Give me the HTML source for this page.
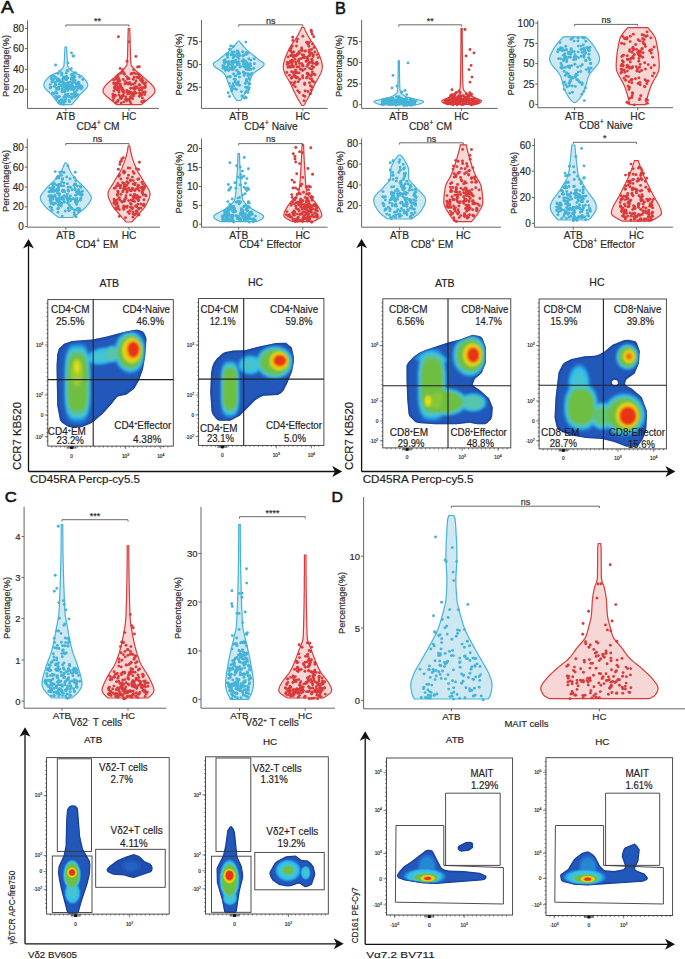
<!DOCTYPE html><html><head><meta charset="utf-8"><style>html,body{margin:0;padding:0;background:#fff;width:685px;height:959px;overflow:hidden}svg text{stroke:#2a2a2a;stroke-width:0.18px}</style></head><body><svg width="685" height="959" viewBox="0 0 685 959" style="position:absolute;left:0;top:0;font-family:'Liberation Sans', sans-serif">
<rect width="685" height="959" fill="#fff"/>
<text x="0" y="0" font-size="16.6" fill="#111" style="stroke:#111;stroke-width:0.55px" transform="translate(0.90 13.4) scale(1.151 1)">A</text>
<text x="0" y="0" font-size="16.8" fill="#111" style="stroke:#111;stroke-width:0.55px" transform="translate(335.00 13.6) scale(0.967 1)">B</text>
<text x="0" y="0" font-size="15.4" fill="#111" style="stroke:#111;stroke-width:0.55px" transform="translate(4.70 502.3) scale(1.082 1)">C</text>
<text x="0" y="0" font-size="15.2" fill="#111" style="stroke:#111;stroke-width:0.55px" transform="translate(331.50 501.5) scale(1.042 1)">D</text>
<path d="M27.5,20.4 L27.5,108.4 L159,108.4" fill="none" stroke="#555" stroke-width="0.9"/>
<line x1="25.0" y1="28.5" x2="27.5" y2="28.5" stroke="#555" stroke-width="0.9"/>
<text x="24.0" y="32.0" font-size="10" text-anchor="end" fill="#2b2b2b" >80</text>
<line x1="25.0" y1="48.6" x2="27.5" y2="48.6" stroke="#555" stroke-width="0.9"/>
<text x="24.0" y="52.1" font-size="10" text-anchor="end" fill="#2b2b2b" >60</text>
<line x1="25.0" y1="69.4" x2="27.5" y2="69.4" stroke="#555" stroke-width="0.9"/>
<text x="24.0" y="72.9" font-size="10" text-anchor="end" fill="#2b2b2b" >40</text>
<line x1="25.0" y1="89.3" x2="27.5" y2="89.3" stroke="#555" stroke-width="0.9"/>
<text x="24.0" y="92.8" font-size="10" text-anchor="end" fill="#2b2b2b" >20</text>
<text x="8.5" y="66.0" font-size="9.3" text-anchor="middle" fill="#2b2b2b" transform="rotate(-90 8.5 66.0)" >Percentage(%)</text>
<line x1="65.8" y1="108.4" x2="65.8" y2="110.9" stroke="#555" stroke-width="0.9"/>
<path d="M65.0,47.0 L65.0,48.0 L64.9,49.0 L64.9,49.9 L64.8,50.9 L64.8,51.9 L64.7,52.9 L64.7,53.8 L64.6,54.8 L64.6,55.8 L64.5,56.8 L64.5,57.8 L64.4,58.7 L64.4,59.7 L64.3,60.7 L64.3,61.7 L64.2,62.6 L64.1,63.6 L64.0,64.6 L63.9,65.6 L63.7,66.6 L63.1,67.5 L62.4,68.5 L61.4,69.5 L60.4,70.5 L59.2,71.4 L57.6,72.4 L55.5,73.4 L53.3,74.4 L51.3,75.4 L49.6,76.3 L48.5,77.3 L47.6,78.3 L46.7,79.3 L45.9,80.3 L45.2,81.2 L44.6,82.2 L44.2,83.2 L43.9,84.2 L43.8,85.1 L44.0,86.1 L44.4,87.1 L45.1,88.1 L45.9,89.1 L46.8,90.0 L47.8,91.0 L48.9,92.0 L49.9,93.0 L50.9,93.9 L51.7,94.9 L52.5,95.9 L53.3,96.9 L54.1,97.9 L54.9,98.8 L55.7,99.8 L56.5,100.8 L57.4,101.8 L58.2,102.7 L59.0,103.7 L59.8,104.7 L71.8,104.7 L72.6,103.7 L73.4,102.7 L74.2,101.8 L75.1,100.8 L75.9,99.8 L76.7,98.8 L77.5,97.9 L78.3,96.9 L79.1,95.9 L79.9,94.9 L80.7,93.9 L81.7,93.0 L82.7,92.0 L83.8,91.0 L84.8,90.0 L85.7,89.1 L86.5,88.1 L87.2,87.1 L87.6,86.1 L87.8,85.1 L87.7,84.2 L87.4,83.2 L87.0,82.2 L86.4,81.2 L85.7,80.3 L84.9,79.3 L84.0,78.3 L83.1,77.3 L82.0,76.3 L80.3,75.4 L78.3,74.4 L76.1,73.4 L74.0,72.4 L72.4,71.4 L71.2,70.5 L70.2,69.5 L69.2,68.5 L68.5,67.5 L67.9,66.6 L67.7,65.6 L67.6,64.6 L67.5,63.6 L67.4,62.6 L67.3,61.7 L67.3,60.7 L67.2,59.7 L67.2,58.7 L67.1,57.8 L67.1,56.8 L67.0,55.8 L67.0,54.8 L66.9,53.8 L66.9,52.9 L66.8,51.9 L66.8,50.9 L66.7,49.9 L66.7,49.0 L66.6,48.0 L66.6,47.0Z" fill="#cde8f1" stroke="#45b3d8" stroke-width="1.2"/>
<g fill="#45b3d8"><circle cx="56.5" cy="88.1" r="1.45"/><circle cx="57.5" cy="97.6" r="1.45"/><circle cx="52.4" cy="92.9" r="1.45"/><circle cx="65.9" cy="79.5" r="1.45"/><circle cx="53.0" cy="80.4" r="1.45"/><circle cx="58.4" cy="96.7" r="1.45"/><circle cx="73.7" cy="56.0" r="1.45"/><circle cx="65.4" cy="94.6" r="1.45"/><circle cx="56.9" cy="93.2" r="1.45"/><circle cx="71.6" cy="85.4" r="1.45"/><circle cx="57.8" cy="80.4" r="1.45"/><circle cx="66.7" cy="79.7" r="1.45"/><circle cx="58.4" cy="79.1" r="1.45"/><circle cx="66.3" cy="83.9" r="1.45"/><circle cx="70.2" cy="85.2" r="1.45"/><circle cx="67.0" cy="86.1" r="1.45"/><circle cx="63.5" cy="104.4" r="1.45"/><circle cx="74.5" cy="92.2" r="1.45"/><circle cx="78.5" cy="88.4" r="1.45"/><circle cx="58.7" cy="102.9" r="1.45"/><circle cx="53.4" cy="79.1" r="1.45"/><circle cx="54.4" cy="76.5" r="1.45"/><circle cx="82.1" cy="87.6" r="1.45"/><circle cx="75.5" cy="72.6" r="1.45"/><circle cx="59.9" cy="71.1" r="1.45"/><circle cx="81.8" cy="86.3" r="1.45"/><circle cx="55.9" cy="85.0" r="1.45"/><circle cx="65.9" cy="98.4" r="1.45"/><circle cx="65.7" cy="87.9" r="1.45"/><circle cx="79.9" cy="85.9" r="1.45"/><circle cx="50.2" cy="84.6" r="1.45"/><circle cx="59.5" cy="80.2" r="1.45"/><circle cx="68.0" cy="62.9" r="1.45"/><circle cx="51.2" cy="78.8" r="1.45"/><circle cx="56.8" cy="89.2" r="1.45"/><circle cx="64.7" cy="78.1" r="1.45"/><circle cx="78.7" cy="82.3" r="1.45"/><circle cx="71.5" cy="52.9" r="1.45"/><circle cx="74.3" cy="94.5" r="1.45"/><circle cx="74.0" cy="77.6" r="1.45"/><circle cx="72.9" cy="80.0" r="1.45"/><circle cx="73.6" cy="97.0" r="1.45"/><circle cx="72.0" cy="86.1" r="1.45"/><circle cx="72.0" cy="94.4" r="1.45"/><circle cx="59.1" cy="89.1" r="1.45"/><circle cx="55.7" cy="92.0" r="1.45"/><circle cx="71.6" cy="74.4" r="1.45"/><circle cx="54.4" cy="86.5" r="1.45"/><circle cx="80.1" cy="85.8" r="1.45"/><circle cx="68.1" cy="96.2" r="1.45"/><circle cx="60.0" cy="81.8" r="1.45"/><circle cx="80.6" cy="87.9" r="1.45"/><circle cx="58.2" cy="73.4" r="1.45"/><circle cx="66.3" cy="83.5" r="1.45"/><circle cx="51.9" cy="82.0" r="1.45"/><circle cx="79.7" cy="76.7" r="1.45"/><circle cx="67.8" cy="94.1" r="1.45"/><circle cx="76.1" cy="83.5" r="1.45"/><circle cx="61.0" cy="103.0" r="1.45"/><circle cx="76.1" cy="86.9" r="1.45"/><circle cx="72.7" cy="87.0" r="1.45"/><circle cx="70.7" cy="88.9" r="1.45"/><circle cx="81.1" cy="89.1" r="1.45"/><circle cx="63.8" cy="77.0" r="1.45"/><circle cx="62.9" cy="84.9" r="1.45"/><circle cx="72.3" cy="79.3" r="1.45"/><circle cx="77.2" cy="82.9" r="1.45"/><circle cx="61.7" cy="75.0" r="1.45"/><circle cx="69.5" cy="101.8" r="1.45"/><circle cx="56.3" cy="78.2" r="1.45"/><circle cx="67.6" cy="89.2" r="1.45"/><circle cx="75.0" cy="80.4" r="1.45"/><circle cx="55.8" cy="96.4" r="1.45"/><circle cx="73.5" cy="89.8" r="1.45"/><circle cx="51.9" cy="76.2" r="1.45"/><circle cx="77.6" cy="94.7" r="1.45"/><circle cx="65.1" cy="100.0" r="1.45"/><circle cx="63.8" cy="97.0" r="1.45"/><circle cx="73.3" cy="86.7" r="1.45"/><circle cx="66.5" cy="76.5" r="1.45"/><circle cx="73.3" cy="78.2" r="1.45"/><circle cx="56.7" cy="98.1" r="1.45"/><circle cx="67.9" cy="87.0" r="1.45"/><circle cx="67.7" cy="77.9" r="1.45"/><circle cx="75.9" cy="96.3" r="1.45"/><circle cx="50.1" cy="88.0" r="1.45"/><circle cx="64.2" cy="87.5" r="1.45"/><circle cx="70.3" cy="82.1" r="1.45"/><circle cx="67.5" cy="83.0" r="1.45"/><circle cx="51.4" cy="78.9" r="1.45"/><circle cx="67.9" cy="70.6" r="1.45"/><circle cx="59.5" cy="96.8" r="1.45"/><circle cx="55.4" cy="84.4" r="1.45"/><circle cx="78.7" cy="86.2" r="1.45"/><circle cx="55.5" cy="82.1" r="1.45"/><circle cx="64.4" cy="91.7" r="1.45"/><circle cx="71.3" cy="68.6" r="1.45"/><circle cx="72.8" cy="82.6" r="1.45"/><circle cx="67.0" cy="70.8" r="1.45"/><circle cx="74.3" cy="75.9" r="1.45"/><circle cx="65.0" cy="101.9" r="1.45"/><circle cx="69.9" cy="88.4" r="1.45"/><circle cx="76.6" cy="84.2" r="1.45"/><circle cx="71.9" cy="86.5" r="1.45"/><circle cx="69.1" cy="96.5" r="1.45"/><circle cx="62.6" cy="82.3" r="1.45"/><circle cx="67.8" cy="87.3" r="1.45"/><circle cx="62.3" cy="89.0" r="1.45"/><circle cx="74.1" cy="82.3" r="1.45"/><circle cx="61.7" cy="86.3" r="1.45"/><circle cx="64.7" cy="91.5" r="1.45"/><circle cx="71.4" cy="97.4" r="1.45"/><circle cx="65.9" cy="77.0" r="1.45"/><circle cx="62.2" cy="99.6" r="1.45"/><circle cx="73.0" cy="56.0" r="1.45"/><circle cx="62.0" cy="91.1" r="1.45"/><circle cx="75.6" cy="93.1" r="1.45"/><circle cx="74.5" cy="77.0" r="1.45"/><circle cx="64.0" cy="84.0" r="1.45"/><circle cx="71.5" cy="94.1" r="1.45"/><circle cx="55.6" cy="65.0" r="1.45"/><circle cx="62.1" cy="89.1" r="1.45"/><circle cx="75.7" cy="93.5" r="1.45"/><circle cx="68.5" cy="86.2" r="1.45"/><circle cx="67.7" cy="90.6" r="1.45"/><circle cx="71.4" cy="79.3" r="1.45"/><circle cx="71.5" cy="77.9" r="1.45"/><circle cx="68.6" cy="82.8" r="1.45"/><circle cx="63.2" cy="78.2" r="1.45"/><circle cx="55.0" cy="82.5" r="1.45"/><circle cx="61.2" cy="100.0" r="1.45"/><circle cx="58.8" cy="86.9" r="1.45"/><circle cx="63.4" cy="81.9" r="1.45"/><circle cx="82.8" cy="79.5" r="1.45"/><circle cx="62.6" cy="100.9" r="1.45"/><circle cx="64.0" cy="84.4" r="1.45"/><circle cx="63.0" cy="102.4" r="1.45"/><circle cx="68.6" cy="85.8" r="1.45"/><circle cx="81.0" cy="86.3" r="1.45"/><circle cx="74.5" cy="97.0" r="1.45"/><circle cx="62.0" cy="91.9" r="1.45"/><circle cx="57.9" cy="87.9" r="1.45"/><circle cx="78.9" cy="83.7" r="1.45"/><circle cx="65.7" cy="95.7" r="1.45"/><circle cx="72.1" cy="84.0" r="1.45"/><circle cx="56.4" cy="99.3" r="1.45"/><circle cx="73.9" cy="73.2" r="1.45"/><circle cx="59.4" cy="84.2" r="1.45"/><circle cx="65.6" cy="86.4" r="1.45"/><circle cx="59.2" cy="100.9" r="1.45"/><circle cx="63.1" cy="79.2" r="1.45"/><circle cx="75.3" cy="92.8" r="1.45"/><circle cx="76.8" cy="90.3" r="1.45"/><circle cx="64.9" cy="90.1" r="1.45"/><circle cx="74.9" cy="87.8" r="1.45"/><circle cx="64.9" cy="101.9" r="1.45"/><circle cx="61.5" cy="81.6" r="1.45"/><circle cx="67.4" cy="83.7" r="1.45"/><circle cx="56.1" cy="78.0" r="1.45"/><circle cx="61.8" cy="73.3" r="1.45"/><circle cx="72.6" cy="78.4" r="1.45"/><circle cx="71.8" cy="98.6" r="1.45"/><circle cx="53.9" cy="94.0" r="1.45"/><circle cx="72.1" cy="75.6" r="1.45"/><circle cx="76.6" cy="87.0" r="1.45"/><circle cx="63.9" cy="84.7" r="1.45"/><circle cx="50.9" cy="87.2" r="1.45"/><circle cx="72.0" cy="89.4" r="1.45"/><circle cx="57.2" cy="81.1" r="1.45"/><circle cx="69.0" cy="100.4" r="1.45"/><circle cx="61.6" cy="85.5" r="1.45"/><circle cx="70.5" cy="89.0" r="1.45"/><circle cx="57.6" cy="89.2" r="1.45"/><circle cx="65.1" cy="77.5" r="1.45"/><circle cx="66.3" cy="73.1" r="1.45"/></g>
<text x="65.8" y="120.3" font-size="10.2" text-anchor="middle" fill="#2b2b2b" >ATB</text>
<line x1="129" y1="108.4" x2="129" y2="110.9" stroke="#555" stroke-width="0.9"/>
<path d="M128.2,28.5 L128.2,29.8 L128.2,31.1 L128.1,32.4 L128.1,33.7 L128.1,35.0 L128.0,36.2 L128.0,37.5 L128.0,38.8 L127.9,40.1 L127.9,41.4 L127.9,42.7 L127.8,44.0 L127.8,45.3 L127.8,46.6 L127.7,47.9 L127.7,49.2 L127.7,50.5 L127.6,51.7 L127.6,53.0 L127.6,54.3 L127.5,55.6 L127.5,56.9 L127.4,58.2 L127.3,59.5 L127.3,60.8 L127.2,62.1 L127.1,63.4 L126.9,64.7 L126.3,66.0 L125.4,67.2 L124.3,68.5 L123.1,69.8 L121.9,71.1 L120.2,72.4 L118.5,73.7 L117.0,75.0 L115.6,76.3 L114.1,77.6 L112.6,78.9 L111.1,80.2 L109.6,81.5 L108.2,82.7 L106.9,84.0 L105.7,85.3 L104.7,86.6 L103.9,87.9 L103.3,89.2 L103.0,90.5 L103.1,91.8 L103.7,93.1 L104.7,94.4 L106.0,95.7 L107.4,97.0 L109.0,98.2 L110.5,99.5 L111.9,100.8 L113.5,102.1 L115.2,103.4 L117.0,104.7 L141.0,104.7 L142.8,103.4 L144.5,102.1 L146.1,100.8 L147.5,99.5 L149.0,98.2 L150.6,97.0 L152.0,95.7 L153.3,94.4 L154.3,93.1 L154.9,91.8 L155.0,90.5 L154.7,89.2 L154.1,87.9 L153.3,86.6 L152.3,85.3 L151.1,84.0 L149.8,82.7 L148.4,81.5 L146.9,80.2 L145.4,78.9 L143.9,77.6 L142.4,76.3 L141.0,75.0 L139.5,73.7 L137.8,72.4 L136.1,71.1 L134.9,69.8 L133.7,68.5 L132.6,67.2 L131.7,66.0 L131.1,64.7 L130.9,63.4 L130.8,62.1 L130.7,60.8 L130.7,59.5 L130.6,58.2 L130.5,56.9 L130.5,55.6 L130.4,54.3 L130.4,53.0 L130.4,51.7 L130.3,50.5 L130.3,49.2 L130.3,47.9 L130.2,46.6 L130.2,45.3 L130.2,44.0 L130.1,42.7 L130.1,41.4 L130.1,40.1 L130.0,38.8 L130.0,37.5 L130.0,36.2 L129.9,35.0 L129.9,33.7 L129.9,32.4 L129.8,31.1 L129.8,29.8 L129.8,28.5Z" fill="#f7d6d6" stroke="#d93a3a" stroke-width="1.2"/>
<g fill="#d93a3a"><circle cx="119.0" cy="92.2" r="1.45"/><circle cx="136.1" cy="81.0" r="1.45"/><circle cx="116.0" cy="102.7" r="1.45"/><circle cx="120.3" cy="84.0" r="1.45"/><circle cx="144.7" cy="84.2" r="1.45"/><circle cx="142.5" cy="82.1" r="1.45"/><circle cx="132.0" cy="73.5" r="1.45"/><circle cx="115.2" cy="87.1" r="1.45"/><circle cx="122.8" cy="95.2" r="1.45"/><circle cx="112.9" cy="94.2" r="1.45"/><circle cx="119.5" cy="81.0" r="1.45"/><circle cx="116.7" cy="77.2" r="1.45"/><circle cx="116.3" cy="84.5" r="1.45"/><circle cx="133.5" cy="95.9" r="1.45"/><circle cx="115.4" cy="88.7" r="1.45"/><circle cx="118.1" cy="100.3" r="1.45"/><circle cx="142.7" cy="92.5" r="1.45"/><circle cx="123.4" cy="92.0" r="1.45"/><circle cx="123.3" cy="95.8" r="1.45"/><circle cx="114.9" cy="95.2" r="1.45"/><circle cx="139.1" cy="84.6" r="1.45"/><circle cx="135.0" cy="83.1" r="1.45"/><circle cx="130.6" cy="88.2" r="1.45"/><circle cx="133.0" cy="88.2" r="1.45"/><circle cx="118.2" cy="77.8" r="1.45"/><circle cx="120.9" cy="87.2" r="1.45"/><circle cx="131.8" cy="92.8" r="1.45"/><circle cx="141.9" cy="78.4" r="1.45"/><circle cx="137.3" cy="77.2" r="1.45"/><circle cx="133.3" cy="79.2" r="1.45"/><circle cx="129.6" cy="82.8" r="1.45"/><circle cx="116.0" cy="102.6" r="1.45"/><circle cx="137.6" cy="67.0" r="1.45"/><circle cx="115.9" cy="79.2" r="1.45"/><circle cx="118.3" cy="78.6" r="1.45"/><circle cx="135.6" cy="88.4" r="1.45"/><circle cx="135.9" cy="56.4" r="1.45"/><circle cx="138.7" cy="88.5" r="1.45"/><circle cx="127.6" cy="79.0" r="1.45"/><circle cx="118.0" cy="82.4" r="1.45"/><circle cx="113.2" cy="96.1" r="1.45"/><circle cx="140.7" cy="80.6" r="1.45"/><circle cx="145.2" cy="92.3" r="1.45"/><circle cx="120.3" cy="86.1" r="1.45"/><circle cx="141.4" cy="87.6" r="1.45"/><circle cx="125.7" cy="96.8" r="1.45"/><circle cx="123.2" cy="79.4" r="1.45"/><circle cx="129.2" cy="100.1" r="1.45"/><circle cx="113.2" cy="100.1" r="1.45"/><circle cx="127.1" cy="92.5" r="1.45"/><circle cx="122.4" cy="71.6" r="1.45"/><circle cx="136.2" cy="93.1" r="1.45"/><circle cx="129.1" cy="91.5" r="1.45"/><circle cx="141.5" cy="95.2" r="1.45"/><circle cx="142.0" cy="80.4" r="1.45"/><circle cx="123.8" cy="101.9" r="1.45"/><circle cx="121.5" cy="98.6" r="1.45"/><circle cx="139.5" cy="76.2" r="1.45"/><circle cx="129.1" cy="83.7" r="1.45"/><circle cx="120.1" cy="68.5" r="1.45"/><circle cx="113.6" cy="97.2" r="1.45"/><circle cx="144.3" cy="100.6" r="1.45"/><circle cx="130.9" cy="103.8" r="1.45"/><circle cx="113.9" cy="91.0" r="1.45"/><circle cx="129.4" cy="92.8" r="1.45"/><circle cx="129.1" cy="93.6" r="1.45"/><circle cx="126.8" cy="90.4" r="1.45"/><circle cx="141.8" cy="101.9" r="1.45"/><circle cx="144.3" cy="91.9" r="1.45"/><circle cx="116.2" cy="84.7" r="1.45"/><circle cx="117.2" cy="90.0" r="1.45"/><circle cx="127.0" cy="61.3" r="1.45"/><circle cx="140.4" cy="94.1" r="1.45"/><circle cx="133.2" cy="94.0" r="1.45"/><circle cx="136.8" cy="86.7" r="1.45"/><circle cx="131.6" cy="97.6" r="1.45"/><circle cx="119.1" cy="95.2" r="1.45"/><circle cx="139.8" cy="85.2" r="1.45"/><circle cx="118.3" cy="75.0" r="1.45"/><circle cx="134.1" cy="77.0" r="1.45"/><circle cx="119.1" cy="80.2" r="1.45"/><circle cx="128.0" cy="84.0" r="1.45"/><circle cx="145.2" cy="87.3" r="1.45"/><circle cx="130.1" cy="101.8" r="1.45"/><circle cx="113.9" cy="83.6" r="1.45"/><circle cx="126.6" cy="99.1" r="1.45"/><circle cx="134.4" cy="94.1" r="1.45"/><circle cx="113.9" cy="97.6" r="1.45"/><circle cx="120.6" cy="86.1" r="1.45"/><circle cx="118.4" cy="36.8" r="1.45"/><circle cx="130.4" cy="96.8" r="1.45"/><circle cx="125.0" cy="81.4" r="1.45"/><circle cx="129.1" cy="78.8" r="1.45"/><circle cx="122.1" cy="96.7" r="1.45"/><circle cx="134.3" cy="92.7" r="1.45"/><circle cx="117.9" cy="81.1" r="1.45"/><circle cx="142.8" cy="82.9" r="1.45"/><circle cx="142.4" cy="101.6" r="1.45"/><circle cx="128.8" cy="83.3" r="1.45"/><circle cx="127.8" cy="94.1" r="1.45"/><circle cx="139.2" cy="78.4" r="1.45"/><circle cx="121.9" cy="96.3" r="1.45"/><circle cx="136.9" cy="77.3" r="1.45"/><circle cx="121.8" cy="89.3" r="1.45"/><circle cx="133.8" cy="69.6" r="1.45"/><circle cx="123.4" cy="90.8" r="1.45"/><circle cx="132.5" cy="98.8" r="1.45"/><circle cx="138.4" cy="74.3" r="1.45"/><circle cx="113.8" cy="83.0" r="1.45"/><circle cx="139.4" cy="96.2" r="1.45"/><circle cx="130.4" cy="92.2" r="1.45"/><circle cx="124.9" cy="84.1" r="1.45"/><circle cx="123.9" cy="92.8" r="1.45"/><circle cx="114.4" cy="87.7" r="1.45"/><circle cx="120.8" cy="98.2" r="1.45"/><circle cx="133.2" cy="84.1" r="1.45"/><circle cx="115.3" cy="95.3" r="1.45"/><circle cx="134.8" cy="92.2" r="1.45"/><circle cx="144.7" cy="94.6" r="1.45"/><circle cx="145.3" cy="85.9" r="1.45"/><circle cx="142.2" cy="93.8" r="1.45"/><circle cx="139.4" cy="93.1" r="1.45"/><circle cx="118.1" cy="86.8" r="1.45"/><circle cx="139.3" cy="66.8" r="1.45"/><circle cx="121.2" cy="102.9" r="1.45"/><circle cx="141.5" cy="94.7" r="1.45"/><circle cx="141.4" cy="80.4" r="1.45"/><circle cx="133.1" cy="94.2" r="1.45"/><circle cx="129.7" cy="83.0" r="1.45"/><circle cx="118.8" cy="88.0" r="1.45"/><circle cx="129.7" cy="98.8" r="1.45"/><circle cx="121.9" cy="87.7" r="1.45"/><circle cx="116.3" cy="83.2" r="1.45"/><circle cx="116.4" cy="84.3" r="1.45"/><circle cx="135.6" cy="73.6" r="1.45"/><circle cx="143.0" cy="80.6" r="1.45"/><circle cx="116.8" cy="83.2" r="1.45"/><circle cx="113.6" cy="79.9" r="1.45"/><circle cx="123.8" cy="72.7" r="1.45"/><circle cx="116.6" cy="88.5" r="1.45"/><circle cx="118.9" cy="80.3" r="1.45"/><circle cx="131.8" cy="94.6" r="1.45"/><circle cx="126.6" cy="100.8" r="1.45"/><circle cx="126.6" cy="82.7" r="1.45"/><circle cx="119.0" cy="90.5" r="1.45"/><circle cx="134.6" cy="89.4" r="1.45"/><circle cx="124.4" cy="74.3" r="1.45"/><circle cx="126.5" cy="76.6" r="1.45"/><circle cx="127.8" cy="99.7" r="1.45"/><circle cx="142.8" cy="87.8" r="1.45"/><circle cx="120.4" cy="97.4" r="1.45"/><circle cx="133.8" cy="72.9" r="1.45"/><circle cx="122.5" cy="90.9" r="1.45"/><circle cx="142.4" cy="98.1" r="1.45"/><circle cx="125.4" cy="99.4" r="1.45"/><circle cx="129.1" cy="41.9" r="1.45"/><circle cx="141.8" cy="89.8" r="1.45"/><circle cx="134.9" cy="86.6" r="1.45"/><circle cx="115.2" cy="96.1" r="1.45"/><circle cx="121.0" cy="73.2" r="1.45"/><circle cx="145.7" cy="82.8" r="1.45"/><circle cx="113.0" cy="97.0" r="1.45"/><circle cx="122.2" cy="88.6" r="1.45"/><circle cx="144.6" cy="87.6" r="1.45"/><circle cx="116.1" cy="102.7" r="1.45"/><circle cx="117.5" cy="83.7" r="1.45"/><circle cx="122.7" cy="69.8" r="1.45"/><circle cx="114.9" cy="86.4" r="1.45"/><circle cx="128.2" cy="78.0" r="1.45"/><circle cx="131.0" cy="74.0" r="1.45"/><circle cx="122.8" cy="90.5" r="1.45"/><circle cx="117.6" cy="101.5" r="1.45"/><circle cx="139.6" cy="90.2" r="1.45"/><circle cx="139.4" cy="93.2" r="1.45"/><circle cx="131.1" cy="84.5" r="1.45"/></g>
<text x="129.0" y="120.3" font-size="10.2" text-anchor="middle" fill="#2b2b2b" >HC</text>
<path d="M65.8,26.8 L65.8,25 L129,25 L129,26.8" fill="none" stroke="#444" stroke-width="0.8"/>
<text x="97.4" y="23.8" font-size="9" text-anchor="middle" fill="#2b2b2b" >**</text>
<path d="M201.5,19.9 L201.5,108.4 L327.6,108.4" fill="none" stroke="#555" stroke-width="0.9"/>
<line x1="199.0" y1="41.7" x2="201.5" y2="41.7" stroke="#555" stroke-width="0.9"/>
<text x="198.0" y="45.2" font-size="10" text-anchor="end" fill="#2b2b2b" >75</text>
<line x1="199.0" y1="64.5" x2="201.5" y2="64.5" stroke="#555" stroke-width="0.9"/>
<text x="198.0" y="68.0" font-size="10" text-anchor="end" fill="#2b2b2b" >50</text>
<line x1="199.0" y1="87.3" x2="201.5" y2="87.3" stroke="#555" stroke-width="0.9"/>
<text x="198.0" y="90.8" font-size="10" text-anchor="end" fill="#2b2b2b" >25</text>
<text x="181.5" y="64.5" font-size="9.3" text-anchor="middle" fill="#2b2b2b" transform="rotate(-90 181.5 64.5)" >Percentage(%)</text>
<line x1="238.7" y1="108.4" x2="238.7" y2="110.9" stroke="#555" stroke-width="0.9"/>
<path d="M238.2,41.0 L237.5,42.0 L236.7,43.0 L235.8,44.0 L235.0,45.0 L234.1,46.0 L233.2,47.1 L232.2,48.1 L231.2,49.1 L230.2,50.1 L229.1,51.1 L228.0,52.1 L226.8,53.1 L225.6,54.1 L224.3,55.1 L223.1,56.1 L221.8,57.1 L220.5,58.1 L219.3,59.2 L217.9,60.2 L216.3,61.2 L214.7,62.2 L213.5,63.2 L213.2,64.2 L213.6,65.2 L214.3,66.2 L215.4,67.2 L216.8,68.2 L218.2,69.2 L219.8,70.2 L221.3,71.3 L222.7,72.3 L223.8,73.3 L224.6,74.3 L225.2,75.3 L225.7,76.3 L226.1,77.3 L226.5,78.3 L226.9,79.3 L227.3,80.3 L227.6,81.3 L227.9,82.3 L228.3,83.4 L228.7,84.4 L229.1,85.4 L229.5,86.4 L229.8,87.4 L230.2,88.4 L230.6,89.4 L231.0,90.4 L231.4,91.4 L231.8,92.4 L232.3,93.4 L232.8,94.4 L233.3,95.5 L233.9,96.5 L234.6,97.5 L235.3,98.5 L236.0,99.5 L236.7,100.5 L240.7,100.5 L241.4,99.5 L242.1,98.5 L242.8,97.5 L243.5,96.5 L244.1,95.5 L244.6,94.4 L245.1,93.4 L245.6,92.4 L246.0,91.4 L246.4,90.4 L246.8,89.4 L247.2,88.4 L247.6,87.4 L247.9,86.4 L248.3,85.4 L248.7,84.4 L249.1,83.4 L249.5,82.3 L249.8,81.3 L250.1,80.3 L250.5,79.3 L250.9,78.3 L251.3,77.3 L251.7,76.3 L252.2,75.3 L252.8,74.3 L253.6,73.3 L254.7,72.3 L256.1,71.3 L257.6,70.2 L259.2,69.2 L260.6,68.2 L262.0,67.2 L263.1,66.2 L263.8,65.2 L264.2,64.2 L263.9,63.2 L262.7,62.2 L261.1,61.2 L259.5,60.2 L258.1,59.2 L256.9,58.1 L255.6,57.1 L254.3,56.1 L253.1,55.1 L251.8,54.1 L250.6,53.1 L249.4,52.1 L248.3,51.1 L247.2,50.1 L246.2,49.1 L245.2,48.1 L244.2,47.1 L243.3,46.0 L242.4,45.0 L241.6,44.0 L240.7,43.0 L239.9,42.0 L239.2,41.0Z" fill="#cde8f1" stroke="#45b3d8" stroke-width="1.2"/>
<g fill="#45b3d8"><circle cx="237.6" cy="56.5" r="1.45"/><circle cx="229.7" cy="68.1" r="1.45"/><circle cx="248.9" cy="69.6" r="1.45"/><circle cx="249.5" cy="65.5" r="1.45"/><circle cx="248.5" cy="83.1" r="1.45"/><circle cx="250.3" cy="63.6" r="1.45"/><circle cx="243.7" cy="66.4" r="1.45"/><circle cx="230.9" cy="54.7" r="1.45"/><circle cx="249.7" cy="68.7" r="1.45"/><circle cx="244.2" cy="75.5" r="1.45"/><circle cx="245.3" cy="73.3" r="1.45"/><circle cx="245.4" cy="61.2" r="1.45"/><circle cx="246.0" cy="97.4" r="1.45"/><circle cx="233.5" cy="73.9" r="1.45"/><circle cx="244.6" cy="64.9" r="1.45"/><circle cx="239.3" cy="63.7" r="1.45"/><circle cx="234.9" cy="76.1" r="1.45"/><circle cx="233.1" cy="58.0" r="1.45"/><circle cx="227.0" cy="69.5" r="1.45"/><circle cx="238.5" cy="73.5" r="1.45"/><circle cx="234.2" cy="67.2" r="1.45"/><circle cx="237.0" cy="83.5" r="1.45"/><circle cx="250.7" cy="65.8" r="1.45"/><circle cx="244.9" cy="64.9" r="1.45"/><circle cx="244.8" cy="60.9" r="1.45"/><circle cx="249.3" cy="87.7" r="1.45"/><circle cx="229.1" cy="61.6" r="1.45"/><circle cx="238.9" cy="72.5" r="1.45"/><circle cx="224.8" cy="63.5" r="1.45"/><circle cx="236.3" cy="89.4" r="1.45"/><circle cx="248.6" cy="89.7" r="1.45"/><circle cx="229.6" cy="49.2" r="1.45"/><circle cx="244.4" cy="98.0" r="1.45"/><circle cx="251.1" cy="69.5" r="1.45"/><circle cx="238.9" cy="53.8" r="1.45"/><circle cx="248.8" cy="66.7" r="1.45"/><circle cx="237.4" cy="51.0" r="1.45"/><circle cx="233.7" cy="66.9" r="1.45"/><circle cx="238.9" cy="58.6" r="1.45"/><circle cx="228.3" cy="64.1" r="1.45"/><circle cx="232.2" cy="61.1" r="1.45"/><circle cx="232.1" cy="69.5" r="1.45"/><circle cx="249.4" cy="79.0" r="1.45"/><circle cx="235.1" cy="88.8" r="1.45"/><circle cx="229.5" cy="62.5" r="1.45"/><circle cx="253.7" cy="68.3" r="1.45"/><circle cx="230.7" cy="46.0" r="1.45"/><circle cx="254.5" cy="63.8" r="1.45"/><circle cx="246.5" cy="91.5" r="1.45"/><circle cx="242.8" cy="56.0" r="1.45"/><circle cx="237.1" cy="82.9" r="1.45"/><circle cx="228.6" cy="70.5" r="1.45"/><circle cx="225.3" cy="61.4" r="1.45"/><circle cx="229.6" cy="76.8" r="1.45"/><circle cx="233.6" cy="61.1" r="1.45"/><circle cx="236.7" cy="84.4" r="1.45"/><circle cx="248.0" cy="53.1" r="1.45"/><circle cx="239.7" cy="55.5" r="1.45"/><circle cx="250.9" cy="74.8" r="1.45"/><circle cx="246.2" cy="65.7" r="1.45"/><circle cx="227.7" cy="57.4" r="1.45"/><circle cx="240.5" cy="66.4" r="1.45"/><circle cx="227.1" cy="61.9" r="1.45"/><circle cx="223.0" cy="68.2" r="1.45"/><circle cx="249.8" cy="74.6" r="1.45"/><circle cx="235.1" cy="81.9" r="1.45"/><circle cx="231.9" cy="51.9" r="1.45"/><circle cx="225.2" cy="69.0" r="1.45"/><circle cx="242.0" cy="96.0" r="1.45"/><circle cx="237.4" cy="64.9" r="1.45"/><circle cx="227.5" cy="76.9" r="1.45"/><circle cx="244.1" cy="54.8" r="1.45"/><circle cx="233.3" cy="83.7" r="1.45"/><circle cx="248.2" cy="68.7" r="1.45"/><circle cx="238.4" cy="85.0" r="1.45"/><circle cx="239.5" cy="77.0" r="1.45"/><circle cx="237.8" cy="83.2" r="1.45"/><circle cx="242.6" cy="51.7" r="1.45"/><circle cx="251.8" cy="73.4" r="1.45"/><circle cx="248.8" cy="59.0" r="1.45"/><circle cx="224.0" cy="60.4" r="1.45"/><circle cx="238.5" cy="61.6" r="1.45"/><circle cx="229.7" cy="69.2" r="1.45"/><circle cx="225.4" cy="70.4" r="1.45"/><circle cx="232.0" cy="88.5" r="1.45"/><circle cx="233.2" cy="46.5" r="1.45"/><circle cx="254.3" cy="58.8" r="1.45"/><circle cx="247.0" cy="62.6" r="1.45"/><circle cx="246.5" cy="79.4" r="1.45"/><circle cx="245.5" cy="67.8" r="1.45"/><circle cx="232.4" cy="66.8" r="1.45"/><circle cx="236.1" cy="75.7" r="1.45"/><circle cx="236.7" cy="70.4" r="1.45"/><circle cx="231.7" cy="61.8" r="1.45"/><circle cx="236.9" cy="53.9" r="1.45"/><circle cx="247.9" cy="65.8" r="1.45"/><circle cx="229.4" cy="83.4" r="1.45"/><circle cx="231.1" cy="68.4" r="1.45"/><circle cx="238.2" cy="51.7" r="1.45"/><circle cx="244.7" cy="65.2" r="1.45"/><circle cx="243.7" cy="64.3" r="1.45"/><circle cx="246.3" cy="69.2" r="1.45"/><circle cx="225.3" cy="67.9" r="1.45"/><circle cx="231.7" cy="90.9" r="1.45"/><circle cx="232.2" cy="62.2" r="1.45"/><circle cx="231.3" cy="64.6" r="1.45"/><circle cx="247.4" cy="69.3" r="1.45"/><circle cx="249.6" cy="84.0" r="1.45"/><circle cx="243.7" cy="72.9" r="1.45"/><circle cx="222.8" cy="65.8" r="1.45"/><circle cx="234.2" cy="79.3" r="1.45"/><circle cx="249.0" cy="66.3" r="1.45"/><circle cx="248.0" cy="92.4" r="1.45"/><circle cx="241.9" cy="61.1" r="1.45"/><circle cx="234.4" cy="56.3" r="1.45"/><circle cx="235.5" cy="79.8" r="1.45"/><circle cx="243.2" cy="61.9" r="1.45"/><circle cx="246.7" cy="81.2" r="1.45"/><circle cx="233.3" cy="69.4" r="1.45"/><circle cx="228.2" cy="65.9" r="1.45"/><circle cx="227.1" cy="54.0" r="1.45"/><circle cx="230.4" cy="76.8" r="1.45"/><circle cx="246.4" cy="52.4" r="1.45"/><circle cx="241.4" cy="91.6" r="1.45"/><circle cx="249.5" cy="83.8" r="1.45"/><circle cx="224.1" cy="62.5" r="1.45"/><circle cx="235.0" cy="55.8" r="1.45"/><circle cx="245.2" cy="83.5" r="1.45"/><circle cx="244.2" cy="66.1" r="1.45"/><circle cx="227.3" cy="55.3" r="1.45"/><circle cx="235.3" cy="67.0" r="1.45"/><circle cx="243.4" cy="59.6" r="1.45"/><circle cx="245.1" cy="64.0" r="1.45"/><circle cx="237.1" cy="70.4" r="1.45"/><circle cx="231.8" cy="86.2" r="1.45"/><circle cx="249.1" cy="77.8" r="1.45"/><circle cx="237.7" cy="57.0" r="1.45"/><circle cx="246.1" cy="66.2" r="1.45"/><circle cx="239.9" cy="67.0" r="1.45"/><circle cx="229.5" cy="96.4" r="1.45"/><circle cx="232.3" cy="54.4" r="1.45"/><circle cx="223.8" cy="66.1" r="1.45"/><circle cx="231.9" cy="86.8" r="1.45"/><circle cx="228.5" cy="64.0" r="1.45"/><circle cx="235.8" cy="60.3" r="1.45"/><circle cx="232.6" cy="68.4" r="1.45"/><circle cx="234.0" cy="62.6" r="1.45"/><circle cx="245.7" cy="87.2" r="1.45"/><circle cx="228.0" cy="53.5" r="1.45"/><circle cx="225.2" cy="59.6" r="1.45"/><circle cx="246.3" cy="54.6" r="1.45"/><circle cx="239.6" cy="73.4" r="1.45"/><circle cx="236.6" cy="62.2" r="1.45"/><circle cx="233.6" cy="86.1" r="1.45"/><circle cx="239.6" cy="85.2" r="1.45"/><circle cx="232.6" cy="89.1" r="1.45"/><circle cx="250.9" cy="60.1" r="1.45"/><circle cx="245.8" cy="42.1" r="1.45"/><circle cx="232.6" cy="64.0" r="1.45"/><circle cx="228.2" cy="92.7" r="1.45"/><circle cx="248.0" cy="75.6" r="1.45"/><circle cx="234.3" cy="52.0" r="1.45"/><circle cx="243.3" cy="72.0" r="1.45"/><circle cx="246.6" cy="87.2" r="1.45"/><circle cx="245.3" cy="92.7" r="1.45"/><circle cx="248.1" cy="73.8" r="1.45"/><circle cx="238.5" cy="81.9" r="1.45"/><circle cx="246.2" cy="81.1" r="1.45"/><circle cx="237.4" cy="63.3" r="1.45"/><circle cx="232.9" cy="54.5" r="1.45"/><circle cx="238.2" cy="73.5" r="1.45"/><circle cx="234.0" cy="56.2" r="1.45"/><circle cx="247.8" cy="64.1" r="1.45"/><circle cx="246.0" cy="97.9" r="1.45"/><circle cx="226.5" cy="67.2" r="1.45"/></g>
<text x="238.7" y="120.3" font-size="10.2" text-anchor="middle" fill="#2b2b2b" >ATB</text>
<line x1="302.8" y1="108.4" x2="302.8" y2="110.9" stroke="#555" stroke-width="0.9"/>
<path d="M301.8,27.3 L301.2,28.6 L300.6,30.0 L299.9,31.3 L299.3,32.6 L298.6,33.9 L297.9,35.3 L297.1,36.6 L296.4,37.9 L295.5,39.2 L294.6,40.6 L293.7,41.9 L292.7,43.2 L291.8,44.5 L290.9,45.9 L290.1,47.2 L289.3,48.5 L288.7,49.8 L288.1,51.2 L287.5,52.5 L286.9,53.8 L286.4,55.1 L285.8,56.5 L285.3,57.8 L284.8,59.1 L284.4,60.4 L284.0,61.8 L283.7,63.1 L283.5,64.4 L283.3,65.7 L283.3,67.1 L283.4,68.4 L283.6,69.7 L284.0,71.0 L284.5,72.4 L285.0,73.7 L285.7,75.0 L286.4,76.3 L287.1,77.7 L287.9,79.0 L288.7,80.3 L289.4,81.6 L290.1,83.0 L290.8,84.3 L291.4,85.6 L292.0,86.9 L292.6,88.3 L293.2,89.6 L293.8,90.9 L294.5,92.2 L295.1,93.6 L295.8,94.9 L296.5,96.2 L297.2,97.5 L297.9,98.9 L298.7,100.2 L299.4,101.5 L300.2,102.8 L301.0,104.2 L301.8,105.5 L303.8,105.5 L304.6,104.2 L305.4,102.8 L306.2,101.5 L306.9,100.2 L307.7,98.9 L308.4,97.5 L309.1,96.2 L309.8,94.9 L310.5,93.6 L311.1,92.2 L311.8,90.9 L312.4,89.6 L313.0,88.3 L313.6,86.9 L314.2,85.6 L314.8,84.3 L315.5,83.0 L316.2,81.6 L316.9,80.3 L317.7,79.0 L318.5,77.7 L319.2,76.3 L319.9,75.0 L320.6,73.7 L321.1,72.4 L321.6,71.0 L322.0,69.7 L322.2,68.4 L322.3,67.1 L322.3,65.7 L322.1,64.4 L321.9,63.1 L321.6,61.8 L321.2,60.4 L320.8,59.1 L320.3,57.8 L319.8,56.5 L319.2,55.1 L318.7,53.8 L318.1,52.5 L317.5,51.2 L316.9,49.8 L316.3,48.5 L315.5,47.2 L314.7,45.9 L313.8,44.5 L312.9,43.2 L311.9,41.9 L311.0,40.6 L310.1,39.2 L309.2,37.9 L308.5,36.6 L307.7,35.3 L307.0,33.9 L306.3,32.6 L305.7,31.3 L305.0,30.0 L304.4,28.6 L303.8,27.3Z" fill="#f7d6d6" stroke="#d93a3a" stroke-width="1.2"/>
<g fill="#d93a3a"><circle cx="290.6" cy="51.0" r="1.45"/><circle cx="295.7" cy="62.1" r="1.45"/><circle cx="302.4" cy="65.2" r="1.45"/><circle cx="310.5" cy="93.5" r="1.45"/><circle cx="297.7" cy="90.8" r="1.45"/><circle cx="309.9" cy="94.0" r="1.45"/><circle cx="295.1" cy="75.6" r="1.45"/><circle cx="296.3" cy="72.7" r="1.45"/><circle cx="304.5" cy="57.0" r="1.45"/><circle cx="307.9" cy="60.0" r="1.45"/><circle cx="311.2" cy="30.2" r="1.45"/><circle cx="312.2" cy="81.1" r="1.45"/><circle cx="295.3" cy="55.7" r="1.45"/><circle cx="308.2" cy="44.3" r="1.45"/><circle cx="307.0" cy="57.6" r="1.45"/><circle cx="299.1" cy="59.3" r="1.45"/><circle cx="311.1" cy="75.8" r="1.45"/><circle cx="311.5" cy="32.0" r="1.45"/><circle cx="302.2" cy="54.7" r="1.45"/><circle cx="312.0" cy="87.0" r="1.45"/><circle cx="294.3" cy="82.9" r="1.45"/><circle cx="291.6" cy="71.8" r="1.45"/><circle cx="311.8" cy="69.1" r="1.45"/><circle cx="297.2" cy="54.0" r="1.45"/><circle cx="304.7" cy="84.5" r="1.45"/><circle cx="302.7" cy="77.9" r="1.45"/><circle cx="290.8" cy="67.2" r="1.45"/><circle cx="309.3" cy="50.0" r="1.45"/><circle cx="309.5" cy="52.7" r="1.45"/><circle cx="290.8" cy="61.8" r="1.45"/><circle cx="295.0" cy="59.3" r="1.45"/><circle cx="309.4" cy="42.2" r="1.45"/><circle cx="316.8" cy="62.3" r="1.45"/><circle cx="315.4" cy="63.6" r="1.45"/><circle cx="302.9" cy="57.8" r="1.45"/><circle cx="298.4" cy="61.1" r="1.45"/><circle cx="301.0" cy="58.6" r="1.45"/><circle cx="292.1" cy="60.3" r="1.45"/><circle cx="302.7" cy="70.6" r="1.45"/><circle cx="293.7" cy="66.7" r="1.45"/><circle cx="293.7" cy="51.9" r="1.45"/><circle cx="299.6" cy="79.2" r="1.45"/><circle cx="288.0" cy="67.3" r="1.45"/><circle cx="301.8" cy="63.6" r="1.45"/><circle cx="308.9" cy="74.6" r="1.45"/><circle cx="307.1" cy="77.4" r="1.45"/><circle cx="314.0" cy="82.1" r="1.45"/><circle cx="312.4" cy="80.9" r="1.45"/><circle cx="307.1" cy="73.5" r="1.45"/><circle cx="315.1" cy="74.7" r="1.45"/><circle cx="301.4" cy="50.2" r="1.45"/><circle cx="312.2" cy="74.4" r="1.45"/><circle cx="296.3" cy="55.8" r="1.45"/><circle cx="303.6" cy="55.2" r="1.45"/><circle cx="314.0" cy="47.5" r="1.45"/><circle cx="306.1" cy="61.4" r="1.45"/><circle cx="302.9" cy="36.2" r="1.45"/><circle cx="312.4" cy="71.9" r="1.45"/><circle cx="297.4" cy="77.3" r="1.45"/><circle cx="311.7" cy="78.9" r="1.45"/><circle cx="291.3" cy="48.0" r="1.45"/><circle cx="294.1" cy="72.1" r="1.45"/><circle cx="295.1" cy="82.0" r="1.45"/><circle cx="297.5" cy="39.1" r="1.45"/><circle cx="314.9" cy="52.0" r="1.45"/><circle cx="288.1" cy="56.9" r="1.45"/><circle cx="296.0" cy="64.3" r="1.45"/><circle cx="304.8" cy="51.1" r="1.45"/><circle cx="309.7" cy="68.4" r="1.45"/><circle cx="311.7" cy="59.3" r="1.45"/><circle cx="299.0" cy="72.9" r="1.45"/><circle cx="293.3" cy="66.7" r="1.45"/><circle cx="313.9" cy="74.1" r="1.45"/><circle cx="291.5" cy="55.4" r="1.45"/><circle cx="289.5" cy="75.3" r="1.45"/><circle cx="295.0" cy="76.9" r="1.45"/><circle cx="302.6" cy="75.7" r="1.45"/><circle cx="312.5" cy="44.1" r="1.45"/><circle cx="307.8" cy="91.4" r="1.45"/><circle cx="305.0" cy="69.1" r="1.45"/><circle cx="303.4" cy="55.8" r="1.45"/><circle cx="309.4" cy="62.7" r="1.45"/><circle cx="307.1" cy="66.6" r="1.45"/><circle cx="297.2" cy="67.0" r="1.45"/><circle cx="290.6" cy="55.6" r="1.45"/><circle cx="294.0" cy="55.1" r="1.45"/><circle cx="312.3" cy="61.1" r="1.45"/><circle cx="306.5" cy="78.0" r="1.45"/><circle cx="312.9" cy="63.2" r="1.45"/><circle cx="292.8" cy="40.4" r="1.45"/><circle cx="316.4" cy="64.8" r="1.45"/><circle cx="299.5" cy="53.0" r="1.45"/><circle cx="312.2" cy="34.3" r="1.45"/><circle cx="304.9" cy="96.4" r="1.45"/><circle cx="304.3" cy="57.8" r="1.45"/><circle cx="313.6" cy="67.2" r="1.45"/><circle cx="307.0" cy="60.7" r="1.45"/><circle cx="306.6" cy="42.3" r="1.45"/><circle cx="295.3" cy="86.8" r="1.45"/><circle cx="305.1" cy="91.0" r="1.45"/><circle cx="299.0" cy="51.6" r="1.45"/><circle cx="288.4" cy="63.2" r="1.45"/><circle cx="290.5" cy="61.0" r="1.45"/><circle cx="302.3" cy="50.4" r="1.45"/><circle cx="295.0" cy="72.6" r="1.45"/><circle cx="310.0" cy="78.6" r="1.45"/><circle cx="292.0" cy="77.3" r="1.45"/><circle cx="286.8" cy="72.5" r="1.45"/><circle cx="313.7" cy="36.7" r="1.45"/><circle cx="297.3" cy="54.9" r="1.45"/><circle cx="303.1" cy="66.0" r="1.45"/><circle cx="293.9" cy="75.2" r="1.45"/><circle cx="293.0" cy="61.5" r="1.45"/><circle cx="299.5" cy="63.4" r="1.45"/><circle cx="309.5" cy="82.7" r="1.45"/><circle cx="292.7" cy="37.2" r="1.45"/><circle cx="313.1" cy="56.5" r="1.45"/><circle cx="318.2" cy="57.6" r="1.45"/><circle cx="304.1" cy="100.7" r="1.45"/><circle cx="298.8" cy="53.4" r="1.45"/><circle cx="296.9" cy="41.5" r="1.45"/><circle cx="292.0" cy="63.1" r="1.45"/><circle cx="297.0" cy="72.8" r="1.45"/><circle cx="311.6" cy="49.5" r="1.45"/><circle cx="291.3" cy="82.6" r="1.45"/><circle cx="310.8" cy="53.0" r="1.45"/><circle cx="308.1" cy="74.3" r="1.45"/><circle cx="290.4" cy="50.3" r="1.45"/><circle cx="293.3" cy="85.0" r="1.45"/><circle cx="309.1" cy="51.8" r="1.45"/><circle cx="308.1" cy="75.5" r="1.45"/><circle cx="298.3" cy="81.7" r="1.45"/><circle cx="313.4" cy="54.9" r="1.45"/><circle cx="296.4" cy="46.0" r="1.45"/><circle cx="300.3" cy="69.3" r="1.45"/><circle cx="289.7" cy="66.2" r="1.45"/><circle cx="307.8" cy="64.8" r="1.45"/><circle cx="291.4" cy="78.2" r="1.45"/><circle cx="291.9" cy="64.9" r="1.45"/><circle cx="311.9" cy="65.9" r="1.45"/><circle cx="302.8" cy="65.7" r="1.45"/><circle cx="308.3" cy="64.0" r="1.45"/><circle cx="310.8" cy="62.3" r="1.45"/><circle cx="305.6" cy="50.9" r="1.45"/><circle cx="293.4" cy="57.1" r="1.45"/><circle cx="308.8" cy="55.9" r="1.45"/><circle cx="291.4" cy="55.4" r="1.45"/><circle cx="296.4" cy="78.0" r="1.45"/><circle cx="301.6" cy="48.0" r="1.45"/><circle cx="292.1" cy="52.8" r="1.45"/><circle cx="289.4" cy="66.7" r="1.45"/><circle cx="307.7" cy="58.7" r="1.45"/><circle cx="310.0" cy="55.2" r="1.45"/><circle cx="298.5" cy="61.0" r="1.45"/><circle cx="299.1" cy="66.8" r="1.45"/><circle cx="293.2" cy="72.5" r="1.45"/><circle cx="303.3" cy="95.5" r="1.45"/><circle cx="304.6" cy="83.3" r="1.45"/><circle cx="317.5" cy="63.8" r="1.45"/><circle cx="287.2" cy="64.4" r="1.45"/><circle cx="316.7" cy="62.7" r="1.45"/><circle cx="317.1" cy="54.6" r="1.45"/><circle cx="299.4" cy="92.5" r="1.45"/><circle cx="307.8" cy="43.5" r="1.45"/><circle cx="312.0" cy="53.4" r="1.45"/><circle cx="307.7" cy="73.1" r="1.45"/><circle cx="295.6" cy="70.0" r="1.45"/><circle cx="306.6" cy="57.4" r="1.45"/><circle cx="311.1" cy="89.9" r="1.45"/><circle cx="289.4" cy="62.8" r="1.45"/><circle cx="302.1" cy="69.8" r="1.45"/><circle cx="292.3" cy="45.9" r="1.45"/><circle cx="310.4" cy="85.8" r="1.45"/><circle cx="308.9" cy="46.3" r="1.45"/><circle cx="287.4" cy="62.3" r="1.45"/></g>
<text x="302.8" y="120.3" font-size="10.2" text-anchor="middle" fill="#2b2b2b" >HC</text>
<path d="M238.7,26.6 L238.7,24.8 L302.8,24.8 L302.8,26.6" fill="none" stroke="#444" stroke-width="0.8"/>
<text x="270.8" y="23.6" font-size="9" text-anchor="middle" fill="#2b2b2b" >ns</text>
<path d="M361.6,19.9 L361.6,108.4 L497.6,108.4" fill="none" stroke="#555" stroke-width="0.9"/>
<line x1="359.1" y1="41.7" x2="361.6" y2="41.7" stroke="#555" stroke-width="0.9"/>
<text x="358.1" y="45.2" font-size="10" text-anchor="end" fill="#2b2b2b" >75</text>
<line x1="359.1" y1="62.5" x2="361.6" y2="62.5" stroke="#555" stroke-width="0.9"/>
<text x="358.1" y="66.0" font-size="10" text-anchor="end" fill="#2b2b2b" >50</text>
<line x1="359.1" y1="83.9" x2="361.6" y2="83.9" stroke="#555" stroke-width="0.9"/>
<text x="358.1" y="87.4" font-size="10" text-anchor="end" fill="#2b2b2b" >25</text>
<line x1="359.1" y1="104.7" x2="361.6" y2="104.7" stroke="#555" stroke-width="0.9"/>
<text x="358.1" y="108.2" font-size="10" text-anchor="end" fill="#2b2b2b" >0</text>
<text x="342.0" y="66.0" font-size="9.3" text-anchor="middle" fill="#2b2b2b" transform="rotate(-90 342.0 66.0)" >Percentage(%)</text>
<line x1="398.8" y1="108.4" x2="398.8" y2="110.9" stroke="#555" stroke-width="0.9"/>
<path d="M398.2,60.8 L398.2,61.5 L398.2,62.3 L398.2,63.0 L398.2,63.8 L398.2,64.5 L398.2,65.3 L398.2,66.0 L398.2,66.8 L398.2,67.5 L398.2,68.3 L398.2,69.0 L398.2,69.8 L398.1,70.5 L398.1,71.3 L398.1,72.0 L398.1,72.8 L398.1,73.5 L398.1,74.3 L398.1,75.0 L398.1,75.8 L398.1,76.5 L398.0,77.3 L398.0,78.0 L398.0,78.8 L398.0,79.5 L398.0,80.3 L398.0,81.0 L398.0,81.8 L397.9,82.5 L397.9,83.3 L397.9,84.0 L397.9,84.8 L397.8,85.5 L397.8,86.3 L397.8,87.0 L397.7,87.8 L397.7,88.5 L397.6,89.3 L397.5,90.0 L397.4,90.8 L397.4,91.5 L397.2,92.3 L396.8,93.0 L396.1,93.8 L395.2,94.5 L394.0,95.3 L392.8,96.0 L391.0,96.8 L388.4,97.5 L385.6,98.3 L382.8,99.0 L379.6,99.8 L376.1,100.5 L374.0,101.3 L374.1,102.0 L375.2,102.8 L376.8,103.5 L379.3,104.3 L382.8,105.0 L414.8,105.0 L418.3,104.3 L420.8,103.5 L422.4,102.8 L423.5,102.0 L423.6,101.3 L421.5,100.5 L418.0,99.8 L414.8,99.0 L412.0,98.3 L409.2,97.5 L406.6,96.8 L404.8,96.0 L403.6,95.3 L402.4,94.5 L401.5,93.8 L400.8,93.0 L400.4,92.3 L400.2,91.5 L400.2,90.8 L400.1,90.0 L400.0,89.3 L399.9,88.5 L399.9,87.8 L399.8,87.0 L399.8,86.3 L399.8,85.5 L399.7,84.8 L399.7,84.0 L399.7,83.3 L399.7,82.5 L399.6,81.8 L399.6,81.0 L399.6,80.3 L399.6,79.5 L399.6,78.8 L399.6,78.0 L399.6,77.3 L399.5,76.5 L399.5,75.8 L399.5,75.0 L399.5,74.3 L399.5,73.5 L399.5,72.8 L399.5,72.0 L399.5,71.3 L399.5,70.5 L399.4,69.8 L399.4,69.0 L399.4,68.3 L399.4,67.5 L399.4,66.8 L399.4,66.0 L399.4,65.3 L399.4,64.5 L399.4,63.8 L399.4,63.0 L399.4,62.3 L399.4,61.5 L399.4,60.8Z" fill="#cde8f1" stroke="#45b3d8" stroke-width="1.2"/>
<g fill="#45b3d8"><circle cx="389.2" cy="103.3" r="1.45"/><circle cx="410.1" cy="102.0" r="1.45"/><circle cx="400.5" cy="98.5" r="1.45"/><circle cx="404.5" cy="102.2" r="1.45"/><circle cx="410.8" cy="102.9" r="1.45"/><circle cx="395.6" cy="100.4" r="1.45"/><circle cx="413.1" cy="100.9" r="1.45"/><circle cx="410.4" cy="104.8" r="1.45"/><circle cx="409.3" cy="101.7" r="1.45"/><circle cx="394.7" cy="102.1" r="1.45"/><circle cx="399.4" cy="98.0" r="1.45"/><circle cx="387.9" cy="99.6" r="1.45"/><circle cx="407.6" cy="103.0" r="1.45"/><circle cx="412.1" cy="103.0" r="1.45"/><circle cx="387.3" cy="102.9" r="1.45"/><circle cx="407.1" cy="102.6" r="1.45"/><circle cx="405.4" cy="102.1" r="1.45"/><circle cx="383.0" cy="101.4" r="1.45"/><circle cx="413.0" cy="103.6" r="1.45"/><circle cx="398.1" cy="101.1" r="1.45"/><circle cx="391.0" cy="101.4" r="1.45"/><circle cx="382.8" cy="102.1" r="1.45"/><circle cx="408.4" cy="102.4" r="1.45"/><circle cx="393.3" cy="100.7" r="1.45"/><circle cx="399.1" cy="96.6" r="1.45"/><circle cx="389.0" cy="99.5" r="1.45"/><circle cx="401.9" cy="99.0" r="1.45"/><circle cx="395.3" cy="104.0" r="1.45"/><circle cx="409.2" cy="102.5" r="1.45"/><circle cx="404.5" cy="102.9" r="1.45"/><circle cx="406.3" cy="101.6" r="1.45"/><circle cx="393.0" cy="98.2" r="1.45"/><circle cx="384.0" cy="101.0" r="1.45"/><circle cx="411.7" cy="103.1" r="1.45"/><circle cx="413.6" cy="102.1" r="1.45"/><circle cx="403.7" cy="101.9" r="1.45"/><circle cx="413.1" cy="101.0" r="1.45"/><circle cx="405.0" cy="99.2" r="1.45"/><circle cx="402.4" cy="101.9" r="1.45"/><circle cx="396.0" cy="102.3" r="1.45"/><circle cx="393.9" cy="100.9" r="1.45"/><circle cx="398.4" cy="100.6" r="1.45"/><circle cx="389.4" cy="103.0" r="1.45"/><circle cx="396.3" cy="101.2" r="1.45"/><circle cx="399.1" cy="101.6" r="1.45"/><circle cx="382.9" cy="99.7" r="1.45"/><circle cx="395.2" cy="103.0" r="1.45"/><circle cx="391.5" cy="100.5" r="1.45"/><circle cx="403.4" cy="100.8" r="1.45"/><circle cx="408.1" cy="104.9" r="1.45"/><circle cx="402.7" cy="103.0" r="1.45"/><circle cx="404.4" cy="102.8" r="1.45"/><circle cx="402.7" cy="100.2" r="1.45"/><circle cx="390.5" cy="104.0" r="1.45"/><circle cx="394.6" cy="101.2" r="1.45"/><circle cx="410.5" cy="104.4" r="1.45"/><circle cx="412.6" cy="104.8" r="1.45"/><circle cx="388.0" cy="103.2" r="1.45"/><circle cx="382.2" cy="104.2" r="1.45"/><circle cx="414.5" cy="102.4" r="1.45"/><circle cx="411.0" cy="102.9" r="1.45"/><circle cx="401.8" cy="98.8" r="1.45"/><circle cx="407.5" cy="105.1" r="1.45"/><circle cx="402.0" cy="102.8" r="1.45"/><circle cx="412.1" cy="99.5" r="1.45"/><circle cx="390.4" cy="99.5" r="1.45"/><circle cx="396.9" cy="101.2" r="1.45"/><circle cx="404.6" cy="103.5" r="1.45"/><circle cx="390.2" cy="99.2" r="1.45"/><circle cx="405.2" cy="104.9" r="1.45"/><circle cx="390.7" cy="101.3" r="1.45"/><circle cx="403.8" cy="105.5" r="1.45"/><circle cx="409.1" cy="103.2" r="1.45"/><circle cx="396.2" cy="102.1" r="1.45"/><circle cx="415.5" cy="101.3" r="1.45"/><circle cx="403.0" cy="99.5" r="1.45"/><circle cx="406.6" cy="99.2" r="1.45"/><circle cx="382.5" cy="101.6" r="1.45"/><circle cx="385.6" cy="102.7" r="1.45"/><circle cx="406.0" cy="103.9" r="1.45"/><circle cx="413.9" cy="100.6" r="1.45"/><circle cx="403.2" cy="103.8" r="1.45"/><circle cx="412.8" cy="101.2" r="1.45"/><circle cx="383.8" cy="103.6" r="1.45"/><circle cx="412.1" cy="103.7" r="1.45"/><circle cx="411.6" cy="99.9" r="1.45"/><circle cx="403.2" cy="103.3" r="1.45"/><circle cx="396.4" cy="102.4" r="1.45"/><circle cx="405.8" cy="103.5" r="1.45"/><circle cx="390.1" cy="104.0" r="1.45"/><circle cx="404.5" cy="101.8" r="1.45"/><circle cx="405.4" cy="101.1" r="1.45"/><circle cx="400.2" cy="100.6" r="1.45"/><circle cx="390.9" cy="104.6" r="1.45"/><circle cx="382.2" cy="104.5" r="1.45"/><circle cx="390.3" cy="98.9" r="1.45"/><circle cx="410.1" cy="103.4" r="1.45"/><circle cx="389.0" cy="100.3" r="1.45"/><circle cx="384.3" cy="100.1" r="1.45"/><circle cx="390.4" cy="99.6" r="1.45"/><circle cx="399.5" cy="101.4" r="1.45"/><circle cx="401.7" cy="99.7" r="1.45"/><circle cx="411.6" cy="99.9" r="1.45"/><circle cx="410.0" cy="99.4" r="1.45"/><circle cx="414.7" cy="101.4" r="1.45"/><circle cx="411.9" cy="103.4" r="1.45"/><circle cx="397.7" cy="97.1" r="1.45"/><circle cx="386.6" cy="101.1" r="1.45"/><circle cx="414.3" cy="102.0" r="1.45"/><circle cx="392.0" cy="98.4" r="1.45"/><circle cx="403.0" cy="101.3" r="1.45"/><circle cx="390.8" cy="104.0" r="1.45"/><circle cx="406.6" cy="105.4" r="1.45"/><circle cx="388.6" cy="104.4" r="1.45"/><circle cx="396.1" cy="100.5" r="1.45"/><circle cx="389.3" cy="102.8" r="1.45"/><circle cx="411.1" cy="101.7" r="1.45"/><circle cx="402.7" cy="99.5" r="1.45"/><circle cx="403.2" cy="101.5" r="1.45"/><circle cx="392.5" cy="104.2" r="1.45"/><circle cx="387.8" cy="103.5" r="1.45"/><circle cx="410.9" cy="100.4" r="1.45"/><circle cx="405.7" cy="98.6" r="1.45"/><circle cx="406.8" cy="104.3" r="1.45"/><circle cx="411.1" cy="105.4" r="1.45"/><circle cx="400.8" cy="101.1" r="1.45"/><circle cx="387.9" cy="99.7" r="1.45"/><circle cx="402.5" cy="102.1" r="1.45"/><circle cx="391.6" cy="103.4" r="1.45"/><circle cx="399.2" cy="101.5" r="1.45"/><circle cx="397.4" cy="100.4" r="1.45"/><circle cx="401.0" cy="100.4" r="1.45"/><circle cx="413.1" cy="101.3" r="1.45"/><circle cx="406.5" cy="98.4" r="1.45"/><circle cx="395.9" cy="101.0" r="1.45"/><circle cx="409.6" cy="104.4" r="1.45"/><circle cx="406.7" cy="94.6" r="1.45"/><circle cx="408.1" cy="103.5" r="1.45"/><circle cx="400.5" cy="103.7" r="1.45"/><circle cx="412.4" cy="101.8" r="1.45"/><circle cx="398.5" cy="101.9" r="1.45"/><circle cx="385.4" cy="99.8" r="1.45"/><circle cx="391.1" cy="102.1" r="1.45"/><circle cx="404.2" cy="103.4" r="1.45"/><circle cx="394.7" cy="103.6" r="1.45"/><circle cx="396.2" cy="101.5" r="1.45"/><circle cx="396.2" cy="105.3" r="1.45"/><circle cx="388.3" cy="103.6" r="1.45"/><circle cx="385.0" cy="101.9" r="1.45"/><circle cx="383.5" cy="102.8" r="1.45"/><circle cx="404.7" cy="100.0" r="1.45"/><circle cx="392.8" cy="104.1" r="1.45"/><circle cx="397.3" cy="102.1" r="1.45"/><circle cx="413.6" cy="103.6" r="1.45"/><circle cx="403.1" cy="100.6" r="1.45"/><circle cx="409.4" cy="104.1" r="1.45"/><circle cx="407.0" cy="99.4" r="1.45"/><circle cx="414.2" cy="101.3" r="1.45"/><circle cx="386.8" cy="98.8" r="1.45"/><circle cx="394.9" cy="100.0" r="1.45"/><circle cx="414.1" cy="102.5" r="1.45"/><circle cx="398.0" cy="98.1" r="1.45"/><circle cx="414.0" cy="101.2" r="1.45"/><circle cx="388.1" cy="99.9" r="1.45"/><circle cx="383.8" cy="104.3" r="1.45"/><circle cx="410.3" cy="99.0" r="1.45"/><circle cx="395.8" cy="100.2" r="1.45"/><circle cx="399.1" cy="104.2" r="1.45"/><circle cx="413.6" cy="102.8" r="1.45"/><circle cx="389.3" cy="103.1" r="1.45"/><circle cx="414.7" cy="104.3" r="1.45"/><circle cx="396.5" cy="96.8" r="1.45"/><circle cx="390.2" cy="102.9" r="1.45"/><circle cx="389.7" cy="103.5" r="1.45"/><circle cx="399.4" cy="103.5" r="1.45"/><circle cx="408.0" cy="62.9" r="1.45"/><circle cx="393.0" cy="75.4" r="1.45"/><circle cx="392.0" cy="88.0" r="1.45"/><circle cx="397.0" cy="86.0" r="1.45"/><circle cx="405.0" cy="90.5" r="1.45"/><circle cx="402.0" cy="92.0" r="1.45"/></g>
<text x="398.8" y="120.3" font-size="10.2" text-anchor="middle" fill="#2b2b2b" >ATB</text>
<line x1="461.6" y1="108.4" x2="461.6" y2="110.9" stroke="#555" stroke-width="0.9"/>
<path d="M461.0,28.5 L461.0,29.8 L461.0,31.1 L461.0,32.4 L461.0,33.7 L461.0,34.9 L461.0,36.2 L461.0,37.5 L461.0,38.8 L461.0,40.1 L461.0,41.4 L461.0,42.7 L460.9,44.0 L460.9,45.2 L460.9,46.5 L460.9,47.8 L460.9,49.1 L460.9,50.4 L460.9,51.7 L460.9,53.0 L460.9,54.3 L460.8,55.6 L460.8,56.8 L460.8,58.1 L460.8,59.4 L460.8,60.7 L460.8,62.0 L460.8,63.3 L460.8,64.6 L460.7,65.9 L460.7,67.1 L460.7,68.4 L460.7,69.7 L460.7,71.0 L460.7,72.3 L460.6,73.6 L460.6,74.9 L460.6,76.2 L460.5,77.4 L460.5,78.7 L460.5,80.0 L460.4,81.3 L460.4,82.6 L460.3,83.9 L460.3,85.2 L460.2,86.5 L460.1,87.8 L459.9,89.0 L459.2,90.3 L458.1,91.6 L456.8,92.9 L455.4,94.2 L453.1,95.5 L450.2,96.8 L447.5,98.1 L444.4,99.3 L441.9,100.6 L442.0,101.9 L444.0,103.2 L447.6,104.5 L475.6,104.5 L479.2,103.2 L481.2,101.9 L481.3,100.6 L478.8,99.3 L475.7,98.1 L473.0,96.8 L470.1,95.5 L467.8,94.2 L466.4,92.9 L465.1,91.6 L464.0,90.3 L463.3,89.0 L463.1,87.8 L463.0,86.5 L462.9,85.2 L462.9,83.9 L462.8,82.6 L462.8,81.3 L462.7,80.0 L462.7,78.7 L462.7,77.4 L462.6,76.2 L462.6,74.9 L462.6,73.6 L462.5,72.3 L462.5,71.0 L462.5,69.7 L462.5,68.4 L462.5,67.1 L462.5,65.9 L462.4,64.6 L462.4,63.3 L462.4,62.0 L462.4,60.7 L462.4,59.4 L462.4,58.1 L462.4,56.8 L462.4,55.6 L462.3,54.3 L462.3,53.0 L462.3,51.7 L462.3,50.4 L462.3,49.1 L462.3,47.8 L462.3,46.5 L462.3,45.2 L462.3,44.0 L462.2,42.7 L462.2,41.4 L462.2,40.1 L462.2,38.8 L462.2,37.5 L462.2,36.2 L462.2,34.9 L462.2,33.7 L462.2,32.4 L462.2,31.1 L462.2,29.8 L462.2,28.5Z" fill="#f7d6d6" stroke="#d93a3a" stroke-width="1.2"/>
<g fill="#d93a3a"><circle cx="462.6" cy="101.2" r="1.45"/><circle cx="450.3" cy="104.1" r="1.45"/><circle cx="470.1" cy="95.6" r="1.45"/><circle cx="454.6" cy="94.0" r="1.45"/><circle cx="465.3" cy="97.1" r="1.45"/><circle cx="466.8" cy="101.6" r="1.45"/><circle cx="456.0" cy="103.3" r="1.45"/><circle cx="452.0" cy="100.0" r="1.45"/><circle cx="475.7" cy="101.5" r="1.45"/><circle cx="446.0" cy="101.5" r="1.45"/><circle cx="456.2" cy="92.4" r="1.45"/><circle cx="457.0" cy="98.4" r="1.45"/><circle cx="463.9" cy="104.1" r="1.45"/><circle cx="457.7" cy="99.1" r="1.45"/><circle cx="449.4" cy="103.3" r="1.45"/><circle cx="464.0" cy="100.8" r="1.45"/><circle cx="467.7" cy="98.5" r="1.45"/><circle cx="466.1" cy="55.9" r="1.45"/><circle cx="461.3" cy="98.8" r="1.45"/><circle cx="455.0" cy="100.3" r="1.45"/><circle cx="445.1" cy="100.1" r="1.45"/><circle cx="462.7" cy="101.1" r="1.45"/><circle cx="466.0" cy="100.9" r="1.45"/><circle cx="459.6" cy="100.9" r="1.45"/><circle cx="471.7" cy="94.5" r="1.45"/><circle cx="453.1" cy="98.8" r="1.45"/><circle cx="470.4" cy="104.0" r="1.45"/><circle cx="466.4" cy="93.9" r="1.45"/><circle cx="475.2" cy="101.6" r="1.45"/><circle cx="476.0" cy="100.7" r="1.45"/><circle cx="452.6" cy="101.4" r="1.45"/><circle cx="474.2" cy="99.1" r="1.45"/><circle cx="458.3" cy="100.1" r="1.45"/><circle cx="467.7" cy="101.6" r="1.45"/><circle cx="473.4" cy="104.3" r="1.45"/><circle cx="464.5" cy="99.2" r="1.45"/><circle cx="463.4" cy="95.7" r="1.45"/><circle cx="452.2" cy="94.6" r="1.45"/><circle cx="464.6" cy="103.3" r="1.45"/><circle cx="453.8" cy="99.2" r="1.45"/><circle cx="459.0" cy="97.5" r="1.45"/><circle cx="457.4" cy="101.8" r="1.45"/><circle cx="476.8" cy="103.1" r="1.45"/><circle cx="466.3" cy="101.6" r="1.45"/><circle cx="467.1" cy="97.8" r="1.45"/><circle cx="450.5" cy="100.4" r="1.45"/><circle cx="455.3" cy="99.7" r="1.45"/><circle cx="469.9" cy="92.6" r="1.45"/><circle cx="452.9" cy="104.9" r="1.45"/><circle cx="477.0" cy="101.1" r="1.45"/><circle cx="460.0" cy="96.8" r="1.45"/><circle cx="458.1" cy="103.3" r="1.45"/><circle cx="461.9" cy="104.8" r="1.45"/><circle cx="459.7" cy="102.5" r="1.45"/><circle cx="460.7" cy="99.1" r="1.45"/><circle cx="459.8" cy="97.5" r="1.45"/><circle cx="468.5" cy="100.4" r="1.45"/><circle cx="454.0" cy="101.1" r="1.45"/><circle cx="450.5" cy="102.7" r="1.45"/><circle cx="459.8" cy="104.0" r="1.45"/><circle cx="448.4" cy="103.1" r="1.45"/><circle cx="459.8" cy="100.3" r="1.45"/><circle cx="461.4" cy="101.0" r="1.45"/><circle cx="467.9" cy="97.1" r="1.45"/><circle cx="448.3" cy="101.4" r="1.45"/><circle cx="459.3" cy="96.0" r="1.45"/><circle cx="467.8" cy="96.2" r="1.45"/><circle cx="458.0" cy="96.8" r="1.45"/><circle cx="472.3" cy="99.5" r="1.45"/><circle cx="467.9" cy="98.9" r="1.45"/><circle cx="446.0" cy="101.6" r="1.45"/><circle cx="459.1" cy="96.3" r="1.45"/><circle cx="467.5" cy="96.9" r="1.45"/><circle cx="462.5" cy="101.5" r="1.45"/><circle cx="467.5" cy="101.9" r="1.45"/><circle cx="478.3" cy="102.2" r="1.45"/><circle cx="467.6" cy="101.5" r="1.45"/><circle cx="463.2" cy="101.5" r="1.45"/><circle cx="473.4" cy="100.8" r="1.45"/><circle cx="459.3" cy="102.8" r="1.45"/><circle cx="450.8" cy="95.6" r="1.45"/><circle cx="455.7" cy="98.2" r="1.45"/><circle cx="464.8" cy="101.7" r="1.45"/><circle cx="473.8" cy="98.5" r="1.45"/><circle cx="465.2" cy="101.4" r="1.45"/><circle cx="455.9" cy="98.3" r="1.45"/><circle cx="478.4" cy="100.9" r="1.45"/><circle cx="458.5" cy="103.3" r="1.45"/><circle cx="452.3" cy="101.4" r="1.45"/><circle cx="463.4" cy="101.2" r="1.45"/><circle cx="457.1" cy="98.8" r="1.45"/><circle cx="449.3" cy="103.2" r="1.45"/><circle cx="468.8" cy="101.2" r="1.45"/><circle cx="468.1" cy="100.2" r="1.45"/><circle cx="476.6" cy="103.2" r="1.45"/><circle cx="449.5" cy="102.7" r="1.45"/><circle cx="471.1" cy="104.8" r="1.45"/><circle cx="471.7" cy="101.9" r="1.45"/><circle cx="453.5" cy="102.8" r="1.45"/><circle cx="460.9" cy="101.0" r="1.45"/><circle cx="466.0" cy="101.8" r="1.45"/><circle cx="456.2" cy="103.8" r="1.45"/><circle cx="453.0" cy="96.8" r="1.45"/><circle cx="473.1" cy="100.5" r="1.45"/><circle cx="450.2" cy="101.2" r="1.45"/><circle cx="461.4" cy="96.0" r="1.45"/><circle cx="459.5" cy="101.9" r="1.45"/><circle cx="475.0" cy="102.7" r="1.45"/><circle cx="463.2" cy="104.2" r="1.45"/><circle cx="459.1" cy="99.8" r="1.45"/><circle cx="477.8" cy="100.8" r="1.45"/><circle cx="457.0" cy="103.4" r="1.45"/><circle cx="468.8" cy="99.5" r="1.45"/><circle cx="452.9" cy="102.8" r="1.45"/><circle cx="469.8" cy="99.6" r="1.45"/><circle cx="469.1" cy="99.1" r="1.45"/><circle cx="471.3" cy="99.1" r="1.45"/><circle cx="461.2" cy="98.9" r="1.45"/><circle cx="452.4" cy="99.8" r="1.45"/><circle cx="464.8" cy="97.8" r="1.45"/><circle cx="473.7" cy="103.7" r="1.45"/><circle cx="457.2" cy="104.8" r="1.45"/><circle cx="450.7" cy="97.3" r="1.45"/><circle cx="454.7" cy="95.6" r="1.45"/><circle cx="471.1" cy="65.4" r="1.45"/><circle cx="447.4" cy="103.9" r="1.45"/><circle cx="451.8" cy="96.3" r="1.45"/><circle cx="447.9" cy="101.8" r="1.45"/><circle cx="473.3" cy="99.1" r="1.45"/><circle cx="458.7" cy="97.8" r="1.45"/><circle cx="466.5" cy="98.1" r="1.45"/><circle cx="468.6" cy="101.8" r="1.45"/><circle cx="460.1" cy="92.7" r="1.45"/><circle cx="468.9" cy="103.3" r="1.45"/><circle cx="460.3" cy="100.7" r="1.45"/><circle cx="462.9" cy="99.3" r="1.45"/><circle cx="457.0" cy="97.7" r="1.45"/><circle cx="444.7" cy="102.3" r="1.45"/><circle cx="464.8" cy="101.9" r="1.45"/><circle cx="454.1" cy="99.6" r="1.45"/><circle cx="454.6" cy="99.4" r="1.45"/><circle cx="474.5" cy="101.0" r="1.45"/><circle cx="457.0" cy="102.8" r="1.45"/><circle cx="448.1" cy="100.3" r="1.45"/><circle cx="465.8" cy="103.0" r="1.45"/><circle cx="462.9" cy="101.3" r="1.45"/><circle cx="446.6" cy="100.9" r="1.45"/><circle cx="456.5" cy="100.7" r="1.45"/><circle cx="465.4" cy="101.1" r="1.45"/><circle cx="454.1" cy="101.5" r="1.45"/><circle cx="478.0" cy="102.5" r="1.45"/><circle cx="468.4" cy="97.4" r="1.45"/><circle cx="461.7" cy="99.9" r="1.45"/><circle cx="474.5" cy="103.4" r="1.45"/><circle cx="445.8" cy="100.4" r="1.45"/><circle cx="453.0" cy="103.4" r="1.45"/><circle cx="471.5" cy="104.7" r="1.45"/><circle cx="461.9" cy="100.7" r="1.45"/><circle cx="453.9" cy="97.5" r="1.45"/><circle cx="464.0" cy="102.4" r="1.45"/><circle cx="469.4" cy="101.4" r="1.45"/><circle cx="464.6" cy="99.0" r="1.45"/><circle cx="446.8" cy="102.9" r="1.45"/><circle cx="445.8" cy="101.3" r="1.45"/><circle cx="459.6" cy="95.6" r="1.45"/><circle cx="451.0" cy="95.2" r="1.45"/><circle cx="449.5" cy="98.9" r="1.45"/><circle cx="466.4" cy="101.4" r="1.45"/><circle cx="459.7" cy="103.3" r="1.45"/><circle cx="452.5" cy="96.0" r="1.45"/><circle cx="469.9" cy="93.7" r="1.45"/><circle cx="457.1" cy="102.1" r="1.45"/><circle cx="473.4" cy="99.3" r="1.45"/><circle cx="465.3" cy="100.3" r="1.45"/><circle cx="465.7" cy="102.2" r="1.45"/><circle cx="465.0" cy="29.5" r="1.45"/><circle cx="470.0" cy="49.5" r="1.45"/><circle cx="474.0" cy="52.9" r="1.45"/><circle cx="469.0" cy="69.6" r="1.45"/><circle cx="472.0" cy="77.1" r="1.45"/><circle cx="470.0" cy="82.1" r="1.45"/><circle cx="452.0" cy="89.7" r="1.45"/><circle cx="459.0" cy="91.0" r="1.45"/></g>
<text x="461.6" y="120.3" font-size="10.2" text-anchor="middle" fill="#2b2b2b" >HC</text>
<path d="M398.8,26.6 L398.8,24.8 L461.6,24.8 L461.6,26.6" fill="none" stroke="#444" stroke-width="0.8"/>
<text x="430.2" y="23.6" font-size="9" text-anchor="middle" fill="#2b2b2b" >**</text>
<path d="M537.8,20.5 L537.8,107.7 L673,107.7" fill="none" stroke="#555" stroke-width="0.9"/>
<line x1="535.3" y1="23.1" x2="537.8" y2="23.1" stroke="#555" stroke-width="0.9"/>
<text x="534.3" y="26.6" font-size="10" text-anchor="end" fill="#2b2b2b" >100</text>
<line x1="535.3" y1="43.4" x2="537.8" y2="43.4" stroke="#555" stroke-width="0.9"/>
<text x="534.3" y="46.9" font-size="10" text-anchor="end" fill="#2b2b2b" >75</text>
<line x1="535.3" y1="63.6" x2="537.8" y2="63.6" stroke="#555" stroke-width="0.9"/>
<text x="534.3" y="67.1" font-size="10" text-anchor="end" fill="#2b2b2b" >50</text>
<line x1="535.3" y1="84.1" x2="537.8" y2="84.1" stroke="#555" stroke-width="0.9"/>
<text x="534.3" y="87.6" font-size="10" text-anchor="end" fill="#2b2b2b" >25</text>
<line x1="535.3" y1="104.6" x2="537.8" y2="104.6" stroke="#555" stroke-width="0.9"/>
<text x="534.3" y="108.1" font-size="10" text-anchor="end" fill="#2b2b2b" >0</text>
<text x="514.0" y="64.5" font-size="9.3" text-anchor="middle" fill="#2b2b2b" transform="rotate(-90 514.0 64.5)" >Percentage(%)</text>
<line x1="574.6" y1="107.7" x2="574.6" y2="110.2" stroke="#555" stroke-width="0.9"/>
<path d="M563.6,36.8 L562.4,37.9 L561.3,39.0 L560.2,40.1 L559.2,41.3 L558.2,42.4 L557.3,43.5 L556.4,44.6 L555.6,45.7 L554.9,46.8 L554.2,47.9 L553.6,49.0 L552.9,50.2 L552.3,51.3 L551.7,52.4 L551.1,53.5 L550.6,54.6 L550.2,55.7 L549.9,56.8 L549.7,58.0 L549.6,59.1 L549.7,60.2 L550.0,61.3 L550.5,62.4 L551.1,63.5 L551.8,64.6 L552.7,65.8 L553.6,66.9 L554.5,68.0 L555.5,69.1 L556.5,70.2 L557.4,71.3 L558.3,72.4 L559.1,73.5 L559.8,74.7 L560.4,75.8 L560.9,76.9 L561.3,78.0 L561.6,79.1 L561.9,80.2 L562.3,81.3 L562.5,82.5 L562.8,83.6 L563.1,84.7 L563.4,85.8 L563.8,86.9 L564.1,88.0 L564.5,89.1 L565.0,90.3 L565.5,91.4 L566.0,92.5 L566.6,93.6 L567.2,94.7 L567.8,95.8 L568.5,96.9 L569.3,98.0 L570.1,99.2 L571.2,100.3 L572.3,101.4 L573.6,102.5 L575.6,102.5 L576.9,101.4 L578.0,100.3 L579.1,99.2 L579.9,98.0 L580.7,96.9 L581.4,95.8 L582.0,94.7 L582.6,93.6 L583.2,92.5 L583.7,91.4 L584.2,90.3 L584.7,89.1 L585.1,88.0 L585.4,86.9 L585.8,85.8 L586.1,84.7 L586.4,83.6 L586.7,82.5 L586.9,81.3 L587.3,80.2 L587.6,79.1 L587.9,78.0 L588.3,76.9 L588.8,75.8 L589.4,74.7 L590.1,73.5 L590.9,72.4 L591.8,71.3 L592.7,70.2 L593.7,69.1 L594.7,68.0 L595.6,66.9 L596.5,65.8 L597.4,64.6 L598.1,63.5 L598.7,62.4 L599.2,61.3 L599.5,60.2 L599.6,59.1 L599.5,58.0 L599.3,56.8 L599.0,55.7 L598.6,54.6 L598.1,53.5 L597.5,52.4 L596.9,51.3 L596.3,50.2 L595.6,49.0 L595.0,47.9 L594.3,46.8 L593.6,45.7 L592.8,44.6 L591.9,43.5 L591.0,42.4 L590.0,41.3 L589.0,40.1 L587.9,39.0 L586.8,37.9 L585.6,36.8Z" fill="#cde8f1" stroke="#45b3d8" stroke-width="1.2"/>
<g fill="#45b3d8"><circle cx="566.0" cy="57.3" r="1.45"/><circle cx="588.6" cy="68.0" r="1.45"/><circle cx="571.9" cy="51.5" r="1.45"/><circle cx="574.2" cy="51.6" r="1.45"/><circle cx="579.0" cy="81.5" r="1.45"/><circle cx="581.0" cy="49.5" r="1.45"/><circle cx="581.2" cy="56.2" r="1.45"/><circle cx="578.3" cy="72.1" r="1.45"/><circle cx="574.9" cy="54.7" r="1.45"/><circle cx="583.7" cy="55.6" r="1.45"/><circle cx="572.3" cy="85.9" r="1.45"/><circle cx="566.5" cy="49.7" r="1.45"/><circle cx="588.5" cy="50.4" r="1.45"/><circle cx="582.2" cy="82.9" r="1.45"/><circle cx="582.0" cy="52.4" r="1.45"/><circle cx="563.3" cy="55.3" r="1.45"/><circle cx="564.6" cy="82.3" r="1.45"/><circle cx="589.0" cy="54.2" r="1.45"/><circle cx="584.3" cy="100.6" r="1.45"/><circle cx="569.0" cy="76.9" r="1.45"/><circle cx="577.6" cy="79.8" r="1.45"/><circle cx="558.2" cy="49.7" r="1.45"/><circle cx="571.0" cy="49.8" r="1.45"/><circle cx="580.8" cy="71.5" r="1.45"/><circle cx="571.3" cy="78.1" r="1.45"/><circle cx="585.0" cy="50.4" r="1.45"/><circle cx="588.6" cy="49.0" r="1.45"/><circle cx="562.3" cy="50.5" r="1.45"/><circle cx="581.0" cy="46.1" r="1.45"/><circle cx="570.4" cy="57.2" r="1.45"/><circle cx="563.5" cy="60.8" r="1.45"/><circle cx="569.5" cy="66.0" r="1.45"/><circle cx="574.1" cy="41.1" r="1.45"/><circle cx="588.1" cy="48.3" r="1.45"/><circle cx="583.4" cy="45.0" r="1.45"/><circle cx="557.8" cy="51.7" r="1.45"/><circle cx="559.5" cy="49.2" r="1.45"/><circle cx="585.5" cy="87.9" r="1.45"/><circle cx="576.5" cy="56.6" r="1.45"/><circle cx="578.3" cy="46.1" r="1.45"/><circle cx="569.6" cy="67.8" r="1.45"/><circle cx="581.9" cy="94.2" r="1.45"/><circle cx="576.1" cy="74.3" r="1.45"/><circle cx="577.7" cy="67.0" r="1.45"/><circle cx="566.1" cy="57.1" r="1.45"/><circle cx="584.0" cy="57.3" r="1.45"/><circle cx="564.9" cy="53.7" r="1.45"/><circle cx="565.3" cy="75.5" r="1.45"/><circle cx="577.2" cy="75.0" r="1.45"/><circle cx="585.9" cy="60.7" r="1.45"/><circle cx="570.0" cy="81.1" r="1.45"/><circle cx="567.9" cy="66.3" r="1.45"/><circle cx="562.7" cy="67.6" r="1.45"/><circle cx="578.1" cy="51.9" r="1.45"/><circle cx="583.8" cy="51.3" r="1.45"/><circle cx="561.9" cy="50.3" r="1.45"/><circle cx="575.4" cy="86.4" r="1.45"/><circle cx="575.6" cy="75.8" r="1.45"/><circle cx="565.9" cy="84.9" r="1.45"/><circle cx="575.3" cy="77.3" r="1.45"/><circle cx="568.8" cy="76.1" r="1.45"/><circle cx="564.4" cy="59.1" r="1.45"/><circle cx="589.1" cy="72.1" r="1.45"/><circle cx="560.7" cy="47.8" r="1.45"/><circle cx="569.3" cy="66.4" r="1.45"/><circle cx="577.9" cy="41.1" r="1.45"/><circle cx="572.5" cy="92.2" r="1.45"/><circle cx="564.0" cy="82.6" r="1.45"/><circle cx="587.1" cy="47.4" r="1.45"/><circle cx="567.2" cy="73.3" r="1.45"/><circle cx="572.5" cy="77.4" r="1.45"/><circle cx="585.9" cy="41.2" r="1.45"/><circle cx="590.6" cy="63.7" r="1.45"/><circle cx="588.7" cy="57.8" r="1.45"/><circle cx="571.6" cy="65.6" r="1.45"/><circle cx="580.0" cy="82.4" r="1.45"/><circle cx="586.3" cy="69.6" r="1.45"/><circle cx="564.3" cy="50.2" r="1.45"/><circle cx="590.6" cy="63.3" r="1.45"/><circle cx="561.0" cy="63.4" r="1.45"/><circle cx="578.1" cy="38.0" r="1.45"/><circle cx="565.7" cy="46.2" r="1.45"/><circle cx="564.9" cy="56.1" r="1.45"/><circle cx="562.3" cy="48.3" r="1.45"/><circle cx="589.6" cy="50.6" r="1.45"/><circle cx="562.0" cy="68.3" r="1.45"/><circle cx="583.7" cy="91.6" r="1.45"/><circle cx="563.2" cy="59.8" r="1.45"/><circle cx="568.8" cy="66.9" r="1.45"/><circle cx="566.4" cy="73.0" r="1.45"/><circle cx="591.2" cy="68.1" r="1.45"/><circle cx="560.8" cy="67.7" r="1.45"/><circle cx="582.5" cy="37.6" r="1.45"/><circle cx="570.2" cy="81.4" r="1.45"/><circle cx="590.0" cy="47.3" r="1.45"/><circle cx="583.1" cy="48.7" r="1.45"/><circle cx="566.6" cy="61.8" r="1.45"/><circle cx="574.9" cy="64.2" r="1.45"/><circle cx="564.2" cy="71.4" r="1.45"/><circle cx="571.4" cy="52.4" r="1.45"/><circle cx="564.2" cy="89.6" r="1.45"/><circle cx="580.8" cy="66.1" r="1.45"/><circle cx="576.8" cy="79.6" r="1.45"/><circle cx="566.8" cy="59.7" r="1.45"/><circle cx="560.0" cy="42.6" r="1.45"/><circle cx="584.3" cy="38.0" r="1.45"/><circle cx="561.8" cy="65.5" r="1.45"/><circle cx="568.7" cy="57.2" r="1.45"/><circle cx="558.5" cy="58.6" r="1.45"/><circle cx="570.6" cy="54.4" r="1.45"/><circle cx="571.3" cy="48.7" r="1.45"/><circle cx="575.7" cy="59.3" r="1.45"/><circle cx="568.6" cy="52.2" r="1.45"/><circle cx="569.1" cy="83.2" r="1.45"/><circle cx="584.3" cy="48.4" r="1.45"/><circle cx="569.7" cy="93.1" r="1.45"/><circle cx="570.7" cy="79.9" r="1.45"/><circle cx="574.3" cy="57.3" r="1.45"/><circle cx="568.4" cy="74.1" r="1.45"/><circle cx="582.3" cy="64.6" r="1.45"/><circle cx="560.5" cy="58.7" r="1.45"/><circle cx="570.2" cy="76.5" r="1.45"/><circle cx="572.7" cy="78.1" r="1.45"/><circle cx="566.4" cy="49.9" r="1.45"/><circle cx="582.1" cy="84.6" r="1.45"/><circle cx="571.1" cy="39.2" r="1.45"/><circle cx="572.9" cy="37.8" r="1.45"/><circle cx="573.5" cy="59.8" r="1.45"/><circle cx="585.8" cy="52.7" r="1.45"/><circle cx="565.0" cy="57.2" r="1.45"/><circle cx="585.8" cy="60.2" r="1.45"/><circle cx="589.8" cy="59.6" r="1.45"/><circle cx="569.5" cy="85.6" r="1.45"/><circle cx="567.3" cy="86.9" r="1.45"/><circle cx="584.4" cy="54.4" r="1.45"/><circle cx="568.2" cy="53.6" r="1.45"/><circle cx="565.3" cy="67.4" r="1.45"/><circle cx="560.3" cy="49.8" r="1.45"/><circle cx="578.5" cy="57.6" r="1.45"/><circle cx="589.2" cy="69.7" r="1.45"/></g>
<text x="574.6" y="119.6" font-size="10.2" text-anchor="middle" fill="#2b2b2b" >ATB</text>
<line x1="637.7" y1="107.7" x2="637.7" y2="110.2" stroke="#555" stroke-width="0.9"/>
<path d="M627.7,27.6 L626.6,28.9 L625.5,30.2 L624.4,31.5 L623.3,32.8 L622.3,34.1 L621.5,35.4 L620.7,36.7 L620.1,38.0 L619.7,39.3 L619.4,40.7 L619.1,42.0 L618.8,43.3 L618.6,44.6 L618.3,45.9 L618.1,47.2 L617.9,48.5 L617.6,49.8 L617.4,51.1 L617.2,52.4 L617.1,53.7 L616.9,55.0 L616.8,56.3 L616.6,57.6 L616.5,58.9 L616.4,60.2 L616.4,61.5 L616.3,62.8 L616.2,64.1 L616.2,65.4 L616.2,66.8 L616.3,68.1 L616.4,69.4 L616.8,70.7 L617.2,72.0 L617.8,73.3 L618.4,74.6 L619.1,75.9 L619.8,77.2 L620.5,78.5 L621.3,79.8 L622.0,81.1 L622.7,82.4 L623.4,83.7 L624.0,85.0 L624.6,86.3 L625.0,87.6 L625.5,88.9 L625.9,90.2 L626.3,91.5 L626.8,92.9 L627.2,94.2 L627.5,95.5 L627.9,96.8 L628.3,98.1 L628.6,99.4 L628.9,100.7 L629.2,102.0 L629.5,103.3 L629.7,104.6 L645.7,104.6 L645.9,103.3 L646.2,102.0 L646.5,100.7 L646.8,99.4 L647.1,98.1 L647.5,96.8 L647.9,95.5 L648.2,94.2 L648.6,92.9 L649.1,91.5 L649.5,90.2 L649.9,88.9 L650.4,87.6 L650.8,86.3 L651.4,85.0 L652.0,83.7 L652.7,82.4 L653.4,81.1 L654.1,79.8 L654.9,78.5 L655.6,77.2 L656.3,75.9 L657.0,74.6 L657.6,73.3 L658.2,72.0 L658.6,70.7 L659.0,69.4 L659.1,68.1 L659.2,66.8 L659.2,65.4 L659.2,64.1 L659.1,62.8 L659.0,61.5 L659.0,60.2 L658.9,58.9 L658.8,57.6 L658.6,56.3 L658.5,55.0 L658.3,53.7 L658.2,52.4 L658.0,51.1 L657.8,49.8 L657.5,48.5 L657.3,47.2 L657.1,45.9 L656.8,44.6 L656.6,43.3 L656.3,42.0 L656.0,40.7 L655.7,39.3 L655.3,38.0 L654.7,36.7 L653.9,35.4 L653.1,34.1 L652.1,32.8 L651.0,31.5 L649.9,30.2 L648.8,28.9 L647.7,27.6Z" fill="#f7d6d6" stroke="#d93a3a" stroke-width="1.2"/>
<g fill="#d93a3a"><circle cx="629.6" cy="87.4" r="1.45"/><circle cx="623.2" cy="66.1" r="1.45"/><circle cx="639.0" cy="58.5" r="1.45"/><circle cx="647.4" cy="100.2" r="1.45"/><circle cx="622.3" cy="69.6" r="1.45"/><circle cx="640.8" cy="95.8" r="1.45"/><circle cx="621.6" cy="71.9" r="1.45"/><circle cx="639.4" cy="71.8" r="1.45"/><circle cx="624.8" cy="72.2" r="1.45"/><circle cx="642.8" cy="38.7" r="1.45"/><circle cx="633.0" cy="47.2" r="1.45"/><circle cx="642.1" cy="34.7" r="1.45"/><circle cx="632.4" cy="92.7" r="1.45"/><circle cx="628.3" cy="103.2" r="1.45"/><circle cx="626.9" cy="67.3" r="1.45"/><circle cx="630.2" cy="41.6" r="1.45"/><circle cx="627.0" cy="38.4" r="1.45"/><circle cx="627.4" cy="59.5" r="1.45"/><circle cx="639.2" cy="55.5" r="1.45"/><circle cx="635.6" cy="44.5" r="1.45"/><circle cx="647.3" cy="35.7" r="1.45"/><circle cx="637.6" cy="69.0" r="1.45"/><circle cx="638.9" cy="77.9" r="1.45"/><circle cx="643.8" cy="35.2" r="1.45"/><circle cx="649.7" cy="50.8" r="1.45"/><circle cx="640.6" cy="50.9" r="1.45"/><circle cx="622.0" cy="64.2" r="1.45"/><circle cx="636.3" cy="66.7" r="1.45"/><circle cx="621.8" cy="56.5" r="1.45"/><circle cx="640.3" cy="84.8" r="1.45"/><circle cx="622.9" cy="55.5" r="1.45"/><circle cx="639.0" cy="51.0" r="1.45"/><circle cx="626.0" cy="76.1" r="1.45"/><circle cx="646.9" cy="83.5" r="1.45"/><circle cx="628.1" cy="86.2" r="1.45"/><circle cx="643.0" cy="41.9" r="1.45"/><circle cx="644.6" cy="44.3" r="1.45"/><circle cx="630.1" cy="59.3" r="1.45"/><circle cx="639.7" cy="98.8" r="1.45"/><circle cx="631.9" cy="68.0" r="1.45"/><circle cx="629.5" cy="68.3" r="1.45"/><circle cx="629.5" cy="51.4" r="1.45"/><circle cx="627.0" cy="102.2" r="1.45"/><circle cx="643.6" cy="43.6" r="1.45"/><circle cx="623.1" cy="65.0" r="1.45"/><circle cx="627.4" cy="71.1" r="1.45"/><circle cx="625.7" cy="80.3" r="1.45"/><circle cx="646.3" cy="80.9" r="1.45"/><circle cx="638.7" cy="54.8" r="1.45"/><circle cx="636.6" cy="49.4" r="1.45"/><circle cx="639.5" cy="99.8" r="1.45"/><circle cx="648.2" cy="64.6" r="1.45"/><circle cx="641.9" cy="48.8" r="1.45"/><circle cx="638.1" cy="39.7" r="1.45"/><circle cx="632.1" cy="79.5" r="1.45"/><circle cx="638.1" cy="83.5" r="1.45"/><circle cx="654.3" cy="65.3" r="1.45"/><circle cx="640.1" cy="55.5" r="1.45"/><circle cx="636.9" cy="71.0" r="1.45"/><circle cx="646.2" cy="100.2" r="1.45"/><circle cx="622.6" cy="65.4" r="1.45"/><circle cx="624.1" cy="78.3" r="1.45"/><circle cx="644.5" cy="86.5" r="1.45"/><circle cx="652.5" cy="75.9" r="1.45"/><circle cx="622.4" cy="60.8" r="1.45"/><circle cx="621.6" cy="43.2" r="1.45"/><circle cx="621.0" cy="73.0" r="1.45"/><circle cx="639.8" cy="82.5" r="1.45"/><circle cx="629.7" cy="98.2" r="1.45"/><circle cx="639.7" cy="40.9" r="1.45"/><circle cx="643.0" cy="39.0" r="1.45"/><circle cx="621.2" cy="69.2" r="1.45"/><circle cx="648.2" cy="80.9" r="1.45"/><circle cx="630.3" cy="36.2" r="1.45"/><circle cx="639.5" cy="67.3" r="1.45"/><circle cx="632.7" cy="48.5" r="1.45"/><circle cx="634.3" cy="104.9" r="1.45"/><circle cx="634.4" cy="54.5" r="1.45"/><circle cx="622.7" cy="36.4" r="1.45"/><circle cx="635.5" cy="78.7" r="1.45"/><circle cx="629.7" cy="49.7" r="1.45"/><circle cx="632.9" cy="56.4" r="1.45"/><circle cx="626.8" cy="39.1" r="1.45"/><circle cx="632.1" cy="52.2" r="1.45"/><circle cx="644.2" cy="39.6" r="1.45"/><circle cx="654.1" cy="47.0" r="1.45"/><circle cx="627.4" cy="65.3" r="1.45"/><circle cx="650.2" cy="50.3" r="1.45"/><circle cx="641.6" cy="70.5" r="1.45"/><circle cx="628.9" cy="89.4" r="1.45"/><circle cx="621.2" cy="65.8" r="1.45"/><circle cx="647.1" cy="31.9" r="1.45"/><circle cx="631.8" cy="97.5" r="1.45"/><circle cx="624.3" cy="44.0" r="1.45"/><circle cx="643.0" cy="52.8" r="1.45"/><circle cx="644.7" cy="62.7" r="1.45"/><circle cx="651.1" cy="67.8" r="1.45"/><circle cx="637.7" cy="52.5" r="1.45"/><circle cx="631.3" cy="58.1" r="1.45"/><circle cx="631.5" cy="68.0" r="1.45"/><circle cx="627.7" cy="59.2" r="1.45"/><circle cx="642.3" cy="48.8" r="1.45"/><circle cx="652.7" cy="57.3" r="1.45"/><circle cx="623.6" cy="55.3" r="1.45"/><circle cx="633.8" cy="49.1" r="1.45"/><circle cx="632.7" cy="66.7" r="1.45"/><circle cx="623.4" cy="61.9" r="1.45"/><circle cx="640.9" cy="56.2" r="1.45"/><circle cx="654.1" cy="73.1" r="1.45"/><circle cx="631.1" cy="79.8" r="1.45"/><circle cx="645.4" cy="69.1" r="1.45"/><circle cx="651.3" cy="53.0" r="1.45"/><circle cx="632.7" cy="93.5" r="1.45"/><circle cx="650.9" cy="37.9" r="1.45"/><circle cx="645.1" cy="79.7" r="1.45"/><circle cx="642.7" cy="57.3" r="1.45"/><circle cx="627.3" cy="55.7" r="1.45"/><circle cx="631.8" cy="82.7" r="1.45"/><circle cx="624.2" cy="70.0" r="1.45"/><circle cx="646.4" cy="99.3" r="1.45"/><circle cx="644.9" cy="86.8" r="1.45"/><circle cx="624.6" cy="38.2" r="1.45"/><circle cx="638.8" cy="61.3" r="1.45"/><circle cx="628.3" cy="76.6" r="1.45"/><circle cx="645.8" cy="36.5" r="1.45"/><circle cx="640.2" cy="64.4" r="1.45"/><circle cx="647.5" cy="103.4" r="1.45"/><circle cx="645.4" cy="46.5" r="1.45"/><circle cx="624.9" cy="38.8" r="1.45"/><circle cx="633.4" cy="50.1" r="1.45"/><circle cx="640.3" cy="52.5" r="1.45"/><circle cx="651.7" cy="49.7" r="1.45"/><circle cx="633.3" cy="58.2" r="1.45"/><circle cx="629.1" cy="81.8" r="1.45"/><circle cx="630.3" cy="62.0" r="1.45"/><circle cx="629.1" cy="66.6" r="1.45"/><circle cx="626.9" cy="37.6" r="1.45"/><circle cx="633.3" cy="34.3" r="1.45"/><circle cx="632.2" cy="95.8" r="1.45"/><circle cx="638.1" cy="53.8" r="1.45"/></g>
<text x="637.7" y="119.6" font-size="10.2" text-anchor="middle" fill="#2b2b2b" >HC</text>
<path d="M574.6,26.2 L574.6,24.4 L637.7,24.4 L637.7,26.2" fill="none" stroke="#444" stroke-width="0.8"/>
<text x="606.2" y="23.2" font-size="9" text-anchor="middle" fill="#2b2b2b" >ns</text>
<path d="M27.3,138.6 L27.3,227.2 L160,227.2" fill="none" stroke="#555" stroke-width="0.9"/>
<line x1="24.8" y1="147.3" x2="27.3" y2="147.3" stroke="#555" stroke-width="0.9"/>
<text x="23.8" y="150.8" font-size="10" text-anchor="end" fill="#2b2b2b" >80</text>
<line x1="24.8" y1="167.1" x2="27.3" y2="167.1" stroke="#555" stroke-width="0.9"/>
<text x="23.8" y="170.6" font-size="10" text-anchor="end" fill="#2b2b2b" >60</text>
<line x1="24.8" y1="187" x2="27.3" y2="187" stroke="#555" stroke-width="0.9"/>
<text x="23.8" y="190.5" font-size="10" text-anchor="end" fill="#2b2b2b" >40</text>
<line x1="24.8" y1="206.8" x2="27.3" y2="206.8" stroke="#555" stroke-width="0.9"/>
<text x="23.8" y="210.3" font-size="10" text-anchor="end" fill="#2b2b2b" >20</text>
<line x1="24.8" y1="226.7" x2="27.3" y2="226.7" stroke="#555" stroke-width="0.9"/>
<text x="23.8" y="230.2" font-size="10" text-anchor="end" fill="#2b2b2b" >0</text>
<text x="8.5" y="181.0" font-size="9.3" text-anchor="middle" fill="#2b2b2b" transform="rotate(-90 8.5 181.0)" >Percentage(%)</text>
<line x1="65.8" y1="227.2" x2="65.8" y2="229.7" stroke="#555" stroke-width="0.9"/>
<path d="M64.8,163.0 L64.5,163.9 L64.1,164.8 L63.7,165.8 L63.4,166.7 L63.0,167.6 L62.6,168.5 L62.1,169.5 L61.7,170.4 L61.3,171.3 L60.8,172.2 L60.3,173.2 L59.7,174.1 L59.1,175.0 L58.4,175.9 L57.6,176.9 L56.8,177.8 L56.0,178.7 L55.1,179.6 L54.2,180.6 L53.4,181.5 L52.4,182.4 L51.5,183.3 L50.5,184.2 L49.5,185.2 L48.5,186.1 L47.5,187.0 L46.7,187.9 L45.9,188.9 L45.2,189.8 L44.4,190.7 L43.7,191.6 L42.9,192.6 L42.2,193.5 L41.6,194.4 L41.0,195.3 L40.6,196.3 L40.4,197.2 L40.3,198.1 L40.4,199.0 L40.7,199.9 L41.1,200.9 L41.7,201.8 L42.3,202.7 L43.0,203.6 L43.7,204.6 L44.4,205.5 L45.1,206.4 L46.0,207.3 L46.9,208.3 L48.0,209.2 L49.1,210.1 L50.3,211.0 L51.5,212.0 L52.7,212.9 L53.8,213.8 L55.0,214.7 L56.2,215.7 L57.5,216.6 L58.8,217.5 L72.8,217.5 L74.1,216.6 L75.4,215.7 L76.6,214.7 L77.8,213.8 L78.9,212.9 L80.1,212.0 L81.3,211.0 L82.5,210.1 L83.6,209.2 L84.7,208.3 L85.6,207.3 L86.5,206.4 L87.2,205.5 L87.9,204.6 L88.6,203.6 L89.3,202.7 L89.9,201.8 L90.5,200.9 L90.9,199.9 L91.2,199.0 L91.3,198.1 L91.2,197.2 L91.0,196.3 L90.6,195.3 L90.0,194.4 L89.4,193.5 L88.7,192.6 L87.9,191.6 L87.2,190.7 L86.4,189.8 L85.7,188.9 L84.9,187.9 L84.1,187.0 L83.1,186.1 L82.1,185.2 L81.1,184.2 L80.1,183.3 L79.2,182.4 L78.2,181.5 L77.4,180.6 L76.5,179.6 L75.6,178.7 L74.8,177.8 L74.0,176.9 L73.2,175.9 L72.5,175.0 L71.9,174.1 L71.3,173.2 L70.8,172.2 L70.3,171.3 L69.9,170.4 L69.5,169.5 L69.0,168.5 L68.6,167.6 L68.2,166.7 L67.9,165.8 L67.5,164.8 L67.1,163.9 L66.8,163.0Z" fill="#cde8f1" stroke="#45b3d8" stroke-width="1.2"/>
<g fill="#45b3d8"><circle cx="77.1" cy="209.8" r="1.45"/><circle cx="74.3" cy="212.7" r="1.45"/><circle cx="77.4" cy="186.1" r="1.45"/><circle cx="56.5" cy="199.2" r="1.45"/><circle cx="67.9" cy="202.3" r="1.45"/><circle cx="53.1" cy="185.9" r="1.45"/><circle cx="63.5" cy="198.5" r="1.45"/><circle cx="68.3" cy="187.2" r="1.45"/><circle cx="57.6" cy="193.3" r="1.45"/><circle cx="63.2" cy="191.6" r="1.45"/><circle cx="61.3" cy="206.0" r="1.45"/><circle cx="51.7" cy="188.3" r="1.45"/><circle cx="51.1" cy="197.5" r="1.45"/><circle cx="75.4" cy="198.9" r="1.45"/><circle cx="48.9" cy="191.7" r="1.45"/><circle cx="78.5" cy="211.8" r="1.45"/><circle cx="79.3" cy="191.8" r="1.45"/><circle cx="82.4" cy="191.2" r="1.45"/><circle cx="75.5" cy="202.3" r="1.45"/><circle cx="48.9" cy="196.3" r="1.45"/><circle cx="52.7" cy="203.7" r="1.45"/><circle cx="60.6" cy="184.8" r="1.45"/><circle cx="56.5" cy="185.1" r="1.45"/><circle cx="50.9" cy="203.2" r="1.45"/><circle cx="80.0" cy="193.8" r="1.45"/><circle cx="79.4" cy="208.7" r="1.45"/><circle cx="74.9" cy="188.4" r="1.45"/><circle cx="57.4" cy="189.0" r="1.45"/><circle cx="77.8" cy="208.3" r="1.45"/><circle cx="76.7" cy="192.5" r="1.45"/><circle cx="61.7" cy="182.0" r="1.45"/><circle cx="53.1" cy="188.8" r="1.45"/><circle cx="53.4" cy="204.5" r="1.45"/><circle cx="62.7" cy="190.2" r="1.45"/><circle cx="77.1" cy="198.4" r="1.45"/><circle cx="51.4" cy="207.7" r="1.45"/><circle cx="63.4" cy="199.5" r="1.45"/><circle cx="60.9" cy="204.2" r="1.45"/><circle cx="74.4" cy="214.8" r="1.45"/><circle cx="54.0" cy="191.6" r="1.45"/><circle cx="71.1" cy="208.1" r="1.45"/><circle cx="59.8" cy="198.2" r="1.45"/><circle cx="70.7" cy="187.4" r="1.45"/><circle cx="74.7" cy="184.3" r="1.45"/><circle cx="76.8" cy="191.5" r="1.45"/><circle cx="75.5" cy="184.5" r="1.45"/><circle cx="58.7" cy="205.2" r="1.45"/><circle cx="58.2" cy="199.0" r="1.45"/><circle cx="57.5" cy="176.8" r="1.45"/><circle cx="57.8" cy="208.8" r="1.45"/><circle cx="52.9" cy="199.3" r="1.45"/><circle cx="75.5" cy="195.3" r="1.45"/><circle cx="53.2" cy="184.4" r="1.45"/><circle cx="55.3" cy="196.9" r="1.45"/><circle cx="74.6" cy="210.0" r="1.45"/><circle cx="74.9" cy="200.0" r="1.45"/><circle cx="81.9" cy="195.2" r="1.45"/><circle cx="61.8" cy="199.3" r="1.45"/><circle cx="50.3" cy="197.9" r="1.45"/><circle cx="76.3" cy="200.1" r="1.45"/><circle cx="58.5" cy="187.9" r="1.45"/><circle cx="74.0" cy="185.5" r="1.45"/><circle cx="55.2" cy="171.6" r="1.45"/><circle cx="50.0" cy="206.9" r="1.45"/><circle cx="68.0" cy="165.9" r="1.45"/><circle cx="72.1" cy="189.8" r="1.45"/><circle cx="67.9" cy="200.0" r="1.45"/><circle cx="66.9" cy="196.4" r="1.45"/><circle cx="68.6" cy="210.5" r="1.45"/><circle cx="53.6" cy="187.2" r="1.45"/><circle cx="54.4" cy="183.5" r="1.45"/><circle cx="61.2" cy="185.7" r="1.45"/><circle cx="67.4" cy="197.7" r="1.45"/><circle cx="57.3" cy="191.5" r="1.45"/><circle cx="54.9" cy="195.1" r="1.45"/><circle cx="64.0" cy="202.3" r="1.45"/><circle cx="62.7" cy="191.4" r="1.45"/><circle cx="57.9" cy="201.6" r="1.45"/><circle cx="75.2" cy="172.3" r="1.45"/><circle cx="80.9" cy="198.2" r="1.45"/><circle cx="52.2" cy="210.1" r="1.45"/><circle cx="65.2" cy="211.0" r="1.45"/><circle cx="56.9" cy="199.0" r="1.45"/><circle cx="62.2" cy="216.1" r="1.45"/><circle cx="49.8" cy="188.1" r="1.45"/><circle cx="51.5" cy="191.7" r="1.45"/><circle cx="49.9" cy="195.6" r="1.45"/><circle cx="53.1" cy="196.8" r="1.45"/><circle cx="70.9" cy="207.3" r="1.45"/><circle cx="51.5" cy="195.6" r="1.45"/><circle cx="74.3" cy="177.5" r="1.45"/><circle cx="76.1" cy="202.4" r="1.45"/><circle cx="58.0" cy="188.9" r="1.45"/><circle cx="72.2" cy="208.6" r="1.45"/><circle cx="80.9" cy="187.4" r="1.45"/><circle cx="52.8" cy="190.7" r="1.45"/><circle cx="67.4" cy="183.7" r="1.45"/><circle cx="64.6" cy="191.8" r="1.45"/><circle cx="59.4" cy="199.7" r="1.45"/><circle cx="58.6" cy="190.2" r="1.45"/><circle cx="56.7" cy="178.2" r="1.45"/><circle cx="70.8" cy="199.5" r="1.45"/><circle cx="55.5" cy="203.3" r="1.45"/><circle cx="63.9" cy="182.9" r="1.45"/><circle cx="80.4" cy="195.0" r="1.45"/><circle cx="62.5" cy="179.3" r="1.45"/><circle cx="61.8" cy="171.9" r="1.45"/><circle cx="80.5" cy="193.2" r="1.45"/><circle cx="68.6" cy="191.1" r="1.45"/><circle cx="68.2" cy="208.2" r="1.45"/><circle cx="59.7" cy="172.1" r="1.45"/><circle cx="70.6" cy="200.7" r="1.45"/><circle cx="61.7" cy="203.3" r="1.45"/><circle cx="67.3" cy="194.1" r="1.45"/><circle cx="62.3" cy="197.0" r="1.45"/><circle cx="51.6" cy="189.0" r="1.45"/><circle cx="78.6" cy="189.8" r="1.45"/><circle cx="70.0" cy="178.8" r="1.45"/><circle cx="79.8" cy="209.9" r="1.45"/><circle cx="61.5" cy="175.2" r="1.45"/><circle cx="59.8" cy="184.1" r="1.45"/><circle cx="53.4" cy="203.3" r="1.45"/><circle cx="59.2" cy="195.3" r="1.45"/><circle cx="59.9" cy="198.0" r="1.45"/><circle cx="55.1" cy="190.8" r="1.45"/><circle cx="58.5" cy="186.0" r="1.45"/><circle cx="58.8" cy="205.1" r="1.45"/><circle cx="75.5" cy="183.9" r="1.45"/><circle cx="64.0" cy="190.6" r="1.45"/><circle cx="76.7" cy="204.2" r="1.45"/><circle cx="50.5" cy="191.4" r="1.45"/><circle cx="58.0" cy="212.3" r="1.45"/><circle cx="80.2" cy="186.4" r="1.45"/><circle cx="50.5" cy="198.4" r="1.45"/><circle cx="51.2" cy="197.6" r="1.45"/><circle cx="66.4" cy="197.0" r="1.45"/><circle cx="58.7" cy="204.6" r="1.45"/><circle cx="59.1" cy="176.8" r="1.45"/><circle cx="69.5" cy="198.2" r="1.45"/><circle cx="69.5" cy="205.4" r="1.45"/><circle cx="58.9" cy="178.1" r="1.45"/><circle cx="67.1" cy="198.9" r="1.45"/><circle cx="64.3" cy="195.7" r="1.45"/><circle cx="77.6" cy="194.2" r="1.45"/><circle cx="51.1" cy="198.1" r="1.45"/><circle cx="56.7" cy="200.7" r="1.45"/><circle cx="68.0" cy="203.3" r="1.45"/><circle cx="51.8" cy="210.1" r="1.45"/><circle cx="77.6" cy="201.4" r="1.45"/><circle cx="76.1" cy="216.8" r="1.45"/><circle cx="60.0" cy="202.2" r="1.45"/><circle cx="75.1" cy="189.7" r="1.45"/><circle cx="58.6" cy="184.8" r="1.45"/><circle cx="75.7" cy="180.6" r="1.45"/><circle cx="56.0" cy="189.6" r="1.45"/><circle cx="52.4" cy="184.0" r="1.45"/><circle cx="51.1" cy="201.8" r="1.45"/><circle cx="64.4" cy="201.7" r="1.45"/><circle cx="50.1" cy="200.2" r="1.45"/><circle cx="82.1" cy="194.2" r="1.45"/><circle cx="70.3" cy="195.9" r="1.45"/><circle cx="68.1" cy="190.3" r="1.45"/><circle cx="69.4" cy="210.6" r="1.45"/><circle cx="64.0" cy="172.5" r="1.45"/><circle cx="78.9" cy="191.2" r="1.45"/><circle cx="73.0" cy="198.7" r="1.45"/><circle cx="63.7" cy="185.9" r="1.45"/><circle cx="58.5" cy="208.3" r="1.45"/><circle cx="53.7" cy="196.4" r="1.45"/><circle cx="59.5" cy="193.6" r="1.45"/><circle cx="62.6" cy="178.8" r="1.45"/><circle cx="51.5" cy="190.8" r="1.45"/><circle cx="80.2" cy="200.3" r="1.45"/><circle cx="57.6" cy="189.8" r="1.45"/><circle cx="66.7" cy="176.9" r="1.45"/></g>
<text x="65.8" y="238.5" font-size="10.2" text-anchor="middle" fill="#2b2b2b" >ATB</text>
<line x1="129" y1="227.2" x2="129" y2="229.7" stroke="#555" stroke-width="0.9"/>
<path d="M128.2,146.0 L128.0,147.3 L127.8,148.6 L127.6,149.9 L127.4,151.2 L127.1,152.4 L126.8,153.7 L126.5,155.0 L126.2,156.3 L125.8,157.6 L125.4,158.9 L124.9,160.2 L124.5,161.5 L124.0,162.7 L123.6,164.0 L123.0,165.3 L122.5,166.6 L122.0,167.9 L121.4,169.2 L120.8,170.5 L120.1,171.8 L119.4,173.1 L118.6,174.3 L117.8,175.6 L117.0,176.9 L116.2,178.2 L115.4,179.5 L114.7,180.8 L114.0,182.1 L113.2,183.4 L112.4,184.6 L111.5,185.9 L110.7,187.2 L109.9,188.5 L109.2,189.8 L108.6,191.1 L108.2,192.4 L108.0,193.7 L108.0,194.9 L108.2,196.2 L108.6,197.5 L109.0,198.8 L109.6,200.1 L110.2,201.4 L110.8,202.7 L111.5,204.0 L112.1,205.3 L112.9,206.5 L113.8,207.8 L114.8,209.1 L115.9,210.4 L117.1,211.7 L118.3,213.0 L119.4,214.3 L120.5,215.6 L121.5,216.8 L122.6,218.1 L123.8,219.4 L124.9,220.7 L126.0,222.0 L132.0,222.0 L133.1,220.7 L134.2,219.4 L135.4,218.1 L136.5,216.8 L137.5,215.6 L138.6,214.3 L139.7,213.0 L140.9,211.7 L142.1,210.4 L143.2,209.1 L144.2,207.8 L145.1,206.5 L145.9,205.3 L146.5,204.0 L147.2,202.7 L147.8,201.4 L148.4,200.1 L149.0,198.8 L149.4,197.5 L149.8,196.2 L150.0,194.9 L150.0,193.7 L149.8,192.4 L149.4,191.1 L148.8,189.8 L148.1,188.5 L147.3,187.2 L146.5,185.9 L145.6,184.6 L144.8,183.4 L144.0,182.1 L143.3,180.8 L142.6,179.5 L141.8,178.2 L141.0,176.9 L140.2,175.6 L139.4,174.3 L138.6,173.1 L137.9,171.8 L137.2,170.5 L136.6,169.2 L136.0,167.9 L135.5,166.6 L135.0,165.3 L134.4,164.0 L134.0,162.7 L133.5,161.5 L133.1,160.2 L132.6,158.9 L132.2,157.6 L131.8,156.3 L131.5,155.0 L131.2,153.7 L130.9,152.4 L130.6,151.2 L130.4,149.9 L130.2,148.6 L130.0,147.3 L129.8,146.0Z" fill="#f7d6d6" stroke="#d93a3a" stroke-width="1.2"/>
<g fill="#d93a3a"><circle cx="138.7" cy="169.4" r="1.45"/><circle cx="117.2" cy="195.0" r="1.45"/><circle cx="138.2" cy="198.7" r="1.45"/><circle cx="124.0" cy="171.0" r="1.45"/><circle cx="119.3" cy="216.4" r="1.45"/><circle cx="127.4" cy="178.2" r="1.45"/><circle cx="135.0" cy="184.8" r="1.45"/><circle cx="121.7" cy="201.4" r="1.45"/><circle cx="144.3" cy="188.3" r="1.45"/><circle cx="115.5" cy="208.1" r="1.45"/><circle cx="122.6" cy="182.7" r="1.45"/><circle cx="124.0" cy="185.9" r="1.45"/><circle cx="124.6" cy="200.9" r="1.45"/><circle cx="123.6" cy="208.0" r="1.45"/><circle cx="116.1" cy="208.2" r="1.45"/><circle cx="120.0" cy="185.5" r="1.45"/><circle cx="120.9" cy="194.4" r="1.45"/><circle cx="134.9" cy="190.6" r="1.45"/><circle cx="124.8" cy="199.3" r="1.45"/><circle cx="135.3" cy="183.1" r="1.45"/><circle cx="127.3" cy="206.1" r="1.45"/><circle cx="123.6" cy="201.6" r="1.45"/><circle cx="120.9" cy="179.0" r="1.45"/><circle cx="120.2" cy="186.8" r="1.45"/><circle cx="142.3" cy="187.4" r="1.45"/><circle cx="128.0" cy="211.9" r="1.45"/><circle cx="122.7" cy="191.9" r="1.45"/><circle cx="119.4" cy="197.6" r="1.45"/><circle cx="137.3" cy="211.4" r="1.45"/><circle cx="135.9" cy="189.1" r="1.45"/><circle cx="133.3" cy="214.0" r="1.45"/><circle cx="138.3" cy="185.2" r="1.45"/><circle cx="123.3" cy="157.8" r="1.45"/><circle cx="134.1" cy="173.4" r="1.45"/><circle cx="114.4" cy="200.5" r="1.45"/><circle cx="134.6" cy="190.0" r="1.45"/><circle cx="123.7" cy="206.0" r="1.45"/><circle cx="134.5" cy="194.3" r="1.45"/><circle cx="119.7" cy="199.7" r="1.45"/><circle cx="124.2" cy="187.3" r="1.45"/><circle cx="134.8" cy="195.8" r="1.45"/><circle cx="143.9" cy="199.8" r="1.45"/><circle cx="123.6" cy="188.8" r="1.45"/><circle cx="117.8" cy="193.8" r="1.45"/><circle cx="118.0" cy="206.2" r="1.45"/><circle cx="132.8" cy="212.0" r="1.45"/><circle cx="142.2" cy="187.6" r="1.45"/><circle cx="118.4" cy="169.3" r="1.45"/><circle cx="124.6" cy="207.1" r="1.45"/><circle cx="117.7" cy="191.1" r="1.45"/><circle cx="139.0" cy="215.1" r="1.45"/><circle cx="117.3" cy="203.7" r="1.45"/><circle cx="114.3" cy="188.3" r="1.45"/><circle cx="136.7" cy="206.7" r="1.45"/><circle cx="146.0" cy="195.9" r="1.45"/><circle cx="138.3" cy="200.6" r="1.45"/><circle cx="119.4" cy="209.6" r="1.45"/><circle cx="125.9" cy="195.8" r="1.45"/><circle cx="129.4" cy="213.5" r="1.45"/><circle cx="142.6" cy="189.5" r="1.45"/><circle cx="137.6" cy="188.8" r="1.45"/><circle cx="114.0" cy="199.1" r="1.45"/><circle cx="127.4" cy="190.8" r="1.45"/><circle cx="138.5" cy="200.3" r="1.45"/><circle cx="130.5" cy="194.9" r="1.45"/><circle cx="134.6" cy="201.6" r="1.45"/><circle cx="143.1" cy="205.5" r="1.45"/><circle cx="145.3" cy="195.0" r="1.45"/><circle cx="136.6" cy="211.0" r="1.45"/><circle cx="131.2" cy="204.3" r="1.45"/><circle cx="123.7" cy="207.7" r="1.45"/><circle cx="121.5" cy="161.1" r="1.45"/><circle cx="121.7" cy="159.0" r="1.45"/><circle cx="133.8" cy="197.7" r="1.45"/><circle cx="137.8" cy="186.5" r="1.45"/><circle cx="138.6" cy="208.2" r="1.45"/><circle cx="143.1" cy="190.3" r="1.45"/><circle cx="121.9" cy="202.1" r="1.45"/><circle cx="124.3" cy="183.5" r="1.45"/><circle cx="118.7" cy="198.7" r="1.45"/><circle cx="130.0" cy="210.6" r="1.45"/><circle cx="141.0" cy="208.1" r="1.45"/><circle cx="137.8" cy="188.8" r="1.45"/><circle cx="126.9" cy="192.4" r="1.45"/><circle cx="117.4" cy="195.0" r="1.45"/><circle cx="140.4" cy="187.6" r="1.45"/><circle cx="142.5" cy="193.2" r="1.45"/><circle cx="134.9" cy="214.7" r="1.45"/><circle cx="123.8" cy="209.4" r="1.45"/><circle cx="125.5" cy="186.0" r="1.45"/><circle cx="131.8" cy="200.4" r="1.45"/><circle cx="138.2" cy="214.1" r="1.45"/><circle cx="120.3" cy="187.9" r="1.45"/><circle cx="126.8" cy="207.5" r="1.45"/><circle cx="115.4" cy="204.7" r="1.45"/><circle cx="116.4" cy="209.2" r="1.45"/><circle cx="123.4" cy="171.7" r="1.45"/><circle cx="135.9" cy="211.1" r="1.45"/><circle cx="132.9" cy="217.0" r="1.45"/><circle cx="128.3" cy="183.0" r="1.45"/><circle cx="125.9" cy="198.2" r="1.45"/><circle cx="123.8" cy="173.0" r="1.45"/><circle cx="138.0" cy="197.2" r="1.45"/><circle cx="128.6" cy="200.6" r="1.45"/><circle cx="114.7" cy="202.1" r="1.45"/><circle cx="132.5" cy="207.8" r="1.45"/><circle cx="144.8" cy="186.4" r="1.45"/><circle cx="119.6" cy="174.7" r="1.45"/><circle cx="144.1" cy="205.3" r="1.45"/><circle cx="120.2" cy="162.0" r="1.45"/><circle cx="123.5" cy="183.5" r="1.45"/><circle cx="141.9" cy="182.2" r="1.45"/><circle cx="143.8" cy="204.2" r="1.45"/><circle cx="118.3" cy="192.0" r="1.45"/><circle cx="135.5" cy="206.1" r="1.45"/><circle cx="132.8" cy="199.6" r="1.45"/><circle cx="126.0" cy="206.6" r="1.45"/><circle cx="137.9" cy="204.3" r="1.45"/><circle cx="132.5" cy="208.5" r="1.45"/><circle cx="120.5" cy="185.5" r="1.45"/><circle cx="128.7" cy="188.2" r="1.45"/><circle cx="136.1" cy="198.3" r="1.45"/><circle cx="133.1" cy="196.4" r="1.45"/><circle cx="130.4" cy="203.5" r="1.45"/><circle cx="136.1" cy="205.8" r="1.45"/><circle cx="117.6" cy="185.7" r="1.45"/><circle cx="118.9" cy="176.2" r="1.45"/><circle cx="113.8" cy="203.0" r="1.45"/><circle cx="133.1" cy="200.7" r="1.45"/><circle cx="127.0" cy="185.0" r="1.45"/><circle cx="136.4" cy="168.7" r="1.45"/><circle cx="139.4" cy="162.3" r="1.45"/><circle cx="117.9" cy="183.4" r="1.45"/><circle cx="125.3" cy="185.2" r="1.45"/><circle cx="126.9" cy="181.7" r="1.45"/><circle cx="130.0" cy="168.1" r="1.45"/><circle cx="138.8" cy="179.0" r="1.45"/><circle cx="132.4" cy="188.3" r="1.45"/><circle cx="124.7" cy="172.2" r="1.45"/><circle cx="133.2" cy="180.6" r="1.45"/><circle cx="123.2" cy="190.7" r="1.45"/><circle cx="130.5" cy="207.3" r="1.45"/><circle cx="118.2" cy="208.1" r="1.45"/><circle cx="131.2" cy="190.8" r="1.45"/><circle cx="128.5" cy="175.2" r="1.45"/><circle cx="133.2" cy="184.0" r="1.45"/><circle cx="131.3" cy="200.1" r="1.45"/><circle cx="131.5" cy="190.1" r="1.45"/><circle cx="137.1" cy="195.5" r="1.45"/><circle cx="116.9" cy="202.4" r="1.45"/><circle cx="137.6" cy="198.5" r="1.45"/><circle cx="132.3" cy="208.3" r="1.45"/><circle cx="133.1" cy="171.7" r="1.45"/><circle cx="125.8" cy="186.4" r="1.45"/><circle cx="119.9" cy="164.4" r="1.45"/><circle cx="143.3" cy="194.9" r="1.45"/><circle cx="140.1" cy="197.1" r="1.45"/><circle cx="143.1" cy="184.4" r="1.45"/><circle cx="128.1" cy="168.0" r="1.45"/><circle cx="142.1" cy="192.2" r="1.45"/><circle cx="137.9" cy="179.2" r="1.45"/><circle cx="130.3" cy="180.8" r="1.45"/><circle cx="142.6" cy="189.5" r="1.45"/><circle cx="135.9" cy="213.6" r="1.45"/><circle cx="115.5" cy="188.1" r="1.45"/><circle cx="116.5" cy="200.1" r="1.45"/><circle cx="125.9" cy="189.2" r="1.45"/><circle cx="130.1" cy="190.4" r="1.45"/><circle cx="132.4" cy="177.1" r="1.45"/><circle cx="130.6" cy="179.9" r="1.45"/><circle cx="140.8" cy="204.0" r="1.45"/><circle cx="139.2" cy="190.6" r="1.45"/><circle cx="116.5" cy="185.9" r="1.45"/><circle cx="125.5" cy="217.8" r="1.45"/><circle cx="139.1" cy="208.8" r="1.45"/></g>
<text x="129.0" y="238.5" font-size="10.2" text-anchor="middle" fill="#2b2b2b" >HC</text>
<path d="M65.8,145.4 L65.8,143.6 L129,143.6 L129,145.4" fill="none" stroke="#444" stroke-width="0.8"/>
<text x="97.4" y="142.4" font-size="9" text-anchor="middle" fill="#2b2b2b" >ns</text>
<path d="M201.5,138.6 L201.5,227.2 L327.6,227.2" fill="none" stroke="#555" stroke-width="0.9"/>
<line x1="199.0" y1="148.5" x2="201.5" y2="148.5" stroke="#555" stroke-width="0.9"/>
<text x="198.0" y="152.0" font-size="10" text-anchor="end" fill="#2b2b2b" >20</text>
<line x1="199.0" y1="167.6" x2="201.5" y2="167.6" stroke="#555" stroke-width="0.9"/>
<text x="198.0" y="171.1" font-size="10" text-anchor="end" fill="#2b2b2b" >15</text>
<line x1="199.0" y1="186.5" x2="201.5" y2="186.5" stroke="#555" stroke-width="0.9"/>
<text x="198.0" y="190.0" font-size="10" text-anchor="end" fill="#2b2b2b" >10</text>
<line x1="199.0" y1="205.6" x2="201.5" y2="205.6" stroke="#555" stroke-width="0.9"/>
<text x="198.0" y="209.1" font-size="10" text-anchor="end" fill="#2b2b2b" >5</text>
<line x1="199.0" y1="224.2" x2="201.5" y2="224.2" stroke="#555" stroke-width="0.9"/>
<text x="198.0" y="227.7" font-size="10" text-anchor="end" fill="#2b2b2b" >0</text>
<text x="181.5" y="182.5" font-size="9.3" text-anchor="middle" fill="#2b2b2b" transform="rotate(-90 181.5 182.5)" >Percentage(%)</text>
<line x1="238.7" y1="227.2" x2="238.7" y2="229.7" stroke="#555" stroke-width="0.9"/>
<path d="M237.9,153.5 L237.9,154.7 L237.9,155.8 L237.8,157.0 L237.8,158.1 L237.8,159.3 L237.7,160.4 L237.7,161.6 L237.7,162.7 L237.6,163.9 L237.6,165.1 L237.5,166.2 L237.4,167.4 L237.4,168.5 L237.3,169.7 L237.3,170.8 L237.2,172.0 L237.1,173.2 L237.1,174.3 L237.0,175.5 L236.9,176.6 L236.8,177.8 L236.8,178.9 L236.7,180.1 L236.6,181.2 L236.6,182.4 L236.5,183.6 L236.4,184.7 L236.3,185.9 L236.3,187.0 L236.2,188.2 L236.1,189.3 L236.0,190.5 L235.9,191.6 L235.7,192.8 L235.6,194.0 L235.4,195.1 L235.3,196.3 L235.1,197.4 L234.9,198.6 L234.6,199.7 L234.1,200.9 L233.3,202.0 L232.3,203.2 L231.1,204.4 L229.7,205.5 L228.4,206.7 L227.0,207.8 L225.5,209.0 L223.5,210.1 L221.3,211.3 L219.0,212.5 L216.8,213.6 L215.1,214.8 L214.0,215.9 L213.7,217.1 L214.4,218.2 L215.9,219.4 L218.0,220.5 L220.7,221.7 L256.7,221.7 L259.4,220.5 L261.5,219.4 L263.0,218.2 L263.7,217.1 L263.4,215.9 L262.3,214.8 L260.6,213.6 L258.4,212.5 L256.1,211.3 L253.9,210.1 L251.9,209.0 L250.4,207.8 L249.0,206.7 L247.7,205.5 L246.3,204.4 L245.1,203.2 L244.1,202.0 L243.3,200.9 L242.8,199.7 L242.5,198.6 L242.3,197.4 L242.1,196.3 L242.0,195.1 L241.8,194.0 L241.7,192.8 L241.5,191.6 L241.4,190.5 L241.3,189.3 L241.2,188.2 L241.1,187.0 L241.1,185.9 L241.0,184.7 L240.9,183.6 L240.8,182.4 L240.8,181.2 L240.7,180.1 L240.6,178.9 L240.6,177.8 L240.5,176.6 L240.4,175.5 L240.3,174.3 L240.3,173.2 L240.2,172.0 L240.1,170.8 L240.1,169.7 L240.0,168.5 L240.0,167.4 L239.9,166.2 L239.8,165.1 L239.8,163.9 L239.7,162.7 L239.7,161.6 L239.7,160.4 L239.6,159.3 L239.6,158.1 L239.6,157.0 L239.5,155.8 L239.5,154.7 L239.5,153.5Z" fill="#cde8f1" stroke="#45b3d8" stroke-width="1.2"/>
<g fill="#45b3d8"><circle cx="226.3" cy="216.9" r="1.45"/><circle cx="236.6" cy="165.7" r="1.45"/><circle cx="229.0" cy="214.9" r="1.45"/><circle cx="239.6" cy="197.4" r="1.45"/><circle cx="249.7" cy="212.9" r="1.45"/><circle cx="229.8" cy="220.9" r="1.45"/><circle cx="230.8" cy="187.5" r="1.45"/><circle cx="226.4" cy="218.1" r="1.45"/><circle cx="242.6" cy="213.3" r="1.45"/><circle cx="224.1" cy="220.7" r="1.45"/><circle cx="239.6" cy="219.9" r="1.45"/><circle cx="245.5" cy="183.3" r="1.45"/><circle cx="247.8" cy="216.2" r="1.45"/><circle cx="244.5" cy="219.7" r="1.45"/><circle cx="227.9" cy="207.9" r="1.45"/><circle cx="236.4" cy="216.0" r="1.45"/><circle cx="233.1" cy="206.4" r="1.45"/><circle cx="239.0" cy="204.1" r="1.45"/><circle cx="229.0" cy="210.3" r="1.45"/><circle cx="230.4" cy="208.6" r="1.45"/><circle cx="253.4" cy="221.7" r="1.45"/><circle cx="247.1" cy="206.5" r="1.45"/><circle cx="225.0" cy="212.3" r="1.45"/><circle cx="249.8" cy="212.8" r="1.45"/><circle cx="223.9" cy="216.1" r="1.45"/><circle cx="233.7" cy="222.0" r="1.45"/><circle cx="255.5" cy="216.1" r="1.45"/><circle cx="253.7" cy="219.0" r="1.45"/><circle cx="238.0" cy="198.1" r="1.45"/><circle cx="245.6" cy="216.4" r="1.45"/><circle cx="236.1" cy="202.2" r="1.45"/><circle cx="250.6" cy="218.8" r="1.45"/><circle cx="232.4" cy="215.4" r="1.45"/><circle cx="232.2" cy="199.0" r="1.45"/><circle cx="226.6" cy="219.7" r="1.45"/><circle cx="243.1" cy="213.8" r="1.45"/><circle cx="240.7" cy="212.6" r="1.45"/><circle cx="247.6" cy="187.9" r="1.45"/><circle cx="226.7" cy="219.3" r="1.45"/><circle cx="249.1" cy="214.6" r="1.45"/><circle cx="253.8" cy="219.0" r="1.45"/><circle cx="244.1" cy="187.2" r="1.45"/><circle cx="225.6" cy="216.0" r="1.45"/><circle cx="227.4" cy="211.7" r="1.45"/><circle cx="224.7" cy="214.2" r="1.45"/><circle cx="233.1" cy="216.1" r="1.45"/><circle cx="247.5" cy="218.8" r="1.45"/><circle cx="226.6" cy="220.6" r="1.45"/><circle cx="237.6" cy="201.4" r="1.45"/><circle cx="223.2" cy="218.5" r="1.45"/><circle cx="242.6" cy="195.1" r="1.45"/><circle cx="229.9" cy="162.8" r="1.45"/><circle cx="246.1" cy="209.5" r="1.45"/><circle cx="241.3" cy="208.7" r="1.45"/><circle cx="228.2" cy="217.9" r="1.45"/><circle cx="245.4" cy="213.8" r="1.45"/><circle cx="233.6" cy="212.0" r="1.45"/><circle cx="239.5" cy="218.4" r="1.45"/><circle cx="240.6" cy="220.7" r="1.45"/><circle cx="230.9" cy="216.4" r="1.45"/><circle cx="235.9" cy="215.6" r="1.45"/><circle cx="248.4" cy="219.3" r="1.45"/><circle cx="247.2" cy="208.8" r="1.45"/><circle cx="249.3" cy="222.1" r="1.45"/><circle cx="240.2" cy="202.2" r="1.45"/><circle cx="246.9" cy="178.6" r="1.45"/><circle cx="226.5" cy="219.3" r="1.45"/><circle cx="249.3" cy="202.9" r="1.45"/><circle cx="227.4" cy="209.4" r="1.45"/><circle cx="252.3" cy="214.3" r="1.45"/><circle cx="245.1" cy="193.7" r="1.45"/><circle cx="235.1" cy="211.7" r="1.45"/><circle cx="247.5" cy="211.0" r="1.45"/><circle cx="248.8" cy="189.4" r="1.45"/><circle cx="227.3" cy="214.9" r="1.45"/><circle cx="243.8" cy="213.1" r="1.45"/><circle cx="227.8" cy="201.6" r="1.45"/><circle cx="244.3" cy="217.3" r="1.45"/><circle cx="224.8" cy="211.4" r="1.45"/><circle cx="242.4" cy="171.1" r="1.45"/><circle cx="222.6" cy="220.0" r="1.45"/><circle cx="235.7" cy="211.1" r="1.45"/><circle cx="246.8" cy="190.6" r="1.45"/><circle cx="234.2" cy="208.9" r="1.45"/><circle cx="249.0" cy="206.9" r="1.45"/><circle cx="238.1" cy="177.1" r="1.45"/><circle cx="230.6" cy="209.6" r="1.45"/><circle cx="248.3" cy="202.9" r="1.45"/><circle cx="231.1" cy="205.7" r="1.45"/><circle cx="241.9" cy="215.8" r="1.45"/><circle cx="248.4" cy="201.7" r="1.45"/><circle cx="248.4" cy="168.8" r="1.45"/><circle cx="239.9" cy="202.7" r="1.45"/><circle cx="232.3" cy="208.3" r="1.45"/><circle cx="238.7" cy="201.4" r="1.45"/><circle cx="231.6" cy="215.1" r="1.45"/><circle cx="232.4" cy="219.3" r="1.45"/><circle cx="232.5" cy="218.3" r="1.45"/><circle cx="228.6" cy="213.6" r="1.45"/><circle cx="223.0" cy="218.4" r="1.45"/><circle cx="247.2" cy="218.1" r="1.45"/><circle cx="222.1" cy="216.5" r="1.45"/><circle cx="241.2" cy="218.6" r="1.45"/><circle cx="234.3" cy="211.8" r="1.45"/><circle cx="243.8" cy="217.9" r="1.45"/><circle cx="241.4" cy="214.1" r="1.45"/><circle cx="238.0" cy="217.6" r="1.45"/><circle cx="248.1" cy="217.7" r="1.45"/><circle cx="240.3" cy="184.8" r="1.45"/><circle cx="252.2" cy="219.4" r="1.45"/><circle cx="240.6" cy="174.8" r="1.45"/><circle cx="251.3" cy="211.9" r="1.45"/><circle cx="251.1" cy="214.6" r="1.45"/><circle cx="245.7" cy="219.3" r="1.45"/><circle cx="234.9" cy="182.7" r="1.45"/><circle cx="238.2" cy="216.1" r="1.45"/><circle cx="227.3" cy="210.1" r="1.45"/><circle cx="243.7" cy="176.2" r="1.45"/><circle cx="243.0" cy="210.7" r="1.45"/><circle cx="249.5" cy="216.0" r="1.45"/><circle cx="229.6" cy="189.3" r="1.45"/><circle cx="226.1" cy="219.2" r="1.45"/><circle cx="241.9" cy="177.5" r="1.45"/><circle cx="243.8" cy="206.9" r="1.45"/><circle cx="226.7" cy="210.4" r="1.45"/><circle cx="228.4" cy="184.5" r="1.45"/><circle cx="232.7" cy="220.1" r="1.45"/><circle cx="233.2" cy="221.0" r="1.45"/><circle cx="223.5" cy="220.7" r="1.45"/><circle cx="229.8" cy="204.4" r="1.45"/><circle cx="228.6" cy="219.3" r="1.45"/><circle cx="225.7" cy="209.9" r="1.45"/><circle cx="230.3" cy="209.1" r="1.45"/><circle cx="222.6" cy="215.9" r="1.45"/><circle cx="235.8" cy="188.3" r="1.45"/><circle cx="244.2" cy="157.5" r="1.45"/><circle cx="244.2" cy="220.2" r="1.45"/><circle cx="241.6" cy="210.2" r="1.45"/><circle cx="237.6" cy="218.8" r="1.45"/><circle cx="228.1" cy="212.9" r="1.45"/><circle cx="228.8" cy="190.2" r="1.45"/><circle cx="228.0" cy="213.5" r="1.45"/><circle cx="248.5" cy="202.4" r="1.45"/><circle cx="245.6" cy="188.6" r="1.45"/><circle cx="240.2" cy="167.0" r="1.45"/><circle cx="242.6" cy="212.1" r="1.45"/><circle cx="244.1" cy="206.5" r="1.45"/><circle cx="247.2" cy="209.9" r="1.45"/><circle cx="229.9" cy="220.7" r="1.45"/><circle cx="249.0" cy="218.2" r="1.45"/><circle cx="243.7" cy="216.4" r="1.45"/><circle cx="233.8" cy="206.7" r="1.45"/><circle cx="231.5" cy="217.4" r="1.45"/><circle cx="227.5" cy="216.6" r="1.45"/><circle cx="240.3" cy="214.4" r="1.45"/><circle cx="249.0" cy="207.0" r="1.45"/><circle cx="245.1" cy="205.7" r="1.45"/><circle cx="227.4" cy="212.2" r="1.45"/><circle cx="230.3" cy="207.6" r="1.45"/><circle cx="231.3" cy="219.8" r="1.45"/><circle cx="227.3" cy="212.7" r="1.45"/><circle cx="226.5" cy="216.0" r="1.45"/><circle cx="246.6" cy="219.6" r="1.45"/><circle cx="232.4" cy="215.1" r="1.45"/><circle cx="240.1" cy="201.6" r="1.45"/><circle cx="234.5" cy="208.7" r="1.45"/><circle cx="255.2" cy="220.2" r="1.45"/><circle cx="240.7" cy="178.3" r="1.45"/><circle cx="230.8" cy="205.0" r="1.45"/><circle cx="248.1" cy="215.0" r="1.45"/><circle cx="231.6" cy="219.9" r="1.45"/><circle cx="237.2" cy="218.6" r="1.45"/><circle cx="231.5" cy="216.4" r="1.45"/><circle cx="238.3" cy="216.9" r="1.45"/><circle cx="232.7" cy="211.3" r="1.45"/></g>
<text x="238.7" y="238.5" font-size="10.2" text-anchor="middle" fill="#2b2b2b" >ATB</text>
<line x1="302.8" y1="227.2" x2="302.8" y2="229.7" stroke="#555" stroke-width="0.9"/>
<path d="M302.0,144.8 L302.0,146.1 L301.9,147.4 L301.9,148.7 L301.8,150.0 L301.8,151.3 L301.7,152.6 L301.7,153.9 L301.6,155.2 L301.6,156.5 L301.5,157.8 L301.4,159.1 L301.4,160.4 L301.3,161.7 L301.2,163.0 L301.1,164.4 L301.1,165.7 L301.0,167.0 L300.9,168.3 L300.8,169.6 L300.7,170.9 L300.7,172.2 L300.6,173.5 L300.5,174.8 L300.4,176.1 L300.4,177.4 L300.3,178.7 L300.2,180.0 L300.1,181.3 L300.0,182.6 L299.9,183.9 L299.7,185.2 L299.6,186.5 L299.4,187.8 L299.3,189.1 L299.1,190.4 L298.8,191.7 L298.5,193.0 L297.8,194.3 L296.8,195.6 L295.7,196.9 L294.4,198.2 L293.0,199.5 L291.7,200.8 L290.5,202.1 L289.4,203.5 L288.6,204.8 L287.8,206.1 L287.0,207.4 L286.2,208.7 L285.5,210.0 L284.8,211.3 L284.3,212.6 L284.0,213.9 L283.8,215.2 L284.1,216.5 L285.4,217.8 L287.5,219.1 L290.0,220.4 L292.8,221.7 L312.8,221.7 L315.6,220.4 L318.1,219.1 L320.2,217.8 L321.5,216.5 L321.8,215.2 L321.6,213.9 L321.3,212.6 L320.8,211.3 L320.1,210.0 L319.4,208.7 L318.6,207.4 L317.8,206.1 L317.0,204.8 L316.2,203.5 L315.1,202.1 L313.9,200.8 L312.6,199.5 L311.2,198.2 L309.9,196.9 L308.8,195.6 L307.8,194.3 L307.1,193.0 L306.8,191.7 L306.5,190.4 L306.3,189.1 L306.2,187.8 L306.0,186.5 L305.9,185.2 L305.7,183.9 L305.6,182.6 L305.5,181.3 L305.4,180.0 L305.3,178.7 L305.2,177.4 L305.2,176.1 L305.1,174.8 L305.0,173.5 L304.9,172.2 L304.9,170.9 L304.8,169.6 L304.7,168.3 L304.6,167.0 L304.5,165.7 L304.5,164.4 L304.4,163.0 L304.3,161.7 L304.2,160.4 L304.2,159.1 L304.1,157.8 L304.0,156.5 L304.0,155.2 L303.9,153.9 L303.9,152.6 L303.8,151.3 L303.8,150.0 L303.7,148.7 L303.7,147.4 L303.6,146.1 L303.6,144.8Z" fill="#f7d6d6" stroke="#d93a3a" stroke-width="1.2"/>
<g fill="#d93a3a"><circle cx="291.3" cy="203.9" r="1.45"/><circle cx="291.8" cy="194.6" r="1.45"/><circle cx="307.4" cy="220.9" r="1.45"/><circle cx="292.1" cy="197.4" r="1.45"/><circle cx="300.3" cy="202.0" r="1.45"/><circle cx="310.9" cy="206.3" r="1.45"/><circle cx="293.0" cy="188.0" r="1.45"/><circle cx="307.3" cy="198.8" r="1.45"/><circle cx="300.9" cy="206.8" r="1.45"/><circle cx="299.3" cy="211.0" r="1.45"/><circle cx="302.3" cy="208.8" r="1.45"/><circle cx="299.1" cy="204.5" r="1.45"/><circle cx="315.0" cy="213.4" r="1.45"/><circle cx="308.6" cy="214.1" r="1.45"/><circle cx="300.3" cy="201.5" r="1.45"/><circle cx="294.4" cy="199.5" r="1.45"/><circle cx="302.9" cy="211.8" r="1.45"/><circle cx="316.1" cy="205.8" r="1.45"/><circle cx="316.1" cy="216.1" r="1.45"/><circle cx="293.3" cy="153.7" r="1.45"/><circle cx="298.4" cy="209.5" r="1.45"/><circle cx="302.0" cy="204.6" r="1.45"/><circle cx="300.7" cy="199.2" r="1.45"/><circle cx="290.1" cy="217.1" r="1.45"/><circle cx="295.9" cy="198.0" r="1.45"/><circle cx="304.0" cy="215.8" r="1.45"/><circle cx="310.2" cy="216.7" r="1.45"/><circle cx="307.6" cy="220.9" r="1.45"/><circle cx="306.6" cy="187.2" r="1.45"/><circle cx="306.6" cy="194.1" r="1.45"/><circle cx="292.0" cy="180.1" r="1.45"/><circle cx="296.3" cy="202.8" r="1.45"/><circle cx="297.8" cy="217.9" r="1.45"/><circle cx="294.7" cy="212.8" r="1.45"/><circle cx="300.3" cy="193.9" r="1.45"/><circle cx="300.6" cy="185.9" r="1.45"/><circle cx="297.4" cy="214.1" r="1.45"/><circle cx="286.9" cy="211.6" r="1.45"/><circle cx="310.8" cy="147.7" r="1.45"/><circle cx="317.5" cy="211.1" r="1.45"/><circle cx="305.3" cy="197.4" r="1.45"/><circle cx="297.7" cy="202.2" r="1.45"/><circle cx="301.7" cy="184.2" r="1.45"/><circle cx="311.9" cy="222.0" r="1.45"/><circle cx="305.6" cy="207.1" r="1.45"/><circle cx="309.1" cy="211.1" r="1.45"/><circle cx="307.2" cy="198.2" r="1.45"/><circle cx="314.9" cy="204.5" r="1.45"/><circle cx="308.0" cy="212.9" r="1.45"/><circle cx="289.5" cy="215.1" r="1.45"/><circle cx="303.0" cy="218.2" r="1.45"/><circle cx="312.1" cy="200.3" r="1.45"/><circle cx="294.6" cy="199.9" r="1.45"/><circle cx="291.1" cy="205.2" r="1.45"/><circle cx="292.8" cy="202.1" r="1.45"/><circle cx="288.2" cy="216.1" r="1.45"/><circle cx="294.4" cy="204.1" r="1.45"/><circle cx="309.6" cy="204.4" r="1.45"/><circle cx="305.8" cy="208.6" r="1.45"/><circle cx="310.1" cy="210.5" r="1.45"/><circle cx="304.2" cy="204.4" r="1.45"/><circle cx="299.6" cy="151.8" r="1.45"/><circle cx="312.5" cy="214.8" r="1.45"/><circle cx="295.5" cy="187.9" r="1.45"/><circle cx="298.3" cy="217.3" r="1.45"/><circle cx="300.9" cy="200.6" r="1.45"/><circle cx="306.8" cy="200.3" r="1.45"/><circle cx="311.0" cy="210.1" r="1.45"/><circle cx="304.7" cy="218.8" r="1.45"/><circle cx="305.5" cy="204.6" r="1.45"/><circle cx="296.3" cy="208.5" r="1.45"/><circle cx="305.4" cy="206.5" r="1.45"/><circle cx="310.4" cy="186.9" r="1.45"/><circle cx="301.5" cy="202.0" r="1.45"/><circle cx="309.6" cy="219.2" r="1.45"/><circle cx="303.0" cy="219.8" r="1.45"/><circle cx="303.1" cy="200.8" r="1.45"/><circle cx="306.1" cy="218.1" r="1.45"/><circle cx="294.9" cy="156.5" r="1.45"/><circle cx="293.1" cy="214.8" r="1.45"/><circle cx="295.7" cy="162.0" r="1.45"/><circle cx="303.8" cy="206.9" r="1.45"/><circle cx="307.3" cy="205.7" r="1.45"/><circle cx="308.6" cy="207.0" r="1.45"/><circle cx="295.4" cy="219.8" r="1.45"/><circle cx="298.5" cy="204.8" r="1.45"/><circle cx="295.0" cy="159.0" r="1.45"/><circle cx="306.2" cy="186.6" r="1.45"/><circle cx="300.1" cy="214.5" r="1.45"/><circle cx="297.8" cy="189.4" r="1.45"/><circle cx="296.7" cy="173.8" r="1.45"/><circle cx="312.7" cy="197.3" r="1.45"/><circle cx="302.4" cy="221.5" r="1.45"/><circle cx="316.6" cy="207.1" r="1.45"/><circle cx="298.9" cy="193.1" r="1.45"/><circle cx="293.3" cy="213.0" r="1.45"/><circle cx="308.2" cy="204.3" r="1.45"/><circle cx="315.5" cy="209.7" r="1.45"/><circle cx="295.4" cy="221.6" r="1.45"/><circle cx="314.9" cy="212.9" r="1.45"/><circle cx="305.4" cy="209.0" r="1.45"/><circle cx="311.7" cy="222.1" r="1.45"/><circle cx="316.3" cy="209.1" r="1.45"/><circle cx="300.8" cy="206.9" r="1.45"/><circle cx="317.6" cy="216.5" r="1.45"/><circle cx="295.8" cy="220.7" r="1.45"/><circle cx="300.9" cy="213.9" r="1.45"/><circle cx="301.4" cy="204.4" r="1.45"/><circle cx="295.9" cy="206.2" r="1.45"/><circle cx="302.4" cy="152.8" r="1.45"/><circle cx="308.4" cy="200.7" r="1.45"/><circle cx="289.5" cy="214.7" r="1.45"/><circle cx="302.2" cy="208.8" r="1.45"/><circle cx="303.6" cy="217.2" r="1.45"/><circle cx="292.7" cy="212.4" r="1.45"/><circle cx="307.3" cy="210.3" r="1.45"/><circle cx="294.4" cy="215.3" r="1.45"/><circle cx="304.9" cy="208.0" r="1.45"/><circle cx="305.2" cy="212.2" r="1.45"/><circle cx="310.2" cy="208.7" r="1.45"/><circle cx="313.9" cy="204.7" r="1.45"/><circle cx="317.3" cy="214.7" r="1.45"/><circle cx="302.8" cy="177.4" r="1.45"/><circle cx="297.6" cy="221.2" r="1.45"/><circle cx="296.5" cy="220.0" r="1.45"/><circle cx="312.4" cy="216.4" r="1.45"/><circle cx="310.5" cy="208.5" r="1.45"/><circle cx="311.1" cy="207.3" r="1.45"/><circle cx="311.8" cy="206.0" r="1.45"/><circle cx="304.7" cy="207.8" r="1.45"/><circle cx="311.5" cy="198.2" r="1.45"/><circle cx="308.1" cy="215.8" r="1.45"/><circle cx="306.7" cy="218.3" r="1.45"/><circle cx="313.0" cy="209.0" r="1.45"/><circle cx="307.6" cy="217.7" r="1.45"/><circle cx="308.7" cy="201.9" r="1.45"/><circle cx="316.8" cy="217.2" r="1.45"/><circle cx="300.3" cy="220.1" r="1.45"/><circle cx="311.1" cy="212.3" r="1.45"/><circle cx="297.5" cy="219.5" r="1.45"/><circle cx="302.3" cy="213.7" r="1.45"/><circle cx="315.3" cy="212.9" r="1.45"/><circle cx="316.6" cy="207.9" r="1.45"/><circle cx="312.6" cy="174.3" r="1.45"/><circle cx="308.5" cy="189.7" r="1.45"/><circle cx="314.3" cy="216.9" r="1.45"/><circle cx="311.3" cy="196.5" r="1.45"/><circle cx="306.5" cy="213.5" r="1.45"/><circle cx="297.2" cy="194.3" r="1.45"/><circle cx="286.4" cy="214.7" r="1.45"/><circle cx="309.2" cy="220.0" r="1.45"/><circle cx="311.3" cy="211.9" r="1.45"/><circle cx="307.9" cy="168.5" r="1.45"/><circle cx="305.5" cy="214.9" r="1.45"/><circle cx="307.3" cy="207.3" r="1.45"/><circle cx="309.7" cy="217.7" r="1.45"/><circle cx="303.5" cy="192.3" r="1.45"/><circle cx="306.3" cy="201.9" r="1.45"/><circle cx="295.5" cy="219.4" r="1.45"/><circle cx="303.9" cy="217.0" r="1.45"/><circle cx="306.8" cy="218.0" r="1.45"/><circle cx="304.9" cy="209.1" r="1.45"/><circle cx="294.7" cy="212.5" r="1.45"/><circle cx="293.0" cy="219.5" r="1.45"/><circle cx="308.0" cy="213.0" r="1.45"/><circle cx="294.3" cy="182.2" r="1.45"/><circle cx="309.3" cy="193.5" r="1.45"/><circle cx="295.8" cy="147.5" r="1.45"/><circle cx="308.8" cy="186.3" r="1.45"/><circle cx="299.6" cy="163.6" r="1.45"/><circle cx="313.6" cy="206.0" r="1.45"/><circle cx="294.0" cy="210.9" r="1.45"/><circle cx="291.8" cy="217.4" r="1.45"/><circle cx="307.6" cy="206.4" r="1.45"/><circle cx="308.8" cy="193.9" r="1.45"/></g>
<text x="302.8" y="238.5" font-size="10.2" text-anchor="middle" fill="#2b2b2b" >HC</text>
<path d="M238.7,145.4 L238.7,143.6 L302.8,143.6 L302.8,145.4" fill="none" stroke="#444" stroke-width="0.8"/>
<text x="270.8" y="142.4" font-size="9" text-anchor="middle" fill="#2b2b2b" >ns</text>
<path d="M361.6,138.6 L361.6,227.2 L501,227.2" fill="none" stroke="#555" stroke-width="0.9"/>
<line x1="359.1" y1="143.6" x2="361.6" y2="143.6" stroke="#555" stroke-width="0.9"/>
<text x="358.1" y="147.1" font-size="10" text-anchor="end" fill="#2b2b2b" >80</text>
<line x1="359.1" y1="164.2" x2="361.6" y2="164.2" stroke="#555" stroke-width="0.9"/>
<text x="358.1" y="167.7" font-size="10" text-anchor="end" fill="#2b2b2b" >60</text>
<line x1="359.1" y1="185" x2="361.6" y2="185" stroke="#555" stroke-width="0.9"/>
<text x="358.1" y="188.5" font-size="10" text-anchor="end" fill="#2b2b2b" >40</text>
<line x1="359.1" y1="205.6" x2="361.6" y2="205.6" stroke="#555" stroke-width="0.9"/>
<text x="358.1" y="209.1" font-size="10" text-anchor="end" fill="#2b2b2b" >20</text>
<text x="342.5" y="182.0" font-size="9.3" text-anchor="middle" fill="#2b2b2b" transform="rotate(-90 342.5 182.0)" >Percentage(%)</text>
<line x1="399.6" y1="227.2" x2="399.6" y2="229.7" stroke="#555" stroke-width="0.9"/>
<path d="M398.6,155.0 L397.7,156.1 L396.8,157.2 L396.0,158.3 L395.2,159.3 L394.5,160.4 L393.9,161.5 L393.3,162.6 L392.7,163.7 L392.2,164.8 L391.7,165.8 L391.2,166.9 L390.9,168.0 L390.7,169.1 L390.6,170.2 L390.6,171.3 L390.6,172.4 L390.6,173.4 L390.6,174.5 L390.6,175.6 L390.6,176.7 L390.6,177.8 L390.5,178.9 L390.0,179.9 L389.2,181.0 L388.3,182.1 L387.2,183.2 L386.1,184.3 L385.1,185.4 L384.2,186.5 L383.3,187.5 L382.3,188.6 L381.2,189.7 L380.0,190.8 L378.9,191.9 L377.8,193.0 L376.8,194.1 L375.8,195.1 L375.0,196.2 L374.3,197.3 L373.9,198.4 L373.6,199.5 L373.6,200.6 L373.8,201.6 L374.0,202.7 L374.4,203.8 L374.8,204.9 L375.3,206.0 L375.9,207.1 L376.5,208.2 L377.1,209.2 L377.8,210.3 L378.6,211.4 L379.5,212.5 L380.6,213.6 L381.8,214.7 L383.1,215.7 L384.6,216.8 L386.1,217.9 L387.6,219.0 L411.6,219.0 L413.1,217.9 L414.6,216.8 L416.1,215.7 L417.4,214.7 L418.6,213.6 L419.7,212.5 L420.6,211.4 L421.4,210.3 L422.1,209.2 L422.7,208.2 L423.3,207.1 L423.9,206.0 L424.4,204.9 L424.8,203.8 L425.2,202.7 L425.4,201.6 L425.6,200.6 L425.6,199.5 L425.3,198.4 L424.9,197.3 L424.2,196.2 L423.4,195.1 L422.4,194.1 L421.4,193.0 L420.3,191.9 L419.2,190.8 L418.0,189.7 L416.9,188.6 L415.9,187.5 L415.0,186.5 L414.1,185.4 L413.1,184.3 L412.0,183.2 L410.9,182.1 L410.0,181.0 L409.2,179.9 L408.7,178.9 L408.6,177.8 L408.6,176.7 L408.6,175.6 L408.6,174.5 L408.6,173.4 L408.6,172.4 L408.6,171.3 L408.6,170.2 L408.5,169.1 L408.3,168.0 L408.0,166.9 L407.5,165.8 L407.0,164.8 L406.5,163.7 L405.9,162.6 L405.3,161.5 L404.7,160.4 L404.0,159.3 L403.2,158.3 L402.4,157.2 L401.5,156.1 L400.6,155.0Z" fill="#cde8f1" stroke="#45b3d8" stroke-width="1.2"/>
<g fill="#45b3d8"><circle cx="407.3" cy="193.1" r="1.45"/><circle cx="416.2" cy="197.6" r="1.45"/><circle cx="414.3" cy="203.6" r="1.45"/><circle cx="395.4" cy="191.0" r="1.45"/><circle cx="398.0" cy="195.3" r="1.45"/><circle cx="410.8" cy="200.2" r="1.45"/><circle cx="416.1" cy="191.9" r="1.45"/><circle cx="396.4" cy="181.1" r="1.45"/><circle cx="415.0" cy="212.6" r="1.45"/><circle cx="404.0" cy="177.8" r="1.45"/><circle cx="391.5" cy="218.5" r="1.45"/><circle cx="397.9" cy="209.8" r="1.45"/><circle cx="382.7" cy="196.7" r="1.45"/><circle cx="396.5" cy="211.7" r="1.45"/><circle cx="400.1" cy="169.6" r="1.45"/><circle cx="409.7" cy="200.3" r="1.45"/><circle cx="393.8" cy="193.3" r="1.45"/><circle cx="404.7" cy="191.9" r="1.45"/><circle cx="405.1" cy="212.0" r="1.45"/><circle cx="400.1" cy="167.1" r="1.45"/><circle cx="403.5" cy="210.5" r="1.45"/><circle cx="398.7" cy="172.4" r="1.45"/><circle cx="403.4" cy="204.8" r="1.45"/><circle cx="398.3" cy="190.9" r="1.45"/><circle cx="413.6" cy="199.6" r="1.45"/><circle cx="386.8" cy="214.1" r="1.45"/><circle cx="412.0" cy="208.2" r="1.45"/><circle cx="405.0" cy="175.8" r="1.45"/><circle cx="383.0" cy="191.6" r="1.45"/><circle cx="407.0" cy="198.5" r="1.45"/><circle cx="394.9" cy="205.8" r="1.45"/><circle cx="399.8" cy="159.7" r="1.45"/><circle cx="400.2" cy="210.9" r="1.45"/><circle cx="407.6" cy="209.8" r="1.45"/><circle cx="399.2" cy="216.4" r="1.45"/><circle cx="403.3" cy="186.1" r="1.45"/><circle cx="391.6" cy="187.0" r="1.45"/><circle cx="385.0" cy="210.2" r="1.45"/><circle cx="405.3" cy="199.6" r="1.45"/><circle cx="415.4" cy="189.2" r="1.45"/><circle cx="390.3" cy="162.7" r="1.45"/><circle cx="410.9" cy="186.3" r="1.45"/><circle cx="395.7" cy="204.8" r="1.45"/><circle cx="404.8" cy="205.6" r="1.45"/><circle cx="391.6" cy="194.2" r="1.45"/><circle cx="406.1" cy="212.9" r="1.45"/><circle cx="397.4" cy="199.4" r="1.45"/><circle cx="409.6" cy="199.5" r="1.45"/><circle cx="392.0" cy="194.3" r="1.45"/><circle cx="393.9" cy="195.8" r="1.45"/><circle cx="403.9" cy="193.9" r="1.45"/><circle cx="386.2" cy="209.1" r="1.45"/><circle cx="415.8" cy="197.3" r="1.45"/><circle cx="402.8" cy="188.0" r="1.45"/><circle cx="415.7" cy="196.5" r="1.45"/><circle cx="389.5" cy="214.9" r="1.45"/><circle cx="406.7" cy="202.6" r="1.45"/><circle cx="393.0" cy="175.3" r="1.45"/><circle cx="385.4" cy="196.7" r="1.45"/><circle cx="397.7" cy="197.1" r="1.45"/><circle cx="399.0" cy="162.2" r="1.45"/><circle cx="401.3" cy="215.6" r="1.45"/><circle cx="398.5" cy="214.2" r="1.45"/><circle cx="392.9" cy="175.2" r="1.45"/><circle cx="405.8" cy="200.6" r="1.45"/><circle cx="391.6" cy="192.2" r="1.45"/><circle cx="393.8" cy="186.6" r="1.45"/><circle cx="409.2" cy="190.3" r="1.45"/><circle cx="403.6" cy="169.0" r="1.45"/><circle cx="407.3" cy="204.1" r="1.45"/><circle cx="413.9" cy="194.8" r="1.45"/><circle cx="411.6" cy="205.7" r="1.45"/><circle cx="390.1" cy="208.9" r="1.45"/><circle cx="415.8" cy="200.6" r="1.45"/><circle cx="400.3" cy="193.2" r="1.45"/><circle cx="400.9" cy="181.1" r="1.45"/><circle cx="392.1" cy="203.6" r="1.45"/><circle cx="395.8" cy="203.9" r="1.45"/><circle cx="401.5" cy="208.5" r="1.45"/><circle cx="389.3" cy="179.9" r="1.45"/><circle cx="404.4" cy="168.0" r="1.45"/><circle cx="394.5" cy="212.3" r="1.45"/><circle cx="406.1" cy="201.4" r="1.45"/><circle cx="404.7" cy="174.5" r="1.45"/><circle cx="403.6" cy="205.7" r="1.45"/><circle cx="390.2" cy="169.9" r="1.45"/><circle cx="401.7" cy="202.6" r="1.45"/><circle cx="394.7" cy="200.3" r="1.45"/><circle cx="406.9" cy="206.4" r="1.45"/><circle cx="404.2" cy="173.8" r="1.45"/><circle cx="399.7" cy="213.9" r="1.45"/><circle cx="406.9" cy="214.8" r="1.45"/><circle cx="390.5" cy="217.5" r="1.45"/><circle cx="410.3" cy="208.2" r="1.45"/><circle cx="415.6" cy="191.7" r="1.45"/><circle cx="410.3" cy="217.0" r="1.45"/><circle cx="410.2" cy="201.9" r="1.45"/><circle cx="396.4" cy="206.2" r="1.45"/><circle cx="414.3" cy="204.1" r="1.45"/><circle cx="401.3" cy="186.0" r="1.45"/><circle cx="389.9" cy="210.8" r="1.45"/><circle cx="401.0" cy="203.1" r="1.45"/><circle cx="410.0" cy="187.8" r="1.45"/><circle cx="405.7" cy="194.4" r="1.45"/><circle cx="406.9" cy="181.2" r="1.45"/><circle cx="383.8" cy="197.2" r="1.45"/><circle cx="411.2" cy="217.8" r="1.45"/><circle cx="414.0" cy="195.5" r="1.45"/><circle cx="399.7" cy="195.2" r="1.45"/><circle cx="414.0" cy="209.1" r="1.45"/><circle cx="392.6" cy="172.4" r="1.45"/><circle cx="396.6" cy="178.2" r="1.45"/><circle cx="388.3" cy="207.2" r="1.45"/><circle cx="403.3" cy="179.5" r="1.45"/><circle cx="413.8" cy="202.7" r="1.45"/><circle cx="414.3" cy="209.3" r="1.45"/><circle cx="385.3" cy="199.9" r="1.45"/><circle cx="405.5" cy="173.1" r="1.45"/><circle cx="401.2" cy="186.4" r="1.45"/><circle cx="390.1" cy="200.1" r="1.45"/><circle cx="411.1" cy="215.9" r="1.45"/><circle cx="400.6" cy="202.9" r="1.45"/><circle cx="384.0" cy="204.7" r="1.45"/><circle cx="395.4" cy="201.0" r="1.45"/><circle cx="405.8" cy="192.8" r="1.45"/><circle cx="411.5" cy="202.7" r="1.45"/><circle cx="393.0" cy="160.7" r="1.45"/><circle cx="402.7" cy="196.4" r="1.45"/><circle cx="385.5" cy="208.9" r="1.45"/><circle cx="410.4" cy="185.5" r="1.45"/><circle cx="382.9" cy="203.3" r="1.45"/><circle cx="415.6" cy="205.3" r="1.45"/><circle cx="401.0" cy="182.1" r="1.45"/><circle cx="408.2" cy="210.6" r="1.45"/><circle cx="404.7" cy="188.2" r="1.45"/><circle cx="399.8" cy="216.6" r="1.45"/><circle cx="397.5" cy="193.5" r="1.45"/><circle cx="389.7" cy="202.8" r="1.45"/><circle cx="393.5" cy="216.2" r="1.45"/><circle cx="385.8" cy="209.1" r="1.45"/><circle cx="391.7" cy="199.0" r="1.45"/><circle cx="403.7" cy="185.9" r="1.45"/><circle cx="401.4" cy="202.4" r="1.45"/><circle cx="401.9" cy="202.3" r="1.45"/><circle cx="400.2" cy="170.3" r="1.45"/><circle cx="414.8" cy="194.0" r="1.45"/><circle cx="411.5" cy="213.3" r="1.45"/><circle cx="391.6" cy="199.3" r="1.45"/><circle cx="401.0" cy="184.8" r="1.45"/><circle cx="415.5" cy="203.4" r="1.45"/><circle cx="391.7" cy="197.5" r="1.45"/><circle cx="406.4" cy="212.8" r="1.45"/><circle cx="404.6" cy="197.9" r="1.45"/><circle cx="403.3" cy="164.4" r="1.45"/><circle cx="400.9" cy="183.2" r="1.45"/><circle cx="405.3" cy="183.9" r="1.45"/><circle cx="395.7" cy="215.0" r="1.45"/><circle cx="414.5" cy="193.5" r="1.45"/><circle cx="401.9" cy="193.9" r="1.45"/><circle cx="395.5" cy="217.4" r="1.45"/><circle cx="403.3" cy="185.9" r="1.45"/><circle cx="405.9" cy="203.4" r="1.45"/><circle cx="413.1" cy="214.6" r="1.45"/><circle cx="404.2" cy="213.0" r="1.45"/><circle cx="400.1" cy="182.7" r="1.45"/><circle cx="394.6" cy="198.3" r="1.45"/><circle cx="397.2" cy="189.1" r="1.45"/><circle cx="392.3" cy="205.5" r="1.45"/><circle cx="403.5" cy="189.4" r="1.45"/><circle cx="408.2" cy="184.0" r="1.45"/><circle cx="402.7" cy="189.6" r="1.45"/><circle cx="393.1" cy="179.4" r="1.45"/><circle cx="383.8" cy="205.8" r="1.45"/><circle cx="412.3" cy="189.9" r="1.45"/><circle cx="392.6" cy="194.7" r="1.45"/></g>
<text x="399.6" y="238.5" font-size="10.2" text-anchor="middle" fill="#2b2b2b" >ATB</text>
<line x1="463.3" y1="227.2" x2="463.3" y2="229.7" stroke="#555" stroke-width="0.9"/>
<path d="M460.3,144.8 L460.0,146.1 L459.8,147.4 L459.5,148.7 L459.2,150.0 L458.9,151.3 L458.5,152.6 L458.2,153.9 L457.8,155.2 L457.5,156.5 L457.1,157.8 L456.7,159.1 L456.3,160.4 L455.9,161.7 L455.5,163.0 L455.1,164.4 L454.7,165.7 L454.2,167.0 L453.7,168.3 L453.3,169.6 L452.8,170.9 L452.3,172.2 L451.8,173.5 L451.2,174.8 L450.6,176.1 L449.9,177.4 L449.2,178.7 L448.4,180.0 L447.6,181.3 L446.9,182.6 L446.3,183.9 L445.8,185.2 L445.4,186.5 L445.2,187.8 L445.0,189.1 L444.8,190.4 L444.6,191.7 L444.4,193.0 L444.2,194.3 L444.1,195.6 L444.0,196.9 L443.9,198.2 L443.8,199.5 L443.8,200.8 L443.8,202.1 L443.9,203.5 L444.2,204.8 L444.7,206.1 L445.3,207.4 L445.9,208.7 L446.7,210.0 L447.5,211.3 L448.3,212.6 L449.1,213.9 L449.9,215.2 L450.8,216.5 L451.8,217.8 L452.9,219.1 L454.1,220.4 L455.3,221.7 L471.3,221.7 L472.5,220.4 L473.7,219.1 L474.8,217.8 L475.8,216.5 L476.7,215.2 L477.5,213.9 L478.3,212.6 L479.1,211.3 L479.9,210.0 L480.7,208.7 L481.3,207.4 L481.9,206.1 L482.4,204.8 L482.7,203.5 L482.8,202.1 L482.8,200.8 L482.8,199.5 L482.7,198.2 L482.6,196.9 L482.5,195.6 L482.4,194.3 L482.2,193.0 L482.0,191.7 L481.8,190.4 L481.6,189.1 L481.4,187.8 L481.2,186.5 L480.8,185.2 L480.3,183.9 L479.7,182.6 L479.0,181.3 L478.2,180.0 L477.4,178.7 L476.7,177.4 L476.0,176.1 L475.4,174.8 L474.8,173.5 L474.3,172.2 L473.8,170.9 L473.3,169.6 L472.9,168.3 L472.4,167.0 L471.9,165.7 L471.5,164.4 L471.1,163.0 L470.7,161.7 L470.3,160.4 L469.9,159.1 L469.5,157.8 L469.1,156.5 L468.8,155.2 L468.4,153.9 L468.1,152.6 L467.7,151.3 L467.4,150.0 L467.1,148.7 L466.8,147.4 L466.6,146.1 L466.3,144.8Z" fill="#f7d6d6" stroke="#d93a3a" stroke-width="1.2"/>
<g fill="#d93a3a"><circle cx="458.2" cy="202.2" r="1.45"/><circle cx="464.6" cy="216.5" r="1.45"/><circle cx="472.8" cy="215.2" r="1.45"/><circle cx="469.2" cy="196.6" r="1.45"/><circle cx="457.9" cy="214.0" r="1.45"/><circle cx="456.3" cy="189.1" r="1.45"/><circle cx="473.7" cy="215.8" r="1.45"/><circle cx="469.1" cy="201.5" r="1.45"/><circle cx="453.5" cy="166.0" r="1.45"/><circle cx="455.5" cy="207.6" r="1.45"/><circle cx="464.6" cy="173.7" r="1.45"/><circle cx="456.5" cy="221.4" r="1.45"/><circle cx="462.5" cy="160.9" r="1.45"/><circle cx="468.9" cy="205.8" r="1.45"/><circle cx="454.2" cy="173.6" r="1.45"/><circle cx="454.9" cy="195.1" r="1.45"/><circle cx="475.7" cy="187.8" r="1.45"/><circle cx="450.3" cy="211.4" r="1.45"/><circle cx="451.8" cy="182.7" r="1.45"/><circle cx="474.2" cy="203.9" r="1.45"/><circle cx="467.4" cy="216.0" r="1.45"/><circle cx="462.7" cy="163.5" r="1.45"/><circle cx="475.5" cy="203.4" r="1.45"/><circle cx="456.9" cy="166.6" r="1.45"/><circle cx="446.8" cy="206.3" r="1.45"/><circle cx="472.7" cy="209.7" r="1.45"/><circle cx="466.3" cy="172.4" r="1.45"/><circle cx="458.8" cy="212.3" r="1.45"/><circle cx="466.0" cy="190.5" r="1.45"/><circle cx="450.6" cy="183.6" r="1.45"/><circle cx="459.2" cy="217.6" r="1.45"/><circle cx="465.5" cy="188.4" r="1.45"/><circle cx="471.7" cy="177.7" r="1.45"/><circle cx="457.6" cy="184.5" r="1.45"/><circle cx="451.9" cy="213.6" r="1.45"/><circle cx="454.2" cy="220.3" r="1.45"/><circle cx="456.8" cy="192.0" r="1.45"/><circle cx="467.6" cy="193.7" r="1.45"/><circle cx="470.3" cy="198.4" r="1.45"/><circle cx="469.3" cy="209.3" r="1.45"/><circle cx="471.5" cy="149.5" r="1.45"/><circle cx="469.2" cy="207.4" r="1.45"/><circle cx="467.1" cy="218.1" r="1.45"/><circle cx="466.4" cy="188.7" r="1.45"/><circle cx="468.9" cy="191.0" r="1.45"/><circle cx="468.4" cy="217.2" r="1.45"/><circle cx="479.1" cy="189.9" r="1.45"/><circle cx="452.9" cy="187.4" r="1.45"/><circle cx="467.5" cy="210.2" r="1.45"/><circle cx="450.6" cy="191.6" r="1.45"/><circle cx="453.3" cy="199.3" r="1.45"/><circle cx="475.8" cy="182.4" r="1.45"/><circle cx="460.1" cy="201.8" r="1.45"/><circle cx="465.5" cy="187.9" r="1.45"/><circle cx="453.6" cy="205.9" r="1.45"/><circle cx="463.6" cy="192.6" r="1.45"/><circle cx="451.4" cy="214.5" r="1.45"/><circle cx="466.0" cy="195.4" r="1.45"/><circle cx="477.2" cy="209.4" r="1.45"/><circle cx="469.6" cy="191.3" r="1.45"/><circle cx="468.9" cy="200.7" r="1.45"/><circle cx="464.9" cy="181.7" r="1.45"/><circle cx="457.2" cy="197.8" r="1.45"/><circle cx="472.6" cy="201.3" r="1.45"/><circle cx="460.6" cy="177.5" r="1.45"/><circle cx="457.7" cy="195.6" r="1.45"/><circle cx="464.5" cy="213.6" r="1.45"/><circle cx="474.5" cy="176.9" r="1.45"/><circle cx="471.3" cy="193.2" r="1.45"/><circle cx="468.7" cy="209.2" r="1.45"/><circle cx="451.0" cy="189.7" r="1.45"/><circle cx="470.1" cy="155.4" r="1.45"/><circle cx="460.7" cy="194.5" r="1.45"/><circle cx="467.6" cy="191.5" r="1.45"/><circle cx="464.8" cy="214.5" r="1.45"/><circle cx="473.0" cy="200.6" r="1.45"/><circle cx="447.8" cy="206.5" r="1.45"/><circle cx="450.2" cy="187.1" r="1.45"/><circle cx="457.5" cy="213.2" r="1.45"/><circle cx="454.0" cy="208.6" r="1.45"/><circle cx="467.3" cy="166.4" r="1.45"/><circle cx="450.3" cy="201.6" r="1.45"/><circle cx="452.6" cy="213.3" r="1.45"/><circle cx="464.3" cy="200.9" r="1.45"/><circle cx="453.8" cy="217.8" r="1.45"/><circle cx="471.8" cy="182.2" r="1.45"/><circle cx="457.5" cy="197.8" r="1.45"/><circle cx="456.6" cy="194.9" r="1.45"/><circle cx="466.2" cy="183.1" r="1.45"/><circle cx="479.4" cy="205.6" r="1.45"/><circle cx="456.1" cy="189.5" r="1.45"/><circle cx="454.0" cy="199.8" r="1.45"/><circle cx="458.9" cy="206.0" r="1.45"/><circle cx="472.8" cy="203.8" r="1.45"/><circle cx="472.8" cy="167.8" r="1.45"/><circle cx="455.7" cy="160.5" r="1.45"/><circle cx="448.2" cy="207.6" r="1.45"/><circle cx="456.7" cy="199.5" r="1.45"/><circle cx="459.4" cy="172.2" r="1.45"/><circle cx="468.7" cy="170.9" r="1.45"/><circle cx="469.4" cy="193.6" r="1.45"/><circle cx="468.7" cy="175.1" r="1.45"/><circle cx="460.8" cy="215.6" r="1.45"/><circle cx="461.4" cy="179.9" r="1.45"/><circle cx="473.5" cy="216.1" r="1.45"/><circle cx="447.9" cy="202.5" r="1.45"/><circle cx="447.0" cy="195.6" r="1.45"/><circle cx="446.9" cy="201.3" r="1.45"/><circle cx="474.1" cy="202.9" r="1.45"/><circle cx="463.8" cy="183.7" r="1.45"/><circle cx="469.9" cy="193.4" r="1.45"/><circle cx="466.7" cy="163.7" r="1.45"/><circle cx="470.2" cy="159.2" r="1.45"/><circle cx="464.0" cy="215.9" r="1.45"/><circle cx="458.1" cy="209.7" r="1.45"/><circle cx="450.1" cy="204.5" r="1.45"/><circle cx="461.3" cy="168.4" r="1.45"/><circle cx="452.9" cy="199.3" r="1.45"/><circle cx="477.8" cy="204.0" r="1.45"/><circle cx="472.0" cy="189.6" r="1.45"/><circle cx="456.3" cy="187.5" r="1.45"/><circle cx="463.7" cy="203.2" r="1.45"/><circle cx="462.6" cy="149.4" r="1.45"/><circle cx="466.8" cy="191.9" r="1.45"/><circle cx="475.8" cy="181.0" r="1.45"/><circle cx="455.7" cy="191.6" r="1.45"/><circle cx="467.2" cy="195.6" r="1.45"/><circle cx="463.4" cy="189.7" r="1.45"/><circle cx="476.5" cy="210.8" r="1.45"/><circle cx="455.3" cy="211.2" r="1.45"/><circle cx="468.3" cy="204.9" r="1.45"/><circle cx="449.9" cy="207.0" r="1.45"/><circle cx="464.8" cy="193.2" r="1.45"/><circle cx="476.5" cy="181.8" r="1.45"/><circle cx="470.3" cy="208.1" r="1.45"/><circle cx="453.0" cy="169.1" r="1.45"/><circle cx="479.8" cy="198.4" r="1.45"/><circle cx="464.7" cy="198.8" r="1.45"/><circle cx="465.1" cy="168.7" r="1.45"/><circle cx="474.6" cy="178.5" r="1.45"/><circle cx="466.2" cy="200.7" r="1.45"/><circle cx="454.8" cy="209.6" r="1.45"/><circle cx="461.0" cy="188.3" r="1.45"/><circle cx="471.8" cy="195.1" r="1.45"/><circle cx="459.8" cy="202.8" r="1.45"/><circle cx="452.0" cy="196.8" r="1.45"/><circle cx="459.6" cy="192.1" r="1.45"/><circle cx="449.8" cy="199.9" r="1.45"/><circle cx="449.7" cy="202.8" r="1.45"/><circle cx="451.0" cy="207.4" r="1.45"/><circle cx="463.6" cy="196.8" r="1.45"/><circle cx="457.2" cy="200.9" r="1.45"/><circle cx="455.8" cy="176.8" r="1.45"/><circle cx="468.6" cy="174.5" r="1.45"/><circle cx="466.9" cy="207.6" r="1.45"/><circle cx="471.4" cy="178.5" r="1.45"/><circle cx="451.9" cy="191.3" r="1.45"/><circle cx="466.7" cy="211.3" r="1.45"/><circle cx="458.1" cy="173.3" r="1.45"/><circle cx="463.1" cy="201.5" r="1.45"/><circle cx="461.8" cy="181.1" r="1.45"/><circle cx="466.1" cy="199.4" r="1.45"/><circle cx="465.5" cy="208.5" r="1.45"/><circle cx="476.6" cy="208.2" r="1.45"/><circle cx="467.5" cy="205.7" r="1.45"/><circle cx="458.3" cy="194.8" r="1.45"/><circle cx="473.3" cy="196.0" r="1.45"/><circle cx="455.8" cy="175.3" r="1.45"/><circle cx="469.4" cy="170.5" r="1.45"/><circle cx="465.9" cy="205.1" r="1.45"/><circle cx="458.0" cy="161.3" r="1.45"/><circle cx="469.6" cy="214.7" r="1.45"/><circle cx="454.1" cy="177.1" r="1.45"/><circle cx="447.5" cy="203.8" r="1.45"/><circle cx="455.6" cy="191.8" r="1.45"/></g>
<text x="463.3" y="238.5" font-size="10.2" text-anchor="middle" fill="#2b2b2b" >HC</text>
<path d="M399.6,144.60000000000002 L399.6,142.8 L463.3,142.8 L463.3,144.60000000000002" fill="none" stroke="#444" stroke-width="0.8"/>
<text x="431.5" y="141.6" font-size="9" text-anchor="middle" fill="#2b2b2b" >ns</text>
<path d="M534.4,138.4 L534.4,227.2 L673,227.2" fill="none" stroke="#555" stroke-width="0.9"/>
<line x1="531.9" y1="145.5" x2="534.4" y2="145.5" stroke="#555" stroke-width="0.9"/>
<text x="530.9" y="149.0" font-size="10" text-anchor="end" fill="#2b2b2b" >60</text>
<line x1="531.9" y1="171.2" x2="534.4" y2="171.2" stroke="#555" stroke-width="0.9"/>
<text x="530.9" y="174.7" font-size="10" text-anchor="end" fill="#2b2b2b" >40</text>
<line x1="531.9" y1="197.5" x2="534.4" y2="197.5" stroke="#555" stroke-width="0.9"/>
<text x="530.9" y="201.0" font-size="10" text-anchor="end" fill="#2b2b2b" >20</text>
<line x1="531.9" y1="223.3" x2="534.4" y2="223.3" stroke="#555" stroke-width="0.9"/>
<text x="530.9" y="226.8" font-size="10" text-anchor="end" fill="#2b2b2b" >0</text>
<text x="516.5" y="183.0" font-size="9.3" text-anchor="middle" fill="#2b2b2b" transform="rotate(-90 516.5 183.0)" >Percentage(%)</text>
<line x1="573.3" y1="227.2" x2="573.3" y2="229.7" stroke="#555" stroke-width="0.9"/>
<path d="M571.8,145.0 L571.7,146.3 L571.6,147.5 L571.5,148.8 L571.3,150.1 L571.2,151.4 L571.1,152.6 L571.0,153.9 L570.8,155.2 L570.7,156.4 L570.6,157.7 L570.4,159.0 L570.3,160.3 L570.1,161.5 L570.0,162.8 L569.9,164.1 L569.7,165.3 L569.6,166.6 L569.4,167.9 L569.3,169.2 L569.1,170.4 L568.9,171.7 L568.7,173.0 L568.5,174.2 L568.2,175.5 L567.8,176.8 L567.2,178.1 L566.6,179.3 L565.9,180.6 L565.1,181.9 L564.3,183.1 L563.5,184.4 L562.7,185.7 L561.9,186.9 L561.2,188.2 L560.4,189.5 L559.5,190.8 L558.6,192.0 L557.7,193.3 L556.7,194.6 L555.7,195.8 L554.8,197.1 L553.8,198.4 L553.0,199.7 L552.2,200.9 L551.5,202.2 L551.0,203.5 L550.6,204.7 L550.4,206.0 L550.3,207.3 L550.4,208.6 L550.7,209.8 L551.2,211.1 L551.8,212.4 L552.6,213.6 L553.5,214.9 L554.5,216.2 L555.7,217.5 L556.9,218.7 L558.3,220.0 L588.3,220.0 L589.7,218.7 L590.9,217.5 L592.1,216.2 L593.1,214.9 L594.0,213.6 L594.8,212.4 L595.4,211.1 L595.9,209.8 L596.2,208.6 L596.3,207.3 L596.2,206.0 L596.0,204.7 L595.6,203.5 L595.1,202.2 L594.4,200.9 L593.6,199.7 L592.8,198.4 L591.8,197.1 L590.9,195.8 L589.9,194.6 L588.9,193.3 L588.0,192.0 L587.1,190.8 L586.2,189.5 L585.4,188.2 L584.7,186.9 L583.9,185.7 L583.1,184.4 L582.3,183.1 L581.5,181.9 L580.7,180.6 L580.0,179.3 L579.4,178.1 L578.8,176.8 L578.4,175.5 L578.1,174.2 L577.9,173.0 L577.7,171.7 L577.5,170.4 L577.3,169.2 L577.2,167.9 L577.0,166.6 L576.9,165.3 L576.7,164.1 L576.6,162.8 L576.5,161.5 L576.3,160.3 L576.2,159.0 L576.0,157.7 L575.9,156.4 L575.8,155.2 L575.6,153.9 L575.5,152.6 L575.4,151.4 L575.3,150.1 L575.1,148.8 L575.0,147.5 L574.9,146.3 L574.8,145.0Z" fill="#cde8f1" stroke="#45b3d8" stroke-width="1.2"/>
<g fill="#45b3d8"><circle cx="576.9" cy="202.4" r="1.45"/><circle cx="559.3" cy="206.5" r="1.45"/><circle cx="559.3" cy="196.7" r="1.45"/><circle cx="561.3" cy="205.0" r="1.45"/><circle cx="573.2" cy="218.7" r="1.45"/><circle cx="576.9" cy="219.3" r="1.45"/><circle cx="590.2" cy="208.9" r="1.45"/><circle cx="586.0" cy="195.9" r="1.45"/><circle cx="581.4" cy="201.6" r="1.45"/><circle cx="569.3" cy="213.0" r="1.45"/><circle cx="568.0" cy="214.4" r="1.45"/><circle cx="579.6" cy="217.4" r="1.45"/><circle cx="568.1" cy="198.6" r="1.45"/><circle cx="582.3" cy="197.9" r="1.45"/><circle cx="581.0" cy="197.5" r="1.45"/><circle cx="560.4" cy="210.9" r="1.45"/><circle cx="583.1" cy="217.2" r="1.45"/><circle cx="559.5" cy="204.3" r="1.45"/><circle cx="567.1" cy="201.4" r="1.45"/><circle cx="589.5" cy="208.4" r="1.45"/><circle cx="578.4" cy="200.5" r="1.45"/><circle cx="585.4" cy="205.1" r="1.45"/><circle cx="583.3" cy="189.7" r="1.45"/><circle cx="568.1" cy="182.0" r="1.45"/><circle cx="583.4" cy="199.1" r="1.45"/><circle cx="569.5" cy="194.7" r="1.45"/><circle cx="563.7" cy="187.5" r="1.45"/><circle cx="561.6" cy="218.6" r="1.45"/><circle cx="560.6" cy="208.5" r="1.45"/><circle cx="577.8" cy="198.7" r="1.45"/><circle cx="577.0" cy="220.4" r="1.45"/><circle cx="580.9" cy="183.5" r="1.45"/><circle cx="566.3" cy="198.0" r="1.45"/><circle cx="582.2" cy="215.4" r="1.45"/><circle cx="566.3" cy="218.4" r="1.45"/><circle cx="567.0" cy="212.5" r="1.45"/><circle cx="577.0" cy="189.9" r="1.45"/><circle cx="569.6" cy="204.9" r="1.45"/><circle cx="584.3" cy="177.6" r="1.45"/><circle cx="569.3" cy="175.0" r="1.45"/><circle cx="564.4" cy="214.0" r="1.45"/><circle cx="581.6" cy="148.4" r="1.45"/><circle cx="581.5" cy="181.6" r="1.45"/><circle cx="565.9" cy="182.7" r="1.45"/><circle cx="567.8" cy="209.4" r="1.45"/><circle cx="573.6" cy="207.6" r="1.45"/><circle cx="562.5" cy="190.9" r="1.45"/><circle cx="568.9" cy="200.2" r="1.45"/><circle cx="581.8" cy="217.7" r="1.45"/><circle cx="579.9" cy="190.6" r="1.45"/><circle cx="565.6" cy="175.9" r="1.45"/><circle cx="566.6" cy="207.6" r="1.45"/><circle cx="568.2" cy="182.5" r="1.45"/><circle cx="579.6" cy="204.7" r="1.45"/><circle cx="562.9" cy="193.4" r="1.45"/><circle cx="584.0" cy="165.9" r="1.45"/><circle cx="560.2" cy="208.4" r="1.45"/><circle cx="574.3" cy="209.9" r="1.45"/><circle cx="579.9" cy="196.4" r="1.45"/><circle cx="583.2" cy="187.3" r="1.45"/><circle cx="576.7" cy="218.3" r="1.45"/><circle cx="583.0" cy="192.8" r="1.45"/><circle cx="574.2" cy="193.7" r="1.45"/><circle cx="563.8" cy="197.9" r="1.45"/><circle cx="571.1" cy="193.0" r="1.45"/><circle cx="576.2" cy="192.7" r="1.45"/><circle cx="574.3" cy="216.6" r="1.45"/><circle cx="579.5" cy="179.5" r="1.45"/><circle cx="574.6" cy="212.5" r="1.45"/><circle cx="569.3" cy="204.5" r="1.45"/><circle cx="573.6" cy="166.8" r="1.45"/><circle cx="573.7" cy="186.5" r="1.45"/><circle cx="556.6" cy="207.1" r="1.45"/><circle cx="567.5" cy="205.6" r="1.45"/><circle cx="575.4" cy="193.6" r="1.45"/><circle cx="579.8" cy="195.1" r="1.45"/><circle cx="570.9" cy="216.2" r="1.45"/><circle cx="581.7" cy="210.4" r="1.45"/><circle cx="573.4" cy="207.1" r="1.45"/><circle cx="569.1" cy="217.2" r="1.45"/><circle cx="566.7" cy="191.6" r="1.45"/><circle cx="582.8" cy="196.2" r="1.45"/><circle cx="587.6" cy="213.2" r="1.45"/><circle cx="581.1" cy="200.9" r="1.45"/><circle cx="563.8" cy="200.4" r="1.45"/><circle cx="580.3" cy="212.1" r="1.45"/><circle cx="573.4" cy="220.8" r="1.45"/><circle cx="587.7" cy="215.6" r="1.45"/><circle cx="556.5" cy="210.5" r="1.45"/><circle cx="582.6" cy="201.8" r="1.45"/><circle cx="572.2" cy="209.0" r="1.45"/><circle cx="583.0" cy="192.8" r="1.45"/><circle cx="576.3" cy="193.2" r="1.45"/><circle cx="561.3" cy="190.4" r="1.45"/><circle cx="579.8" cy="208.6" r="1.45"/><circle cx="574.3" cy="217.5" r="1.45"/><circle cx="564.4" cy="210.2" r="1.45"/><circle cx="562.2" cy="194.1" r="1.45"/><circle cx="569.8" cy="208.0" r="1.45"/><circle cx="575.4" cy="197.5" r="1.45"/><circle cx="572.6" cy="213.4" r="1.45"/><circle cx="556.9" cy="202.9" r="1.45"/><circle cx="563.2" cy="193.7" r="1.45"/><circle cx="578.9" cy="195.4" r="1.45"/><circle cx="574.3" cy="179.5" r="1.45"/><circle cx="581.6" cy="198.5" r="1.45"/><circle cx="570.5" cy="196.7" r="1.45"/><circle cx="565.0" cy="201.0" r="1.45"/><circle cx="583.4" cy="207.8" r="1.45"/><circle cx="563.8" cy="216.3" r="1.45"/><circle cx="558.4" cy="212.1" r="1.45"/><circle cx="568.8" cy="205.3" r="1.45"/><circle cx="571.6" cy="199.0" r="1.45"/><circle cx="566.9" cy="187.7" r="1.45"/><circle cx="588.8" cy="205.6" r="1.45"/><circle cx="567.4" cy="175.2" r="1.45"/><circle cx="565.0" cy="173.1" r="1.45"/><circle cx="578.8" cy="207.3" r="1.45"/><circle cx="565.4" cy="188.0" r="1.45"/><circle cx="565.8" cy="213.1" r="1.45"/><circle cx="570.4" cy="208.5" r="1.45"/><circle cx="565.6" cy="203.7" r="1.45"/><circle cx="578.3" cy="217.1" r="1.45"/><circle cx="565.4" cy="185.7" r="1.45"/><circle cx="578.0" cy="196.8" r="1.45"/><circle cx="560.2" cy="203.0" r="1.45"/><circle cx="575.6" cy="219.0" r="1.45"/><circle cx="583.8" cy="178.3" r="1.45"/><circle cx="583.1" cy="206.0" r="1.45"/><circle cx="588.5" cy="215.9" r="1.45"/><circle cx="574.3" cy="186.3" r="1.45"/><circle cx="561.7" cy="209.7" r="1.45"/><circle cx="568.9" cy="209.5" r="1.45"/><circle cx="582.7" cy="198.2" r="1.45"/><circle cx="560.8" cy="203.7" r="1.45"/><circle cx="578.7" cy="216.7" r="1.45"/><circle cx="567.3" cy="202.6" r="1.45"/><circle cx="587.5" cy="201.5" r="1.45"/><circle cx="568.2" cy="204.5" r="1.45"/><circle cx="569.4" cy="166.2" r="1.45"/><circle cx="565.6" cy="212.5" r="1.45"/><circle cx="574.2" cy="172.3" r="1.45"/><circle cx="585.8" cy="219.7" r="1.45"/><circle cx="574.5" cy="219.1" r="1.45"/><circle cx="581.5" cy="211.9" r="1.45"/><circle cx="574.0" cy="216.2" r="1.45"/><circle cx="559.1" cy="206.4" r="1.45"/><circle cx="576.0" cy="195.4" r="1.45"/><circle cx="576.5" cy="206.7" r="1.45"/><circle cx="576.6" cy="208.2" r="1.45"/><circle cx="568.9" cy="186.5" r="1.45"/><circle cx="565.4" cy="211.8" r="1.45"/><circle cx="568.0" cy="195.3" r="1.45"/><circle cx="557.3" cy="204.0" r="1.45"/><circle cx="563.4" cy="194.2" r="1.45"/><circle cx="567.1" cy="194.1" r="1.45"/><circle cx="573.7" cy="214.8" r="1.45"/><circle cx="587.3" cy="210.4" r="1.45"/><circle cx="577.7" cy="176.2" r="1.45"/><circle cx="573.8" cy="211.4" r="1.45"/><circle cx="580.5" cy="216.4" r="1.45"/><circle cx="571.4" cy="209.6" r="1.45"/><circle cx="557.9" cy="209.2" r="1.45"/><circle cx="578.8" cy="194.4" r="1.45"/><circle cx="580.3" cy="208.5" r="1.45"/><circle cx="578.6" cy="198.1" r="1.45"/><circle cx="584.7" cy="217.0" r="1.45"/><circle cx="582.9" cy="209.7" r="1.45"/><circle cx="584.0" cy="196.4" r="1.45"/><circle cx="557.9" cy="214.7" r="1.45"/><circle cx="590.3" cy="211.2" r="1.45"/><circle cx="575.4" cy="190.1" r="1.45"/><circle cx="575.7" cy="191.9" r="1.45"/><circle cx="575.8" cy="156.5" r="1.45"/><circle cx="565.5" cy="211.5" r="1.45"/></g>
<text x="573.3" y="238.5" font-size="10.2" text-anchor="middle" fill="#2b2b2b" >ATB</text>
<line x1="636.4" y1="227.2" x2="636.4" y2="229.7" stroke="#555" stroke-width="0.9"/>
<path d="M634.4,160.7 L634.1,161.7 L633.8,162.8 L633.5,163.8 L633.1,164.8 L632.8,165.8 L632.5,166.9 L632.1,167.9 L631.7,168.9 L631.4,169.9 L631.0,171.0 L630.6,172.0 L630.2,173.0 L629.8,174.0 L629.4,175.1 L628.9,176.1 L628.4,177.1 L628.0,178.1 L627.5,179.2 L627.0,180.2 L626.5,181.2 L626.0,182.2 L625.5,183.3 L625.0,184.3 L624.5,185.3 L624.0,186.3 L623.4,187.4 L622.9,188.4 L622.4,189.4 L621.9,190.4 L621.4,191.5 L620.9,192.5 L620.4,193.5 L619.9,194.5 L619.4,195.6 L618.8,196.6 L618.2,197.6 L617.6,198.6 L617.0,199.7 L616.4,200.7 L615.8,201.7 L615.2,202.7 L614.6,203.8 L614.0,204.8 L613.5,205.8 L613.0,206.8 L612.6,207.9 L612.2,208.9 L611.9,209.9 L611.6,210.9 L611.5,212.0 L611.4,213.0 L611.5,214.0 L612.2,215.0 L613.3,216.1 L614.8,217.1 L616.5,218.1 L618.4,219.1 L620.4,220.2 L622.4,221.2 L650.4,221.2 L652.4,220.2 L654.4,219.1 L656.3,218.1 L658.0,217.1 L659.5,216.1 L660.6,215.0 L661.3,214.0 L661.4,213.0 L661.3,212.0 L661.2,210.9 L660.9,209.9 L660.6,208.9 L660.2,207.9 L659.8,206.8 L659.3,205.8 L658.8,204.8 L658.2,203.8 L657.6,202.7 L657.0,201.7 L656.4,200.7 L655.8,199.7 L655.2,198.6 L654.6,197.6 L654.0,196.6 L653.4,195.6 L652.9,194.5 L652.4,193.5 L651.9,192.5 L651.4,191.5 L650.9,190.4 L650.4,189.4 L649.9,188.4 L649.4,187.4 L648.8,186.3 L648.3,185.3 L647.8,184.3 L647.3,183.3 L646.8,182.2 L646.3,181.2 L645.8,180.2 L645.3,179.2 L644.8,178.1 L644.4,177.1 L643.9,176.1 L643.4,175.1 L643.0,174.0 L642.6,173.0 L642.2,172.0 L641.8,171.0 L641.4,169.9 L641.1,168.9 L640.7,167.9 L640.3,166.9 L640.0,165.8 L639.7,164.8 L639.3,163.8 L639.0,162.8 L638.7,161.7 L638.4,160.7Z" fill="#f7d6d6" stroke="#d93a3a" stroke-width="1.2"/>
<g fill="#d93a3a"><circle cx="639.0" cy="195.8" r="1.45"/><circle cx="622.5" cy="215.9" r="1.45"/><circle cx="627.8" cy="206.8" r="1.45"/><circle cx="625.4" cy="218.9" r="1.45"/><circle cx="641.8" cy="190.5" r="1.45"/><circle cx="628.9" cy="206.5" r="1.45"/><circle cx="622.8" cy="208.1" r="1.45"/><circle cx="643.5" cy="173.5" r="1.45"/><circle cx="634.3" cy="207.7" r="1.45"/><circle cx="646.7" cy="199.1" r="1.45"/><circle cx="630.3" cy="200.7" r="1.45"/><circle cx="632.5" cy="189.6" r="1.45"/><circle cx="638.4" cy="207.3" r="1.45"/><circle cx="621.8" cy="209.9" r="1.45"/><circle cx="652.6" cy="216.2" r="1.45"/><circle cx="623.9" cy="215.6" r="1.45"/><circle cx="648.6" cy="219.9" r="1.45"/><circle cx="641.2" cy="219.8" r="1.45"/><circle cx="645.4" cy="210.9" r="1.45"/><circle cx="627.5" cy="195.5" r="1.45"/><circle cx="649.7" cy="206.2" r="1.45"/><circle cx="637.2" cy="181.2" r="1.45"/><circle cx="633.5" cy="205.8" r="1.45"/><circle cx="626.6" cy="196.9" r="1.45"/><circle cx="625.2" cy="205.9" r="1.45"/><circle cx="648.7" cy="211.8" r="1.45"/><circle cx="646.7" cy="178.2" r="1.45"/><circle cx="633.6" cy="216.6" r="1.45"/><circle cx="641.3" cy="174.4" r="1.45"/><circle cx="643.2" cy="204.1" r="1.45"/><circle cx="636.2" cy="191.9" r="1.45"/><circle cx="636.0" cy="174.8" r="1.45"/><circle cx="638.2" cy="203.9" r="1.45"/><circle cx="632.0" cy="193.2" r="1.45"/><circle cx="641.8" cy="179.6" r="1.45"/><circle cx="633.6" cy="213.6" r="1.45"/><circle cx="636.5" cy="192.9" r="1.45"/><circle cx="625.6" cy="217.5" r="1.45"/><circle cx="652.6" cy="207.8" r="1.45"/><circle cx="622.0" cy="199.1" r="1.45"/><circle cx="641.2" cy="178.5" r="1.45"/><circle cx="641.9" cy="214.5" r="1.45"/><circle cx="633.0" cy="183.4" r="1.45"/><circle cx="652.6" cy="212.3" r="1.45"/><circle cx="620.6" cy="205.7" r="1.45"/><circle cx="628.7" cy="201.8" r="1.45"/><circle cx="632.8" cy="179.6" r="1.45"/><circle cx="641.2" cy="200.9" r="1.45"/><circle cx="638.4" cy="168.1" r="1.45"/><circle cx="643.6" cy="212.7" r="1.45"/><circle cx="648.7" cy="210.3" r="1.45"/><circle cx="625.8" cy="185.9" r="1.45"/><circle cx="638.5" cy="205.2" r="1.45"/><circle cx="634.0" cy="188.7" r="1.45"/><circle cx="642.8" cy="210.8" r="1.45"/><circle cx="637.1" cy="190.3" r="1.45"/><circle cx="632.8" cy="188.0" r="1.45"/><circle cx="621.2" cy="195.7" r="1.45"/><circle cx="630.8" cy="220.0" r="1.45"/><circle cx="634.6" cy="213.3" r="1.45"/><circle cx="630.9" cy="200.1" r="1.45"/><circle cx="632.3" cy="213.8" r="1.45"/><circle cx="641.4" cy="198.0" r="1.45"/><circle cx="632.2" cy="189.9" r="1.45"/><circle cx="648.3" cy="217.3" r="1.45"/><circle cx="633.3" cy="174.2" r="1.45"/><circle cx="634.2" cy="213.8" r="1.45"/><circle cx="634.3" cy="219.2" r="1.45"/><circle cx="645.3" cy="181.2" r="1.45"/><circle cx="640.0" cy="215.2" r="1.45"/><circle cx="652.2" cy="212.9" r="1.45"/><circle cx="625.5" cy="175.1" r="1.45"/><circle cx="651.9" cy="202.0" r="1.45"/><circle cx="627.7" cy="193.5" r="1.45"/><circle cx="649.9" cy="199.3" r="1.45"/><circle cx="620.9" cy="199.6" r="1.45"/><circle cx="648.5" cy="199.9" r="1.45"/><circle cx="639.3" cy="166.9" r="1.45"/><circle cx="641.9" cy="194.8" r="1.45"/><circle cx="633.1" cy="195.7" r="1.45"/><circle cx="632.6" cy="209.6" r="1.45"/><circle cx="624.7" cy="210.2" r="1.45"/><circle cx="624.2" cy="211.9" r="1.45"/><circle cx="640.6" cy="209.2" r="1.45"/><circle cx="631.0" cy="216.0" r="1.45"/><circle cx="620.4" cy="206.4" r="1.45"/><circle cx="626.0" cy="196.5" r="1.45"/><circle cx="629.1" cy="174.8" r="1.45"/><circle cx="626.0" cy="211.7" r="1.45"/><circle cx="634.8" cy="206.6" r="1.45"/><circle cx="645.9" cy="187.3" r="1.45"/><circle cx="639.2" cy="203.8" r="1.45"/><circle cx="644.3" cy="219.0" r="1.45"/><circle cx="623.0" cy="208.3" r="1.45"/><circle cx="642.4" cy="196.3" r="1.45"/><circle cx="648.8" cy="214.0" r="1.45"/><circle cx="653.2" cy="199.5" r="1.45"/><circle cx="641.1" cy="168.4" r="1.45"/><circle cx="638.8" cy="180.2" r="1.45"/><circle cx="651.0" cy="219.4" r="1.45"/><circle cx="628.2" cy="181.2" r="1.45"/><circle cx="646.4" cy="212.4" r="1.45"/><circle cx="641.2" cy="173.3" r="1.45"/><circle cx="644.1" cy="201.9" r="1.45"/><circle cx="632.1" cy="194.5" r="1.45"/><circle cx="622.3" cy="198.5" r="1.45"/><circle cx="628.5" cy="181.8" r="1.45"/><circle cx="642.4" cy="199.9" r="1.45"/><circle cx="630.0" cy="212.9" r="1.45"/><circle cx="651.7" cy="204.8" r="1.45"/><circle cx="628.1" cy="185.0" r="1.45"/><circle cx="647.1" cy="213.2" r="1.45"/><circle cx="635.6" cy="215.9" r="1.45"/><circle cx="629.4" cy="202.7" r="1.45"/><circle cx="628.1" cy="198.6" r="1.45"/><circle cx="633.2" cy="168.7" r="1.45"/><circle cx="633.5" cy="179.5" r="1.45"/><circle cx="627.1" cy="199.1" r="1.45"/><circle cx="630.2" cy="183.2" r="1.45"/><circle cx="650.7" cy="219.8" r="1.45"/><circle cx="633.7" cy="208.4" r="1.45"/><circle cx="640.4" cy="197.1" r="1.45"/><circle cx="643.3" cy="207.2" r="1.45"/><circle cx="632.3" cy="188.5" r="1.45"/><circle cx="651.2" cy="217.0" r="1.45"/><circle cx="629.4" cy="204.1" r="1.45"/><circle cx="625.9" cy="210.2" r="1.45"/><circle cx="625.2" cy="188.7" r="1.45"/><circle cx="628.3" cy="203.0" r="1.45"/><circle cx="621.5" cy="211.5" r="1.45"/><circle cx="640.7" cy="199.8" r="1.45"/><circle cx="638.1" cy="178.8" r="1.45"/><circle cx="620.2" cy="202.4" r="1.45"/><circle cx="651.7" cy="213.9" r="1.45"/><circle cx="644.2" cy="202.1" r="1.45"/><circle cx="637.8" cy="220.6" r="1.45"/><circle cx="651.5" cy="205.5" r="1.45"/><circle cx="637.4" cy="216.1" r="1.45"/><circle cx="629.3" cy="173.3" r="1.45"/><circle cx="645.9" cy="208.0" r="1.45"/><circle cx="651.9" cy="205.3" r="1.45"/><circle cx="621.4" cy="199.4" r="1.45"/><circle cx="636.5" cy="216.4" r="1.45"/><circle cx="630.4" cy="180.9" r="1.45"/><circle cx="650.1" cy="203.9" r="1.45"/><circle cx="623.8" cy="196.2" r="1.45"/><circle cx="646.2" cy="219.2" r="1.45"/><circle cx="626.4" cy="213.2" r="1.45"/><circle cx="640.2" cy="191.0" r="1.45"/><circle cx="640.6" cy="185.4" r="1.45"/><circle cx="642.1" cy="170.6" r="1.45"/><circle cx="625.2" cy="189.3" r="1.45"/><circle cx="635.8" cy="217.6" r="1.45"/><circle cx="623.7" cy="216.5" r="1.45"/><circle cx="623.7" cy="213.6" r="1.45"/><circle cx="624.9" cy="199.6" r="1.45"/><circle cx="624.4" cy="204.1" r="1.45"/><circle cx="651.2" cy="206.3" r="1.45"/><circle cx="638.5" cy="214.4" r="1.45"/><circle cx="631.0" cy="164.1" r="1.45"/><circle cx="636.0" cy="189.3" r="1.45"/><circle cx="621.3" cy="207.3" r="1.45"/><circle cx="630.0" cy="186.7" r="1.45"/><circle cx="640.7" cy="218.7" r="1.45"/><circle cx="640.7" cy="175.5" r="1.45"/><circle cx="640.0" cy="219.4" r="1.45"/><circle cx="649.3" cy="191.2" r="1.45"/><circle cx="648.5" cy="189.5" r="1.45"/><circle cx="647.8" cy="201.1" r="1.45"/><circle cx="635.2" cy="208.6" r="1.45"/><circle cx="644.1" cy="219.9" r="1.45"/><circle cx="627.9" cy="203.0" r="1.45"/><circle cx="648.8" cy="216.3" r="1.45"/><circle cx="627.7" cy="216.0" r="1.45"/><circle cx="651.2" cy="219.8" r="1.45"/></g>
<text x="636.4" y="238.5" font-size="10.2" text-anchor="middle" fill="#2b2b2b" >HC</text>
<path d="M573.3,144.10000000000002 L573.3,142.3 L636.4,142.3 L636.4,144.10000000000002" fill="none" stroke="#444" stroke-width="0.8"/>
<text x="604.8" y="141.1" font-size="9" text-anchor="middle" fill="#2b2b2b" >*</text>
<text x="98.0" y="129.5" font-size="10.2" text-anchor="middle" fill="#2b2b2b">CD4<tspan font-size="7.1" dy="-4.2">+</tspan><tspan dy="4.2"> CM</tspan></text>
<text x="271.0" y="129.5" font-size="10.2" text-anchor="middle" fill="#2b2b2b">CD4<tspan font-size="7.1" dy="-4.2">+</tspan><tspan dy="4.2"> Naive</tspan></text>
<text x="430.5" y="129.5" font-size="10.2" text-anchor="middle" fill="#2b2b2b">CD8<tspan font-size="7.1" dy="-4.2">+</tspan><tspan dy="4.2"> CM</tspan></text>
<text x="606.0" y="128.5" font-size="10.2" text-anchor="middle" fill="#2b2b2b">CD8<tspan font-size="7.1" dy="-4.2">+</tspan><tspan dy="4.2"> Naive</tspan></text>
<text x="97.0" y="247.5" font-size="10.2" text-anchor="middle" fill="#2b2b2b">CD4<tspan font-size="7.1" dy="-4.2">+</tspan><tspan dy="4.2"> EM</tspan></text>
<text x="270.3" y="247.5" font-size="10.2" text-anchor="middle" fill="#2b2b2b">CD4<tspan font-size="7.1" dy="-4.2">+</tspan><tspan dy="4.2"> Effector</tspan></text>
<text x="432.0" y="247.5" font-size="10.2" text-anchor="middle" fill="#2b2b2b">CD8<tspan font-size="7.1" dy="-4.2">+</tspan><tspan dy="4.2"> EM</tspan></text>
<text x="604.0" y="247.5" font-size="10.2" text-anchor="middle" fill="#2b2b2b">CD8<tspan font-size="7.1" dy="-4.2">+</tspan><tspan dy="4.2"> Effector</tspan></text>
<path d="M24.1,506.8 L24.1,708.2 L166.4,708.2" fill="none" stroke="#555" stroke-width="0.9"/>
<line x1="21.6" y1="536.6" x2="24.1" y2="536.6" stroke="#555" stroke-width="0.9"/>
<text x="20.6" y="540.1" font-size="9.5" text-anchor="end" fill="#2b2b2b" >4</text>
<line x1="21.6" y1="577.5" x2="24.1" y2="577.5" stroke="#555" stroke-width="0.9"/>
<text x="20.6" y="581.0" font-size="9.5" text-anchor="end" fill="#2b2b2b" >3</text>
<line x1="21.6" y1="618.6" x2="24.1" y2="618.6" stroke="#555" stroke-width="0.9"/>
<text x="20.6" y="622.1" font-size="9.5" text-anchor="end" fill="#2b2b2b" >2</text>
<line x1="21.6" y1="660" x2="24.1" y2="660" stroke="#555" stroke-width="0.9"/>
<text x="20.6" y="663.5" font-size="9.5" text-anchor="end" fill="#2b2b2b" >1</text>
<line x1="21.6" y1="701.2" x2="24.1" y2="701.2" stroke="#555" stroke-width="0.9"/>
<text x="20.6" y="704.7" font-size="9.5" text-anchor="end" fill="#2b2b2b" >0</text>
<text x="10.0" y="608.0" font-size="9.3" text-anchor="middle" fill="#2b2b2b" transform="rotate(-90 10.0 608.0)" >Percentage(%)</text>
<line x1="62" y1="708.2" x2="62" y2="710.7" stroke="#555" stroke-width="0.9"/>
<path d="M61.2,524.7 L61.2,527.6 L61.2,530.6 L61.2,533.5 L61.2,536.4 L61.1,539.4 L61.1,542.3 L61.1,545.3 L61.1,548.2 L61.0,551.1 L61.0,554.1 L60.9,557.0 L60.9,559.9 L60.8,562.9 L60.7,565.8 L60.7,568.8 L60.6,571.7 L60.5,574.6 L60.4,577.6 L60.3,580.5 L60.3,583.4 L60.2,586.4 L60.0,589.3 L59.9,592.3 L59.8,595.2 L59.7,598.1 L59.6,601.1 L59.4,604.0 L59.3,606.9 L59.1,609.9 L59.0,612.8 L58.7,615.8 L58.2,618.7 L57.6,621.6 L57.0,624.6 L56.5,627.5 L56.0,630.4 L55.5,633.4 L54.9,636.3 L54.3,639.3 L53.7,642.2 L53.1,645.1 L52.4,648.1 L51.6,651.0 L50.7,653.9 L49.6,656.9 L48.5,659.8 L47.4,662.8 L46.4,665.7 L45.5,668.6 L44.6,671.6 L43.7,674.5 L42.9,677.4 L42.3,680.4 L42.0,683.3 L42.3,686.3 L43.6,689.2 L45.8,692.1 L48.7,695.1 L52.0,698.0 L72.0,698.0 L75.3,695.1 L78.2,692.1 L80.4,689.2 L81.7,686.3 L82.0,683.3 L81.7,680.4 L81.1,677.4 L80.3,674.5 L79.4,671.6 L78.5,668.6 L77.6,665.7 L76.6,662.8 L75.5,659.8 L74.4,656.9 L73.3,653.9 L72.4,651.0 L71.6,648.1 L70.9,645.1 L70.3,642.2 L69.7,639.3 L69.1,636.3 L68.5,633.4 L68.0,630.4 L67.5,627.5 L67.0,624.6 L66.4,621.6 L65.8,618.7 L65.3,615.8 L65.0,612.8 L64.9,609.9 L64.7,606.9 L64.6,604.0 L64.4,601.1 L64.3,598.1 L64.2,595.2 L64.1,592.3 L64.0,589.3 L63.8,586.4 L63.7,583.4 L63.7,580.5 L63.6,577.6 L63.5,574.6 L63.4,571.7 L63.3,568.8 L63.3,565.8 L63.2,562.9 L63.1,559.9 L63.1,557.0 L63.0,554.1 L63.0,551.1 L62.9,548.2 L62.9,545.3 L62.9,542.3 L62.9,539.4 L62.8,536.4 L62.8,533.5 L62.8,530.6 L62.8,527.6 L62.8,524.7Z" fill="#cde8f1" stroke="#45b3d8" stroke-width="1.2"/>
<g fill="#45b3d8"><circle cx="58.8" cy="602.6" r="1.45"/><circle cx="49.2" cy="686.0" r="1.45"/><circle cx="57.3" cy="675.6" r="1.45"/><circle cx="56.9" cy="687.8" r="1.45"/><circle cx="47.1" cy="676.3" r="1.45"/><circle cx="73.7" cy="688.7" r="1.45"/><circle cx="75.3" cy="682.8" r="1.45"/><circle cx="51.3" cy="680.1" r="1.45"/><circle cx="63.4" cy="693.2" r="1.45"/><circle cx="68.1" cy="646.0" r="1.45"/><circle cx="58.6" cy="693.0" r="1.45"/><circle cx="62.3" cy="675.4" r="1.45"/><circle cx="52.8" cy="683.4" r="1.45"/><circle cx="60.9" cy="681.2" r="1.45"/><circle cx="56.3" cy="669.8" r="1.45"/><circle cx="72.9" cy="675.7" r="1.45"/><circle cx="54.3" cy="695.7" r="1.45"/><circle cx="46.9" cy="673.6" r="1.45"/><circle cx="74.3" cy="691.1" r="1.45"/><circle cx="56.8" cy="588.4" r="1.45"/><circle cx="63.7" cy="677.7" r="1.45"/><circle cx="69.5" cy="682.9" r="1.45"/><circle cx="56.7" cy="670.5" r="1.45"/><circle cx="68.9" cy="639.0" r="1.45"/><circle cx="56.3" cy="686.8" r="1.45"/><circle cx="51.1" cy="684.9" r="1.45"/><circle cx="49.2" cy="668.2" r="1.45"/><circle cx="68.4" cy="642.7" r="1.45"/><circle cx="52.4" cy="688.6" r="1.45"/><circle cx="76.3" cy="684.9" r="1.45"/><circle cx="60.5" cy="688.7" r="1.45"/><circle cx="77.1" cy="687.2" r="1.45"/><circle cx="51.1" cy="662.7" r="1.45"/><circle cx="74.5" cy="679.8" r="1.45"/><circle cx="77.3" cy="672.7" r="1.45"/><circle cx="68.4" cy="669.5" r="1.45"/><circle cx="50.8" cy="670.5" r="1.45"/><circle cx="79.7" cy="681.2" r="1.45"/><circle cx="67.1" cy="698.5" r="1.45"/><circle cx="52.5" cy="674.3" r="1.45"/><circle cx="76.0" cy="668.8" r="1.45"/><circle cx="47.4" cy="680.4" r="1.45"/><circle cx="48.9" cy="680.3" r="1.45"/><circle cx="47.3" cy="669.7" r="1.45"/><circle cx="65.3" cy="681.4" r="1.45"/><circle cx="58.6" cy="681.4" r="1.45"/><circle cx="47.1" cy="684.8" r="1.45"/><circle cx="61.9" cy="653.6" r="1.45"/><circle cx="75.6" cy="681.6" r="1.45"/><circle cx="49.4" cy="670.8" r="1.45"/><circle cx="66.6" cy="689.1" r="1.45"/><circle cx="50.3" cy="680.5" r="1.45"/><circle cx="62.4" cy="686.4" r="1.45"/><circle cx="56.4" cy="686.3" r="1.45"/><circle cx="56.8" cy="658.0" r="1.45"/><circle cx="54.2" cy="638.2" r="1.45"/><circle cx="64.8" cy="684.7" r="1.45"/><circle cx="61.1" cy="633.4" r="1.45"/><circle cx="67.0" cy="693.9" r="1.45"/><circle cx="50.7" cy="682.5" r="1.45"/><circle cx="76.8" cy="670.3" r="1.45"/><circle cx="44.9" cy="681.4" r="1.45"/><circle cx="56.7" cy="648.3" r="1.45"/><circle cx="67.0" cy="680.0" r="1.45"/><circle cx="51.1" cy="691.7" r="1.45"/><circle cx="58.2" cy="526.3" r="1.45"/><circle cx="62.0" cy="692.5" r="1.45"/><circle cx="69.2" cy="665.4" r="1.45"/><circle cx="73.0" cy="669.7" r="1.45"/><circle cx="57.1" cy="693.4" r="1.45"/><circle cx="67.6" cy="686.0" r="1.45"/><circle cx="47.8" cy="668.8" r="1.45"/><circle cx="70.9" cy="695.6" r="1.45"/><circle cx="64.7" cy="623.9" r="1.45"/><circle cx="76.3" cy="680.8" r="1.45"/><circle cx="52.3" cy="675.5" r="1.45"/><circle cx="61.9" cy="690.5" r="1.45"/><circle cx="65.9" cy="609.9" r="1.45"/><circle cx="48.9" cy="664.9" r="1.45"/><circle cx="72.9" cy="673.1" r="1.45"/><circle cx="65.3" cy="638.0" r="1.45"/><circle cx="72.2" cy="680.9" r="1.45"/><circle cx="50.4" cy="688.1" r="1.45"/><circle cx="70.2" cy="691.8" r="1.45"/><circle cx="63.2" cy="649.9" r="1.45"/><circle cx="50.3" cy="675.4" r="1.45"/><circle cx="53.7" cy="695.7" r="1.45"/><circle cx="67.7" cy="638.4" r="1.45"/><circle cx="58.4" cy="682.2" r="1.45"/><circle cx="55.8" cy="663.9" r="1.45"/><circle cx="57.9" cy="690.9" r="1.45"/><circle cx="68.4" cy="679.0" r="1.45"/><circle cx="50.2" cy="689.9" r="1.45"/><circle cx="56.6" cy="630.7" r="1.45"/><circle cx="67.2" cy="679.1" r="1.45"/><circle cx="74.4" cy="671.8" r="1.45"/><circle cx="64.8" cy="645.8" r="1.45"/><circle cx="75.5" cy="670.0" r="1.45"/><circle cx="54.2" cy="684.2" r="1.45"/><circle cx="57.0" cy="677.3" r="1.45"/><circle cx="57.6" cy="677.8" r="1.45"/><circle cx="58.3" cy="663.0" r="1.45"/><circle cx="54.3" cy="675.0" r="1.45"/><circle cx="71.4" cy="673.0" r="1.45"/><circle cx="55.7" cy="692.1" r="1.45"/><circle cx="59.2" cy="689.2" r="1.45"/><circle cx="61.1" cy="672.2" r="1.45"/><circle cx="78.6" cy="675.5" r="1.45"/><circle cx="57.4" cy="664.1" r="1.45"/><circle cx="68.6" cy="677.7" r="1.45"/><circle cx="59.0" cy="648.5" r="1.45"/><circle cx="69.4" cy="694.6" r="1.45"/><circle cx="58.6" cy="670.5" r="1.45"/><circle cx="54.3" cy="591.3" r="1.45"/><circle cx="62.6" cy="664.7" r="1.45"/><circle cx="57.6" cy="693.4" r="1.45"/><circle cx="55.5" cy="664.9" r="1.45"/><circle cx="55.8" cy="669.2" r="1.45"/><circle cx="51.0" cy="696.0" r="1.45"/><circle cx="70.3" cy="685.4" r="1.45"/><circle cx="63.4" cy="667.9" r="1.45"/><circle cx="64.8" cy="653.7" r="1.45"/><circle cx="64.1" cy="669.2" r="1.45"/><circle cx="58.4" cy="669.0" r="1.45"/><circle cx="60.7" cy="690.7" r="1.45"/><circle cx="61.2" cy="675.6" r="1.45"/><circle cx="74.4" cy="691.7" r="1.45"/><circle cx="58.7" cy="696.1" r="1.45"/><circle cx="50.5" cy="689.2" r="1.45"/><circle cx="49.4" cy="670.0" r="1.45"/><circle cx="57.1" cy="669.1" r="1.45"/><circle cx="64.5" cy="677.2" r="1.45"/><circle cx="65.0" cy="682.6" r="1.45"/><circle cx="69.6" cy="688.9" r="1.45"/><circle cx="67.5" cy="687.6" r="1.45"/><circle cx="50.3" cy="665.6" r="1.45"/><circle cx="58.0" cy="684.8" r="1.45"/><circle cx="58.2" cy="668.4" r="1.45"/><circle cx="48.3" cy="686.5" r="1.45"/><circle cx="63.4" cy="600.6" r="1.45"/><circle cx="71.4" cy="688.1" r="1.45"/><circle cx="45.6" cy="683.3" r="1.45"/><circle cx="62.6" cy="650.5" r="1.45"/><circle cx="52.2" cy="661.8" r="1.45"/><circle cx="69.8" cy="665.7" r="1.45"/><circle cx="63.9" cy="674.6" r="1.45"/><circle cx="48.8" cy="691.3" r="1.45"/><circle cx="62.4" cy="695.6" r="1.45"/><circle cx="53.0" cy="679.0" r="1.45"/><circle cx="57.3" cy="645.5" r="1.45"/><circle cx="65.7" cy="696.0" r="1.45"/><circle cx="59.6" cy="694.6" r="1.45"/><circle cx="68.9" cy="641.7" r="1.45"/><circle cx="76.9" cy="681.8" r="1.45"/><circle cx="74.6" cy="682.2" r="1.45"/><circle cx="58.8" cy="680.4" r="1.45"/><circle cx="76.5" cy="683.2" r="1.45"/><circle cx="55.2" cy="575.2" r="1.45"/><circle cx="69.5" cy="664.3" r="1.45"/><circle cx="58.0" cy="666.3" r="1.45"/><circle cx="75.0" cy="681.3" r="1.45"/><circle cx="54.5" cy="642.5" r="1.45"/><circle cx="64.0" cy="663.0" r="1.45"/><circle cx="53.2" cy="653.8" r="1.45"/><circle cx="58.7" cy="631.0" r="1.45"/><circle cx="64.1" cy="673.2" r="1.45"/><circle cx="53.9" cy="657.0" r="1.45"/><circle cx="68.3" cy="673.9" r="1.45"/><circle cx="62.3" cy="656.7" r="1.45"/><circle cx="52.1" cy="685.6" r="1.45"/><circle cx="62.6" cy="645.7" r="1.45"/><circle cx="60.1" cy="684.9" r="1.45"/><circle cx="45.5" cy="680.3" r="1.45"/><circle cx="66.2" cy="653.0" r="1.45"/><circle cx="68.4" cy="668.6" r="1.45"/><circle cx="74.0" cy="668.1" r="1.45"/><circle cx="76.2" cy="673.0" r="1.45"/><circle cx="57.4" cy="681.9" r="1.45"/><circle cx="64.3" cy="604.5" r="1.45"/><circle cx="64.1" cy="653.0" r="1.45"/><circle cx="46.0" cy="682.2" r="1.45"/><circle cx="65.6" cy="642.6" r="1.45"/><circle cx="54.2" cy="688.3" r="1.45"/><circle cx="59.8" cy="669.1" r="1.45"/><circle cx="63.9" cy="625.2" r="1.45"/><circle cx="62.2" cy="685.0" r="1.45"/><circle cx="56.6" cy="660.1" r="1.45"/><circle cx="69.0" cy="697.6" r="1.45"/><circle cx="49.8" cy="691.5" r="1.45"/><circle cx="65.3" cy="690.2" r="1.45"/><circle cx="51.8" cy="690.0" r="1.45"/><circle cx="68.8" cy="638.8" r="1.45"/><circle cx="69.0" cy="618.9" r="1.45"/><circle cx="68.6" cy="670.9" r="1.45"/><circle cx="73.8" cy="670.8" r="1.45"/><circle cx="70.2" cy="670.6" r="1.45"/><circle cx="67.4" cy="679.6" r="1.45"/><circle cx="70.8" cy="686.3" r="1.45"/><circle cx="76.4" cy="687.0" r="1.45"/><circle cx="53.9" cy="692.4" r="1.45"/><circle cx="70.2" cy="681.6" r="1.45"/><circle cx="51.7" cy="690.0" r="1.45"/><circle cx="61.4" cy="642.3" r="1.45"/><circle cx="59.4" cy="618.2" r="1.45"/><circle cx="66.2" cy="671.7" r="1.45"/><circle cx="66.4" cy="690.5" r="1.45"/><circle cx="74.2" cy="669.7" r="1.45"/><circle cx="67.6" cy="646.0" r="1.45"/><circle cx="54.6" cy="647.6" r="1.45"/><circle cx="54.0" cy="660.1" r="1.45"/></g>
<text x="62.0" y="719.0" font-size="9.8" text-anchor="middle" fill="#2b2b2b" >ATB</text>
<line x1="128" y1="708.2" x2="128" y2="710.7" stroke="#555" stroke-width="0.9"/>
<path d="M127.2,545.8 L127.2,548.4 L127.2,551.0 L127.2,553.5 L127.2,556.1 L127.2,558.7 L127.1,561.3 L127.1,563.9 L127.1,566.4 L127.1,569.0 L127.0,571.6 L127.0,574.2 L127.0,576.8 L126.9,579.3 L126.9,581.9 L126.8,584.5 L126.8,587.1 L126.7,589.7 L126.7,592.2 L126.6,594.8 L126.5,597.4 L126.5,600.0 L126.4,602.6 L126.3,605.1 L126.2,607.7 L126.2,610.3 L126.1,612.9 L126.0,615.5 L125.8,618.0 L125.6,620.6 L125.3,623.2 L125.0,625.8 L124.6,628.3 L124.1,630.9 L123.7,633.5 L123.2,636.1 L122.7,638.7 L122.2,641.2 L121.6,643.8 L121.0,646.4 L120.3,649.0 L119.6,651.6 L118.8,654.1 L117.9,656.7 L117.0,659.3 L116.0,661.9 L114.9,664.5 L113.4,667.0 L111.8,669.6 L110.1,672.2 L108.5,674.8 L107.0,677.4 L105.8,679.9 L104.5,682.5 L103.4,685.1 L102.4,687.7 L102.0,690.3 L102.7,692.8 L104.9,695.4 L108.0,698.0 L148.0,698.0 L151.1,695.4 L153.3,692.8 L154.0,690.3 L153.6,687.7 L152.6,685.1 L151.5,682.5 L150.2,679.9 L149.0,677.4 L147.5,674.8 L145.9,672.2 L144.2,669.6 L142.6,667.0 L141.1,664.5 L140.0,661.9 L139.0,659.3 L138.1,656.7 L137.2,654.1 L136.4,651.6 L135.7,649.0 L135.0,646.4 L134.4,643.8 L133.8,641.2 L133.3,638.7 L132.8,636.1 L132.3,633.5 L131.9,630.9 L131.4,628.3 L131.0,625.8 L130.7,623.2 L130.4,620.6 L130.2,618.0 L130.0,615.5 L129.9,612.9 L129.8,610.3 L129.8,607.7 L129.7,605.1 L129.6,602.6 L129.5,600.0 L129.5,597.4 L129.4,594.8 L129.3,592.2 L129.3,589.7 L129.2,587.1 L129.2,584.5 L129.1,581.9 L129.1,579.3 L129.0,576.8 L129.0,574.2 L129.0,571.6 L128.9,569.0 L128.9,566.4 L128.9,563.9 L128.9,561.3 L128.8,558.7 L128.8,556.1 L128.8,553.5 L128.8,551.0 L128.8,548.4 L128.8,545.8Z" fill="#f7d6d6" stroke="#d93a3a" stroke-width="1.2"/>
<g fill="#d93a3a"><circle cx="130.9" cy="646.6" r="1.45"/><circle cx="123.1" cy="688.7" r="1.45"/><circle cx="109.8" cy="676.3" r="1.45"/><circle cx="117.2" cy="696.8" r="1.45"/><circle cx="132.6" cy="669.1" r="1.45"/><circle cx="136.0" cy="696.3" r="1.45"/><circle cx="108.7" cy="689.7" r="1.45"/><circle cx="130.0" cy="690.6" r="1.45"/><circle cx="133.5" cy="685.9" r="1.45"/><circle cx="133.5" cy="694.2" r="1.45"/><circle cx="132.8" cy="672.0" r="1.45"/><circle cx="139.2" cy="694.0" r="1.45"/><circle cx="121.4" cy="694.2" r="1.45"/><circle cx="142.0" cy="686.2" r="1.45"/><circle cx="125.7" cy="687.0" r="1.45"/><circle cx="114.1" cy="671.7" r="1.45"/><circle cx="134.1" cy="682.5" r="1.45"/><circle cx="121.7" cy="685.5" r="1.45"/><circle cx="132.9" cy="675.8" r="1.45"/><circle cx="126.0" cy="645.2" r="1.45"/><circle cx="127.9" cy="696.0" r="1.45"/><circle cx="130.2" cy="690.9" r="1.45"/><circle cx="136.0" cy="678.1" r="1.45"/><circle cx="119.9" cy="683.5" r="1.45"/><circle cx="134.8" cy="684.8" r="1.45"/><circle cx="117.9" cy="697.2" r="1.45"/><circle cx="139.6" cy="684.8" r="1.45"/><circle cx="117.3" cy="689.6" r="1.45"/><circle cx="110.9" cy="692.0" r="1.45"/><circle cx="119.0" cy="659.0" r="1.45"/><circle cx="131.9" cy="684.9" r="1.45"/><circle cx="120.9" cy="695.0" r="1.45"/><circle cx="131.0" cy="691.6" r="1.45"/><circle cx="120.4" cy="695.1" r="1.45"/><circle cx="126.5" cy="665.3" r="1.45"/><circle cx="142.8" cy="690.5" r="1.45"/><circle cx="142.6" cy="674.2" r="1.45"/><circle cx="109.7" cy="694.5" r="1.45"/><circle cx="145.9" cy="691.6" r="1.45"/><circle cx="128.2" cy="677.7" r="1.45"/><circle cx="137.6" cy="685.7" r="1.45"/><circle cx="145.2" cy="681.0" r="1.45"/><circle cx="115.7" cy="696.4" r="1.45"/><circle cx="123.3" cy="684.7" r="1.45"/><circle cx="134.8" cy="655.6" r="1.45"/><circle cx="128.8" cy="684.7" r="1.45"/><circle cx="134.4" cy="634.0" r="1.45"/><circle cx="135.5" cy="663.0" r="1.45"/><circle cx="147.9" cy="683.0" r="1.45"/><circle cx="134.4" cy="680.9" r="1.45"/><circle cx="121.1" cy="652.7" r="1.45"/><circle cx="143.0" cy="676.7" r="1.45"/><circle cx="117.4" cy="673.4" r="1.45"/><circle cx="116.3" cy="673.9" r="1.45"/><circle cx="122.8" cy="679.9" r="1.45"/><circle cx="123.3" cy="642.6" r="1.45"/><circle cx="122.2" cy="642.6" r="1.45"/><circle cx="132.4" cy="672.0" r="1.45"/><circle cx="144.4" cy="690.0" r="1.45"/><circle cx="118.5" cy="696.1" r="1.45"/><circle cx="123.0" cy="690.8" r="1.45"/><circle cx="130.4" cy="654.4" r="1.45"/><circle cx="120.0" cy="692.9" r="1.45"/><circle cx="127.7" cy="691.3" r="1.45"/><circle cx="144.5" cy="692.1" r="1.45"/><circle cx="112.7" cy="689.0" r="1.45"/><circle cx="129.1" cy="672.7" r="1.45"/><circle cx="116.5" cy="681.7" r="1.45"/><circle cx="138.9" cy="680.8" r="1.45"/><circle cx="123.3" cy="642.2" r="1.45"/><circle cx="140.4" cy="684.2" r="1.45"/><circle cx="124.8" cy="672.9" r="1.45"/><circle cx="145.0" cy="696.4" r="1.45"/><circle cx="122.5" cy="688.0" r="1.45"/><circle cx="127.7" cy="692.4" r="1.45"/><circle cx="121.7" cy="641.9" r="1.45"/><circle cx="119.1" cy="689.0" r="1.45"/><circle cx="124.6" cy="691.1" r="1.45"/><circle cx="143.7" cy="681.2" r="1.45"/><circle cx="130.7" cy="671.4" r="1.45"/><circle cx="140.4" cy="682.7" r="1.45"/><circle cx="142.1" cy="685.0" r="1.45"/><circle cx="111.8" cy="679.4" r="1.45"/><circle cx="121.5" cy="674.7" r="1.45"/><circle cx="141.3" cy="687.5" r="1.45"/><circle cx="138.2" cy="694.2" r="1.45"/><circle cx="130.1" cy="673.2" r="1.45"/><circle cx="124.2" cy="693.5" r="1.45"/><circle cx="128.0" cy="649.8" r="1.45"/><circle cx="108.6" cy="688.3" r="1.45"/><circle cx="114.3" cy="676.5" r="1.45"/><circle cx="122.2" cy="682.8" r="1.45"/><circle cx="114.5" cy="677.2" r="1.45"/><circle cx="123.4" cy="654.6" r="1.45"/><circle cx="136.0" cy="666.9" r="1.45"/><circle cx="137.9" cy="697.6" r="1.45"/><circle cx="137.2" cy="679.5" r="1.45"/><circle cx="130.6" cy="696.4" r="1.45"/><circle cx="144.9" cy="683.7" r="1.45"/><circle cx="117.2" cy="693.7" r="1.45"/><circle cx="132.8" cy="680.7" r="1.45"/><circle cx="125.2" cy="698.4" r="1.45"/><circle cx="145.7" cy="682.6" r="1.45"/><circle cx="122.9" cy="672.3" r="1.45"/><circle cx="121.2" cy="666.9" r="1.45"/><circle cx="132.5" cy="654.3" r="1.45"/><circle cx="134.1" cy="659.2" r="1.45"/><circle cx="136.8" cy="687.5" r="1.45"/><circle cx="138.8" cy="677.5" r="1.45"/><circle cx="115.7" cy="693.5" r="1.45"/><circle cx="131.0" cy="668.7" r="1.45"/><circle cx="129.5" cy="696.1" r="1.45"/><circle cx="139.6" cy="668.9" r="1.45"/><circle cx="124.6" cy="673.0" r="1.45"/><circle cx="118.6" cy="676.4" r="1.45"/><circle cx="121.5" cy="673.4" r="1.45"/><circle cx="128.5" cy="679.3" r="1.45"/><circle cx="147.3" cy="692.1" r="1.45"/><circle cx="131.2" cy="653.7" r="1.45"/><circle cx="135.1" cy="672.2" r="1.45"/><circle cx="127.5" cy="649.4" r="1.45"/><circle cx="123.9" cy="690.1" r="1.45"/><circle cx="137.2" cy="661.7" r="1.45"/><circle cx="126.0" cy="682.7" r="1.45"/><circle cx="113.0" cy="692.9" r="1.45"/><circle cx="137.9" cy="674.9" r="1.45"/><circle cx="121.9" cy="660.2" r="1.45"/><circle cx="124.5" cy="672.2" r="1.45"/><circle cx="132.5" cy="695.1" r="1.45"/><circle cx="134.3" cy="658.1" r="1.45"/><circle cx="108.3" cy="694.1" r="1.45"/><circle cx="131.3" cy="662.2" r="1.45"/><circle cx="118.8" cy="666.1" r="1.45"/><circle cx="133.2" cy="690.9" r="1.45"/><circle cx="132.2" cy="686.2" r="1.45"/><circle cx="128.6" cy="674.9" r="1.45"/><circle cx="125.1" cy="689.3" r="1.45"/><circle cx="129.0" cy="664.5" r="1.45"/><circle cx="146.3" cy="693.9" r="1.45"/><circle cx="122.1" cy="685.4" r="1.45"/><circle cx="126.9" cy="696.6" r="1.45"/><circle cx="113.9" cy="686.1" r="1.45"/><circle cx="123.5" cy="684.2" r="1.45"/><circle cx="110.1" cy="693.1" r="1.45"/><circle cx="144.4" cy="685.9" r="1.45"/><circle cx="125.2" cy="656.9" r="1.45"/><circle cx="145.5" cy="686.9" r="1.45"/><circle cx="115.3" cy="674.4" r="1.45"/><circle cx="134.5" cy="687.0" r="1.45"/><circle cx="131.9" cy="697.2" r="1.45"/><circle cx="134.4" cy="686.2" r="1.45"/><circle cx="139.8" cy="692.4" r="1.45"/><circle cx="111.8" cy="677.7" r="1.45"/><circle cx="131.8" cy="625.8" r="1.45"/><circle cx="120.4" cy="646.6" r="1.45"/><circle cx="124.8" cy="632.6" r="1.45"/><circle cx="138.3" cy="670.0" r="1.45"/><circle cx="130.4" cy="673.7" r="1.45"/><circle cx="143.4" cy="675.3" r="1.45"/><circle cx="142.5" cy="687.8" r="1.45"/><circle cx="124.9" cy="690.1" r="1.45"/><circle cx="119.3" cy="691.4" r="1.45"/><circle cx="116.1" cy="689.7" r="1.45"/><circle cx="109.7" cy="692.9" r="1.45"/><circle cx="136.7" cy="688.5" r="1.45"/><circle cx="140.2" cy="681.2" r="1.45"/><circle cx="110.0" cy="679.7" r="1.45"/><circle cx="127.9" cy="655.3" r="1.45"/><circle cx="133.3" cy="627.8" r="1.45"/><circle cx="133.6" cy="693.7" r="1.45"/><circle cx="126.0" cy="664.9" r="1.45"/><circle cx="146.0" cy="693.1" r="1.45"/><circle cx="124.9" cy="679.6" r="1.45"/><circle cx="125.0" cy="651.4" r="1.45"/><circle cx="127.9" cy="692.0" r="1.45"/><circle cx="121.9" cy="688.8" r="1.45"/><circle cx="124.2" cy="698.3" r="1.45"/><circle cx="127.9" cy="683.9" r="1.45"/><circle cx="111.1" cy="695.5" r="1.45"/><circle cx="132.1" cy="682.1" r="1.45"/><circle cx="130.8" cy="673.2" r="1.45"/><circle cx="136.4" cy="679.5" r="1.45"/><circle cx="117.7" cy="687.6" r="1.45"/><circle cx="109.6" cy="693.9" r="1.45"/><circle cx="136.3" cy="692.7" r="1.45"/><circle cx="122.8" cy="696.1" r="1.45"/><circle cx="131.9" cy="683.3" r="1.45"/><circle cx="118.8" cy="681.3" r="1.45"/><circle cx="121.9" cy="683.4" r="1.45"/><circle cx="118.5" cy="695.0" r="1.45"/><circle cx="127.7" cy="677.8" r="1.45"/><circle cx="130.4" cy="651.4" r="1.45"/><circle cx="117.8" cy="678.3" r="1.45"/><circle cx="120.6" cy="687.0" r="1.45"/><circle cx="126.5" cy="692.9" r="1.45"/><circle cx="135.9" cy="696.0" r="1.45"/><circle cx="122.8" cy="688.2" r="1.45"/><circle cx="110.5" cy="691.3" r="1.45"/><circle cx="128.8" cy="691.7" r="1.45"/><circle cx="126.2" cy="692.2" r="1.45"/><circle cx="147.9" cy="686.3" r="1.45"/><circle cx="131.2" cy="695.6" r="1.45"/><circle cx="109.8" cy="694.4" r="1.45"/><circle cx="130.3" cy="614.4" r="1.45"/><circle cx="119.0" cy="662.0" r="1.45"/><circle cx="123.6" cy="698.7" r="1.45"/><circle cx="109.4" cy="687.2" r="1.45"/><circle cx="130.3" cy="663.4" r="1.45"/><circle cx="114.9" cy="694.2" r="1.45"/><circle cx="135.9" cy="656.3" r="1.45"/></g>
<text x="128.0" y="719.0" font-size="9.8" text-anchor="middle" fill="#2b2b2b" >HC</text>
<path d="M62,521.5 L62,519.7 L128,519.7 L128,521.5" fill="none" stroke="#444" stroke-width="0.8"/>
<text x="95.0" y="518.5" font-size="9" text-anchor="middle" fill="#2b2b2b" >***</text>
<path d="M201,506.8 L201,708.2 L335,708.2" fill="none" stroke="#555" stroke-width="0.9"/>
<line x1="198.5" y1="553.5" x2="201" y2="553.5" stroke="#555" stroke-width="0.9"/>
<text x="197.5" y="557.0" font-size="9.5" text-anchor="end" fill="#2b2b2b" >30</text>
<line x1="198.5" y1="602" x2="201" y2="602" stroke="#555" stroke-width="0.9"/>
<text x="197.5" y="605.5" font-size="9.5" text-anchor="end" fill="#2b2b2b" >20</text>
<line x1="198.5" y1="650.9" x2="201" y2="650.9" stroke="#555" stroke-width="0.9"/>
<text x="197.5" y="654.4" font-size="9.5" text-anchor="end" fill="#2b2b2b" >10</text>
<line x1="198.5" y1="699.3" x2="201" y2="699.3" stroke="#555" stroke-width="0.9"/>
<text x="197.5" y="702.8" font-size="9.5" text-anchor="end" fill="#2b2b2b" >0</text>
<text x="181.0" y="608.0" font-size="9.3" text-anchor="middle" fill="#2b2b2b" transform="rotate(-90 181.0 608.0)" >Percentage(%)</text>
<line x1="239.5" y1="708.2" x2="239.5" y2="710.7" stroke="#555" stroke-width="0.9"/>
<path d="M238.7,524.7 L238.7,527.7 L238.7,530.6 L238.7,533.6 L238.7,536.5 L238.7,539.5 L238.6,542.5 L238.6,545.4 L238.6,548.4 L238.6,551.3 L238.5,554.3 L238.5,557.3 L238.5,560.2 L238.4,563.2 L238.4,566.1 L238.3,569.1 L238.3,572.0 L238.2,575.0 L238.1,578.0 L238.1,580.9 L238.0,583.9 L237.9,586.8 L237.9,589.8 L237.8,592.8 L237.7,595.7 L237.6,598.7 L237.5,601.6 L237.4,604.6 L237.3,607.6 L237.1,610.5 L237.0,613.5 L236.9,616.4 L236.8,619.4 L236.6,622.4 L236.5,625.3 L236.1,628.3 L235.5,631.2 L234.8,634.2 L234.1,637.2 L233.4,640.1 L232.8,643.1 L232.0,646.0 L231.3,649.0 L230.6,652.0 L229.9,654.9 L229.3,657.9 L228.7,660.8 L228.2,663.8 L227.7,666.7 L227.1,669.7 L226.6,672.7 L226.2,675.6 L225.8,678.6 L225.6,681.5 L225.5,684.5 L225.8,687.5 L226.5,690.4 L227.6,693.4 L229.0,696.3 L230.5,699.3 L248.5,699.3 L250.0,696.3 L251.4,693.4 L252.5,690.4 L253.2,687.5 L253.5,684.5 L253.4,681.5 L253.2,678.6 L252.8,675.6 L252.4,672.7 L251.9,669.7 L251.3,666.7 L250.8,663.8 L250.3,660.8 L249.7,657.9 L249.1,654.9 L248.4,652.0 L247.7,649.0 L247.0,646.0 L246.2,643.1 L245.6,640.1 L244.9,637.2 L244.2,634.2 L243.5,631.2 L242.9,628.3 L242.5,625.3 L242.4,622.4 L242.2,619.4 L242.1,616.4 L242.0,613.5 L241.9,610.5 L241.7,607.6 L241.6,604.6 L241.5,601.6 L241.4,598.7 L241.3,595.7 L241.2,592.8 L241.1,589.8 L241.1,586.8 L241.0,583.9 L240.9,580.9 L240.9,578.0 L240.8,575.0 L240.7,572.0 L240.7,569.1 L240.6,566.1 L240.6,563.2 L240.5,560.2 L240.5,557.3 L240.5,554.3 L240.4,551.3 L240.4,548.4 L240.4,545.4 L240.4,542.5 L240.3,539.5 L240.3,536.5 L240.3,533.6 L240.3,530.6 L240.3,527.7 L240.3,524.7Z" fill="#cde8f1" stroke="#45b3d8" stroke-width="1.2"/>
<g fill="#45b3d8"><circle cx="240.6" cy="654.1" r="1.45"/><circle cx="247.5" cy="697.0" r="1.45"/><circle cx="231.9" cy="693.9" r="1.45"/><circle cx="234.7" cy="674.8" r="1.45"/><circle cx="229.1" cy="671.6" r="1.45"/><circle cx="230.5" cy="668.6" r="1.45"/><circle cx="237.8" cy="685.4" r="1.45"/><circle cx="240.8" cy="654.7" r="1.45"/><circle cx="239.7" cy="666.6" r="1.45"/><circle cx="232.3" cy="635.6" r="1.45"/><circle cx="237.9" cy="669.6" r="1.45"/><circle cx="238.5" cy="654.9" r="1.45"/><circle cx="248.7" cy="693.8" r="1.45"/><circle cx="235.5" cy="672.2" r="1.45"/><circle cx="241.9" cy="656.8" r="1.45"/><circle cx="239.3" cy="661.4" r="1.45"/><circle cx="244.1" cy="653.0" r="1.45"/><circle cx="241.2" cy="642.4" r="1.45"/><circle cx="247.4" cy="632.6" r="1.45"/><circle cx="243.0" cy="683.4" r="1.45"/><circle cx="237.0" cy="645.8" r="1.45"/><circle cx="237.6" cy="689.6" r="1.45"/><circle cx="246.3" cy="696.3" r="1.45"/><circle cx="236.6" cy="692.9" r="1.45"/><circle cx="246.6" cy="653.2" r="1.45"/><circle cx="238.0" cy="686.6" r="1.45"/><circle cx="250.4" cy="678.2" r="1.45"/><circle cx="232.7" cy="695.7" r="1.45"/><circle cx="245.1" cy="662.1" r="1.45"/><circle cx="238.1" cy="679.6" r="1.45"/><circle cx="232.7" cy="680.0" r="1.45"/><circle cx="241.1" cy="655.0" r="1.45"/><circle cx="228.7" cy="678.4" r="1.45"/><circle cx="231.9" cy="684.0" r="1.45"/><circle cx="248.0" cy="688.1" r="1.45"/><circle cx="240.0" cy="690.9" r="1.45"/><circle cx="236.9" cy="613.4" r="1.45"/><circle cx="230.6" cy="685.3" r="1.45"/><circle cx="232.5" cy="664.3" r="1.45"/><circle cx="232.7" cy="685.7" r="1.45"/><circle cx="238.9" cy="650.5" r="1.45"/><circle cx="229.0" cy="668.2" r="1.45"/><circle cx="233.0" cy="668.7" r="1.45"/><circle cx="237.7" cy="683.0" r="1.45"/><circle cx="249.0" cy="679.8" r="1.45"/><circle cx="248.5" cy="687.4" r="1.45"/><circle cx="246.5" cy="568.8" r="1.45"/><circle cx="234.0" cy="662.4" r="1.45"/><circle cx="230.1" cy="685.4" r="1.45"/><circle cx="246.1" cy="659.2" r="1.45"/><circle cx="244.2" cy="689.8" r="1.45"/><circle cx="234.4" cy="663.4" r="1.45"/><circle cx="237.8" cy="681.2" r="1.45"/><circle cx="246.3" cy="633.7" r="1.45"/><circle cx="246.5" cy="692.6" r="1.45"/><circle cx="246.5" cy="646.0" r="1.45"/><circle cx="239.4" cy="669.4" r="1.45"/><circle cx="232.9" cy="667.7" r="1.45"/><circle cx="240.3" cy="662.3" r="1.45"/><circle cx="230.2" cy="675.8" r="1.45"/><circle cx="230.4" cy="674.7" r="1.45"/><circle cx="229.3" cy="686.3" r="1.45"/><circle cx="234.9" cy="696.7" r="1.45"/><circle cx="231.3" cy="688.0" r="1.45"/><circle cx="233.4" cy="684.2" r="1.45"/><circle cx="242.9" cy="655.1" r="1.45"/><circle cx="242.5" cy="656.0" r="1.45"/><circle cx="231.9" cy="590.7" r="1.45"/><circle cx="245.2" cy="642.1" r="1.45"/><circle cx="247.5" cy="686.3" r="1.45"/><circle cx="246.6" cy="634.5" r="1.45"/><circle cx="234.1" cy="660.1" r="1.45"/><circle cx="244.5" cy="667.9" r="1.45"/><circle cx="240.4" cy="651.5" r="1.45"/><circle cx="243.8" cy="664.9" r="1.45"/><circle cx="247.1" cy="658.9" r="1.45"/><circle cx="230.2" cy="669.5" r="1.45"/><circle cx="245.3" cy="654.0" r="1.45"/><circle cx="245.2" cy="611.9" r="1.45"/><circle cx="242.7" cy="692.8" r="1.45"/><circle cx="237.0" cy="684.5" r="1.45"/><circle cx="240.5" cy="686.0" r="1.45"/><circle cx="232.5" cy="660.6" r="1.45"/><circle cx="244.4" cy="695.1" r="1.45"/><circle cx="240.7" cy="688.5" r="1.45"/><circle cx="241.2" cy="669.5" r="1.45"/><circle cx="243.7" cy="662.9" r="1.45"/><circle cx="229.7" cy="687.6" r="1.45"/><circle cx="232.3" cy="606.4" r="1.45"/><circle cx="230.2" cy="677.5" r="1.45"/><circle cx="229.7" cy="690.5" r="1.45"/><circle cx="246.1" cy="692.6" r="1.45"/><circle cx="231.9" cy="694.4" r="1.45"/><circle cx="236.7" cy="670.0" r="1.45"/><circle cx="242.0" cy="597.3" r="1.45"/><circle cx="234.4" cy="665.4" r="1.45"/><circle cx="247.6" cy="661.5" r="1.45"/><circle cx="249.7" cy="678.5" r="1.45"/><circle cx="236.7" cy="684.6" r="1.45"/><circle cx="241.0" cy="697.6" r="1.45"/><circle cx="245.4" cy="664.4" r="1.45"/><circle cx="249.8" cy="666.7" r="1.45"/><circle cx="242.6" cy="642.2" r="1.45"/><circle cx="238.3" cy="688.9" r="1.45"/><circle cx="228.7" cy="674.5" r="1.45"/><circle cx="242.1" cy="658.5" r="1.45"/><circle cx="243.3" cy="674.6" r="1.45"/><circle cx="244.0" cy="673.8" r="1.45"/><circle cx="235.8" cy="688.8" r="1.45"/><circle cx="246.2" cy="658.2" r="1.45"/><circle cx="241.7" cy="674.7" r="1.45"/><circle cx="236.8" cy="671.0" r="1.45"/><circle cx="235.4" cy="643.8" r="1.45"/><circle cx="232.0" cy="648.9" r="1.45"/><circle cx="243.5" cy="659.2" r="1.45"/><circle cx="235.3" cy="670.8" r="1.45"/><circle cx="248.0" cy="675.7" r="1.45"/><circle cx="235.0" cy="685.5" r="1.45"/><circle cx="235.3" cy="693.3" r="1.45"/><circle cx="244.0" cy="643.1" r="1.45"/><circle cx="237.4" cy="697.8" r="1.45"/><circle cx="250.4" cy="670.1" r="1.45"/><circle cx="241.1" cy="686.1" r="1.45"/><circle cx="248.6" cy="665.2" r="1.45"/><circle cx="230.0" cy="684.8" r="1.45"/><circle cx="228.1" cy="682.9" r="1.45"/><circle cx="231.7" cy="603.7" r="1.45"/><circle cx="248.3" cy="690.2" r="1.45"/><circle cx="239.1" cy="629.5" r="1.45"/><circle cx="245.0" cy="674.4" r="1.45"/><circle cx="240.0" cy="657.4" r="1.45"/><circle cx="251.0" cy="678.1" r="1.45"/><circle cx="244.6" cy="653.4" r="1.45"/><circle cx="239.0" cy="679.7" r="1.45"/><circle cx="231.5" cy="686.4" r="1.45"/><circle cx="236.6" cy="678.6" r="1.45"/><circle cx="236.8" cy="688.5" r="1.45"/><circle cx="236.5" cy="667.2" r="1.45"/><circle cx="244.9" cy="682.2" r="1.45"/><circle cx="247.2" cy="671.9" r="1.45"/><circle cx="246.7" cy="692.9" r="1.45"/><circle cx="234.6" cy="643.9" r="1.45"/><circle cx="231.7" cy="690.0" r="1.45"/><circle cx="242.2" cy="593.1" r="1.45"/><circle cx="245.0" cy="689.9" r="1.45"/><circle cx="244.0" cy="641.6" r="1.45"/><circle cx="249.6" cy="682.6" r="1.45"/><circle cx="236.9" cy="644.0" r="1.45"/><circle cx="228.7" cy="686.5" r="1.45"/><circle cx="237.1" cy="657.4" r="1.45"/><circle cx="236.7" cy="638.0" r="1.45"/><circle cx="230.6" cy="691.2" r="1.45"/><circle cx="243.9" cy="677.4" r="1.45"/><circle cx="239.8" cy="690.4" r="1.45"/><circle cx="242.6" cy="686.6" r="1.45"/><circle cx="245.4" cy="642.7" r="1.45"/><circle cx="240.7" cy="642.9" r="1.45"/><circle cx="249.3" cy="684.1" r="1.45"/><circle cx="247.0" cy="689.6" r="1.45"/><circle cx="240.0" cy="654.0" r="1.45"/><circle cx="242.2" cy="691.2" r="1.45"/><circle cx="239.0" cy="613.4" r="1.45"/><circle cx="236.7" cy="686.3" r="1.45"/><circle cx="245.3" cy="680.8" r="1.45"/><circle cx="241.7" cy="668.8" r="1.45"/><circle cx="236.7" cy="667.9" r="1.45"/><circle cx="242.6" cy="663.1" r="1.45"/><circle cx="240.3" cy="672.4" r="1.45"/><circle cx="230.3" cy="674.1" r="1.45"/><circle cx="243.4" cy="652.1" r="1.45"/><circle cx="239.4" cy="593.4" r="1.45"/><circle cx="249.8" cy="675.6" r="1.45"/><circle cx="246.3" cy="654.6" r="1.45"/><circle cx="233.3" cy="644.2" r="1.45"/><circle cx="235.1" cy="659.1" r="1.45"/><circle cx="242.6" cy="649.6" r="1.45"/><circle cx="232.6" cy="691.2" r="1.45"/><circle cx="245.9" cy="662.2" r="1.45"/><circle cx="243.8" cy="681.6" r="1.45"/><circle cx="246.7" cy="583.1" r="1.45"/><circle cx="235.8" cy="682.0" r="1.45"/><circle cx="243.3" cy="695.1" r="1.45"/><circle cx="242.1" cy="685.7" r="1.45"/><circle cx="244.1" cy="685.9" r="1.45"/><circle cx="249.4" cy="669.4" r="1.45"/><circle cx="236.1" cy="672.7" r="1.45"/><circle cx="233.5" cy="692.3" r="1.45"/><circle cx="245.2" cy="658.7" r="1.45"/><circle cx="231.2" cy="674.3" r="1.45"/><circle cx="240.8" cy="683.7" r="1.45"/><circle cx="248.5" cy="666.0" r="1.45"/><circle cx="247.5" cy="672.4" r="1.45"/><circle cx="242.6" cy="622.6" r="1.45"/><circle cx="227.3" cy="682.9" r="1.45"/><circle cx="247.4" cy="653.2" r="1.45"/><circle cx="238.6" cy="659.4" r="1.45"/><circle cx="235.7" cy="657.9" r="1.45"/><circle cx="228.6" cy="684.0" r="1.45"/><circle cx="231.6" cy="669.4" r="1.45"/><circle cx="231.8" cy="698.5" r="1.45"/><circle cx="241.0" cy="686.9" r="1.45"/><circle cx="237.0" cy="693.7" r="1.45"/><circle cx="234.3" cy="683.3" r="1.45"/><circle cx="245.3" cy="657.6" r="1.45"/><circle cx="230.8" cy="665.0" r="1.45"/><circle cx="237.8" cy="667.2" r="1.45"/><circle cx="244.7" cy="654.8" r="1.45"/><circle cx="247.2" cy="673.3" r="1.45"/><circle cx="244.7" cy="686.4" r="1.45"/><circle cx="240.1" cy="674.8" r="1.45"/></g>
<text x="239.5" y="719.0" font-size="9.8" text-anchor="middle" fill="#2b2b2b" >ATB</text>
<line x1="305.2" y1="708.2" x2="305.2" y2="710.7" stroke="#555" stroke-width="0.9"/>
<path d="M304.4,555.0 L304.4,557.4 L304.4,559.8 L304.4,562.3 L304.4,564.7 L304.4,567.1 L304.4,569.5 L304.4,572.0 L304.4,574.4 L304.3,576.8 L304.3,579.2 L304.3,581.7 L304.3,584.1 L304.3,586.5 L304.3,588.9 L304.2,591.4 L304.2,593.8 L304.2,596.2 L304.1,598.6 L304.1,601.1 L304.1,603.5 L304.0,605.9 L304.0,608.3 L303.9,610.7 L303.9,613.2 L303.8,615.6 L303.8,618.0 L303.7,620.4 L303.6,622.9 L303.6,625.3 L303.5,627.7 L303.4,630.1 L303.4,632.6 L303.3,635.0 L303.2,637.4 L302.8,639.8 L302.1,642.3 L301.2,644.7 L300.2,647.1 L299.2,649.5 L298.4,651.9 L297.5,654.4 L296.6,656.8 L295.6,659.2 L294.7,661.6 L293.7,664.1 L292.6,666.5 L291.5,668.9 L290.2,671.3 L288.6,673.8 L286.7,676.2 L284.8,678.6 L282.9,681.0 L281.3,683.5 L279.9,685.9 L279.0,688.3 L278.7,690.7 L280.1,693.2 L283.3,695.6 L287.2,698.0 L323.2,698.0 L327.1,695.6 L330.3,693.2 L331.7,690.7 L331.4,688.3 L330.5,685.9 L329.1,683.5 L327.5,681.0 L325.6,678.6 L323.7,676.2 L321.8,673.8 L320.2,671.3 L318.9,668.9 L317.8,666.5 L316.7,664.1 L315.7,661.6 L314.8,659.2 L313.8,656.8 L312.9,654.4 L312.0,651.9 L311.2,649.5 L310.2,647.1 L309.2,644.7 L308.3,642.3 L307.6,639.8 L307.2,637.4 L307.1,635.0 L307.0,632.6 L307.0,630.1 L306.9,627.7 L306.8,625.3 L306.8,622.9 L306.7,620.4 L306.6,618.0 L306.6,615.6 L306.5,613.2 L306.5,610.7 L306.4,608.3 L306.4,605.9 L306.3,603.5 L306.3,601.1 L306.3,598.6 L306.2,596.2 L306.2,593.8 L306.2,591.4 L306.1,588.9 L306.1,586.5 L306.1,584.1 L306.1,581.7 L306.1,579.2 L306.1,576.8 L306.0,574.4 L306.0,572.0 L306.0,569.5 L306.0,567.1 L306.0,564.7 L306.0,562.3 L306.0,559.8 L306.0,557.4 L306.0,555.0Z" fill="#f7d6d6" stroke="#d93a3a" stroke-width="1.2"/>
<g fill="#d93a3a"><circle cx="294.5" cy="669.4" r="1.45"/><circle cx="308.7" cy="680.8" r="1.45"/><circle cx="322.0" cy="690.4" r="1.45"/><circle cx="306.6" cy="691.6" r="1.45"/><circle cx="285.4" cy="687.6" r="1.45"/><circle cx="289.7" cy="694.7" r="1.45"/><circle cx="301.6" cy="686.6" r="1.45"/><circle cx="285.7" cy="693.7" r="1.45"/><circle cx="311.6" cy="694.0" r="1.45"/><circle cx="299.3" cy="670.0" r="1.45"/><circle cx="301.3" cy="669.4" r="1.45"/><circle cx="314.2" cy="698.3" r="1.45"/><circle cx="313.5" cy="677.8" r="1.45"/><circle cx="317.2" cy="683.4" r="1.45"/><circle cx="292.8" cy="682.5" r="1.45"/><circle cx="298.9" cy="692.7" r="1.45"/><circle cx="307.4" cy="642.9" r="1.45"/><circle cx="305.3" cy="683.6" r="1.45"/><circle cx="317.5" cy="682.7" r="1.45"/><circle cx="303.4" cy="663.7" r="1.45"/><circle cx="321.6" cy="683.4" r="1.45"/><circle cx="294.0" cy="693.1" r="1.45"/><circle cx="307.7" cy="656.4" r="1.45"/><circle cx="314.7" cy="675.0" r="1.45"/><circle cx="324.7" cy="687.7" r="1.45"/><circle cx="300.3" cy="686.1" r="1.45"/><circle cx="320.6" cy="690.5" r="1.45"/><circle cx="309.2" cy="680.1" r="1.45"/><circle cx="308.4" cy="666.8" r="1.45"/><circle cx="295.6" cy="680.7" r="1.45"/><circle cx="320.4" cy="692.9" r="1.45"/><circle cx="287.9" cy="682.5" r="1.45"/><circle cx="324.8" cy="681.7" r="1.45"/><circle cx="307.9" cy="691.8" r="1.45"/><circle cx="308.5" cy="686.5" r="1.45"/><circle cx="297.5" cy="667.6" r="1.45"/><circle cx="312.2" cy="681.5" r="1.45"/><circle cx="291.4" cy="695.1" r="1.45"/><circle cx="310.6" cy="651.5" r="1.45"/><circle cx="315.1" cy="690.3" r="1.45"/><circle cx="293.4" cy="677.8" r="1.45"/><circle cx="316.7" cy="690.4" r="1.45"/><circle cx="308.7" cy="670.5" r="1.45"/><circle cx="297.1" cy="688.6" r="1.45"/><circle cx="311.7" cy="693.4" r="1.45"/><circle cx="308.7" cy="660.3" r="1.45"/><circle cx="305.2" cy="696.3" r="1.45"/><circle cx="309.5" cy="665.6" r="1.45"/><circle cx="309.9" cy="643.2" r="1.45"/><circle cx="320.9" cy="691.6" r="1.45"/><circle cx="318.4" cy="685.3" r="1.45"/><circle cx="298.9" cy="653.9" r="1.45"/><circle cx="319.7" cy="687.9" r="1.45"/><circle cx="323.2" cy="684.1" r="1.45"/><circle cx="304.6" cy="697.3" r="1.45"/><circle cx="320.0" cy="696.6" r="1.45"/><circle cx="294.2" cy="694.3" r="1.45"/><circle cx="286.8" cy="684.6" r="1.45"/><circle cx="303.1" cy="691.9" r="1.45"/><circle cx="290.0" cy="690.6" r="1.45"/><circle cx="293.0" cy="676.0" r="1.45"/><circle cx="303.0" cy="690.1" r="1.45"/><circle cx="322.2" cy="678.0" r="1.45"/><circle cx="306.0" cy="682.4" r="1.45"/><circle cx="314.8" cy="662.5" r="1.45"/><circle cx="305.4" cy="667.2" r="1.45"/><circle cx="303.7" cy="684.1" r="1.45"/><circle cx="286.0" cy="692.8" r="1.45"/><circle cx="288.5" cy="691.3" r="1.45"/><circle cx="314.8" cy="670.1" r="1.45"/><circle cx="312.7" cy="685.0" r="1.45"/><circle cx="307.5" cy="678.1" r="1.45"/><circle cx="316.2" cy="672.4" r="1.45"/><circle cx="310.9" cy="679.5" r="1.45"/><circle cx="296.5" cy="689.5" r="1.45"/><circle cx="319.8" cy="695.3" r="1.45"/><circle cx="310.0" cy="664.1" r="1.45"/><circle cx="290.5" cy="677.4" r="1.45"/><circle cx="318.5" cy="690.8" r="1.45"/><circle cx="299.8" cy="685.1" r="1.45"/><circle cx="319.0" cy="681.0" r="1.45"/><circle cx="318.2" cy="691.2" r="1.45"/><circle cx="311.7" cy="647.1" r="1.45"/><circle cx="290.8" cy="696.3" r="1.45"/><circle cx="313.0" cy="676.2" r="1.45"/><circle cx="297.7" cy="693.4" r="1.45"/><circle cx="319.5" cy="692.2" r="1.45"/><circle cx="289.8" cy="692.8" r="1.45"/><circle cx="320.2" cy="687.4" r="1.45"/><circle cx="324.1" cy="688.4" r="1.45"/><circle cx="305.5" cy="656.2" r="1.45"/><circle cx="307.2" cy="682.4" r="1.45"/><circle cx="309.6" cy="688.0" r="1.45"/><circle cx="318.8" cy="676.8" r="1.45"/><circle cx="288.7" cy="688.9" r="1.45"/><circle cx="319.3" cy="685.1" r="1.45"/><circle cx="299.2" cy="689.2" r="1.45"/><circle cx="301.4" cy="692.7" r="1.45"/><circle cx="319.0" cy="678.8" r="1.45"/><circle cx="290.1" cy="688.1" r="1.45"/><circle cx="299.5" cy="657.6" r="1.45"/><circle cx="312.4" cy="691.9" r="1.45"/><circle cx="314.4" cy="691.6" r="1.45"/><circle cx="294.2" cy="689.8" r="1.45"/><circle cx="312.9" cy="688.3" r="1.45"/><circle cx="299.5" cy="685.1" r="1.45"/><circle cx="287.6" cy="679.0" r="1.45"/><circle cx="295.7" cy="692.2" r="1.45"/><circle cx="297.2" cy="667.8" r="1.45"/><circle cx="303.3" cy="687.1" r="1.45"/><circle cx="304.2" cy="665.3" r="1.45"/><circle cx="300.6" cy="689.8" r="1.45"/><circle cx="321.6" cy="684.6" r="1.45"/><circle cx="300.6" cy="688.4" r="1.45"/><circle cx="297.1" cy="670.8" r="1.45"/><circle cx="323.1" cy="682.2" r="1.45"/><circle cx="310.8" cy="688.3" r="1.45"/><circle cx="323.3" cy="682.0" r="1.45"/><circle cx="303.3" cy="690.7" r="1.45"/><circle cx="307.2" cy="662.0" r="1.45"/><circle cx="298.7" cy="679.6" r="1.45"/><circle cx="315.0" cy="664.4" r="1.45"/><circle cx="296.2" cy="690.2" r="1.45"/><circle cx="322.4" cy="681.0" r="1.45"/><circle cx="298.9" cy="690.0" r="1.45"/><circle cx="315.9" cy="690.3" r="1.45"/><circle cx="307.6" cy="654.2" r="1.45"/><circle cx="316.3" cy="686.8" r="1.45"/><circle cx="293.4" cy="691.9" r="1.45"/><circle cx="325.2" cy="694.1" r="1.45"/><circle cx="305.1" cy="662.3" r="1.45"/><circle cx="296.8" cy="662.6" r="1.45"/><circle cx="312.5" cy="683.1" r="1.45"/><circle cx="288.3" cy="691.0" r="1.45"/><circle cx="308.5" cy="666.2" r="1.45"/><circle cx="311.9" cy="698.5" r="1.45"/><circle cx="293.3" cy="689.8" r="1.45"/><circle cx="299.1" cy="644.8" r="1.45"/><circle cx="290.6" cy="690.6" r="1.45"/><circle cx="311.5" cy="682.4" r="1.45"/><circle cx="312.0" cy="671.9" r="1.45"/><circle cx="322.0" cy="688.4" r="1.45"/><circle cx="298.2" cy="690.4" r="1.45"/><circle cx="289.1" cy="688.3" r="1.45"/><circle cx="309.6" cy="676.5" r="1.45"/><circle cx="314.4" cy="671.7" r="1.45"/><circle cx="309.0" cy="658.8" r="1.45"/><circle cx="304.9" cy="671.2" r="1.45"/><circle cx="296.3" cy="679.9" r="1.45"/><circle cx="314.0" cy="679.8" r="1.45"/><circle cx="311.5" cy="659.7" r="1.45"/><circle cx="294.0" cy="692.6" r="1.45"/><circle cx="311.0" cy="671.8" r="1.45"/><circle cx="310.5" cy="662.2" r="1.45"/><circle cx="319.4" cy="672.8" r="1.45"/><circle cx="300.2" cy="683.1" r="1.45"/><circle cx="300.9" cy="687.7" r="1.45"/><circle cx="296.7" cy="661.2" r="1.45"/><circle cx="297.0" cy="668.2" r="1.45"/><circle cx="309.1" cy="650.5" r="1.45"/><circle cx="296.1" cy="681.7" r="1.45"/><circle cx="317.6" cy="698.8" r="1.45"/><circle cx="298.0" cy="691.6" r="1.45"/><circle cx="317.1" cy="692.5" r="1.45"/><circle cx="299.6" cy="695.4" r="1.45"/><circle cx="312.8" cy="673.4" r="1.45"/><circle cx="302.7" cy="687.8" r="1.45"/><circle cx="293.6" cy="682.1" r="1.45"/><circle cx="293.9" cy="679.8" r="1.45"/><circle cx="296.7" cy="690.6" r="1.45"/><circle cx="290.0" cy="686.1" r="1.45"/><circle cx="319.9" cy="688.3" r="1.45"/><circle cx="319.4" cy="676.4" r="1.45"/><circle cx="317.1" cy="695.2" r="1.45"/><circle cx="285.4" cy="688.1" r="1.45"/><circle cx="320.5" cy="687.7" r="1.45"/><circle cx="317.0" cy="690.9" r="1.45"/><circle cx="318.8" cy="695.5" r="1.45"/><circle cx="308.7" cy="671.1" r="1.45"/><circle cx="295.3" cy="676.6" r="1.45"/><circle cx="298.3" cy="697.3" r="1.45"/><circle cx="300.8" cy="688.6" r="1.45"/><circle cx="292.6" cy="693.9" r="1.45"/><circle cx="287.7" cy="678.9" r="1.45"/><circle cx="321.2" cy="697.0" r="1.45"/><circle cx="300.8" cy="681.6" r="1.45"/><circle cx="309.5" cy="691.3" r="1.45"/><circle cx="289.5" cy="694.2" r="1.45"/><circle cx="319.5" cy="684.1" r="1.45"/><circle cx="315.3" cy="681.7" r="1.45"/><circle cx="286.8" cy="683.8" r="1.45"/><circle cx="298.1" cy="667.9" r="1.45"/><circle cx="309.6" cy="660.6" r="1.45"/><circle cx="287.5" cy="695.1" r="1.45"/><circle cx="286.1" cy="688.6" r="1.45"/><circle cx="297.7" cy="662.5" r="1.45"/><circle cx="290.9" cy="687.2" r="1.45"/><circle cx="313.8" cy="675.0" r="1.45"/><circle cx="316.5" cy="692.3" r="1.45"/><circle cx="308.0" cy="680.5" r="1.45"/><circle cx="302.1" cy="647.3" r="1.45"/><circle cx="316.6" cy="688.9" r="1.45"/><circle cx="309.3" cy="698.7" r="1.45"/><circle cx="287.6" cy="690.9" r="1.45"/><circle cx="293.1" cy="695.8" r="1.45"/><circle cx="309.3" cy="664.1" r="1.45"/><circle cx="307.6" cy="677.9" r="1.45"/><circle cx="301.0" cy="690.4" r="1.45"/><circle cx="306.4" cy="683.0" r="1.45"/><circle cx="298.2" cy="671.5" r="1.45"/></g>
<text x="305.2" y="719.0" font-size="9.8" text-anchor="middle" fill="#2b2b2b" >HC</text>
<path d="M239.5,518.5 L239.5,516.7 L305.2,516.7 L305.2,518.5" fill="none" stroke="#444" stroke-width="0.8"/>
<text x="272.4" y="515.5" font-size="9" text-anchor="middle" fill="#2b2b2b" >****</text>
<path d="M363.6,497 L363.6,708.8 L685,708.8" fill="none" stroke="#555" stroke-width="0.9"/>
<line x1="361.1" y1="556.2" x2="363.6" y2="556.2" stroke="#555" stroke-width="0.9"/>
<text x="360.1" y="559.7" font-size="9.5" text-anchor="end" fill="#2b2b2b" >10</text>
<line x1="361.1" y1="628.1" x2="363.6" y2="628.1" stroke="#555" stroke-width="0.9"/>
<text x="360.1" y="631.6" font-size="9.5" text-anchor="end" fill="#2b2b2b" >5</text>
<line x1="361.1" y1="700.4" x2="363.6" y2="700.4" stroke="#555" stroke-width="0.9"/>
<text x="360.1" y="703.9" font-size="9.5" text-anchor="end" fill="#2b2b2b" >0</text>
<text x="345.0" y="603.0" font-size="9.3" text-anchor="middle" fill="#2b2b2b" transform="rotate(-90 345.0 603.0)" >Percentage(%)</text>
<line x1="451.4" y1="708.8" x2="451.4" y2="711.3" stroke="#555" stroke-width="0.9"/>
<path d="M448.9,515.5 L447.8,518.6 L447.4,521.7 L447.2,524.8 L447.0,527.9 L446.8,531.1 L446.7,534.2 L446.5,537.3 L446.3,540.4 L446.2,543.5 L446.1,546.6 L446.0,549.7 L445.9,552.8 L445.9,555.9 L445.9,559.0 L446.1,562.2 L446.2,565.3 L446.4,568.4 L446.6,571.5 L446.8,574.6 L446.9,577.7 L446.9,580.8 L446.9,583.9 L446.8,587.0 L446.6,590.1 L446.4,593.3 L446.2,596.4 L445.9,599.5 L445.5,602.6 L444.8,605.7 L444.0,608.8 L443.2,611.9 L442.4,615.0 L441.5,618.1 L440.6,621.2 L439.7,624.4 L438.6,627.5 L437.4,630.6 L435.9,633.7 L434.4,636.8 L432.8,639.9 L431.1,643.0 L429.4,646.1 L427.7,649.2 L425.9,652.3 L424.1,655.5 L422.2,658.6 L420.5,661.7 L418.7,664.8 L416.9,667.9 L415.2,671.0 L413.7,674.1 L412.6,677.2 L411.4,680.3 L410.8,683.4 L410.8,686.6 L411.2,689.7 L411.8,692.8 L412.7,695.9 L414.4,699.0 L488.4,699.0 L490.1,695.9 L491.0,692.8 L491.6,689.7 L492.0,686.6 L492.0,683.4 L491.4,680.3 L490.2,677.2 L489.1,674.1 L487.6,671.0 L485.9,667.9 L484.1,664.8 L482.3,661.7 L480.6,658.6 L478.7,655.5 L476.9,652.3 L475.1,649.2 L473.4,646.1 L471.7,643.0 L470.0,639.9 L468.4,636.8 L466.9,633.7 L465.4,630.6 L464.2,627.5 L463.1,624.4 L462.2,621.2 L461.3,618.1 L460.4,615.0 L459.6,611.9 L458.8,608.8 L458.0,605.7 L457.3,602.6 L456.9,599.5 L456.6,596.4 L456.4,593.3 L456.2,590.1 L456.0,587.0 L455.9,583.9 L455.9,580.8 L455.9,577.7 L456.0,574.6 L456.2,571.5 L456.4,568.4 L456.6,565.3 L456.7,562.2 L456.9,559.0 L456.9,555.9 L456.9,552.8 L456.8,549.7 L456.7,546.6 L456.6,543.5 L456.5,540.4 L456.3,537.3 L456.1,534.2 L456.0,531.1 L455.8,527.9 L455.6,524.8 L455.4,521.7 L455.0,518.6 L453.9,515.5Z" fill="#cde8f1" stroke="#45b3d8" stroke-width="1.2"/>
<g fill="#45b3d8"><circle cx="440.2" cy="674.4" r="1.45"/><circle cx="445.1" cy="627.7" r="1.45"/><circle cx="430.3" cy="698.1" r="1.45"/><circle cx="423.5" cy="688.8" r="1.45"/><circle cx="429.4" cy="669.6" r="1.45"/><circle cx="459.5" cy="698.2" r="1.45"/><circle cx="479.7" cy="680.4" r="1.45"/><circle cx="463.7" cy="675.1" r="1.45"/><circle cx="441.2" cy="678.4" r="1.45"/><circle cx="455.5" cy="681.9" r="1.45"/><circle cx="427.2" cy="697.9" r="1.45"/><circle cx="423.8" cy="687.2" r="1.45"/><circle cx="434.2" cy="645.9" r="1.45"/><circle cx="453.8" cy="580.6" r="1.45"/><circle cx="457.1" cy="694.5" r="1.45"/><circle cx="428.6" cy="684.3" r="1.45"/><circle cx="480.6" cy="674.7" r="1.45"/><circle cx="428.5" cy="669.6" r="1.45"/><circle cx="452.1" cy="696.2" r="1.45"/><circle cx="456.8" cy="561.4" r="1.45"/><circle cx="434.5" cy="631.7" r="1.45"/><circle cx="440.2" cy="655.3" r="1.45"/><circle cx="453.6" cy="699.1" r="1.45"/><circle cx="463.1" cy="681.2" r="1.45"/><circle cx="463.4" cy="675.6" r="1.45"/><circle cx="459.8" cy="658.1" r="1.45"/><circle cx="436.0" cy="633.1" r="1.45"/><circle cx="435.5" cy="537.0" r="1.45"/><circle cx="464.4" cy="629.6" r="1.45"/><circle cx="438.7" cy="635.7" r="1.45"/><circle cx="442.5" cy="671.0" r="1.45"/><circle cx="469.9" cy="660.4" r="1.45"/><circle cx="421.3" cy="697.5" r="1.45"/><circle cx="475.0" cy="695.2" r="1.45"/><circle cx="461.6" cy="673.9" r="1.45"/><circle cx="447.3" cy="634.1" r="1.45"/><circle cx="438.6" cy="655.6" r="1.45"/><circle cx="452.2" cy="547.6" r="1.45"/><circle cx="472.8" cy="679.1" r="1.45"/><circle cx="435.1" cy="660.8" r="1.45"/><circle cx="434.7" cy="694.4" r="1.45"/><circle cx="451.4" cy="655.6" r="1.45"/><circle cx="471.9" cy="690.4" r="1.45"/><circle cx="446.7" cy="663.0" r="1.45"/><circle cx="445.5" cy="678.9" r="1.45"/><circle cx="475.7" cy="658.5" r="1.45"/><circle cx="453.7" cy="687.8" r="1.45"/><circle cx="462.1" cy="644.1" r="1.45"/><circle cx="457.6" cy="633.4" r="1.45"/><circle cx="453.1" cy="572.1" r="1.45"/><circle cx="447.8" cy="661.1" r="1.45"/><circle cx="461.6" cy="683.2" r="1.45"/><circle cx="471.7" cy="666.9" r="1.45"/><circle cx="427.9" cy="690.0" r="1.45"/><circle cx="436.2" cy="676.0" r="1.45"/><circle cx="432.3" cy="672.5" r="1.45"/><circle cx="471.1" cy="669.3" r="1.45"/><circle cx="445.1" cy="560.0" r="1.45"/><circle cx="448.0" cy="674.8" r="1.45"/><circle cx="451.9" cy="639.2" r="1.45"/><circle cx="467.8" cy="604.4" r="1.45"/><circle cx="433.5" cy="615.8" r="1.45"/><circle cx="440.1" cy="634.8" r="1.45"/><circle cx="475.7" cy="676.9" r="1.45"/><circle cx="449.5" cy="651.4" r="1.45"/><circle cx="445.2" cy="653.4" r="1.45"/><circle cx="477.1" cy="663.9" r="1.45"/><circle cx="425.5" cy="697.5" r="1.45"/><circle cx="430.9" cy="648.9" r="1.45"/><circle cx="470.3" cy="652.8" r="1.45"/><circle cx="464.4" cy="647.3" r="1.45"/><circle cx="453.3" cy="655.6" r="1.45"/><circle cx="440.3" cy="653.8" r="1.45"/><circle cx="469.7" cy="688.8" r="1.45"/><circle cx="428.8" cy="698.0" r="1.45"/><circle cx="447.3" cy="661.7" r="1.45"/><circle cx="429.7" cy="691.6" r="1.45"/><circle cx="448.1" cy="617.5" r="1.45"/><circle cx="420.0" cy="669.3" r="1.45"/><circle cx="448.7" cy="689.1" r="1.45"/><circle cx="449.7" cy="609.6" r="1.45"/><circle cx="483.2" cy="699.7" r="1.45"/><circle cx="444.6" cy="662.5" r="1.45"/><circle cx="453.4" cy="669.9" r="1.45"/><circle cx="428.4" cy="695.3" r="1.45"/><circle cx="437.0" cy="694.0" r="1.45"/><circle cx="441.6" cy="642.6" r="1.45"/><circle cx="480.1" cy="666.5" r="1.45"/><circle cx="426.8" cy="684.4" r="1.45"/><circle cx="460.1" cy="667.3" r="1.45"/><circle cx="473.3" cy="696.0" r="1.45"/><circle cx="467.3" cy="641.2" r="1.45"/><circle cx="464.9" cy="697.7" r="1.45"/><circle cx="430.3" cy="677.4" r="1.45"/><circle cx="479.1" cy="676.4" r="1.45"/><circle cx="452.5" cy="680.8" r="1.45"/><circle cx="452.6" cy="650.4" r="1.45"/><circle cx="475.0" cy="666.2" r="1.45"/><circle cx="433.2" cy="644.2" r="1.45"/><circle cx="465.9" cy="687.8" r="1.45"/><circle cx="464.5" cy="656.2" r="1.45"/><circle cx="457.5" cy="630.0" r="1.45"/><circle cx="431.2" cy="692.4" r="1.45"/><circle cx="472.9" cy="658.1" r="1.45"/><circle cx="434.2" cy="695.5" r="1.45"/><circle cx="440.9" cy="665.7" r="1.45"/><circle cx="473.5" cy="679.5" r="1.45"/><circle cx="479.2" cy="687.3" r="1.45"/><circle cx="436.1" cy="670.5" r="1.45"/><circle cx="450.0" cy="696.6" r="1.45"/><circle cx="474.5" cy="688.2" r="1.45"/><circle cx="453.9" cy="692.1" r="1.45"/><circle cx="433.6" cy="671.1" r="1.45"/><circle cx="446.8" cy="626.1" r="1.45"/><circle cx="456.2" cy="636.3" r="1.45"/><circle cx="459.5" cy="630.4" r="1.45"/><circle cx="438.8" cy="671.7" r="1.45"/><circle cx="430.9" cy="695.6" r="1.45"/><circle cx="469.9" cy="673.2" r="1.45"/><circle cx="439.8" cy="665.2" r="1.45"/><circle cx="442.3" cy="619.5" r="1.45"/><circle cx="439.7" cy="661.1" r="1.45"/><circle cx="441.7" cy="638.7" r="1.45"/><circle cx="429.4" cy="666.0" r="1.45"/><circle cx="444.5" cy="666.5" r="1.45"/><circle cx="430.8" cy="696.0" r="1.45"/><circle cx="459.7" cy="662.6" r="1.45"/><circle cx="425.2" cy="692.6" r="1.45"/><circle cx="446.2" cy="561.5" r="1.45"/><circle cx="475.0" cy="658.7" r="1.45"/><circle cx="448.6" cy="683.6" r="1.45"/><circle cx="474.8" cy="665.7" r="1.45"/><circle cx="441.6" cy="602.3" r="1.45"/><circle cx="466.4" cy="658.6" r="1.45"/><circle cx="424.1" cy="673.9" r="1.45"/><circle cx="481.2" cy="696.0" r="1.45"/><circle cx="469.5" cy="645.7" r="1.45"/><circle cx="458.3" cy="609.7" r="1.45"/><circle cx="431.8" cy="685.1" r="1.45"/><circle cx="468.4" cy="677.5" r="1.45"/><circle cx="467.4" cy="658.6" r="1.45"/><circle cx="460.0" cy="662.0" r="1.45"/><circle cx="465.2" cy="656.0" r="1.45"/><circle cx="435.1" cy="679.6" r="1.45"/><circle cx="469.9" cy="690.9" r="1.45"/><circle cx="438.5" cy="653.2" r="1.45"/><circle cx="451.8" cy="693.2" r="1.45"/><circle cx="445.4" cy="663.7" r="1.45"/><circle cx="433.2" cy="669.4" r="1.45"/><circle cx="441.1" cy="648.9" r="1.45"/></g>
<text x="451.4" y="720.0" font-size="9.8" text-anchor="middle" fill="#2b2b2b" >ATB</text>
<line x1="599.4" y1="708.8" x2="599.4" y2="711.3" stroke="#555" stroke-width="0.9"/>
<path d="M598.2,543.5 L597.8,546.1 L597.7,548.8 L597.7,551.4 L597.6,554.0 L597.6,556.7 L597.6,559.3 L597.6,561.9 L597.6,564.5 L597.5,567.2 L597.5,569.8 L597.5,572.4 L597.5,575.1 L597.4,577.7 L597.0,580.3 L596.2,583.0 L595.1,585.6 L594.4,588.2 L593.8,590.8 L593.3,593.5 L592.9,596.1 L592.5,598.7 L592.3,601.4 L592.1,604.0 L592.0,606.6 L591.8,609.3 L591.7,611.9 L591.4,614.5 L591.1,617.2 L590.6,619.8 L589.9,622.4 L589.2,625.0 L588.5,627.7 L587.8,630.3 L587.1,632.9 L586.3,635.6 L585.1,638.2 L583.1,640.8 L580.8,643.5 L578.5,646.1 L576.4,648.7 L574.5,651.4 L572.7,654.0 L570.6,656.6 L568.2,659.2 L565.2,661.9 L561.8,664.5 L558.5,667.1 L555.6,669.8 L552.7,672.4 L549.9,675.0 L547.3,677.7 L545.2,680.3 L543.1,682.9 L541.4,685.5 L540.7,688.2 L541.2,690.8 L542.4,693.4 L544.5,696.1 L549.4,698.7 L649.4,698.7 L654.3,696.1 L656.4,693.4 L657.6,690.8 L658.1,688.2 L657.4,685.5 L655.7,682.9 L653.6,680.3 L651.5,677.7 L648.9,675.0 L646.1,672.4 L643.2,669.8 L640.3,667.1 L637.0,664.5 L633.6,661.9 L630.6,659.2 L628.2,656.6 L626.1,654.0 L624.3,651.4 L622.4,648.7 L620.3,646.1 L618.0,643.5 L615.7,640.8 L613.7,638.2 L612.5,635.6 L611.7,632.9 L611.0,630.3 L610.3,627.7 L609.6,625.0 L608.9,622.4 L608.2,619.8 L607.7,617.2 L607.4,614.5 L607.1,611.9 L607.0,609.3 L606.8,606.6 L606.7,604.0 L606.5,601.4 L606.3,598.7 L605.9,596.1 L605.5,593.5 L605.0,590.8 L604.4,588.2 L603.7,585.6 L602.6,583.0 L601.8,580.3 L601.4,577.7 L601.3,575.1 L601.3,572.4 L601.3,569.8 L601.3,567.2 L601.2,564.5 L601.2,561.9 L601.2,559.3 L601.2,556.7 L601.2,554.0 L601.1,551.4 L601.1,548.8 L601.0,546.1 L600.6,543.5Z" fill="#f7d6d6" stroke="#d93a3a" stroke-width="1.2"/>
<g fill="#d93a3a"><circle cx="570.9" cy="694.0" r="1.45"/><circle cx="605.5" cy="624.9" r="1.45"/><circle cx="567.2" cy="676.0" r="1.45"/><circle cx="572.7" cy="676.7" r="1.45"/><circle cx="596.3" cy="641.7" r="1.45"/><circle cx="582.7" cy="634.2" r="1.45"/><circle cx="600.7" cy="673.7" r="1.45"/><circle cx="611.5" cy="669.8" r="1.45"/><circle cx="584.4" cy="662.0" r="1.45"/><circle cx="611.1" cy="660.7" r="1.45"/><circle cx="575.8" cy="658.7" r="1.45"/><circle cx="572.2" cy="683.8" r="1.45"/><circle cx="599.3" cy="697.6" r="1.45"/><circle cx="568.3" cy="665.0" r="1.45"/><circle cx="616.4" cy="670.8" r="1.45"/><circle cx="625.2" cy="686.4" r="1.45"/><circle cx="566.8" cy="666.3" r="1.45"/><circle cx="610.3" cy="645.3" r="1.45"/><circle cx="604.0" cy="683.6" r="1.45"/><circle cx="630.7" cy="668.6" r="1.45"/><circle cx="610.2" cy="564.8" r="1.45"/><circle cx="626.0" cy="667.1" r="1.45"/><circle cx="622.8" cy="693.2" r="1.45"/><circle cx="612.1" cy="621.0" r="1.45"/><circle cx="616.4" cy="693.4" r="1.45"/><circle cx="626.2" cy="683.1" r="1.45"/><circle cx="572.1" cy="691.5" r="1.45"/><circle cx="619.5" cy="679.8" r="1.45"/><circle cx="611.1" cy="686.8" r="1.45"/><circle cx="590.4" cy="692.9" r="1.45"/><circle cx="596.5" cy="652.2" r="1.45"/><circle cx="585.5" cy="641.7" r="1.45"/><circle cx="586.9" cy="680.6" r="1.45"/><circle cx="613.6" cy="676.5" r="1.45"/><circle cx="602.8" cy="677.0" r="1.45"/><circle cx="627.6" cy="668.6" r="1.45"/><circle cx="583.2" cy="697.7" r="1.45"/><circle cx="581.5" cy="681.6" r="1.45"/><circle cx="615.1" cy="682.5" r="1.45"/><circle cx="615.8" cy="604.6" r="1.45"/><circle cx="590.8" cy="663.4" r="1.45"/><circle cx="592.5" cy="663.2" r="1.45"/><circle cx="570.0" cy="698.7" r="1.45"/><circle cx="588.9" cy="647.3" r="1.45"/><circle cx="626.4" cy="676.7" r="1.45"/><circle cx="630.9" cy="687.7" r="1.45"/><circle cx="598.8" cy="682.9" r="1.45"/><circle cx="622.8" cy="688.8" r="1.45"/><circle cx="580.7" cy="668.7" r="1.45"/><circle cx="606.0" cy="651.0" r="1.45"/><circle cx="622.0" cy="658.4" r="1.45"/><circle cx="589.5" cy="679.5" r="1.45"/><circle cx="608.5" cy="677.0" r="1.45"/><circle cx="615.5" cy="672.0" r="1.45"/><circle cx="575.7" cy="695.3" r="1.45"/><circle cx="583.5" cy="672.2" r="1.45"/><circle cx="604.3" cy="657.2" r="1.45"/><circle cx="583.5" cy="682.0" r="1.45"/><circle cx="577.0" cy="680.4" r="1.45"/><circle cx="577.0" cy="689.4" r="1.45"/><circle cx="618.1" cy="679.4" r="1.45"/><circle cx="598.0" cy="584.0" r="1.45"/><circle cx="603.1" cy="676.9" r="1.45"/><circle cx="605.8" cy="653.6" r="1.45"/><circle cx="589.4" cy="659.6" r="1.45"/><circle cx="609.8" cy="688.3" r="1.45"/><circle cx="596.2" cy="697.2" r="1.45"/><circle cx="572.5" cy="693.6" r="1.45"/><circle cx="600.7" cy="658.8" r="1.45"/><circle cx="599.3" cy="673.4" r="1.45"/><circle cx="611.9" cy="692.5" r="1.45"/><circle cx="629.7" cy="692.5" r="1.45"/><circle cx="583.1" cy="623.5" r="1.45"/><circle cx="607.1" cy="663.8" r="1.45"/><circle cx="612.8" cy="681.4" r="1.45"/><circle cx="598.4" cy="655.6" r="1.45"/><circle cx="596.9" cy="598.1" r="1.45"/><circle cx="610.9" cy="658.1" r="1.45"/><circle cx="602.1" cy="678.6" r="1.45"/><circle cx="593.9" cy="686.8" r="1.45"/><circle cx="609.7" cy="687.9" r="1.45"/><circle cx="606.4" cy="680.5" r="1.45"/><circle cx="572.2" cy="681.8" r="1.45"/><circle cx="590.1" cy="678.0" r="1.45"/><circle cx="625.4" cy="689.1" r="1.45"/><circle cx="576.9" cy="683.3" r="1.45"/><circle cx="600.8" cy="685.3" r="1.45"/><circle cx="608.4" cy="694.3" r="1.45"/><circle cx="585.7" cy="643.7" r="1.45"/><circle cx="588.6" cy="611.2" r="1.45"/><circle cx="587.7" cy="678.3" r="1.45"/><circle cx="606.0" cy="673.7" r="1.45"/><circle cx="574.7" cy="695.0" r="1.45"/><circle cx="617.0" cy="665.3" r="1.45"/><circle cx="611.4" cy="685.3" r="1.45"/><circle cx="619.4" cy="685.2" r="1.45"/><circle cx="584.2" cy="660.5" r="1.45"/><circle cx="600.9" cy="583.8" r="1.45"/><circle cx="623.1" cy="672.6" r="1.45"/><circle cx="596.1" cy="656.4" r="1.45"/><circle cx="602.8" cy="654.3" r="1.45"/><circle cx="593.5" cy="675.2" r="1.45"/><circle cx="610.7" cy="653.0" r="1.45"/><circle cx="607.8" cy="680.4" r="1.45"/><circle cx="616.0" cy="681.8" r="1.45"/><circle cx="630.4" cy="674.9" r="1.45"/><circle cx="617.8" cy="680.1" r="1.45"/><circle cx="603.1" cy="655.8" r="1.45"/><circle cx="583.2" cy="680.5" r="1.45"/><circle cx="600.3" cy="691.6" r="1.45"/><circle cx="628.9" cy="692.1" r="1.45"/><circle cx="616.9" cy="641.2" r="1.45"/><circle cx="574.5" cy="667.1" r="1.45"/><circle cx="610.8" cy="686.4" r="1.45"/><circle cx="567.9" cy="681.9" r="1.45"/><circle cx="573.5" cy="670.5" r="1.45"/><circle cx="590.9" cy="690.6" r="1.45"/><circle cx="572.8" cy="693.3" r="1.45"/><circle cx="609.3" cy="679.8" r="1.45"/><circle cx="599.3" cy="660.6" r="1.45"/><circle cx="591.8" cy="697.9" r="1.45"/><circle cx="622.6" cy="676.2" r="1.45"/><circle cx="589.9" cy="668.1" r="1.45"/><circle cx="590.3" cy="645.0" r="1.45"/><circle cx="585.1" cy="695.3" r="1.45"/><circle cx="567.9" cy="684.9" r="1.45"/><circle cx="607.4" cy="629.9" r="1.45"/><circle cx="606.2" cy="652.9" r="1.45"/><circle cx="593.8" cy="695.7" r="1.45"/><circle cx="610.8" cy="630.9" r="1.45"/><circle cx="588.3" cy="685.0" r="1.45"/><circle cx="580.5" cy="680.2" r="1.45"/><circle cx="568.6" cy="676.3" r="1.45"/><circle cx="578.1" cy="685.9" r="1.45"/><circle cx="596.1" cy="668.2" r="1.45"/><circle cx="588.2" cy="682.1" r="1.45"/><circle cx="595.7" cy="694.0" r="1.45"/><circle cx="570.0" cy="680.9" r="1.45"/><circle cx="568.1" cy="678.3" r="1.45"/><circle cx="611.0" cy="682.3" r="1.45"/><circle cx="595.4" cy="653.2" r="1.45"/><circle cx="618.3" cy="666.8" r="1.45"/><circle cx="622.2" cy="687.3" r="1.45"/><circle cx="590.3" cy="680.6" r="1.45"/><circle cx="597.9" cy="643.0" r="1.45"/><circle cx="616.9" cy="692.9" r="1.45"/><circle cx="575.2" cy="672.0" r="1.45"/><circle cx="617.1" cy="660.1" r="1.45"/><circle cx="593.8" cy="649.4" r="1.45"/><circle cx="582.8" cy="695.5" r="1.45"/></g>
<text x="599.4" y="720.0" font-size="9.8" text-anchor="middle" fill="#2b2b2b" >HC</text>
<path d="M451.4,508.0 L451.4,506.2 L599.4,506.2 L599.4,508.0" fill="none" stroke="#444" stroke-width="0.8"/>
<text x="525.4" y="505.0" font-size="9" text-anchor="middle" fill="#2b2b2b" >ns</text>
<text x="96" y="726.3" font-size="10.2" text-anchor="middle" fill="#2b2b2b">Vδ2<tspan font-size="6" dy="-4">-</tspan><tspan dy="4"> T cells</tspan></text>
<text x="272" y="726.3" font-size="10.2" text-anchor="middle" fill="#2b2b2b">Vδ2<tspan font-size="6" dy="-4">+</tspan><tspan dy="4"> T cells</tspan></text>
<text x="526.5" y="726.5" font-size="9.5" text-anchor="middle" fill="#2b2b2b" >MAIT cells</text>
<defs><filter id="blur1" x="-10%" y="-10%" width="120%" height="120%"><feGaussianBlur stdDeviation="0.1"/></filter><filter id="blur2" x="-10%" y="-10%" width="120%" height="120%"><feGaussianBlur stdDeviation="0.2"/></filter><filter id="blur3" x="-10%" y="-10%" width="120%" height="120%"><feGaussianBlur stdDeviation="0.3"/></filter><filter id="blur4" x="-10%" y="-10%" width="120%" height="120%"><feGaussianBlur stdDeviation="0.4"/></filter><filter id="blur5" x="-10%" y="-10%" width="120%" height="120%"><feGaussianBlur stdDeviation="0.5"/></filter><filter id="blur6" x="-10%" y="-10%" width="120%" height="120%"><feGaussianBlur stdDeviation="0.6"/></filter><filter id="blur7" x="-10%" y="-10%" width="120%" height="120%"><feGaussianBlur stdDeviation="0.7"/></filter><filter id="blur8" x="-10%" y="-10%" width="120%" height="120%"><feGaussianBlur stdDeviation="0.8"/></filter><filter id="blur9" x="-10%" y="-10%" width="120%" height="120%"><feGaussianBlur stdDeviation="0.9"/></filter><filter id="blur10" x="-10%" y="-10%" width="120%" height="120%"><feGaussianBlur stdDeviation="1.0"/></filter><filter id="blur11" x="-10%" y="-10%" width="120%" height="120%"><feGaussianBlur stdDeviation="1.1"/></filter><filter id="blur12" x="-10%" y="-10%" width="120%" height="120%"><feGaussianBlur stdDeviation="1.2"/></filter><filter id="blur13" x="-10%" y="-10%" width="120%" height="120%"><feGaussianBlur stdDeviation="1.3"/></filter><filter id="blur14" x="-10%" y="-10%" width="120%" height="120%"><feGaussianBlur stdDeviation="1.4"/></filter><filter id="blur15" x="-10%" y="-10%" width="120%" height="120%"><feGaussianBlur stdDeviation="1.5"/></filter><filter id="blur16" x="-10%" y="-10%" width="120%" height="120%"><feGaussianBlur stdDeviation="1.6"/></filter><filter id="blur17" x="-10%" y="-10%" width="120%" height="120%"><feGaussianBlur stdDeviation="1.7"/></filter><filter id="blur18" x="-10%" y="-10%" width="120%" height="120%"><feGaussianBlur stdDeviation="1.8"/></filter><filter id="blur19" x="-10%" y="-10%" width="120%" height="120%"><feGaussianBlur stdDeviation="1.9"/></filter><filter id="blur20" x="-10%" y="-10%" width="120%" height="120%"><feGaussianBlur stdDeviation="2.0"/></filter></defs>
<line x1="28.5" y1="471.5" x2="28.5" y2="244" stroke="#111" stroke-width="1.3"/>
<path d="M28.5,239 L34.0,248.5 L28.5,245.84 L23.0,248.5Z" fill="#111"/>
<line x1="28.5" y1="471.5" x2="337.2" y2="471.5" stroke="#111" stroke-width="1.3"/>
<path d="M342.2,471.5 L332.2,477.0 L335.0,471.5 L332.2,466.0Z" fill="#111"/>
<text x="20.6" y="436" font-size="11.3" text-anchor="middle" fill="#1a1a1a" transform="rotate(-90 20.6 436)" textLength="68" lengthAdjust="spacingAndGlyphs">CCR7 KB520</text>
<text x="30" y="482.8" font-size="10.6" fill="#1a1a1a" textLength="110" lengthAdjust="spacingAndGlyphs">CD45RA Percp-cy5.5</text>
<line x1="361.6" y1="471.5" x2="361.6" y2="243.7" stroke="#111" stroke-width="1.3"/>
<path d="M361.6,238.7 L367.1,248.2 L361.6,245.54 L356.1,248.2Z" fill="#111"/>
<line x1="361.6" y1="471.5" x2="670.4" y2="471.5" stroke="#111" stroke-width="1.3"/>
<path d="M675.4,471.5 L665.4,477.0 L668.1999999999999,471.5 L665.4,466.0Z" fill="#111"/>
<text x="353.2" y="436" font-size="11.3" text-anchor="middle" fill="#1a1a1a" transform="rotate(-90 353.2 436)" textLength="68" lengthAdjust="spacingAndGlyphs">CCR7 KB520</text>
<text x="362.7" y="482.5" font-size="10.6" fill="#1a1a1a" textLength="110.8" lengthAdjust="spacingAndGlyphs">CD45RA Percp-cy5.5</text>
<text x="109.3" y="286.5" font-size="10.5" text-anchor="middle" fill="#1a1a1a">ATB</text>
<text x="255.6" y="286.1" font-size="10.5" text-anchor="middle" fill="#1a1a1a">HC</text>
<text x="444.8" y="286.5" font-size="10.5" text-anchor="middle" fill="#1a1a1a">ATB</text>
<text x="596.9" y="286.1" font-size="10.5" text-anchor="middle" fill="#1a1a1a">HC</text>
<path d="M143.0,331.5 138.2,329.8 135.5,329.8 125.8,331.5 106.8,336.5 92.5,339.5 72.0,341.0 64.0,343.8 59.0,348.5 57.2,354.2 56.5,366.5 57.2,405.5 60.0,420.2 62.0,422.8 67.8,426.5 69.8,427.2 81.5,427.2 90.2,423.8 93.5,421.8 103.2,413.2 111.8,403.8 116.8,397.2 118.5,396.2 126.2,394.8 134.2,388.8 139.0,380.5 143.0,369.2 145.2,356.2 146.5,338.8 145.0,334.5Z" fill="#1a3a96" fill-rule="evenodd"/>
<clipPath id="a1c"><path d="M143.0,331.5 138.2,329.8 135.5,329.8 125.8,331.5 106.8,336.5 92.5,339.5 72.0,341.0 64.0,343.8 59.0,348.5 57.2,354.2 56.5,366.5 57.2,405.5 60.0,420.2 62.0,422.8 67.8,426.5 69.8,427.2 81.5,427.2 90.2,423.8 93.5,421.8 103.2,413.2 111.8,403.8 116.8,397.2 118.5,396.2 126.2,394.8 134.2,388.8 139.0,380.5 143.0,369.2 145.2,356.2 146.5,338.8 145.0,334.5Z" fill-rule="evenodd"/></clipPath>
<g clip-path="url(#a1c)"><g filter="url(#blur8)"><path d="M142.8,332.0 138.0,330.2 134.2,330.2 127.0,331.5 107.0,337.0 92.8,340.0 72.0,341.5 64.2,344.2 59.5,348.8 57.8,354.5 57.0,366.8 57.8,405.2 60.2,419.0 61.0,421.0 62.2,422.2 68.0,426.0 70.0,426.8 81.2,426.8 90.0,423.2 93.2,421.2 103.0,412.8 116.5,396.8 118.2,395.8 126.0,394.2 133.8,388.5 138.5,380.2 141.0,373.8 143.2,366.2 145.0,356.2 146.0,339.0 144.5,334.8Z" fill="#1d46a5" fill-rule="evenodd"/><path d="M142.5,332.5 137.8,330.8 131.5,331.0 125.0,332.2 117.2,335.0 93.0,340.5 73.0,341.8 64.5,344.8 60.0,349.0 58.2,354.8 57.5,367.0 58.2,405.0 61.0,419.8 62.5,421.8 68.2,425.5 70.2,426.2 81.0,426.2 89.8,422.8 93.0,420.8 102.8,412.2 116.2,396.2 118.0,395.2 125.8,393.8 133.2,388.2 138.0,380.0 142.5,367.5 144.8,356.2 145.5,347.8 145.5,339.2 145.0,337.2Z" fill="#1f4faf" fill-rule="evenodd"/><path d="M142.2,333.0 137.8,331.2 131.8,331.2 124.2,332.8 117.5,335.5 93.2,341.0 72.5,342.2 64.8,345.2 60.5,349.2 58.8,355.0 58.0,367.2 58.8,404.8 61.5,419.5 62.8,421.2 68.5,425.0 70.5,425.8 81.0,425.8 89.5,422.2 92.8,420.2 102.5,411.8 116.0,395.8 117.8,394.8 125.5,393.2 132.8,388.0 138.2,378.0 141.8,368.5 144.5,357.2 145.2,347.8 145.0,339.5Z" fill="#2159b9" fill-rule="evenodd"/><path d="M137.2,331.5 131.8,331.5 122.2,333.8 118.2,336.0 113.8,344.8 110.8,344.8 106.5,346.5 102.2,346.8 97.8,347.8 90.2,351.0 89.2,350.5 86.8,345.0 84.8,343.0 82.8,342.0 72.2,342.8 69.5,343.8 68.2,345.0 65.5,351.2 64.0,359.5 63.2,375.2 63.2,390.8 63.8,403.8 65.0,412.8 67.8,420.2 70.2,423.0 74.5,424.5 82.0,424.2 84.8,423.0 86.8,421.0 88.5,417.8 90.2,411.5 91.5,400.0 91.8,365.0 101.8,365.5 114.8,362.8 115.8,363.5 119.2,369.2 122.0,371.8 125.8,373.8 129.0,374.5 133.0,374.2 138.0,372.0 141.0,369.2 142.8,364.2 144.8,354.0 144.5,340.0 142.5,336.5Z" fill="#2263c3" fill-rule="evenodd"/><path d="M138.5,333.5 135.8,331.8 131.8,331.8 123.5,333.5 120.5,334.8 118.8,336.8 116.2,341.0 114.5,345.5 110.8,345.2 107.0,347.0 98.8,348.0 93.2,350.0 89.5,352.2 88.5,351.5 86.0,346.2 82.5,343.8 78.8,343.2 73.5,343.5 71.0,344.5 69.0,346.2 66.0,352.8 64.5,361.5 64.0,369.5 64.0,396.5 64.8,406.8 66.0,413.2 68.2,418.8 70.2,421.0 73.5,422.5 78.8,422.8 82.5,422.2 86.0,419.8 88.0,416.2 89.8,410.0 90.8,401.5 90.8,364.5 91.2,364.0 96.2,365.0 101.2,365.0 115.5,362.0 118.8,367.2 121.0,369.8 125.2,372.5 129.0,373.5 131.5,373.5 135.2,372.5 138.5,370.5 141.2,367.8 144.2,356.0 144.8,351.5 144.5,342.0 142.0,337.2Z" fill="#2473cc" fill-rule="evenodd"/><path d="M138.5,334.2 134.8,332.0 128.0,332.5 121.8,334.5 118.5,338.0 116.5,341.8 115.5,345.2 114.8,346.0 111.2,345.5 106.2,347.5 103.5,347.5 98.5,348.5 94.2,350.0 89.5,353.0 88.2,352.5 86.2,348.0 84.0,345.8 81.5,344.8 75.0,344.5 72.5,345.0 71.0,345.8 68.8,348.0 66.2,354.0 64.8,363.8 64.5,398.5 65.5,408.5 66.8,413.8 68.8,418.0 71.0,420.2 75.0,421.5 82.5,421.0 84.0,420.2 86.2,418.0 88.2,413.8 89.5,408.5 90.5,398.5 90.2,363.8 90.8,363.2 95.5,364.5 102.5,364.5 116.0,361.5 118.5,366.0 122.5,370.2 128.2,372.8 132.0,372.8 134.8,372.0 137.5,370.5 140.8,367.5 142.2,364.2 144.0,356.2 144.5,343.2 142.5,339.0Z" fill="#2687d4" fill-rule="evenodd"/><path d="M138.0,334.5 133.8,332.2 129.0,332.5 122.8,334.2 118.8,338.5 115.2,346.5 111.8,345.8 109.0,346.5 107.0,347.8 99.0,348.8 92.8,351.2 89.0,354.0 88.0,353.5 85.2,348.0 82.2,346.0 73.8,345.8 71.2,346.8 69.8,348.0 67.0,353.2 65.2,362.5 64.8,370.8 64.8,395.2 65.2,403.5 66.5,411.0 67.8,414.8 70.2,418.5 73.8,420.2 82.2,420.0 85.2,418.0 87.8,413.5 89.0,408.8 90.0,400.5 90.2,370.8 89.8,363.2 90.2,362.5 95.0,364.0 101.0,364.2 106.0,363.5 109.8,362.2 113.8,362.0 116.2,361.0 118.8,365.5 121.2,368.5 124.8,371.0 128.8,372.2 131.5,372.2 134.5,371.5 138.0,369.5 141.8,365.2 143.5,358.5 144.5,346.8 144.2,344.0 142.2,339.5Z" fill="#279adc" fill-rule="evenodd"/><path d="M137.8,335.0 132.5,332.5 124.5,333.8 121.8,335.8 119.0,339.0 115.5,347.0 113.2,346.2 110.8,346.2 106.8,348.2 102.2,348.5 98.0,349.5 92.5,352.0 88.8,355.2 87.8,354.5 85.2,349.2 81.8,347.0 74.2,346.8 71.5,347.8 69.8,349.2 67.2,354.2 65.8,361.8 65.0,385.8 65.2,398.2 66.2,407.5 68.0,413.8 70.8,417.8 74.2,419.2 81.8,419.0 85.2,416.8 87.5,412.5 89.0,406.0 89.8,398.2 90.0,380.2 89.2,363.8 89.8,361.5 95.2,363.5 101.8,363.8 109.0,362.0 113.5,361.8 116.5,360.2 119.0,365.0 121.8,368.2 125.5,370.8 129.8,371.8 133.5,371.2 136.2,370.0 140.5,366.2 142.0,364.0 143.8,356.0 144.2,345.5 142.0,340.0Z" fill="#2eade4" fill-rule="evenodd"/><path d="M137.5,335.5 134.5,333.8 132.0,333.0 126.5,333.5 123.2,335.2 120.0,338.5 117.5,343.0 116.0,347.5 111.5,346.5 106.0,349.0 103.2,349.0 97.8,350.2 92.8,352.8 91.0,354.2 89.0,357.5 88.0,356.8 85.5,351.0 82.8,348.5 79.5,347.8 75.5,347.8 72.2,348.5 70.2,350.0 68.5,352.8 67.2,356.2 66.0,363.5 65.5,371.5 65.5,394.5 67.0,408.8 68.5,413.2 70.8,416.5 72.2,417.5 75.5,418.2 79.5,418.2 82.8,417.5 84.2,416.5 86.0,414.2 87.8,409.8 89.0,402.5 89.5,394.5 89.0,359.5 93.5,362.2 96.8,363.0 102.8,363.0 108.5,361.5 112.8,361.5 116.8,359.8 120.0,365.5 124.0,369.2 128.5,371.0 131.8,371.0 134.5,370.2 137.5,368.5 141.2,364.2 142.2,362.5 143.8,355.0 143.8,345.5 141.2,339.8Z" fill="#35bfed" fill-rule="evenodd"/><path d="M75.8,349.0 73.0,349.5 70.2,351.5 68.8,354.0 67.2,358.8 66.0,370.0 66.0,396.0 67.0,406.0 69.2,413.0 71.2,415.5 73.0,416.5 79.2,417.0 82.0,416.5 84.8,414.5 86.2,412.0 87.8,407.2 89.0,396.0 89.0,370.0 88.0,359.5 85.8,353.0 83.8,350.5 82.0,349.5ZM143.0,344.8 140.2,339.2 136.8,335.8 132.2,333.8 127.2,334.0 124.0,335.5 120.8,338.5 118.0,343.2 117.0,347.2 116.0,348.5 114.2,347.5 111.8,347.0 108.8,348.0 105.5,350.5 98.2,352.0 95.0,353.8 93.5,355.2 92.8,357.8 93.8,359.5 98.0,361.2 103.0,361.2 106.8,360.2 109.8,361.0 112.8,361.0 117.0,358.8 120.0,364.5 124.0,368.5 128.2,370.2 133.2,370.0 136.0,368.8 139.2,366.0 142.5,360.5 144.0,351.2Z" fill="#45c3d0" fill-rule="evenodd"/><path d="M74.2,350.8 71.5,352.0 70.0,353.8 68.2,357.8 67.0,364.2 66.5,371.0 66.5,395.0 67.0,401.8 68.8,409.8 71.5,414.0 74.2,415.2 80.8,415.2 83.5,414.0 85.0,412.2 86.8,408.2 88.0,401.8 88.5,395.0 88.5,371.0 88.0,364.2 86.2,356.2 83.5,352.0 80.8,350.8ZM128.8,334.5 124.2,336.2 121.2,339.0 118.5,343.8 116.8,349.5 115.5,349.5 112.5,348.0 110.2,348.2 108.2,349.2 106.8,351.0 106.2,352.5 106.2,355.5 107.8,358.8 110.2,360.2 113.2,360.0 116.8,357.5 117.5,357.8 120.0,363.2 123.2,367.0 127.5,369.2 131.8,369.5 136.5,367.5 140.2,363.5 142.8,357.8 143.5,351.0 142.2,344.2 139.2,339.0 137.2,337.0 133.8,335.0Z" fill="#57c4ac" fill-rule="evenodd"/><path d="M74.5,352.8 72.5,353.5 70.5,355.5 69.0,358.8 68.0,363.0 67.2,370.5 67.5,399.0 68.5,405.5 70.5,410.5 73.5,413.0 80.5,413.2 82.5,412.5 84.5,410.5 86.0,407.2 87.0,403.0 87.8,395.5 87.5,367.0 86.5,360.5 84.5,355.5 81.5,353.0ZM129.2,335.5 124.2,337.5 120.5,341.8 118.5,346.5 117.2,352.0 117.2,354.5 119.2,359.8 121.5,363.8 125.0,367.0 128.0,368.2 130.8,368.5 133.2,368.0 135.8,366.8 138.8,364.0 140.2,361.8 142.5,355.2 142.8,348.5 140.5,341.8 136.8,337.5 133.8,336.0Z" fill="#61c072" fill-rule="evenodd"/><path d="M76.0,355.5 73.5,356.5 72.0,357.8 70.5,360.2 69.2,364.5 68.5,370.8 68.5,395.2 69.5,402.8 71.2,407.2 73.0,409.0 74.8,409.8 80.2,409.8 82.0,409.0 83.8,407.2 85.0,404.5 86.0,400.0 86.5,395.2 86.5,370.8 85.5,363.2 83.8,358.8 80.5,356.2 78.2,355.5ZM132.5,336.5 128.2,337.0 123.8,340.0 120.8,344.5 119.2,350.5 119.8,356.5 122.0,361.8 124.5,364.5 129.0,366.5 132.5,366.2 136.2,364.2 139.8,360.2 141.5,356.5 142.2,353.2 142.2,348.0 140.0,341.8 136.8,338.2Z" fill="#6ebe43" fill-rule="evenodd"/><path d="M76.2,357.5 74.2,358.8 71.8,363.5 70.8,368.5 70.8,376.0 71.8,381.0 73.2,384.5 75.0,386.5 77.2,387.2 80.2,385.2 81.8,382.5 83.0,378.0 83.5,371.0 83.0,366.2 80.8,360.0 78.8,358.0ZM130.0,337.2 126.2,339.0 123.5,342.2 121.5,347.8 121.5,353.2 122.5,356.8 124.5,360.2 128.2,363.2 132.2,364.0 136.0,362.8 139.8,359.0 141.8,353.8 142.0,349.0 141.2,345.2 139.8,342.0 136.8,338.8 133.5,337.2Z" fill="#86c638" fill-rule="evenodd"/><path d="M76.2,359.2 74.5,360.8 73.0,364.2 72.0,369.0 72.0,375.0 72.5,378.0 74.2,382.2 75.8,383.8 77.8,384.0 79.8,382.2 81.5,378.0 82.0,369.0 81.0,364.2 79.5,360.8 77.8,359.2ZM130.0,337.8 126.5,339.5 123.5,343.2 122.0,348.0 122.0,352.8 123.8,358.0 127.0,361.8 129.8,363.0 132.8,363.2 136.5,361.8 139.5,358.5 141.5,353.0 141.5,348.0 140.0,343.2 137.0,339.5 133.5,337.8Z" fill="#9fcd2e" fill-rule="evenodd"/><path d="M76.2,360.2 74.2,362.8 73.5,368.0 74.8,372.5 76.0,373.8 77.5,374.0 79.8,371.5 80.5,366.0 79.8,362.8 78.8,361.0 77.8,360.2ZM130.5,338.2 126.8,340.0 124.5,342.5 122.5,348.0 122.5,353.0 124.5,358.2 127.0,361.0 130.0,362.5 133.5,362.5 136.2,361.2 139.2,358.0 140.8,354.5 141.2,349.2 140.5,345.5 138.5,341.8 134.8,338.8Z" fill="#c0d521" fill-rule="evenodd"/><path d="M76.8,362.5 75.2,364.0 74.8,368.5 75.8,371.0 77.2,371.8 78.8,370.2 79.2,365.8 78.5,363.5ZM130.2,339.0 127.5,340.2 124.8,343.2 123.0,348.2 123.0,352.5 123.8,355.5 126.0,359.2 129.2,361.5 132.2,362.0 135.0,361.2 136.5,360.2 139.0,357.2 140.5,353.2 140.8,348.8 139.2,343.8 136.5,340.5 133.5,339.0Z" fill="#e4dd14" fill-rule="evenodd"/><path d="M130.5,340.0 127.8,341.2 125.5,343.8 124.0,347.5 123.8,352.0 125.5,357.0 127.8,359.5 130.2,360.8 133.2,360.8 136.2,359.2 138.5,356.5 140.0,352.8 140.2,348.2 138.8,343.8 136.8,341.5 133.5,340.0Z" fill="#f1c511" fill-rule="evenodd"/><path d="M132.0,341.0 129.2,342.5 127.8,344.5 126.5,349.8 127.0,353.0 128.8,356.2 131.0,358.0 133.5,358.5 136.2,357.5 138.2,355.5 139.8,351.8 139.8,347.5 138.2,343.8 136.2,341.8 134.5,341.0Z" fill="#f39c12" fill-rule="evenodd"/><path d="M132.5,341.5 130.8,342.2 128.8,344.2 127.5,347.5 127.5,351.5 128.8,354.8 130.0,356.2 132.2,357.5 134.8,357.5 138.0,355.0 139.2,352.2 139.5,348.0 138.2,344.5 136.5,342.5 134.5,341.5Z" fill="#ef6913" fill-rule="evenodd"/><path d="M133.0,342.0 130.0,343.5 128.8,345.2 128.0,347.5 128.0,351.5 130.0,355.5 132.0,356.8 134.2,357.0 136.0,356.2 137.8,354.5 139.0,351.5 139.0,347.8 137.8,344.5 136.0,342.8Z" fill="#e93014" fill-rule="evenodd"/></g></g>
<path d="M291.8,347.5 286.0,342.8 275.8,343.0 259.2,346.5 245.0,350.2 233.2,350.5 225.5,352.0 223.0,353.0 216.8,358.5 213.8,362.8 212.0,367.2 211.0,373.5 210.2,392.2 211.5,411.5 212.5,414.2 216.0,418.8 217.8,420.2 219.8,420.8 230.2,420.8 239.8,415.8 255.2,400.2 260.0,397.2 263.5,395.8 277.8,395.0 281.0,393.2 283.8,390.2 287.5,382.8 292.2,371.2 294.0,361.2 294.0,357.5Z" fill="#1a3a96" fill-rule="evenodd"/>
<clipPath id="a2c"><path d="M291.8,347.5 286.0,342.8 275.8,343.0 259.2,346.5 245.0,350.2 233.2,350.5 225.5,352.0 223.0,353.0 216.8,358.5 213.8,362.8 212.0,367.2 211.0,373.5 210.2,392.2 211.5,411.5 212.5,414.2 216.0,418.8 217.8,420.2 219.8,420.8 230.2,420.8 239.8,415.8 255.2,400.2 260.0,397.2 263.5,395.8 277.8,395.0 281.0,393.2 283.8,390.2 287.5,382.8 292.2,371.2 294.0,361.2 294.0,357.5Z" fill-rule="evenodd"/></clipPath>
<g clip-path="url(#a2c)"><g filter="url(#blur8)"><path d="M291.2,347.8 285.8,343.2 276.0,343.5 259.5,347.0 245.2,350.8 233.5,351.0 225.8,352.5 223.2,353.5 217.0,359.0 214.2,363.0 212.5,367.5 211.5,373.8 210.8,392.5 212.0,411.2 213.0,414.0 216.5,418.5 218.0,419.8 220.0,420.2 230.0,420.2 239.5,415.2 255.0,399.8 259.8,396.8 263.2,395.2 277.5,394.5 280.8,392.8 283.2,390.0 292.0,371.0 293.8,361.0 293.8,357.8Z" fill="#1d46a5" fill-rule="evenodd"/><path d="M290.8,348.0 285.2,343.8 276.2,344.0 259.8,347.5 245.0,351.5 233.2,351.8 225.5,353.2 223.8,354.0 217.5,359.5 214.8,363.5 213.2,367.2 212.2,373.5 211.5,392.2 212.8,411.5 213.5,413.5 217.0,418.0 218.5,419.2 224.0,420.0 229.0,420.0 232.2,418.8 239.2,414.8 254.5,399.2 259.2,396.2 263.5,394.5 277.8,393.8 280.2,392.2 282.8,389.5 290.8,373.0 292.2,368.0 293.5,360.0 293.0,356.2Z" fill="#1f4faf" fill-rule="evenodd"/><path d="M290.2,348.5 285.5,344.5 274.0,344.8 245.5,352.0 233.8,352.2 226.0,353.8 224.0,354.5 217.0,361.0 214.2,365.8 212.5,378.0 212.0,396.5 213.2,411.0 214.0,413.2 217.5,417.8 219.0,418.8 228.8,419.5 232.2,418.2 238.5,414.5 254.2,398.8 259.0,395.8 263.0,394.0 275.5,393.5 278.2,393.0 280.0,391.8 282.2,389.2 287.8,377.2 290.8,372.0 292.0,368.0 293.2,360.8 292.8,356.5Z" fill="#2159b9" fill-rule="evenodd"/><path d="M289.0,350.0 286.0,347.8 280.8,345.5 276.8,344.8 267.0,346.5 263.0,348.0 258.5,352.0 256.0,355.5 252.5,354.8 247.5,354.8 244.5,355.5 240.0,358.2 237.2,362.0 234.0,359.8 230.8,359.2 226.0,359.8 223.5,361.8 221.5,366.2 220.2,374.2 220.0,399.0 220.5,406.2 221.5,411.5 223.0,415.2 225.0,417.5 228.0,418.5 230.5,418.5 237.0,415.2 238.5,411.5 239.5,406.2 240.0,399.0 240.0,378.8 239.5,372.2 240.0,371.8 244.5,374.5 247.5,375.2 252.5,375.2 259.0,373.2 263.2,376.8 267.5,378.8 271.8,379.8 277.8,379.8 283.2,378.2 289.0,374.5 291.0,370.8 293.0,360.8 292.8,358.0 291.0,352.2Z" fill="#2263c3" fill-rule="evenodd"/><path d="M288.5,350.5 285.0,348.0 280.0,346.0 272.8,345.5 267.0,346.8 264.0,348.2 259.2,352.2 256.5,356.2 252.5,355.2 247.5,355.2 242.2,357.2 239.2,360.0 237.5,363.8 235.0,361.5 232.5,360.5 226.5,360.8 223.8,362.8 222.0,366.5 220.8,373.2 220.5,401.2 222.0,411.2 223.2,414.2 225.0,416.2 227.2,417.2 233.5,417.0 236.2,415.0 238.0,411.2 239.5,401.2 239.5,376.5 239.0,370.5 239.8,370.5 242.2,372.8 247.5,374.8 252.5,374.8 259.0,372.2 263.8,376.2 266.8,377.8 271.2,379.0 278.0,379.0 283.2,377.5 286.8,375.5 289.8,372.8 291.2,369.0 292.8,360.8 292.2,356.8 291.2,353.8Z" fill="#2473cc" fill-rule="evenodd"/><path d="M288.0,350.8 285.2,348.8 280.0,346.5 277.5,346.0 270.5,346.2 266.5,347.5 262.0,350.2 259.8,352.5 256.8,357.0 252.8,355.8 249.0,355.5 246.2,356.0 242.8,357.5 239.5,360.5 238.5,362.5 237.8,366.2 236.2,363.8 233.2,361.5 226.8,361.5 224.0,363.5 222.0,368.0 221.0,374.0 220.8,400.5 222.2,410.8 223.8,414.0 225.5,415.8 227.8,416.5 232.2,416.5 234.0,416.0 236.2,414.0 237.8,410.8 239.2,400.5 239.2,377.2 238.2,368.2 238.5,368.0 242.0,372.0 247.2,374.2 252.8,374.2 255.2,373.5 258.2,371.8 259.5,371.8 264.0,375.8 270.0,378.2 276.0,378.8 282.5,377.2 286.5,375.0 289.8,372.0 291.8,366.0 292.5,361.0 292.2,357.8 291.2,354.8Z" fill="#2687d4" fill-rule="evenodd"/><path d="M228.2,362.0 226.2,362.5 224.2,364.0 223.0,366.2 221.8,370.8 221.0,377.5 221.0,400.2 222.0,408.2 224.2,413.8 226.8,415.5 232.2,415.8 234.8,414.8 235.8,413.8 237.2,411.0 238.2,407.0 239.0,400.2 239.0,377.5 237.8,368.2 235.8,364.0 233.0,362.2ZM292.2,358.5 291.2,355.8 289.2,352.8 285.2,349.2 279.0,346.8 271.8,346.5 266.5,348.0 262.8,350.2 259.8,353.2 257.2,357.5 251.8,356.0 248.2,356.0 242.8,358.0 240.5,360.0 239.2,362.0 238.8,366.5 239.5,368.5 241.8,371.2 246.0,373.5 251.8,374.0 254.8,373.2 259.2,371.0 264.0,375.2 267.5,377.0 272.8,378.2 278.2,378.0 285.0,375.5 290.2,370.5 291.8,365.0Z" fill="#279adc" fill-rule="evenodd"/><path d="M228.5,362.8 225.8,363.5 224.2,365.0 222.8,368.0 222.0,371.0 221.2,378.0 221.2,399.8 222.0,406.8 224.0,412.5 226.8,414.8 232.0,415.0 234.2,414.2 236.0,412.5 238.0,406.8 238.8,399.8 238.8,378.0 238.0,371.0 237.2,368.0 235.8,365.0 233.0,363.0ZM292.0,359.5 289.8,354.2 285.5,350.0 280.2,347.5 273.5,346.8 269.2,347.5 264.2,349.8 261.0,352.5 257.2,358.2 251.5,356.5 247.0,356.8 243.8,358.0 240.5,361.0 239.2,365.2 239.8,367.5 241.2,370.0 243.8,372.0 247.0,373.2 253.0,373.2 256.2,372.0 258.5,370.2 259.5,370.2 262.8,373.8 267.5,376.5 272.5,377.8 277.0,377.8 280.5,377.0 284.5,375.2 289.5,370.8 291.0,367.8Z" fill="#2eade4" fill-rule="evenodd"/><path d="M227.2,363.8 226.0,364.2 224.2,366.0 222.8,369.5 221.5,378.8 221.8,402.5 222.8,408.2 224.8,412.5 227.0,414.0 231.2,414.2 233.0,414.0 235.2,412.5 236.5,410.5 237.8,406.2 238.5,399.0 238.2,375.2 237.2,369.5 235.0,365.0 232.8,363.8ZM291.5,359.8 290.8,357.2 288.8,353.8 285.0,350.2 279.2,347.8 273.2,347.2 267.8,348.5 263.8,350.8 260.5,354.0 257.5,359.2 251.8,357.2 248.2,357.2 244.0,358.8 241.2,361.5 240.2,364.0 240.2,366.0 241.2,368.5 243.0,370.5 247.0,372.5 253.0,372.5 256.0,371.2 258.0,369.5 259.2,369.2 263.2,373.5 267.5,376.0 272.2,377.2 277.0,377.2 283.0,375.5 288.0,371.8 290.0,369.0 291.2,366.0 291.8,363.0Z" fill="#35bfed" fill-rule="evenodd"/><path d="M228.2,364.5 226.0,365.2 224.5,366.8 222.5,372.5 221.8,380.5 222.0,401.5 223.0,407.5 225.0,411.8 228.0,413.2 232.0,413.2 233.8,412.8 236.0,410.2 237.8,403.8 238.2,397.2 238.0,376.2 237.0,370.2 235.5,366.8 233.0,364.8ZM291.0,360.5 289.2,355.5 284.8,350.8 279.0,348.2 275.2,347.8 271.8,348.0 268.0,349.0 264.0,351.2 261.0,354.2 258.2,360.2 257.0,361.5 251.8,359.2 247.2,359.5 244.0,361.5 242.8,363.8 242.8,366.2 244.2,368.8 248.2,370.8 252.8,370.5 255.5,369.0 257.2,367.2 258.2,367.2 263.2,372.8 265.8,374.5 270.0,376.2 276.8,376.8 282.8,375.0 285.5,373.2 288.2,370.5 290.8,365.5Z" fill="#45c3d0" fill-rule="evenodd"/><path d="M227.5,365.8 224.8,367.8 222.8,373.8 222.2,378.2 222.2,399.5 223.2,406.5 225.2,410.8 227.2,412.0 231.0,412.2 232.8,412.0 234.8,410.8 236.0,408.8 237.0,405.5 237.8,399.5 237.8,378.2 237.0,372.2 235.2,367.8 232.5,365.8ZM271.2,348.8 266.0,350.8 261.5,354.8 259.8,358.0 258.8,361.8 259.2,366.0 262.2,370.8 267.8,374.8 272.0,376.0 277.2,376.0 281.0,375.0 285.0,372.8 288.8,368.5 290.2,364.2 289.8,358.0 287.5,354.0 284.0,351.0 278.2,348.8Z" fill="#57c4ac" fill-rule="evenodd"/><path d="M227.5,367.2 226.0,368.0 224.0,371.2 223.0,376.0 223.0,401.8 223.8,405.8 225.2,409.0 227.2,410.5 231.5,410.8 233.8,410.0 234.8,409.0 236.8,403.5 237.2,399.0 237.0,376.0 236.0,371.2 234.0,368.0 232.5,367.2ZM268.5,350.5 265.0,352.5 262.5,355.0 260.8,358.2 260.0,361.2 260.0,364.0 262.2,369.2 266.8,373.2 273.0,375.2 278.0,375.0 283.5,372.8 287.5,368.8 289.5,363.8 289.5,359.2 287.5,354.8 283.8,351.5 278.8,349.8 272.0,349.5Z" fill="#61c072" fill-rule="evenodd"/><path d="M227.8,369.8 226.8,370.2 225.0,372.5 223.8,378.0 223.8,399.8 225.5,406.2 227.0,407.8 231.0,408.2 233.0,407.8 234.5,406.2 236.0,401.5 236.5,396.2 236.2,378.0 235.0,372.5 233.2,370.2 232.2,369.8ZM281.5,351.0 274.2,350.8 271.0,351.2 267.0,353.0 264.0,355.8 262.0,359.8 261.8,363.5 263.2,367.8 266.5,371.2 271.8,373.5 277.8,373.5 282.2,371.8 287.0,367.8 289.0,363.5 289.2,360.5 288.8,358.0 287.2,355.0 285.0,352.8Z" fill="#6ebe43" fill-rule="evenodd"/><path d="M276.8,351.2 272.8,353.0 270.2,355.8 269.0,358.8 269.0,363.2 270.2,366.2 273.0,369.2 277.0,371.0 280.5,371.0 283.5,370.0 286.8,367.2 288.5,363.8 288.8,359.2 287.5,356.0 284.8,353.0 280.8,351.2Z" fill="#86c638" fill-rule="evenodd"/><path d="M277.8,351.5 274.5,352.5 271.2,355.2 269.8,358.2 269.5,362.5 270.8,366.0 273.2,368.8 276.2,370.2 280.5,370.5 284.2,369.0 286.2,367.2 288.0,364.2 288.5,360.0 287.2,356.2 284.5,353.2 281.2,351.8Z" fill="#9fcd2e" fill-rule="evenodd"/><path d="M277.2,352.0 274.5,353.0 271.5,355.8 270.0,359.2 270.0,362.8 271.0,365.5 273.8,368.5 277.2,370.0 280.8,370.0 283.5,369.0 286.5,366.2 288.0,362.5 288.0,359.2 286.5,355.8 284.5,353.8 280.5,352.0Z" fill="#c0d521" fill-rule="evenodd"/><path d="M277.5,352.5 274.8,353.5 271.8,356.2 270.5,359.5 270.5,362.5 271.8,365.8 274.2,368.2 277.5,369.5 280.5,369.5 283.2,368.5 286.0,366.0 287.5,362.8 287.5,359.2 286.2,356.2 284.0,354.0 280.5,352.5Z" fill="#e4dd14" fill-rule="evenodd"/><path d="M277.8,353.2 275.0,354.2 272.8,356.2 271.5,358.8 271.2,362.2 272.2,365.0 274.2,367.2 276.8,368.5 280.2,368.8 283.0,367.8 285.5,365.5 286.8,363.2 287.2,360.5 286.2,357.2 284.2,355.0 281.2,353.5Z" fill="#f1c511" fill-rule="evenodd"/><path d="M275.8,355.5 273.8,357.5 273.0,359.2 273.0,362.0 274.0,364.2 276.0,366.0 279.0,367.0 280.8,367.0 284.0,365.8 285.8,364.0 286.8,361.5 286.8,359.8 285.8,357.2 283.5,355.2 281.5,354.5 278.0,354.5Z" fill="#f39c12" fill-rule="evenodd"/><path d="M276.0,356.0 274.5,357.5 273.5,360.0 273.8,362.2 275.8,365.0 278.5,366.2 281.5,366.2 283.5,365.5 285.2,364.0 286.2,362.0 286.2,359.2 284.2,356.2 281.8,355.0 278.2,355.0Z" fill="#ef6913" fill-rule="evenodd"/><path d="M279.2,355.2 275.2,357.2 274.2,359.0 274.0,361.2 274.8,363.2 276.5,365.0 280.2,366.0 283.5,365.0 285.2,363.2 286.0,360.2 285.2,358.0 283.5,356.2Z" fill="#e93014" fill-rule="evenodd"/></g></g>
<path d="M481.5,337.0 479.2,336.0 472.5,334.8 459.8,339.5 448.8,342.2 426.0,349.8 420.2,352.2 413.8,356.5 407.8,363.0 406.5,365.5 406.5,379.5 407.2,399.2 408.5,413.8 409.5,416.2 415.2,422.0 418.0,423.0 435.0,424.2 456.5,424.2 469.5,422.8 477.2,424.2 485.0,424.2 487.0,423.2 491.0,419.5 492.2,416.2 492.8,407.5 489.0,398.2 479.8,390.0 474.8,386.8 472.8,384.2 474.8,379.0 481.8,373.0 486.0,362.5 486.0,347.5 483.0,339.5Z" fill="#1a3a96" fill-rule="evenodd"/>
<clipPath id="b1c"><path d="M481.5,337.0 479.2,336.0 472.5,334.8 459.8,339.5 448.8,342.2 426.0,349.8 420.2,352.2 413.8,356.5 407.8,363.0 406.5,365.5 406.5,379.5 407.2,399.2 408.5,413.8 409.5,416.2 415.2,422.0 418.0,423.0 435.0,424.2 456.5,424.2 469.5,422.8 477.2,424.2 485.0,424.2 487.0,423.2 491.0,419.5 492.2,416.2 492.8,407.5 489.0,398.2 479.8,390.0 474.8,386.8 472.8,384.2 474.8,379.0 481.8,373.0 486.0,362.5 486.0,347.5 483.0,339.5Z" fill-rule="evenodd"/></clipPath>
<g clip-path="url(#b1c)"><g filter="url(#blur8)"><path d="M480.8,337.0 472.5,335.0 458.2,340.2 424.5,350.5 420.2,352.5 413.8,356.8 408.2,363.2 407.0,365.8 407.0,379.2 407.8,399.0 409.0,413.5 410.0,416.0 415.5,421.5 418.2,422.5 435.0,423.8 456.2,423.8 469.2,422.2 477.5,423.8 484.8,423.8 486.8,422.8 490.5,419.2 491.8,416.0 492.2,407.8 488.5,398.5 479.5,390.5 474.5,387.2 472.2,384.5 472.8,381.8 474.2,378.8 481.5,372.8 485.8,362.5 485.8,347.5 482.8,339.8Z" fill="#1d46a5" fill-rule="evenodd"/><path d="M481.0,337.8 475.8,335.8 472.8,335.2 453.8,342.2 426.2,350.0 423.0,351.2 415.2,356.0 408.8,363.5 407.5,366.0 407.5,379.0 408.2,398.8 409.5,413.2 410.5,415.8 415.8,421.0 418.5,422.0 435.0,423.2 456.0,423.2 469.0,421.8 477.8,423.2 484.5,423.2 486.5,422.2 490.0,419.0 491.2,415.8 491.5,406.8 488.0,398.8 479.2,391.0 474.2,387.8 471.8,384.8 472.0,382.2 473.2,379.2 474.8,377.5 481.0,372.8 485.5,362.5 485.5,347.8 483.8,342.8Z" fill="#1f4faf" fill-rule="evenodd"/><path d="M480.8,338.0 474.8,335.8 473.0,335.5 470.8,336.0 452.2,343.2 423.8,351.2 417.2,355.0 413.8,357.8 412.8,359.8 408.5,364.8 408.0,366.2 408.5,393.5 410.2,414.0 411.0,415.5 416.0,420.5 418.8,421.5 435.8,423.0 455.8,422.8 468.8,421.2 472.5,421.5 478.0,422.8 484.2,422.8 486.2,421.8 489.5,418.8 490.8,415.5 491.0,407.0 487.8,399.2 484.0,395.5 474.0,388.2 471.2,385.0 471.2,383.0 472.8,379.0 475.2,376.5 480.8,372.5 484.0,366.2 485.5,362.0 485.2,347.8 484.0,344.0Z" fill="#2159b9" fill-rule="evenodd"/><path d="M414.2,357.5 413.5,359.8 416.8,361.0 417.5,362.2 416.5,372.8 416.5,397.2 417.2,406.0 419.8,415.8 421.2,418.5 423.5,421.0 425.5,421.8 437.8,422.5 440.5,421.0 443.0,418.0 444.5,417.0 451.2,416.5 456.5,415.2 460.8,413.5 464.2,411.2 471.2,412.5 477.8,412.0 483.2,409.8 486.0,407.2 487.5,404.2 487.5,400.8 486.5,398.5 482.2,394.8 478.8,393.2 474.8,392.5 471.2,392.5 465.2,393.5 458.5,389.5 453.8,388.0 448.5,387.2 447.8,386.5 447.5,372.8 446.8,363.8 448.8,361.0 448.8,359.0 448.0,357.8 444.2,354.5 442.8,351.5 440.5,349.0 437.8,347.8 428.0,350.0 420.8,353.0ZM473.5,335.8 467.8,337.2 454.8,342.8 452.8,346.8 451.5,351.5 451.5,359.8 452.8,364.5 454.5,368.2 457.0,371.8 460.0,374.5 464.0,376.8 467.5,377.8 473.5,377.5 479.2,373.5 481.8,370.5 485.2,362.0 485.2,348.5 483.2,343.0 480.5,338.2Z" fill="#2263c3" fill-rule="evenodd"/><path d="M414.2,358.0 414.2,359.2 417.2,360.2 418.2,361.5 417.2,372.8 417.2,397.2 418.0,405.5 419.2,411.2 420.8,415.2 422.8,418.2 424.5,419.8 428.5,421.2 436.8,421.0 439.5,419.8 443.5,416.2 449.8,416.0 454.8,415.0 458.2,413.8 464.2,410.2 471.8,412.0 477.5,411.5 482.5,409.5 485.5,406.8 486.8,404.2 486.8,400.8 485.5,398.2 482.5,395.5 478.5,393.8 474.2,393.0 469.8,393.2 465.2,394.5 461.2,391.8 457.0,389.8 451.2,388.2 448.0,388.0 447.0,387.2 446.8,372.8 446.0,363.2 447.8,361.0 447.8,359.0 446.8,357.5 443.0,354.5 441.2,351.8 439.5,350.2 436.0,348.8 428.8,350.0 421.8,352.8ZM473.5,336.0 466.0,338.0 456.5,342.0 454.0,346.0 452.2,352.5 452.5,360.2 454.0,365.2 455.8,368.5 460.2,373.5 464.2,375.8 467.8,376.8 473.5,376.5 476.0,375.5 479.2,373.2 481.8,370.0 485.0,362.0 485.0,348.0 483.5,344.0 480.0,338.2Z" fill="#2473cc" fill-rule="evenodd"/><path d="M414.5,358.2 418.0,360.0 419.0,362.0 417.8,372.0 417.8,398.0 418.8,406.8 420.5,413.0 422.2,416.2 424.8,418.8 429.8,420.2 436.0,420.0 439.2,418.8 442.2,416.0 450.0,415.5 454.8,414.5 460.2,412.2 463.8,409.8 470.5,411.5 478.0,411.0 482.5,409.0 485.2,406.2 486.2,404.0 486.0,400.2 484.5,397.8 480.8,395.0 475.5,393.5 470.5,393.5 464.8,395.0 461.5,392.5 457.0,390.2 452.8,389.0 447.0,388.2 446.5,387.8 446.2,372.0 445.2,363.8 447.0,361.2 447.2,359.5 446.5,358.0 443.2,355.8 439.2,351.2 434.2,349.2 430.5,349.8 421.0,353.5ZM473.5,336.2 468.0,337.5 457.0,342.0 454.5,346.2 453.0,351.2 452.8,358.2 453.5,362.0 455.5,367.0 460.0,372.5 464.0,375.0 467.2,376.0 472.8,376.0 476.0,375.0 479.2,373.0 481.5,370.0 484.8,362.2 485.0,350.8 484.8,348.0 481.5,340.5 479.8,338.5Z" fill="#2687d4" fill-rule="evenodd"/><path d="M415.5,357.8 416.0,358.5 418.5,359.5 419.5,361.8 418.0,375.8 418.0,394.2 419.0,405.5 420.8,412.0 422.2,415.0 425.2,418.0 429.5,419.2 436.0,419.0 438.8,418.0 441.8,415.5 449.0,415.2 456.5,413.5 461.0,411.2 463.5,409.2 471.2,411.2 474.8,411.2 478.5,410.5 482.5,408.5 484.8,406.2 485.8,404.0 485.5,400.2 484.8,398.8 482.5,396.5 479.2,394.8 474.8,393.8 471.2,393.8 464.5,395.5 457.8,391.0 453.2,389.5 447.0,388.8 446.0,388.0 446.0,375.8 444.8,363.5 446.5,360.8 446.5,359.2 445.0,357.2 442.5,355.8 438.8,352.0 432.8,349.5 424.0,352.2 421.0,353.8ZM473.8,336.5 471.0,336.8 458.0,341.8 456.5,343.5 454.8,347.0 453.5,351.2 453.5,360.0 456.2,367.2 458.0,369.8 461.2,372.8 464.2,374.5 467.8,375.5 473.5,375.2 477.2,373.8 479.8,372.0 483.5,365.5 484.8,361.8 484.8,349.2 483.8,345.5 481.5,341.0 479.5,339.0 477.2,337.5Z" fill="#279adc" fill-rule="evenodd"/><path d="M420.5,354.8 419.2,357.2 420.0,362.8 418.5,373.5 418.8,400.0 419.8,406.8 421.0,411.0 423.0,414.8 425.0,416.8 429.5,418.2 436.2,418.0 441.5,415.0 447.5,415.0 455.2,413.5 459.8,411.5 463.2,408.8 464.8,408.8 470.2,410.8 475.8,410.8 479.5,409.8 483.8,406.8 485.2,404.0 485.0,400.2 482.5,397.0 479.5,395.2 475.8,394.2 470.2,394.2 464.2,396.0 457.8,391.5 453.5,390.0 446.2,389.0 445.8,388.5 445.5,373.5 444.2,364.0 445.8,360.8 445.8,359.2 444.8,357.8 439.0,353.2 431.2,350.2 424.0,352.5ZM473.2,336.5 468.2,337.8 458.5,341.8 455.2,347.0 453.8,352.8 454.0,360.0 455.0,363.5 457.0,367.5 461.5,372.2 464.5,374.0 468.2,375.0 474.0,374.5 479.5,371.5 481.2,369.8 484.5,362.0 484.5,348.2 483.2,344.8 481.8,342.0 479.2,339.5Z" fill="#2eade4" fill-rule="evenodd"/><path d="M421.2,357.5 420.5,359.0 420.5,363.0 419.0,372.5 419.0,397.5 419.8,404.2 421.2,410.0 423.0,413.5 425.2,415.8 428.0,417.0 430.0,417.2 436.0,417.0 441.2,414.5 448.5,414.5 453.8,413.5 458.8,411.5 463.5,408.0 469.8,410.2 474.5,410.5 479.5,409.2 483.2,406.5 484.8,403.5 484.2,400.0 482.0,397.2 479.5,395.8 476.2,394.8 471.5,394.5 468.8,395.0 465.2,396.5 463.8,396.5 460.8,393.8 456.0,391.2 451.8,390.0 446.2,389.5 445.2,388.8 445.0,372.5 443.8,364.2 444.8,359.2 442.8,357.0 437.5,353.5 432.5,352.2 428.5,352.2 424.5,354.0ZM472.8,337.0 470.5,337.2 459.8,341.2 455.8,347.2 454.2,353.0 454.8,361.0 455.8,364.0 458.0,368.0 460.5,370.8 463.8,373.0 469.5,374.5 475.0,373.5 479.5,370.8 481.8,368.2 483.8,364.0 484.5,360.8 484.5,350.5 483.5,345.8 481.2,342.2 479.0,340.0 475.2,337.8Z" fill="#35bfed" fill-rule="evenodd"/><path d="M422.2,357.8 421.2,360.5 419.5,372.5 419.5,397.5 420.2,403.8 421.5,408.8 422.8,411.5 425.2,414.5 429.0,416.0 435.0,416.0 440.5,414.0 450.5,413.8 455.2,412.5 458.5,411.0 463.2,407.2 464.2,407.2 469.0,409.5 473.5,410.0 478.5,409.0 482.8,406.0 484.0,402.8 483.5,400.2 481.5,397.8 478.5,396.0 472.5,395.0 469.0,395.5 464.2,397.5 459.8,393.8 456.5,392.0 450.5,390.2 446.2,390.0 444.8,389.0 444.5,372.5 443.2,364.8 443.2,359.8 442.8,358.5 440.5,356.2 435.2,354.0 428.8,353.8 425.0,355.2ZM471.8,337.5 470.2,337.5 461.0,341.0 458.8,343.2 456.5,347.0 454.8,353.8 454.8,357.5 455.5,361.5 458.8,368.0 463.8,372.2 468.8,373.8 473.8,373.2 478.5,370.8 482.2,366.5 484.2,361.8 484.2,349.0 482.8,345.5 478.2,340.2 475.2,338.5Z" fill="#45c3d0" fill-rule="evenodd"/><path d="M423.5,358.0 422.2,360.5 420.2,371.0 420.0,396.0 421.8,407.0 423.2,410.5 424.8,412.5 428.5,414.5 435.5,414.5 439.0,413.5 448.2,413.5 455.5,411.8 459.2,409.8 463.8,406.0 470.8,408.8 475.2,408.8 479.8,407.0 481.5,405.2 482.2,403.8 482.2,401.2 479.8,398.0 477.2,396.8 470.8,396.2 465.5,398.5 463.8,398.5 460.2,395.0 455.5,392.2 450.0,390.8 445.0,390.2 444.0,388.5 444.0,374.0 442.2,361.5 441.0,358.5 438.2,356.0 434.2,355.0 427.0,355.5ZM468.8,338.2 462.8,340.5 458.8,344.5 456.0,350.5 455.5,358.0 456.8,363.0 459.5,367.8 462.5,370.5 465.8,372.2 470.5,373.0 473.5,372.5 476.8,371.0 478.5,369.8 481.8,366.0 484.2,359.5 484.2,351.8 482.5,346.5 478.2,341.2 472.8,338.5Z" fill="#57c4ac" fill-rule="evenodd"/><path d="M426.5,357.5 424.8,359.0 423.2,361.5 421.5,368.0 420.8,374.8 421.0,398.2 422.0,404.2 424.0,409.2 425.8,411.2 427.5,412.2 435.0,413.0 448.2,412.8 452.2,412.0 456.8,410.2 458.8,409.0 463.5,403.8 463.8,401.2 461.5,397.8 456.8,393.8 452.2,392.0 445.8,391.2 443.8,390.2 443.2,389.0 443.2,374.8 442.5,368.0 441.0,362.0 439.2,359.0 437.8,357.8 435.2,356.8 428.5,356.8ZM467.8,339.5 462.8,341.8 458.8,346.2 456.5,352.8 456.5,358.5 458.5,364.5 462.5,369.2 467.0,371.5 472.0,371.8 474.5,371.0 477.5,369.2 481.5,364.5 483.5,358.8 483.5,352.2 481.0,345.8 477.2,341.8 472.2,339.5Z" fill="#61c072" fill-rule="evenodd"/><path d="M427.5,360.5 425.5,362.2 423.8,366.0 422.5,371.2 422.0,377.0 422.2,396.5 423.2,402.5 424.8,406.2 427.0,408.8 429.0,409.8 435.8,411.5 448.0,411.5 451.8,410.8 455.5,409.2 459.0,406.5 460.5,404.0 460.8,400.8 459.8,398.5 457.8,396.2 454.5,394.2 450.8,393.0 444.5,392.2 442.2,390.2 441.8,373.5 441.2,369.8 439.2,363.2 437.2,361.0 435.0,360.0 429.0,360.0ZM468.8,341.2 463.8,343.2 460.2,347.0 458.2,352.0 458.0,357.8 460.0,363.8 463.5,367.8 466.8,369.5 470.8,370.0 475.5,368.5 480.0,364.5 482.5,359.2 483.0,354.0 482.0,349.5 478.8,344.5 474.0,341.8Z" fill="#6ebe43" fill-rule="evenodd"/><path d="M442.0,393.2 440.2,392.2 438.5,392.2 435.2,393.2 431.0,395.8 429.0,394.8 427.0,394.8 425.0,397.0 424.2,399.8 424.5,403.5 425.5,405.8 427.5,407.2 429.0,407.2 430.5,406.5 435.5,409.0 438.2,409.0 439.2,408.5 440.8,406.5 442.0,402.5 442.8,397.0ZM470.5,342.8 466.2,345.0 464.2,347.5 462.5,351.8 462.2,356.8 463.5,361.2 465.2,364.0 469.5,367.0 473.0,367.5 477.2,366.0 480.0,363.2 482.0,359.0 482.5,353.5 480.5,347.5 477.5,344.2 474.0,342.8Z" fill="#86c638" fill-rule="evenodd"/><path d="M428.0,395.0 427.0,395.2 425.0,397.8 424.5,402.2 425.5,405.2 427.2,406.8 429.0,406.8 431.0,404.5 431.5,399.2 430.2,396.2ZM471.0,343.2 467.2,345.0 464.8,347.8 463.0,352.2 463.0,357.8 464.8,362.2 467.2,365.0 470.0,366.5 474.0,366.8 477.8,365.0 480.8,361.2 482.0,357.2 482.0,352.8 480.0,347.5 478.0,345.2 474.8,343.5Z" fill="#9fcd2e" fill-rule="evenodd"/><path d="M427.5,395.5 426.2,396.2 425.2,398.0 424.8,402.2 425.8,405.0 427.0,406.2 428.5,406.5 429.5,406.0 430.8,404.2 431.2,399.5 430.0,396.5 428.5,395.5ZM471.5,343.8 467.8,345.2 464.8,348.8 463.5,352.2 463.2,356.2 464.8,361.2 467.8,364.8 470.2,366.0 473.8,366.2 477.2,364.8 479.2,362.8 481.2,358.8 481.8,354.2 481.0,350.5 479.2,347.2 476.0,344.5Z" fill="#c0d521" fill-rule="evenodd"/><path d="M427.2,396.2 425.2,399.2 425.2,402.8 427.2,405.8 428.8,405.8 429.8,405.0 430.8,402.8 430.8,399.2 429.5,396.8ZM471.0,344.5 467.8,346.0 465.2,349.0 464.0,352.5 464.0,357.5 465.2,361.0 467.8,364.0 471.0,365.5 474.0,365.5 477.5,363.8 479.8,361.0 481.0,357.5 481.0,352.5 479.8,349.0 477.5,346.2 475.0,344.8Z" fill="#e4dd14" fill-rule="evenodd"/><path d="M471.0,345.5 468.0,347.0 466.2,349.0 464.8,352.8 464.8,357.2 466.2,361.0 468.0,363.0 471.0,364.5 474.0,364.5 477.0,363.0 479.2,360.2 480.5,355.8 480.2,352.5 479.2,349.8 477.0,347.0 474.0,345.5Z" fill="#f1c511" fill-rule="evenodd"/><path d="M471.8,347.0 470.0,347.8 468.0,349.8 467.0,351.8 466.5,354.0 466.8,357.5 468.0,360.2 470.0,362.2 471.8,363.0 474.8,363.0 477.0,361.8 478.5,360.0 479.8,356.5 479.8,353.5 478.5,350.0 477.0,348.2 474.8,347.0Z" fill="#f39c12" fill-rule="evenodd"/><path d="M472.5,347.5 470.5,348.2 468.5,350.2 467.2,353.5 467.2,356.5 469.5,361.0 471.5,362.2 474.0,362.5 476.8,361.2 478.5,359.0 479.2,356.8 479.2,353.2 478.5,351.0 476.8,348.8 475.0,347.8Z" fill="#ef6913" fill-rule="evenodd"/><path d="M473.0,348.0 470.8,348.8 468.8,350.8 467.8,353.2 467.8,356.8 468.8,359.2 470.0,360.8 471.8,361.8 473.8,362.0 476.2,361.0 477.5,359.8 478.8,357.0 479.0,354.5 477.5,350.2 476.2,349.0Z" fill="#e93014" fill-rule="evenodd"/></g></g>
<path d="M635.5,341.2 628.5,339.8 624.5,340.0 612.5,344.8 604.2,351.8 598.0,355.0 594.8,355.8 584.8,356.2 571.5,359.0 565.0,362.2 562.8,364.0 558.5,372.5 555.5,398.0 554.5,417.5 556.5,426.5 558.0,429.5 569.0,435.0 586.2,438.0 602.2,439.0 614.2,442.0 626.5,446.8 636.2,446.8 638.8,445.0 642.8,439.2 646.2,430.2 647.0,416.0 646.8,410.8 641.8,397.2 631.8,388.5 626.8,386.0 625.0,384.0 626.0,380.0 627.8,378.2 634.5,373.8 639.0,363.2 639.8,351.0 637.0,343.2ZM614.0,379.8 616.5,380.0 618.2,382.0 617.8,384.0 616.0,385.2 613.0,384.8 611.8,383.0 612.2,381.0Z" fill="#1a3a96" fill-rule="evenodd"/>
<clipPath id="b2c"><path d="M635.5,341.2 628.5,339.8 624.5,340.0 612.5,344.8 604.2,351.8 598.0,355.0 594.8,355.8 584.8,356.2 571.5,359.0 565.0,362.2 562.8,364.0 558.5,372.5 555.5,398.0 554.5,417.5 556.5,426.5 558.0,429.5 569.0,435.0 586.2,438.0 602.2,439.0 614.2,442.0 626.5,446.8 636.2,446.8 638.8,445.0 642.8,439.2 646.2,430.2 647.0,416.0 646.8,410.8 641.8,397.2 631.8,388.5 626.8,386.0 625.0,384.0 626.0,380.0 627.8,378.2 634.5,373.8 639.0,363.2 639.8,351.0 637.0,343.2ZM614.0,379.8 616.5,380.0 618.2,382.0 617.8,384.0 616.0,385.2 613.0,384.8 611.8,383.0 612.2,381.0Z" fill-rule="evenodd"/></clipPath>
<g clip-path="url(#b2c)"><g filter="url(#blur8)"><path d="M635.2,341.8 628.2,340.2 624.8,340.5 612.8,345.2 604.5,352.2 598.2,355.5 595.0,356.2 585.0,356.8 572.8,359.2 569.2,360.5 563.2,364.2 559.0,372.8 556.2,395.0 555.0,417.2 557.0,426.2 558.2,429.0 569.2,434.5 586.5,437.5 602.5,438.5 614.5,441.5 626.8,446.2 636.0,446.2 638.2,444.8 642.2,439.0 645.8,430.0 646.8,415.8 646.5,411.0 643.5,402.2 641.2,397.5 631.5,389.0 625.8,386.0 624.5,384.2 624.5,382.5 625.5,379.8 627.5,377.8 632.8,374.5 634.5,372.8 638.8,362.8 639.2,351.0 636.5,343.5ZM613.8,379.2 616.2,379.2 617.8,380.2 618.8,381.8 618.2,384.2 616.2,385.8 613.8,385.8 612.8,385.2 611.2,383.2 611.8,380.8Z" fill="#1d46a5" fill-rule="evenodd"/><path d="M635.0,342.2 628.0,340.8 625.0,341.0 613.0,345.8 604.8,352.8 598.5,356.0 595.2,356.8 585.2,357.2 573.0,359.8 569.5,361.0 563.8,364.5 559.5,373.0 556.5,398.5 555.5,417.0 558.2,428.0 559.2,429.0 570.5,434.2 586.8,437.0 602.8,438.0 614.8,441.0 627.0,445.8 635.8,445.8 637.8,444.5 641.8,438.8 645.2,429.8 646.2,415.8 646.0,411.0 641.0,398.0 631.2,389.5 625.5,386.5 624.0,384.5 624.0,382.2 625.0,379.5 627.2,377.2 633.5,373.2 638.2,363.0 639.0,351.8ZM613.5,378.8 616.5,378.8 618.0,379.8 619.2,381.5 618.8,384.5 616.5,386.2 613.5,386.2 612.5,385.8 610.8,383.5 611.2,380.5Z" fill="#1f4faf" fill-rule="evenodd"/><path d="M634.8,342.8 627.8,341.2 625.2,341.5 613.2,346.2 605.0,353.2 598.8,356.5 595.5,357.2 585.5,357.8 573.2,360.2 570.2,361.2 564.2,364.8 560.0,373.2 557.0,398.8 556.0,416.8 558.0,425.8 559.5,428.5 570.8,433.8 587.0,436.5 603.0,437.5 615.0,440.5 626.0,445.0 635.5,445.2 637.2,444.2 641.2,438.5 644.8,429.5 646.0,415.5 645.8,411.2 643.0,403.2 640.5,398.0 631.0,390.0 625.2,387.0 623.5,384.8 623.5,382.0 624.5,379.2 627.0,376.8 633.5,372.2 638.0,362.8 638.8,356.2 638.5,351.5ZM613.2,378.2 616.8,378.2 618.2,379.2 619.8,381.2 619.8,383.8 619.2,384.8 616.8,386.8 613.2,386.8 612.2,386.2 610.2,383.8 610.2,381.2 610.8,380.2Z" fill="#2159b9" fill-rule="evenodd"/><path d="M572.2,366.5 569.2,371.8 568.2,374.8 567.2,380.2 567.0,388.2 563.8,395.8 562.8,402.0 562.8,412.0 563.8,418.2 566.0,424.0 570.5,429.2 576.0,431.8 584.5,432.0 587.8,431.2 593.0,428.0 594.0,428.0 597.5,430.0 600.5,430.8 603.5,430.8 606.8,430.0 611.8,433.8 615.5,435.8 619.5,437.0 623.8,437.5 629.0,437.0 633.0,435.8 638.2,432.8 641.2,430.0 645.0,424.0 645.8,412.8 642.5,402.8 640.5,398.8 638.2,396.5 635.2,394.5 630.2,392.5 622.8,391.8 617.5,392.8 612.5,395.0 610.0,396.8 605.5,401.2 599.8,401.2 599.0,400.5 598.2,395.8 596.8,391.5 594.5,387.8 591.0,383.8 589.8,374.8 588.8,371.8 585.8,366.5 583.0,364.0 579.2,362.8 575.0,364.0ZM627.2,343.0 624.2,343.5 621.5,344.8 618.0,348.0 615.8,352.5 615.2,359.0 617.0,364.2 619.8,367.8 622.8,369.8 625.0,370.5 628.5,370.8 632.8,369.5 635.2,367.8 638.2,360.8 638.5,354.0 637.8,349.8 636.5,347.5 634.2,345.2 630.8,343.5Z" fill="#2263c3" fill-rule="evenodd"/><path d="M572.5,367.8 570.2,371.5 568.5,377.0 568.0,380.0 568.0,388.0 564.5,396.5 563.5,404.0 563.8,413.2 565.0,419.2 567.5,424.5 570.8,428.0 574.2,430.0 579.0,431.0 583.0,431.0 587.0,430.2 589.8,429.0 592.8,426.8 593.8,426.8 597.8,429.2 600.8,430.0 603.5,430.0 607.8,429.0 613.0,433.2 616.5,435.0 621.5,436.2 627.0,436.2 632.0,435.0 637.5,432.0 640.5,429.2 643.5,425.0 645.0,421.5 645.5,412.8 642.5,403.5 640.8,400.2 635.8,396.0 630.8,393.8 627.5,393.0 621.2,393.0 615.8,394.5 612.5,396.2 606.0,402.2 598.8,402.2 596.2,392.8 593.8,388.5 590.5,385.2 589.0,375.0 587.8,371.5 585.5,367.8 583.2,365.5 580.5,364.2 576.0,364.8ZM626.0,343.8 621.5,345.5 618.0,349.0 616.0,354.0 615.8,358.2 617.2,363.5 620.8,367.8 624.8,369.8 629.2,370.0 634.2,367.8 636.8,364.8 638.0,360.8 638.2,353.2 637.0,349.0 634.5,346.2 631.0,344.2Z" fill="#2473cc" fill-rule="evenodd"/><path d="M572.8,368.5 571.0,371.2 569.2,376.0 568.5,380.0 568.5,388.8 565.2,396.0 564.0,405.2 564.2,412.8 565.2,418.0 567.5,423.2 571.2,427.5 573.8,429.0 577.0,430.0 583.0,430.2 588.2,429.0 593.2,425.8 596.2,428.0 600.5,429.5 603.5,429.5 607.8,428.2 614.8,433.5 618.8,435.0 623.2,435.8 629.0,435.2 632.8,434.0 636.0,432.2 640.2,428.5 643.0,424.5 644.8,420.0 645.2,412.8 642.0,403.0 637.8,398.2 635.2,396.5 630.0,394.2 622.5,393.5 618.5,394.2 613.8,396.2 610.0,399.0 606.2,403.0 603.5,402.5 598.5,403.0 597.8,402.2 597.2,398.0 595.2,392.0 593.5,389.2 590.0,385.8 588.8,376.0 587.0,371.2 585.2,368.5 583.2,366.5 580.0,365.0 577.0,365.2 574.8,366.5ZM625.5,344.2 621.5,346.0 618.0,349.8 616.2,354.5 616.2,359.2 618.2,364.5 620.8,367.2 625.2,369.5 629.8,369.5 634.2,367.2 637.0,363.8 638.0,359.8 638.0,351.8 635.8,348.0 632.8,345.5 629.5,344.2Z" fill="#2687d4" fill-rule="evenodd"/><path d="M573.0,369.2 570.8,373.2 569.5,377.2 568.8,383.5 569.0,389.0 565.8,396.0 564.5,404.2 564.8,413.0 565.8,418.0 567.5,422.2 571.2,426.8 576.5,429.2 584.0,429.5 587.8,428.5 593.0,425.0 596.2,427.5 600.2,429.0 603.8,429.0 608.2,427.8 613.8,432.2 616.8,433.8 621.8,435.0 627.0,435.0 631.8,433.8 635.2,432.0 639.2,428.8 641.8,425.5 643.5,422.0 644.8,416.8 644.8,412.2 642.5,405.0 638.0,399.2 634.5,396.8 629.8,394.8 627.2,394.2 621.2,394.2 618.0,395.0 613.2,397.2 606.8,403.5 603.8,403.0 598.0,403.5 597.2,402.8 596.8,398.0 595.2,393.2 593.0,389.5 589.2,385.5 588.2,376.2 587.2,373.2 585.0,369.2 583.0,367.2 580.5,366.0 576.8,366.2ZM626.2,344.5 622.5,345.8 619.2,348.5 617.0,352.8 616.5,358.8 618.5,364.2 621.2,367.2 624.8,369.0 629.0,369.2 633.0,367.8 636.5,364.2 637.8,360.5 638.0,354.0 637.8,352.0 636.8,350.0 634.0,346.8 630.0,344.8Z" fill="#279adc" fill-rule="evenodd"/><path d="M574.2,369.0 572.5,371.2 570.2,376.8 569.5,380.8 569.5,389.2 566.0,397.0 565.0,403.8 565.0,410.2 566.0,417.0 568.0,422.0 571.0,425.8 576.2,428.5 582.2,429.0 587.2,428.0 593.0,424.2 596.2,427.0 600.2,428.5 603.8,428.5 608.2,427.0 614.5,432.0 617.8,433.5 622.5,434.5 626.2,434.5 631.5,433.2 635.8,431.0 639.8,427.2 643.2,421.0 644.0,418.0 644.2,413.2 643.5,409.0 641.2,404.0 636.5,398.8 632.2,396.2 629.2,395.2 622.0,394.8 617.0,396.0 611.5,399.2 606.8,404.2 604.0,403.5 600.0,403.5 597.8,404.2 596.8,403.0 596.5,399.2 595.0,394.0 593.0,390.5 588.8,386.0 588.0,377.8 585.5,371.2 583.8,369.0 580.5,367.0 577.5,367.0ZM625.5,345.0 621.2,347.0 618.8,349.8 617.0,354.0 616.8,358.2 617.5,361.5 618.8,364.0 621.5,367.0 625.2,368.8 628.2,369.0 632.8,367.5 636.2,364.0 637.2,362.0 637.8,359.0 637.8,353.0 635.5,348.8 632.2,346.0 629.5,345.0Z" fill="#2eade4" fill-rule="evenodd"/><path d="M574.0,371.0 571.0,377.2 570.2,381.5 570.2,389.0 566.5,397.2 565.5,403.8 565.5,410.2 566.5,416.8 568.2,421.2 571.8,425.5 575.2,427.5 577.2,428.0 583.2,428.2 586.8,427.5 589.2,426.2 592.2,423.5 593.0,423.5 596.5,426.5 600.2,428.0 603.8,428.0 608.2,426.2 609.0,426.5 614.0,431.0 618.2,433.0 621.5,433.8 627.2,433.8 631.0,432.8 635.0,430.8 638.8,427.5 641.5,423.5 642.8,420.5 643.5,417.0 643.5,412.0 641.2,405.2 636.8,399.8 634.2,398.0 628.8,395.8 625.2,395.2 621.2,395.5 614.8,397.8 610.8,400.8 607.2,404.8 603.8,404.0 600.2,404.0 597.2,405.0 596.5,404.2 595.8,398.2 594.2,393.8 592.2,390.5 588.0,386.0 587.2,378.2 584.8,372.0 582.8,369.8 579.2,368.2 576.8,368.8ZM626.2,345.2 622.2,346.8 619.0,350.0 617.2,354.5 617.2,359.2 619.0,363.8 621.5,366.5 624.8,368.2 629.2,368.5 633.5,366.5 636.0,363.8 637.5,360.2 637.8,354.5 636.0,350.0 633.5,347.2 630.0,345.5Z" fill="#35bfed" fill-rule="evenodd"/><path d="M575.0,374.5 572.8,379.8 572.0,387.2 567.2,396.8 566.0,405.5 566.2,412.2 567.2,417.2 569.0,421.2 572.2,425.0 577.2,427.2 583.0,427.5 587.8,426.2 592.2,422.5 593.0,422.5 596.5,425.8 600.0,427.2 604.0,427.2 608.8,425.5 614.5,430.5 619.0,432.5 623.2,433.2 627.5,433.0 632.2,431.5 634.5,430.2 638.2,427.0 640.2,424.2 642.2,419.8 642.8,417.5 642.8,411.8 640.8,405.8 636.2,400.2 633.8,398.5 629.8,396.8 622.8,396.0 619.8,396.5 614.5,398.8 611.5,401.0 607.8,405.5 601.8,404.5 596.5,405.8 595.8,404.2 595.5,400.0 594.0,394.8 591.8,391.0 586.0,385.0 585.0,378.8 583.0,374.5 580.0,372.2 578.0,372.2ZM625.8,345.8 622.2,347.2 619.0,350.8 617.5,355.2 617.5,358.5 619.0,363.0 621.5,366.0 625.5,368.0 629.5,368.0 633.5,366.0 636.0,363.0 637.5,358.5 637.5,355.2 636.0,350.8 633.8,348.0 630.2,346.0Z" fill="#45c3d0" fill-rule="evenodd"/><path d="M568.5,395.5 567.5,398.5 566.8,403.8 566.8,410.2 567.5,415.5 570.5,422.0 572.8,424.2 575.5,425.8 578.5,426.5 585.0,426.2 588.5,424.8 592.2,421.2 593.2,421.2 597.0,425.0 599.8,426.2 604.2,426.2 607.2,424.8 609.0,424.5 612.2,427.8 616.8,430.8 621.8,432.2 626.8,432.2 631.2,431.0 635.5,428.5 638.2,425.8 640.8,421.5 642.0,416.8 642.0,412.5 640.8,407.8 639.0,404.5 635.5,400.8 630.8,398.0 627.0,397.0 621.5,397.0 619.2,397.5 613.8,400.2 608.0,406.5 601.2,405.5 596.0,407.0 595.2,406.0 594.5,398.5 592.5,393.5 589.2,389.8 585.5,387.2 583.8,386.8 578.2,386.8 575.2,387.5 571.8,390.0ZM625.8,346.2 622.0,348.0 619.8,350.5 618.0,355.0 618.0,358.8 619.2,362.5 622.0,365.8 625.8,367.5 629.2,367.5 633.0,365.8 635.8,362.5 637.0,358.8 637.0,355.0 636.0,351.8 633.0,348.0 629.2,346.2Z" fill="#57c4ac" fill-rule="evenodd"/><path d="M569.2,396.2 567.8,402.8 567.8,411.2 569.2,417.8 571.5,421.5 573.8,423.5 576.2,424.8 578.5,425.2 585.8,424.8 589.2,422.8 592.5,419.2 594.2,418.8 595.0,419.0 597.5,422.0 599.5,423.2 602.5,423.8 605.5,422.8 608.2,422.8 610.2,423.8 614.0,427.8 617.2,429.8 621.2,431.0 625.8,431.2 631.0,430.0 634.2,428.2 637.5,425.2 639.8,421.5 641.0,416.8 641.0,412.8 640.0,408.8 637.2,404.0 634.0,401.0 630.2,399.0 626.2,398.0 622.5,398.0 619.0,398.8 614.2,401.2 607.8,408.2 606.2,408.8 601.5,408.2 597.5,410.0 596.2,410.0 594.5,407.8 594.0,400.8 592.8,396.2 590.5,392.5 586.5,389.2 582.8,388.2 579.0,388.2 575.8,389.0 573.5,390.2 571.8,392.0ZM627.5,346.8 623.2,348.0 620.5,350.5 619.2,352.8 618.5,356.0 618.8,359.5 620.5,363.2 623.5,366.0 626.8,367.0 631.0,366.2 633.5,364.5 635.8,361.0 636.5,358.0 636.0,353.5 634.5,350.5 631.8,348.0Z" fill="#61c072" fill-rule="evenodd"/><path d="M618.5,401.0 614.2,403.8 608.8,410.8 608.0,413.2 608.0,416.2 609.0,419.8 615.2,426.2 619.2,428.5 623.2,429.5 628.0,429.8 633.2,428.0 637.8,423.8 639.8,419.2 640.2,413.8 638.8,408.2 637.0,405.5 634.8,403.2 631.5,401.2 627.0,400.0 622.0,400.0ZM578.5,390.5 574.2,392.2 572.8,393.8 570.5,397.8 569.2,403.5 569.2,410.5 570.5,416.2 573.5,420.8 577.0,422.8 582.2,423.2 585.0,422.8 587.5,421.5 589.2,420.0 591.8,416.5 593.0,413.5 592.8,403.5 591.5,397.8 588.2,393.0 584.5,390.8ZM626.5,348.0 623.8,349.0 621.5,351.0 620.0,353.8 619.5,357.2 620.5,361.2 623.2,364.5 626.2,365.8 628.8,365.8 631.8,364.5 633.8,362.5 635.5,359.0 635.8,355.5 634.5,352.0 632.5,349.8 629.5,348.2Z" fill="#6ebe43" fill-rule="evenodd"/><path d="M626.0,401.5 621.5,403.0 617.5,406.8 615.2,412.0 615.0,417.2 617.0,423.0 619.8,426.2 623.8,428.5 628.5,429.0 633.5,427.2 636.8,424.2 639.2,419.2 639.8,414.0 639.2,411.2 637.5,407.2 634.2,403.8 630.0,401.8ZM628.0,349.2 626.0,350.0 624.0,351.8 622.8,354.2 622.5,357.5 623.5,360.5 625.5,362.8 627.8,363.8 630.0,363.8 633.0,362.2 634.5,360.2 635.2,358.0 635.2,355.0 634.5,352.8 632.2,350.2 629.8,349.2Z" fill="#86c638" fill-rule="evenodd"/><path d="M625.5,402.2 621.2,404.0 617.8,407.8 616.0,412.0 615.8,417.5 617.5,422.5 620.5,426.0 623.5,427.8 628.0,428.5 632.5,427.2 636.8,423.5 638.8,419.2 639.2,413.8 637.5,408.2 634.0,404.2 629.5,402.2ZM627.8,349.8 625.2,351.0 624.0,352.5 623.0,355.0 623.0,358.0 624.0,360.5 625.2,362.0 627.5,363.2 630.2,363.2 632.8,362.0 634.0,360.5 635.0,357.8 635.0,355.2 633.0,351.2 630.2,349.8Z" fill="#9fcd2e" fill-rule="evenodd"/><path d="M626.2,402.8 622.0,404.2 618.8,407.2 616.8,411.2 616.2,417.0 617.8,421.8 620.5,425.2 624.8,427.5 629.2,427.8 632.8,426.5 636.2,423.2 638.2,419.2 638.8,414.0 637.0,408.5 634.0,405.0 630.0,403.0ZM628.2,350.0 624.8,352.0 623.5,354.5 623.2,357.5 624.2,360.2 625.5,361.8 627.2,362.8 629.8,363.0 633.2,361.0 634.5,358.5 634.8,355.5 633.8,352.8 632.5,351.2 630.8,350.2Z" fill="#c0d521" fill-rule="evenodd"/><path d="M626.0,403.5 621.8,405.2 618.8,408.5 617.0,413.0 617.0,417.5 618.5,421.8 621.2,425.0 624.5,426.8 628.0,427.2 632.8,425.8 635.8,423.0 638.0,417.8 638.0,413.0 636.2,408.5 633.2,405.2 629.0,403.5ZM628.0,350.5 626.2,351.2 624.2,353.5 623.8,358.0 624.2,359.5 626.2,361.8 628.0,362.5 630.0,362.5 631.8,361.8 633.2,360.2 634.2,358.0 634.2,355.0 633.2,352.8 631.8,351.2 630.0,350.5Z" fill="#e4dd14" fill-rule="evenodd"/><path d="M626.8,404.5 624.5,405.0 620.8,407.5 618.5,411.2 617.8,415.8 618.5,419.5 620.5,423.0 624.2,425.8 628.0,426.5 631.2,425.8 635.0,423.0 637.0,419.2 637.5,414.5 636.0,409.8 633.2,406.5 629.8,404.8ZM628.2,351.2 625.2,353.2 624.5,355.0 624.5,358.0 626.5,361.0 629.8,361.8 631.5,361.0 633.0,359.2 633.5,358.0 633.5,355.0 631.5,352.0Z" fill="#f1c511" fill-rule="evenodd"/><path d="M626.8,406.0 623.8,407.0 620.8,409.8 619.0,414.0 619.0,417.8 620.0,420.8 623.0,424.2 625.8,425.5 629.0,425.8 632.8,424.2 635.5,421.2 636.8,418.0 636.8,413.8 635.5,410.5 633.8,408.2 630.2,406.2ZM629.0,352.2 626.5,353.5 625.5,356.0 626.5,359.5 629.0,360.8 631.5,359.5 632.5,357.0 631.5,353.5Z" fill="#f39c12" fill-rule="evenodd"/><path d="M627.0,406.8 624.5,407.5 621.5,410.0 620.2,412.2 619.5,416.0 620.2,419.8 621.8,422.2 625.2,424.8 628.2,425.2 631.8,424.2 634.8,421.5 636.2,417.8 636.2,414.0 635.2,411.2 633.0,408.5 630.0,407.0ZM628.2,353.8 626.8,355.5 626.8,357.5 627.8,359.0 629.8,359.2 631.2,357.5 631.2,355.5 630.2,354.0Z" fill="#ef6913" fill-rule="evenodd"/><path d="M626.8,407.5 624.5,408.2 621.8,410.8 620.2,414.5 620.2,417.5 621.8,421.2 623.8,423.2 626.8,424.5 629.2,424.5 632.2,423.2 634.5,420.8 635.8,417.5 635.8,414.5 634.2,410.8 632.2,408.8 629.2,407.5Z" fill="#e93014" fill-rule="evenodd"/></g></g>
<rect x="47.8" y="299.6" width="125.50000000000001" height="146.5" fill="none" stroke="#3a3a3a" stroke-width="0.9"/>
<path d="M93.2,299.6V446.1M47.8,379.6H173.3" stroke="#222" stroke-width="1.1" fill="none"/>
<rect x="198.6" y="298.5" width="125.29999999999998" height="146.89999999999998" fill="none" stroke="#3a3a3a" stroke-width="0.9"/>
<path d="M243.7,298.5V445.4M198.6,379.1H323.9" stroke="#222" stroke-width="1.1" fill="none"/>
<rect x="382.8" y="298.8" width="128.0" height="149.09999999999997" fill="none" stroke="#3a3a3a" stroke-width="0.9"/>
<path d="M448,298.8V447.9M382.8,385.8H510.8" stroke="#222" stroke-width="1.1" fill="none"/>
<rect x="539.1" y="299" width="127.29999999999995" height="149.89999999999998" fill="none" stroke="#3a3a3a" stroke-width="0.9"/>
<path d="M603.4,299V448.9M539.1,385.3H666.4" stroke="#222" stroke-width="1.1" fill="none"/>
<text x="0" y="0" font-size="10.20" fill="#1a1a1a" transform="translate(51.0 312.7) scale(0.974 1)">CD4<tspan font-size="5.61" dy="-3.06">+</tspan><tspan dy="3.06">CM</tspan></text>
<text x="0" y="0" font-size="10.20" fill="#1a1a1a" transform="translate(56.0 325.1) scale(0.985 1)">25.5%</text>
<text x="0" y="0" font-size="10.20" fill="#1a1a1a" transform="translate(122.5 312.7) scale(0.955 1)">CD4<tspan font-size="5.61" dy="-3.06">+</tspan><tspan dy="3.06">Naive</tspan></text>
<text x="0" y="0" font-size="10.20" fill="#1a1a1a" transform="translate(136.6 325.1) scale(0.947 1)">46.9%</text>
<text x="0" y="0" font-size="10.20" fill="#1a1a1a" transform="translate(47.8 434.9) scale(0.975 1)">CD4<tspan font-size="5.61" dy="-3.06">+</tspan><tspan dy="3.06">EM</tspan></text>
<text x="0" y="0" font-size="10.20" fill="#1a1a1a" transform="translate(56.5 444.2) scale(0.951 1)">23.2%</text>
<text x="0" y="0" font-size="10.20" fill="#1a1a1a" transform="translate(114.3 428.5) scale(0.974 1)">CD4<tspan font-size="5.61" dy="-3.06">+</tspan><tspan dy="3.06">Effector</tspan></text>
<text x="0" y="0" font-size="10.20" fill="#1a1a1a" transform="translate(133.0 442.9) scale(0.982 1)">4.38%</text>
<text x="0" y="0" font-size="10.20" fill="#1a1a1a" transform="translate(200.6 312.6) scale(0.953 1)">CD4<tspan font-size="5.61" dy="-3.06">+</tspan><tspan dy="3.06">CM</tspan></text>
<text x="0" y="0" font-size="10.20" fill="#1a1a1a" transform="translate(209.7 325.2) scale(0.902 1)">12.1%</text>
<text x="0" y="0" font-size="10.20" fill="#1a1a1a" transform="translate(270.0 312.6) scale(0.969 1)">CD4<tspan font-size="5.61" dy="-3.06">+</tspan><tspan dy="3.06">Naive</tspan></text>
<text x="0" y="0" font-size="10.20" fill="#1a1a1a" transform="translate(285.4 325.2) scale(0.944 1)">59.8%</text>
<text x="0" y="0" font-size="10.20" fill="#1a1a1a" transform="translate(200.0 431.7) scale(0.962 1)">CD4<tspan font-size="5.61" dy="-3.06">+</tspan><tspan dy="3.06">EM</tspan></text>
<text x="0" y="0" font-size="10.20" fill="#1a1a1a" transform="translate(207.0 441.7) scale(0.934 1)">23.1%</text>
<text x="0" y="0" font-size="10.20" fill="#1a1a1a" transform="translate(266.0 429.2) scale(0.955 1)">CD4<tspan font-size="5.61" dy="-3.06">+</tspan><tspan dy="3.06">Effector</tspan></text>
<text x="0" y="0" font-size="10.20" fill="#1a1a1a" transform="translate(284.0 441.7) scale(0.946 1)">5.0%</text>
<text x="0" y="0" font-size="10.20" fill="#1a1a1a" transform="translate(389.0 312.7) scale(0.974 1)">CD8<tspan font-size="5.61" dy="-3.06">+</tspan><tspan dy="3.06">CM</tspan></text>
<text x="0" y="0" font-size="10.20" fill="#1a1a1a" transform="translate(396.7 324.8) scale(0.944 1)">6.56%</text>
<text x="0" y="0" font-size="10.20" fill="#1a1a1a" transform="translate(461.2 312.7) scale(0.949 1)">CD8<tspan font-size="5.61" dy="-3.06">+</tspan><tspan dy="3.06">Naive</tspan></text>
<text x="0" y="0" font-size="10.20" fill="#1a1a1a" transform="translate(475.3 324.8) scale(0.923 1)">14.7%</text>
<text x="0" y="0" font-size="10.20" fill="#1a1a1a" transform="translate(389.7 435.9) scale(0.988 1)">CD8<tspan font-size="5.61" dy="-3.06">+</tspan><tspan dy="3.06">EM</tspan></text>
<text x="0" y="0" font-size="10.20" fill="#1a1a1a" transform="translate(397.7 447.1) scale(0.927 1)">29.9%</text>
<text x="0" y="0" font-size="10.20" fill="#1a1a1a" transform="translate(450.5 435.9) scale(0.962 1)">CD8<tspan font-size="5.61" dy="-3.06">+</tspan><tspan dy="3.06">Effector</tspan></text>
<text x="0" y="0" font-size="10.20" fill="#1a1a1a" transform="translate(466.7 447.1) scale(0.944 1)">48.8%</text>
<text x="0" y="0" font-size="10.20" fill="#1a1a1a" transform="translate(543.5 312.6) scale(0.961 1)">CD8<tspan font-size="5.61" dy="-3.06">+</tspan><tspan dy="3.06">CM</tspan></text>
<text x="0" y="0" font-size="10.20" fill="#1a1a1a" transform="translate(550.5 325.0) scale(0.934 1)">15.9%</text>
<text x="0" y="0" font-size="10.20" fill="#1a1a1a" transform="translate(613.8 312.6) scale(0.957 1)">CD8<tspan font-size="5.61" dy="-3.06">+</tspan><tspan dy="3.06">Naive</tspan></text>
<text x="0" y="0" font-size="10.20" fill="#1a1a1a" transform="translate(626.7 325.0) scale(0.944 1)">39.8%</text>
<text x="0" y="0" font-size="10.20" fill="#1a1a1a" transform="translate(541.0 436.2) scale(0.988 1)">CD8<tspan font-size="5.61" dy="-3.06">+</tspan><tspan dy="3.06">EM</tspan></text>
<text x="0" y="0" font-size="10.20" fill="#1a1a1a" transform="translate(549.7 447.1) scale(0.944 1)">28.7%</text>
<text x="0" y="0" font-size="10.20" fill="#1a1a1a" transform="translate(608.8 436.2) scale(0.958 1)">CD8<tspan font-size="5.61" dy="-3.06">+</tspan><tspan dy="3.06">Effector</tspan></text>
<text x="0" y="0" font-size="10.20" fill="#1a1a1a" transform="translate(628.0 447.7) scale(0.934 1)">15.6%</text>
<path d="M46.3,303.6H47.8M46.3,307.9H47.8M46.3,312.2H47.8M46.3,316.5H47.8M46.3,320.8H47.8M46.3,325.1H47.8M46.3,329.4H47.8M46.3,333.7H47.8M46.3,338.0H47.8M46.3,342.3H47.8M46.3,346.6H47.8M46.3,350.9H47.8M46.3,355.2H47.8M46.3,359.5H47.8M46.3,363.8H47.8M46.3,368.1H47.8M46.3,372.4H47.8M46.3,376.7H47.8M46.3,381.0H47.8M46.3,385.3H47.8M46.3,389.6H47.8M46.3,393.9H47.8M46.3,398.2H47.8M46.3,402.5H47.8M46.3,406.8H47.8M46.3,411.1H47.8M46.3,415.4H47.8M46.3,419.7H47.8M46.3,424.0H47.8M46.3,428.3H47.8M46.3,432.6H47.8M46.3,436.9H47.8M46.3,441.2H47.8M44.8,344.9H47.8M44.8,395.0H47.8M44.8,415.0H47.8M44.8,436.7H47.8" stroke="#333" stroke-width="0.6" fill="none"/>
<text x="43.3" y="346.7" font-size="4.8" text-anchor="end" fill="#333">10<tspan font-size="3.5" dy="-2">3</tspan></text>
<text x="43.3" y="396.8" font-size="4.8" text-anchor="end" fill="#333">10<tspan font-size="3.5" dy="-2">2</tspan></text>
<text x="43.3" y="416.8" font-size="4.8" text-anchor="end" fill="#333">0</text>
<text x="43.3" y="438.5" font-size="4.8" text-anchor="end" fill="#333">-10<tspan font-size="3.5" dy="-2">2</tspan></text>
<path d="M51.8,446.1V447.6M56.1,446.1V447.6M60.4,446.1V447.6M64.7,446.1V447.6M69.0,446.1V447.6M73.3,446.1V447.6M77.6,446.1V447.6M81.9,446.1V447.6M86.2,446.1V447.6M90.5,446.1V447.6M94.8,446.1V447.6M99.1,446.1V447.6M103.4,446.1V447.6M107.7,446.1V447.6M112.0,446.1V447.6M116.3,446.1V447.6M120.6,446.1V447.6M124.9,446.1V447.6M129.2,446.1V447.6M133.5,446.1V447.6M137.8,446.1V447.6M142.1,446.1V447.6M146.4,446.1V447.6M150.7,446.1V447.6M155.0,446.1V447.6M159.3,446.1V447.6M163.6,446.1V447.6M167.9,446.1V447.6M71.6,446.1V449.1M125.6,446.1V449.1M160.8,446.1V449.1" stroke="#333" stroke-width="0.6" fill="none"/>
<rect x="66.6" y="446.40000000000003" width="10" height="2.2" fill="#222" opacity="0.55"/><rect x="70.1" y="446.40000000000003" width="3" height="2.6" fill="#111"/>
<text x="71.6" y="457.6" font-size="4.8" text-anchor="middle" fill="#333">0</text>
<text x="125.6" y="457.6" font-size="4.8" text-anchor="middle" fill="#333">10<tspan font-size="3.5" dy="-2">3</tspan></text>
<text x="160.8" y="457.6" font-size="4.8" text-anchor="middle" fill="#333">10<tspan font-size="3.5" dy="-2">4</tspan></text>
<path d="M197.1,302.5H198.6M197.1,306.8H198.6M197.1,311.1H198.6M197.1,315.4H198.6M197.1,319.7H198.6M197.1,324.0H198.6M197.1,328.3H198.6M197.1,332.6H198.6M197.1,336.9H198.6M197.1,341.2H198.6M197.1,345.5H198.6M197.1,349.8H198.6M197.1,354.1H198.6M197.1,358.4H198.6M197.1,362.7H198.6M197.1,367.0H198.6M197.1,371.3H198.6M197.1,375.6H198.6M197.1,379.9H198.6M197.1,384.2H198.6M197.1,388.5H198.6M197.1,392.8H198.6M197.1,397.1H198.6M197.1,401.4H198.6M197.1,405.7H198.6M197.1,410.0H198.6M197.1,414.3H198.6M197.1,418.6H198.6M197.1,422.9H198.6M197.1,427.2H198.6M197.1,431.5H198.6M197.1,435.8H198.6M197.1,440.1H198.6M195.6,344.9H198.6M195.6,395.0H198.6M195.6,415.0H198.6M195.6,436.7H198.6" stroke="#333" stroke-width="0.6" fill="none"/>
<text x="194.1" y="346.7" font-size="4.8" text-anchor="end" fill="#333">10<tspan font-size="3.5" dy="-2">3</tspan></text>
<text x="194.1" y="396.8" font-size="4.8" text-anchor="end" fill="#333">10<tspan font-size="3.5" dy="-2">2</tspan></text>
<text x="194.1" y="416.8" font-size="4.8" text-anchor="end" fill="#333">0</text>
<text x="194.1" y="438.5" font-size="4.8" text-anchor="end" fill="#333">-10<tspan font-size="3.5" dy="-2">2</tspan></text>
<path d="M202.6,445.4V446.9M206.9,445.4V446.9M211.2,445.4V446.9M215.5,445.4V446.9M219.8,445.4V446.9M224.1,445.4V446.9M228.4,445.4V446.9M232.7,445.4V446.9M237.0,445.4V446.9M241.3,445.4V446.9M245.6,445.4V446.9M249.9,445.4V446.9M254.2,445.4V446.9M258.5,445.4V446.9M262.8,445.4V446.9M267.1,445.4V446.9M271.4,445.4V446.9M275.7,445.4V446.9M280.0,445.4V446.9M284.3,445.4V446.9M288.6,445.4V446.9M292.9,445.4V446.9M297.2,445.4V446.9M301.5,445.4V446.9M305.8,445.4V446.9M310.1,445.4V446.9M314.4,445.4V446.9M318.7,445.4V446.9M222.4,445.4V448.4M276.3,445.4V448.4M311.4,445.4V448.4" stroke="#333" stroke-width="0.6" fill="none"/>
<rect x="217.4" y="445.7" width="10" height="2.2" fill="#222" opacity="0.55"/><rect x="220.9" y="445.7" width="3" height="2.6" fill="#111"/>
<text x="222.4" y="456.9" font-size="4.8" text-anchor="middle" fill="#333">0</text>
<text x="276.3" y="456.9" font-size="4.8" text-anchor="middle" fill="#333">10<tspan font-size="3.5" dy="-2">3</tspan></text>
<text x="311.4" y="456.9" font-size="4.8" text-anchor="middle" fill="#333">10<tspan font-size="3.5" dy="-2">4</tspan></text>
<path d="M381.3,302.8H382.8M381.3,307.1H382.8M381.3,311.4H382.8M381.3,315.7H382.8M381.3,320.0H382.8M381.3,324.3H382.8M381.3,328.6H382.8M381.3,332.9H382.8M381.3,337.2H382.8M381.3,341.5H382.8M381.3,345.8H382.8M381.3,350.1H382.8M381.3,354.4H382.8M381.3,358.7H382.8M381.3,363.0H382.8M381.3,367.3H382.8M381.3,371.6H382.8M381.3,375.9H382.8M381.3,380.2H382.8M381.3,384.5H382.8M381.3,388.8H382.8M381.3,393.1H382.8M381.3,397.4H382.8M381.3,401.7H382.8M381.3,406.0H382.8M381.3,410.3H382.8M381.3,414.6H382.8M381.3,418.9H382.8M381.3,423.2H382.8M381.3,427.5H382.8M381.3,431.8H382.8M381.3,436.1H382.8M381.3,440.4H382.8M381.3,444.7H382.8M379.8,345.5H382.8M379.8,401.0H382.8M379.8,421.0H382.8M379.8,440.9H382.8" stroke="#333" stroke-width="0.6" fill="none"/>
<text x="378.3" y="347.3" font-size="4.8" text-anchor="end" fill="#333">10<tspan font-size="3.5" dy="-2">3</tspan></text>
<text x="378.3" y="402.8" font-size="4.8" text-anchor="end" fill="#333">10<tspan font-size="3.5" dy="-2">2</tspan></text>
<text x="378.3" y="422.8" font-size="4.8" text-anchor="end" fill="#333">0</text>
<text x="378.3" y="442.7" font-size="4.8" text-anchor="end" fill="#333">-10<tspan font-size="3.5" dy="-2">2</tspan></text>
<path d="M386.8,447.9V449.4M391.1,447.9V449.4M395.4,447.9V449.4M399.7,447.9V449.4M404.0,447.9V449.4M408.3,447.9V449.4M412.6,447.9V449.4M416.9,447.9V449.4M421.2,447.9V449.4M425.5,447.9V449.4M429.8,447.9V449.4M434.1,447.9V449.4M438.4,447.9V449.4M442.7,447.9V449.4M447.0,447.9V449.4M451.3,447.9V449.4M455.6,447.9V449.4M459.9,447.9V449.4M464.2,447.9V449.4M468.5,447.9V449.4M472.8,447.9V449.4M477.1,447.9V449.4M481.4,447.9V449.4M485.7,447.9V449.4M490.0,447.9V449.4M494.3,447.9V449.4M498.6,447.9V449.4M502.9,447.9V449.4M507.2,447.9V449.4M407.1,447.9V450.9M462.2,447.9V450.9M498.0,447.9V450.9" stroke="#333" stroke-width="0.6" fill="none"/>
<rect x="402.1" y="448.2" width="10" height="2.2" fill="#222" opacity="0.55"/><rect x="405.6" y="448.2" width="3" height="2.6" fill="#111"/>
<text x="407.1" y="459.4" font-size="4.8" text-anchor="middle" fill="#333">0</text>
<text x="462.2" y="459.4" font-size="4.8" text-anchor="middle" fill="#333">10<tspan font-size="3.5" dy="-2">3</tspan></text>
<text x="498.0" y="459.4" font-size="4.8" text-anchor="middle" fill="#333">10<tspan font-size="3.5" dy="-2">4</tspan></text>
<path d="M537.6,303.0H539.1M537.6,307.3H539.1M537.6,311.6H539.1M537.6,315.9H539.1M537.6,320.2H539.1M537.6,324.5H539.1M537.6,328.8H539.1M537.6,333.1H539.1M537.6,337.4H539.1M537.6,341.7H539.1M537.6,346.0H539.1M537.6,350.3H539.1M537.6,354.6H539.1M537.6,358.9H539.1M537.6,363.2H539.1M537.6,367.5H539.1M537.6,371.8H539.1M537.6,376.1H539.1M537.6,380.4H539.1M537.6,384.7H539.1M537.6,389.0H539.1M537.6,393.3H539.1M537.6,397.6H539.1M537.6,401.9H539.1M537.6,406.2H539.1M537.6,410.5H539.1M537.6,414.8H539.1M537.6,419.1H539.1M537.6,423.4H539.1M537.6,427.7H539.1M537.6,432.0H539.1M537.6,436.3H539.1M537.6,440.6H539.1M537.6,444.9H539.1M536.1,345.5H539.1M536.1,401.0H539.1M536.1,421.0H539.1M536.1,440.9H539.1" stroke="#333" stroke-width="0.6" fill="none"/>
<text x="534.6" y="347.3" font-size="4.8" text-anchor="end" fill="#333">10<tspan font-size="3.5" dy="-2">3</tspan></text>
<text x="534.6" y="402.8" font-size="4.8" text-anchor="end" fill="#333">10<tspan font-size="3.5" dy="-2">2</tspan></text>
<text x="534.6" y="422.8" font-size="4.8" text-anchor="end" fill="#333">0</text>
<text x="534.6" y="442.7" font-size="4.8" text-anchor="end" fill="#333">-10<tspan font-size="3.5" dy="-2">2</tspan></text>
<path d="M543.1,448.9V450.4M547.4,448.9V450.4M551.7,448.9V450.4M556.0,448.9V450.4M560.3,448.9V450.4M564.6,448.9V450.4M568.9,448.9V450.4M573.2,448.9V450.4M577.5,448.9V450.4M581.8,448.9V450.4M586.1,448.9V450.4M590.4,448.9V450.4M594.7,448.9V450.4M599.0,448.9V450.4M603.3,448.9V450.4M607.6,448.9V450.4M611.9,448.9V450.4M616.2,448.9V450.4M620.5,448.9V450.4M624.8,448.9V450.4M629.1,448.9V450.4M633.4,448.9V450.4M637.7,448.9V450.4M642.0,448.9V450.4M646.3,448.9V450.4M650.6,448.9V450.4M654.9,448.9V450.4M659.2,448.9V450.4M663.5,448.9V450.4M563.3,448.9V451.9M618.0,448.9V451.9M653.7,448.9V451.9" stroke="#333" stroke-width="0.6" fill="none"/>
<rect x="558.3" y="449.2" width="10" height="2.2" fill="#222" opacity="0.55"/><rect x="561.8" y="449.2" width="3" height="2.6" fill="#111"/>
<text x="563.3" y="460.4" font-size="4.8" text-anchor="middle" fill="#333">0</text>
<text x="618.0" y="460.4" font-size="4.8" text-anchor="middle" fill="#333">10<tspan font-size="3.5" dy="-2">3</tspan></text>
<text x="653.7" y="460.4" font-size="4.8" text-anchor="middle" fill="#333">10<tspan font-size="3.5" dy="-2">4</tspan></text>
<line x1="25" y1="943.8" x2="25" y2="732.3" stroke="#111" stroke-width="1.3"/>
<path d="M25,727.3 L30.5,736.8 L25,734.14 L19.5,736.8Z" fill="#111"/>
<line x1="25" y1="943.8" x2="338.7" y2="943.8" stroke="#111" stroke-width="1.3"/>
<path d="M343.7,943.8 L333.7,949.3 L336.5,943.8 L333.7,938.3Z" fill="#111"/>
<text x="15.5" y="907.6" font-size="9.6" text-anchor="middle" fill="#1a1a1a" transform="rotate(-90 15.5 907.6)" textLength="74" lengthAdjust="spacingAndGlyphs">γδTCR APC-fire750</text>
<text x="28" y="958.4" font-size="9.8" fill="#1a1a1a" textLength="49" lengthAdjust="spacingAndGlyphs">Vδ2 BV605</text>
<text x="93.2" y="743.2" font-size="9.8" text-anchor="middle" fill="#1a1a1a">ATB</text>
<text x="270" y="744.7" font-size="9.8" text-anchor="middle" fill="#1a1a1a">HC</text>
<rect x="46.6" y="757.6" width="122.6" height="156.5" fill="none" stroke="#3a3a3a" stroke-width="0.9"/>
<rect x="205.5" y="756.8" width="122.80000000000001" height="157.20000000000005" fill="none" stroke="#3a3a3a" stroke-width="0.9"/>
<path d="M71.8,805.2 69.8,806.0 68.0,807.8 67.0,809.8 66.2,818.2 65.5,846.2 63.5,855.5 58.5,866.5 58.0,872.8 58.8,879.0 61.0,889.5 66.8,911.8 67.8,913.2 69.0,913.8 76.5,913.8 77.8,913.2 79.0,911.5 81.8,901.5 87.5,884.2 89.8,874.8 90.5,865.2 89.8,860.8 83.0,848.8 80.2,836.5 78.0,808.8 77.0,807.0 75.2,805.5Z" fill="#1a3a96" fill-rule="evenodd"/>
<clipPath id="c1c"><path d="M71.8,805.2 69.8,806.0 68.0,807.8 67.0,809.8 66.2,818.2 65.5,846.2 63.5,855.5 58.5,866.5 58.0,872.8 58.8,879.0 61.0,889.5 66.8,911.8 67.8,913.2 69.0,913.8 76.5,913.8 77.8,913.2 79.0,911.5 81.8,901.5 87.5,884.2 89.8,874.8 90.5,865.2 89.8,860.8 83.0,848.8 80.2,836.5 78.0,808.8 77.0,807.0 75.2,805.5Z" fill-rule="evenodd"/></clipPath>
<g clip-path="url(#c1c)"><g filter="url(#blur7)"><path d="M72.0,805.8 70.0,806.5 67.5,810.0 66.8,818.5 66.0,846.5 64.0,855.8 59.0,866.8 58.5,872.5 59.2,878.8 61.5,889.2 67.2,911.5 68.0,912.8 69.2,913.2 76.2,913.2 77.5,912.8 78.5,911.2 81.2,901.2 87.0,884.0 89.2,874.5 90.0,865.5 89.2,861.0 82.5,849.0 79.8,836.8 77.5,809.0 76.5,807.2 75.0,806.0Z" fill="#1d46a5" fill-rule="evenodd"/><path d="M71.8,806.5 70.5,807.0 68.2,809.8 67.5,818.2 66.8,846.2 64.5,856.2 59.8,866.5 59.2,872.8 60.8,882.8 67.8,911.0 69.0,912.5 76.5,912.5 78.0,910.8 80.5,901.5 86.2,884.2 88.5,874.8 89.2,865.2 88.8,861.5 82.0,849.5 79.8,840.8 76.8,809.0 74.5,806.5Z" fill="#1f4faf" fill-rule="evenodd"/><path d="M72.5,807.0 70.5,807.8 68.8,810.5 68.0,819.0 67.2,847.0 65.2,856.2 60.2,867.2 59.8,872.0 60.5,878.2 64.2,896.2 68.8,911.5 69.8,912.0 75.8,912.0 77.2,910.8 80.0,900.8 85.8,883.5 88.0,874.0 88.8,866.0 88.0,861.5 81.2,849.5 78.5,837.2 76.2,809.5 75.2,807.8Z" fill="#2159b9" fill-rule="evenodd"/><path d="M71.0,859.0 68.2,860.2 66.2,862.2 64.5,865.2 62.8,872.2 62.8,877.8 63.8,882.8 65.2,886.0 64.2,890.2 64.2,895.0 65.5,899.5 68.8,903.5 72.5,904.8 76.2,903.5 78.5,901.2 80.2,897.8 80.8,895.8 80.8,890.2 79.2,885.0 81.0,879.5 81.2,872.2 80.0,866.5 77.8,862.2 74.0,859.2Z" fill="#2263c3" fill-rule="evenodd"/><path d="M71.5,859.5 67.5,861.5 64.8,865.8 63.2,871.0 63.0,876.8 64.0,882.2 65.8,886.0 64.5,891.5 64.5,894.5 65.5,898.5 68.2,902.5 71.2,904.0 73.8,904.0 75.2,903.5 77.8,901.5 79.5,898.5 80.2,896.0 80.5,891.5 78.8,885.2 80.8,879.0 81.0,873.2 80.0,867.8 77.8,863.0 75.2,860.5Z" fill="#2473cc" fill-rule="evenodd"/><path d="M71.0,860.0 68.8,861.0 66.5,863.2 64.8,866.5 63.5,871.2 63.2,876.8 64.0,881.2 66.2,886.5 65.0,890.5 65.0,895.5 65.8,898.2 67.0,900.5 69.8,903.0 71.0,903.5 74.0,903.5 76.0,902.5 78.0,900.5 79.8,896.8 80.0,890.5 78.2,885.8 80.2,880.2 80.8,873.2 80.0,868.8 77.5,863.2 75.2,861.0 73.0,860.0Z" fill="#2687d4" fill-rule="evenodd"/><path d="M70.8,860.5 68.0,862.0 65.2,866.0 63.8,871.0 63.5,876.8 64.2,881.2 66.5,886.2 65.2,891.0 65.2,895.0 66.0,897.8 67.5,900.5 69.8,902.5 71.0,903.0 74.0,903.0 77.5,900.5 79.5,896.2 79.8,891.0 78.0,885.2 80.0,880.2 80.5,873.2 79.8,868.8 77.5,863.8 76.0,862.0 74.0,860.8Z" fill="#279adc" fill-rule="evenodd"/><path d="M71.5,860.8 68.2,862.2 65.2,866.8 64.0,871.2 63.8,877.0 64.8,882.0 67.0,886.5 65.8,890.5 65.8,895.5 67.5,899.8 69.2,901.5 71.2,902.5 73.8,902.5 75.8,901.5 77.5,899.8 79.2,895.5 79.2,890.5 77.5,885.8 79.8,880.0 80.2,873.0 79.2,868.0 77.2,864.0 74.2,861.2Z" fill="#2eade4" fill-rule="evenodd"/><path d="M71.2,861.2 68.2,862.8 65.8,866.2 64.2,871.2 64.0,876.8 65.2,882.5 67.5,886.8 66.2,891.2 66.2,894.8 67.0,897.5 69.8,901.0 71.5,901.8 73.5,901.8 75.2,901.0 77.0,899.2 78.5,896.0 78.8,891.2 77.0,886.0 79.5,880.0 80.0,873.2 79.2,869.0 77.2,864.5 74.8,862.0Z" fill="#35bfed" fill-rule="evenodd"/><path d="M71.2,861.8 69.0,862.8 67.2,864.5 65.5,867.8 64.5,871.5 64.2,876.0 65.5,882.2 68.5,887.8 67.8,892.0 68.2,896.0 70.5,899.0 73.5,899.5 76.0,897.5 77.0,895.2 77.2,892.0 76.0,887.5 79.0,880.8 79.8,874.0 79.0,869.2 76.8,864.5 74.2,862.2Z" fill="#45c3d0" fill-rule="evenodd"/><path d="M70.8,862.5 68.2,864.0 66.0,867.5 64.8,872.2 64.8,877.8 66.0,882.5 68.8,886.8 70.8,888.0 73.2,888.0 76.0,886.0 78.0,882.5 79.2,877.8 79.2,872.2 78.0,867.5 75.8,864.0 73.2,862.5Z" fill="#57c4ac" fill-rule="evenodd"/><path d="M70.8,863.2 68.0,865.2 66.0,869.0 65.2,872.2 65.2,877.8 66.0,881.0 68.0,884.8 70.8,887.0 73.2,887.0 76.2,884.5 78.0,881.0 78.8,877.8 78.8,872.2 78.0,869.0 76.0,865.2 73.2,863.2Z" fill="#61c072" fill-rule="evenodd"/><path d="M71.5,864.5 69.8,865.2 68.0,867.0 66.8,869.5 66.0,872.5 66.0,877.2 66.8,880.5 68.0,883.0 70.2,885.2 72.2,885.8 75.2,884.0 77.2,880.5 78.0,877.2 78.0,872.5 76.0,867.0 74.2,865.2Z" fill="#6ebe43" fill-rule="evenodd"/><path d="M70.8,867.2 67.8,869.2 66.8,871.5 66.8,873.5 67.5,875.5 69.0,877.0 70.8,877.8 73.2,877.8 75.0,877.0 76.5,875.5 77.2,873.5 77.2,871.5 76.2,869.2 74.5,867.8Z" fill="#86c638" fill-rule="evenodd"/><path d="M71.0,867.5 69.2,868.2 67.8,869.8 67.0,873.5 67.8,875.2 69.2,876.8 71.0,877.5 73.0,877.5 74.8,876.8 76.2,875.2 77.0,873.5 77.0,871.8 76.2,869.8 74.8,868.2 73.0,867.5Z" fill="#9fcd2e" fill-rule="evenodd"/><path d="M71.0,867.8 68.0,869.8 67.2,871.5 67.2,873.5 69.2,876.5 71.0,877.2 73.0,877.2 76.0,875.2 76.8,873.5 76.8,871.5 74.8,868.5 73.0,867.8Z" fill="#c0d521" fill-rule="evenodd"/><path d="M71.2,868.0 68.2,870.0 67.5,873.2 68.2,875.0 69.8,876.5 72.8,877.0 74.2,876.5 75.8,875.0 76.5,871.8 74.5,868.8Z" fill="#e4dd14" fill-rule="evenodd"/><path d="M71.0,868.5 68.5,870.2 68.0,873.5 69.8,876.0 73.0,876.5 75.5,874.8 76.0,871.5 74.2,869.0Z" fill="#f1c511" fill-rule="evenodd"/><path d="M71.5,869.0 69.5,870.0 68.5,873.0 69.5,875.0 72.5,876.0 74.5,875.0 75.5,872.0 74.5,870.0Z" fill="#f39c12" fill-rule="evenodd"/><path d="M71.8,869.2 69.2,870.8 68.8,872.8 70.2,875.2 72.2,875.8 74.8,874.2 75.2,872.2 73.8,869.8Z" fill="#ef6913" fill-rule="evenodd"/><path d="M71.8,869.5 69.8,870.5 69.0,872.8 70.0,874.8 72.2,875.5 74.2,874.5 75.0,872.2 74.0,870.2Z" fill="#e93014" fill-rule="evenodd"/></g></g>
<path d="M152.8,868.2 151.8,865.2 150.2,863.5 144.8,861.2 139.2,856.0 133.8,854.0 126.0,856.5 117.2,860.2 109.5,866.0 107.2,868.2 106.5,870.2 107.8,872.2 113.2,874.8 124.2,875.5 130.5,877.5 134.0,878.0 150.8,872.2 152.0,871.0Z" fill="#1a3a96" fill-rule="evenodd"/>
<clipPath id="c1bc"><path d="M152.8,868.2 151.8,865.2 150.2,863.5 144.8,861.2 139.2,856.0 133.8,854.0 126.0,856.5 117.2,860.2 109.5,866.0 107.2,868.2 106.5,870.2 107.8,872.2 113.2,874.8 124.2,875.5 130.5,877.5 134.0,878.0 150.8,872.2 152.0,871.0Z" fill-rule="evenodd"/></clipPath>
<g clip-path="url(#c1bc)"><g filter="url(#blur7)"><path d="M152.0,867.5 149.8,864.0 144.2,861.8 139.5,857.0 135.5,855.0 133.0,854.8 117.8,860.8 110.0,866.5 107.8,868.8 107.2,870.5 109.0,872.2 113.8,874.2 124.8,875.0 133.5,877.5 150.2,871.8 151.8,870.0Z" fill="#1d46a5" fill-rule="evenodd"/><path d="M151.2,867.5 149.2,864.5 143.8,862.2 138.2,857.0 134.8,855.5 133.0,855.5 118.2,861.2 110.5,867.0 108.2,869.2 108.0,870.5 109.5,871.8 113.8,873.5 124.8,874.2 133.5,876.8 149.8,871.2 151.0,870.0Z" fill="#1f4faf" fill-rule="evenodd"/><path d="M121.2,865.0 121.5,867.8 123.8,870.2 128.5,872.0 133.5,872.0 138.2,870.2 140.2,868.2 140.8,867.0 140.5,864.2 138.2,861.8 133.5,860.0 128.5,860.0 123.8,861.8 121.8,863.8Z" fill="#2159b9" fill-rule="evenodd"/><path d="M124.5,865.5 125.0,867.5 126.2,868.8 129.8,870.0 134.2,869.5 135.8,868.8 137.5,866.5 137.0,864.5 135.8,863.2 132.2,862.0 127.8,862.5 126.2,863.2Z" fill="#2263c3" fill-rule="evenodd"/></g></g>
<path d="M231.2,825.8 229.5,827.0 227.2,830.5 225.2,845.5 223.0,855.2 216.5,868.2 216.8,882.5 221.8,899.8 224.2,912.0 225.8,913.0 235.0,913.0 236.0,912.5 236.8,911.2 239.8,891.2 243.2,877.5 243.2,874.2 241.8,866.0 237.5,856.8 235.0,832.2 233.8,828.8Z" fill="#1a3a96" fill-rule="evenodd"/>
<clipPath id="c2c"><path d="M231.2,825.8 229.5,827.0 227.2,830.5 225.2,845.5 223.0,855.2 216.5,868.2 216.8,882.5 221.8,899.8 224.2,912.0 225.8,913.0 235.0,913.0 236.0,912.5 236.8,911.2 239.8,891.2 243.2,877.5 243.2,874.2 241.8,866.0 237.5,856.8 235.0,832.2 233.8,828.8Z" fill-rule="evenodd"/></clipPath>
<g clip-path="url(#c2c)"><g filter="url(#blur7)"><path d="M231.5,826.5 230.0,827.2 227.8,830.8 225.8,845.8 223.5,855.5 217.0,868.5 217.2,882.2 222.2,899.5 224.8,911.8 226.0,912.5 234.8,912.5 235.8,912.0 236.2,911.0 239.2,891.0 242.8,877.2 242.8,874.5 241.2,866.2 237.0,857.0 234.5,832.5 233.8,830.0Z" fill="#1d46a5" fill-rule="evenodd"/><path d="M231.2,827.2 228.2,831.2 226.5,845.5 224.2,855.2 223.0,858.8 217.8,868.2 217.8,881.2 218.2,884.0 221.8,895.5 225.0,910.8 225.8,911.8 234.8,911.8 235.5,911.0 238.8,890.8 242.0,877.5 242.0,874.2 240.5,866.0 236.2,856.8 233.8,832.2Z" fill="#1f4faf" fill-rule="evenodd"/><path d="M231.2,828.2 229.5,830.2 228.5,833.0 227.0,846.2 224.8,856.0 218.2,869.0 218.5,882.5 222.2,895.8 222.8,900.0 224.5,904.5 225.5,910.0 226.5,911.2 234.2,911.2 235.0,910.5 235.8,904.5 237.5,898.8 237.8,893.5 241.5,876.8 240.0,866.8 235.8,857.5 233.2,833.0Z" fill="#2159b9" fill-rule="evenodd"/><path d="M228.2,858.8 226.0,859.8 223.8,862.0 220.8,867.8 219.2,874.2 219.0,883.0 220.2,889.0 222.5,895.5 223.0,900.0 224.2,903.2 227.8,905.5 231.0,905.8 235.0,904.0 236.8,901.2 237.2,894.0 240.0,882.8 240.0,876.8 238.2,867.8 236.0,863.0 233.0,859.8 230.8,858.8Z" fill="#2263c3" fill-rule="evenodd"/><path d="M228.2,859.5 225.8,860.8 224.2,862.2 221.2,867.8 219.5,875.5 219.5,884.0 220.8,890.0 222.8,895.0 223.0,899.0 224.2,902.8 227.5,905.0 231.8,905.2 234.8,903.8 236.2,902.0 237.2,897.0 236.8,894.0 238.2,890.2 239.5,884.0 239.5,875.5 238.2,869.2 235.5,863.2 232.5,860.2 230.8,859.5Z" fill="#2473cc" fill-rule="evenodd"/><path d="M228.8,860.0 226.2,861.0 224.0,863.2 221.5,868.0 219.8,876.0 219.8,883.5 220.8,889.2 223.2,895.2 223.0,898.0 224.2,902.2 227.8,904.8 231.2,905.0 234.2,903.8 236.5,900.8 237.0,898.2 236.5,893.5 238.2,889.2 239.2,883.5 239.2,876.0 238.0,869.5 236.0,864.8 232.8,861.0 231.2,860.2Z" fill="#2687d4" fill-rule="evenodd"/><path d="M229.0,860.5 226.8,861.2 224.5,863.2 221.8,868.2 220.0,876.2 220.0,883.2 221.0,889.0 223.5,894.8 223.2,898.8 224.0,901.2 226.8,904.0 231.0,904.8 234.0,903.5 236.5,900.0 236.8,897.0 236.0,894.0 238.5,886.8 239.0,876.2 237.8,869.8 235.2,864.2 232.2,861.2Z" fill="#279adc" fill-rule="evenodd"/><path d="M229.2,861.0 226.5,862.0 224.2,864.2 222.5,867.2 220.5,874.5 220.2,883.0 221.2,888.8 224.0,895.2 223.8,899.5 224.5,901.2 226.0,903.0 227.8,904.0 231.5,904.2 234.0,903.0 236.2,899.5 235.8,893.5 236.8,891.8 238.5,885.2 238.8,876.5 237.5,870.0 235.8,865.8 232.5,862.0Z" fill="#2eade4" fill-rule="evenodd"/><path d="M228.2,861.8 224.8,864.2 222.0,869.5 220.8,874.8 220.5,882.5 221.5,888.5 224.2,894.5 224.2,899.2 225.2,901.5 228.0,903.5 231.2,903.8 233.5,902.8 234.8,901.5 235.8,899.2 235.2,893.8 236.8,890.8 238.0,886.2 238.5,877.0 237.2,870.2 234.2,864.2 230.8,861.8Z" fill="#35bfed" fill-rule="evenodd"/><path d="M229.2,862.2 226.2,863.5 223.0,868.0 221.2,874.0 220.8,881.2 221.8,888.0 224.8,894.5 226.0,900.0 227.2,901.5 228.8,902.2 231.2,902.2 232.8,901.5 234.2,899.2 234.5,894.5 236.2,891.0 237.8,885.8 238.2,878.5 237.5,872.8 235.5,867.0 232.8,863.5 231.0,862.5Z" fill="#45c3d0" fill-rule="evenodd"/><path d="M228.2,863.2 224.8,866.0 223.0,869.2 221.5,874.8 221.2,882.8 222.8,889.8 225.2,894.5 227.5,896.8 230.8,897.0 232.0,896.5 233.8,894.8 236.2,889.8 237.8,882.8 237.8,876.8 236.8,871.5 234.2,866.0 230.8,863.2Z" fill="#57c4ac" fill-rule="evenodd"/><path d="M228.5,864.2 225.8,866.0 223.0,871.0 221.8,877.2 221.8,882.2 222.8,887.8 224.2,891.5 227.0,895.0 228.5,895.8 230.5,895.8 233.5,893.5 235.8,889.2 237.0,884.5 237.2,877.2 236.2,871.8 234.0,867.0 231.8,864.8Z" fill="#61c072" fill-rule="evenodd"/><path d="M228.8,866.0 226.2,867.5 223.5,872.0 222.8,874.8 222.8,883.0 223.5,886.8 225.2,890.8 227.8,893.5 229.8,894.0 231.2,893.5 233.2,891.5 235.0,888.2 236.2,883.0 236.2,874.8 235.5,872.0 232.8,867.5 231.0,866.2Z" fill="#6ebe43" fill-rule="evenodd"/><path d="M229.0,868.2 226.0,869.5 224.2,871.5 223.2,874.0 223.2,878.2 225.2,882.0 227.0,883.2 230.5,883.8 233.8,882.0 235.0,880.2 235.8,878.2 235.8,874.0 234.8,871.5 233.0,869.5 231.0,868.5Z" fill="#86c638" fill-rule="evenodd"/><path d="M228.5,868.8 226.2,869.8 224.5,871.8 223.5,874.2 223.5,877.8 224.8,880.8 226.2,882.2 228.5,883.2 230.5,883.2 232.0,882.8 234.2,880.8 235.5,877.8 235.5,874.2 234.5,871.8 232.8,869.8 230.5,868.8Z" fill="#9fcd2e" fill-rule="evenodd"/><path d="M229.0,869.0 226.5,870.0 224.5,872.2 223.8,874.2 223.8,877.8 224.5,879.8 226.5,882.0 230.0,883.0 232.5,882.0 234.5,879.8 235.2,877.8 235.2,874.2 234.5,872.2 232.5,870.0Z" fill="#c0d521" fill-rule="evenodd"/><path d="M228.2,869.5 226.8,870.2 224.8,872.5 224.0,874.8 224.0,877.2 224.8,879.5 226.8,881.8 228.5,882.5 230.5,882.5 232.2,881.8 234.2,879.5 235.0,877.2 235.0,874.8 234.2,872.5 232.2,870.2 230.8,869.5Z" fill="#e4dd14" fill-rule="evenodd"/><path d="M229.0,869.8 226.8,870.8 225.5,872.2 224.5,875.0 224.5,877.0 225.2,879.2 226.8,881.0 229.8,882.0 231.5,881.5 233.2,880.0 234.2,878.0 234.5,875.0 233.5,872.2 232.2,870.8Z" fill="#f1c511" fill-rule="evenodd"/><path d="M228.2,870.2 226.5,871.5 225.5,873.2 225.2,877.0 227.0,880.0 229.8,881.0 232.0,880.0 233.8,877.0 233.8,874.2 232.0,871.0 230.8,870.2Z" fill="#f39c12" fill-rule="evenodd"/><path d="M228.5,870.5 226.5,872.0 225.5,874.5 225.5,876.2 226.2,878.5 227.8,880.0 230.0,880.5 232.8,878.5 233.5,874.5 232.5,872.0 231.5,871.0Z" fill="#ef6913" fill-rule="evenodd"/><path d="M229.0,870.8 227.8,871.2 226.2,873.0 225.8,876.0 226.5,878.2 228.0,879.8 230.2,880.0 232.5,878.2 233.2,875.0 232.2,872.2 230.8,871.0Z" fill="#e93014" fill-rule="evenodd"/></g></g>
<path d="M269.5,872.0 269.5,874.2 270.5,877.2 272.5,880.5 279.0,885.0 287.0,886.5 290.8,886.2 297.8,883.8 299.8,883.8 304.8,887.2 308.5,886.5 312.0,884.5 315.2,875.2 315.2,873.0 313.8,866.8 311.0,863.0 307.8,860.5 301.2,859.8 295.8,855.5 286.0,856.2 277.0,861.0 274.8,862.8Z" fill="#1a3a96" fill-rule="evenodd"/>
<clipPath id="c2bc"><path d="M269.5,872.0 269.5,874.2 270.5,877.2 272.5,880.5 279.0,885.0 287.0,886.5 290.8,886.2 297.8,883.8 299.8,883.8 304.8,887.2 308.5,886.5 312.0,884.5 315.2,875.2 315.2,873.0 313.8,866.8 311.0,863.0 307.8,860.5 301.2,859.8 295.8,855.5 286.0,856.2 277.0,861.0 274.8,862.8Z" fill-rule="evenodd"/></clipPath>
<g clip-path="url(#c2bc)"><g filter="url(#blur7)"><path d="M270.0,872.2 270.0,874.0 271.5,878.2 274.0,881.0 279.2,884.5 287.2,886.0 290.5,885.8 297.5,883.2 300.0,883.2 305.0,886.8 308.2,886.0 311.5,884.2 314.8,875.0 313.2,867.0 309.0,861.8 306.5,860.8 301.0,860.2 295.5,856.0 286.2,856.8 277.2,861.5 275.2,863.0Z" fill="#1d46a5" fill-rule="evenodd"/><path d="M270.8,872.2 270.8,874.0 272.2,878.2 274.5,880.5 279.2,883.8 287.2,885.2 290.5,885.0 297.5,882.5 300.0,882.5 305.0,886.0 308.2,885.2 311.0,883.8 314.0,875.0 312.5,867.0 308.5,862.2 306.5,861.5 301.0,861.0 299.0,860.0 295.5,856.8 286.2,857.5 277.5,862.0 274.8,865.0Z" fill="#1f4faf" fill-rule="evenodd"/><path d="M271.2,872.8 273.2,878.5 278.0,882.2 280.5,883.5 287.8,884.8 290.0,884.5 297.0,882.0 300.8,882.0 305.2,885.2 309.8,883.8 311.0,882.0 313.5,874.2 312.0,867.8 308.2,863.0 305.8,862.0 300.5,861.5 298.5,860.5 295.0,857.2 286.5,858.0 279.5,861.2 275.8,864.2Z" fill="#2159b9" fill-rule="evenodd"/><path d="M274.8,867.8 274.5,872.2 276.5,876.8 280.0,880.0 285.5,882.0 290.5,882.0 294.0,881.0 298.2,878.2 300.5,875.5 303.5,879.5 306.8,880.0 309.0,878.5 310.8,874.5 310.2,869.2 307.8,866.0 305.0,865.5 303.2,866.2 301.5,868.0 299.5,864.2 296.8,861.5 294.0,860.0 290.5,859.0 285.5,859.0 281.0,860.8 277.5,863.0 275.5,865.8Z" fill="#2263c3" fill-rule="evenodd"/><path d="M275.2,868.2 275.2,872.8 277.0,876.5 280.8,879.8 285.8,881.5 290.2,881.5 295.2,879.8 299.0,876.5 300.5,874.0 302.0,877.5 303.8,879.2 306.5,879.8 309.2,877.8 310.5,874.5 310.2,870.0 308.2,866.8 306.0,865.8 304.5,866.0 301.0,869.2 299.5,865.2 296.8,862.2 293.8,860.5 290.2,859.5 285.8,859.5 280.8,861.2 277.0,864.5Z" fill="#2473cc" fill-rule="evenodd"/><path d="M304.5,866.2 302.8,867.5 301.5,869.5 301.0,874.0 302.5,877.8 304.2,879.2 306.2,879.5 308.2,878.5 309.8,876.2 310.2,874.8 310.2,871.0 309.5,868.8 307.8,866.8ZM281.2,861.5 277.0,865.5 276.0,867.5 275.5,870.2 276.0,873.5 277.0,875.5 279.8,878.5 282.2,880.0 285.5,881.0 290.5,881.0 294.8,879.5 298.5,876.2 300.2,872.8 300.5,870.0 299.0,865.5 296.2,862.5 293.8,861.0 290.5,860.0 285.5,860.0Z" fill="#2687d4" fill-rule="evenodd"/><path d="M304.8,866.5 302.5,868.2 301.5,870.2 301.2,874.0 303.0,878.0 306.0,879.2 307.5,878.8 309.0,877.2 310.2,872.8 310.0,870.8 308.8,868.0 306.8,866.5ZM280.2,862.8 277.8,865.2 276.2,868.8 276.2,872.2 277.0,874.5 280.2,878.2 285.5,880.5 290.5,880.5 295.0,878.8 298.2,875.8 299.8,872.2 299.8,868.8 298.2,865.2 295.8,862.8 290.5,860.5 285.5,860.5Z" fill="#279adc" fill-rule="evenodd"/><path d="M305.2,866.8 302.5,868.8 301.5,871.5 301.5,874.0 302.8,877.2 303.8,878.2 306.5,878.8 309.2,876.2 310.0,872.8 308.8,868.5 307.5,867.2ZM281.2,862.8 277.8,866.5 276.8,869.8 277.5,874.0 280.2,877.5 284.8,879.8 290.0,880.0 294.8,878.2 297.2,876.0 299.0,872.5 299.2,869.8 298.2,866.5 295.8,863.5 292.8,861.8 290.0,861.0 286.0,861.0Z" fill="#2eade4" fill-rule="evenodd"/><path d="M305.2,867.2 304.0,867.8 302.2,870.2 302.0,874.5 302.8,876.5 304.2,878.0 306.5,878.2 307.5,877.8 309.0,875.8 309.5,871.5 308.0,868.2 307.0,867.5ZM282.5,863.0 279.5,865.5 278.0,868.2 278.0,872.8 279.5,875.5 282.5,878.0 286.5,879.2 291.8,878.8 295.0,877.0 297.5,874.0 298.2,871.5 298.0,868.2 296.5,865.5 293.5,863.0 289.5,861.8 286.5,861.8Z" fill="#35bfed" fill-rule="evenodd"/><path d="M305.0,868.8 303.5,870.0 302.8,873.2 304.0,876.2 306.0,877.0 306.8,876.8 308.2,874.8 308.5,871.5 307.0,869.0ZM284.0,864.8 281.8,866.5 280.2,869.5 280.5,872.2 281.8,874.5 283.2,875.8 286.2,877.0 289.8,877.0 293.5,875.2 295.8,871.8 295.8,869.2 294.8,867.0 292.5,865.0 289.8,864.0 286.2,864.0Z" fill="#45c3d0" fill-rule="evenodd"/><path d="M283.8,866.5 282.0,868.8 281.8,871.0 282.5,872.8 284.0,874.2 286.2,875.2 288.5,875.5 291.0,875.0 293.8,873.0 294.5,871.5 294.5,869.0 292.2,866.2 289.8,865.2 286.8,865.2Z" fill="#57c4ac" fill-rule="evenodd"/><path d="M282.8,868.5 282.5,871.5 284.5,874.0 286.2,874.8 288.8,875.0 292.2,873.8 294.0,871.2 293.5,868.2 292.0,866.8 289.8,865.8 285.8,866.0 284.0,867.0Z" fill="#61c072" fill-rule="evenodd"/><path d="M285.2,867.2 283.8,868.8 283.5,871.2 285.5,873.5 289.5,874.0 292.5,872.0 293.0,870.8 292.8,869.0 290.8,867.0 287.2,866.5Z" fill="#6ebe43" fill-rule="evenodd"/></g></g>
<rect x="57.3" y="758.8" width="34.2" height="92.6" fill="none" stroke="#3a3a3a" stroke-width="0.9"/>
<rect x="52.3" y="856" width="39.7" height="56.5" fill="none" stroke="#3a3a3a" stroke-width="0.9"/>
<rect x="95.7" y="849.3" width="69.5" height="38.0" fill="none" stroke="#3a3a3a" stroke-width="0.9"/>
<rect x="216" y="758" width="34.8" height="93.5" fill="none" stroke="#3a3a3a" stroke-width="0.9"/>
<rect x="211.5" y="856.2" width="39.5" height="56.1" fill="none" stroke="#3a3a3a" stroke-width="0.9"/>
<rect x="254.8" y="852.4" width="69.4" height="37.4" fill="none" stroke="#3a3a3a" stroke-width="0.9"/>
<text x="0" y="0" font-size="10.20" fill="#1a1a1a" transform="translate(98.9 770.7) scale(0.962 1)">Vδ2-T cells</text>
<text x="0" y="0" font-size="10.20" fill="#1a1a1a" transform="translate(110.6 783.1) scale(0.959 1)">2.7%</text>
<text x="0" y="0" font-size="10.20" fill="#1a1a1a" transform="translate(110.6 833.5) scale(0.976 1)">Vδ2+T cells</text>
<text x="0" y="0" font-size="10.20" fill="#1a1a1a" transform="translate(120.0 847.1) scale(0.987 1)">4.11%</text>
<text x="0" y="0" font-size="10.20" fill="#1a1a1a" transform="translate(252.7 772.2) scale(0.962 1)">Vδ2-T cells</text>
<text x="0" y="0" font-size="10.20" fill="#1a1a1a" transform="translate(260.6 782.6) scale(0.944 1)">1.31%</text>
<text x="0" y="0" font-size="10.20" fill="#1a1a1a" transform="translate(266.3 834.9) scale(0.976 1)">Vδ2+T cells</text>
<text x="0" y="0" font-size="10.20" fill="#1a1a1a" transform="translate(277.5 847.3) scale(0.961 1)">19.2%</text>
<path d="M45.1,761.6H46.6M45.1,765.9H46.6M45.1,770.2H46.6M45.1,774.5H46.6M45.1,778.8H46.6M45.1,783.1H46.6M45.1,787.4H46.6M45.1,791.7H46.6M45.1,796.0H46.6M45.1,800.3H46.6M45.1,804.6H46.6M45.1,808.9H46.6M45.1,813.2H46.6M45.1,817.5H46.6M45.1,821.8H46.6M45.1,826.1H46.6M45.1,830.4H46.6M45.1,834.7H46.6M45.1,839.0H46.6M45.1,843.3H46.6M45.1,847.6H46.6M45.1,851.9H46.6M45.1,856.2H46.6M45.1,860.5H46.6M45.1,864.8H46.6M45.1,869.1H46.6M45.1,873.4H46.6M45.1,877.7H46.6M45.1,882.0H46.6M45.1,886.3H46.6M45.1,890.6H46.6M45.1,894.9H46.6M45.1,899.2H46.6M45.1,903.5H46.6M45.1,907.8H46.6M43.6,795.6H46.6M43.6,855.6H46.6M43.6,871.6H46.6M43.6,889.6H46.6" stroke="#333" stroke-width="0.6" fill="none"/>
<text x="42.1" y="797.4" font-size="4.8" text-anchor="end" fill="#333">10<tspan font-size="3.5" dy="-2">3</tspan></text>
<text x="42.1" y="857.4" font-size="4.8" text-anchor="end" fill="#333">10<tspan font-size="3.5" dy="-2">2</tspan></text>
<text x="42.1" y="873.4" font-size="4.8" text-anchor="end" fill="#333">0</text>
<text x="42.1" y="891.4" font-size="4.8" text-anchor="end" fill="#333">-10<tspan font-size="3.5" dy="-2">2</tspan></text>
<path d="M50.6,914.1V915.6M54.9,914.1V915.6M59.2,914.1V915.6M63.5,914.1V915.6M67.8,914.1V915.6M72.1,914.1V915.6M76.4,914.1V915.6M80.7,914.1V915.6M85.0,914.1V915.6M89.3,914.1V915.6M93.6,914.1V915.6M97.9,914.1V915.6M102.2,914.1V915.6M106.5,914.1V915.6M110.8,914.1V915.6M115.1,914.1V915.6M119.4,914.1V915.6M123.7,914.1V915.6M128.0,914.1V915.6M132.3,914.1V915.6M136.6,914.1V915.6M140.9,914.1V915.6M145.2,914.1V915.6M149.5,914.1V915.6M153.8,914.1V915.6M158.1,914.1V915.6M162.4,914.1V915.6M166.7,914.1V915.6M75.6,914.1V917.1M129.6,914.1V917.1" stroke="#333" stroke-width="0.6" fill="none"/>
<rect x="70.6" y="914.4" width="10" height="2.2" fill="#222" opacity="0.55"/><rect x="74.1" y="914.4" width="3" height="2.6" fill="#111"/>
<text x="75.6" y="925.6" font-size="4.8" text-anchor="middle" fill="#333">0</text>
<text x="129.6" y="925.6" font-size="4.8" text-anchor="middle" fill="#333">10<tspan font-size="3.5" dy="-2">2</tspan></text>
<path d="M204.0,760.8H205.5M204.0,765.1H205.5M204.0,769.4H205.5M204.0,773.7H205.5M204.0,778.0H205.5M204.0,782.3H205.5M204.0,786.6H205.5M204.0,790.9H205.5M204.0,795.2H205.5M204.0,799.5H205.5M204.0,803.8H205.5M204.0,808.1H205.5M204.0,812.4H205.5M204.0,816.7H205.5M204.0,821.0H205.5M204.0,825.3H205.5M204.0,829.6H205.5M204.0,833.9H205.5M204.0,838.2H205.5M204.0,842.5H205.5M204.0,846.8H205.5M204.0,851.1H205.5M204.0,855.4H205.5M204.0,859.7H205.5M204.0,864.0H205.5M204.0,868.3H205.5M204.0,872.6H205.5M204.0,876.9H205.5M204.0,881.2H205.5M204.0,885.5H205.5M204.0,889.8H205.5M204.0,894.1H205.5M204.0,898.4H205.5M204.0,902.7H205.5M204.0,907.0H205.5M204.0,911.3H205.5M202.5,794.8H205.5M202.5,854.8H205.5M202.5,870.8H205.5M202.5,888.8H205.5" stroke="#333" stroke-width="0.6" fill="none"/>
<text x="201.0" y="796.5999999999999" font-size="4.8" text-anchor="end" fill="#333">10<tspan font-size="3.5" dy="-2">3</tspan></text>
<text x="201.0" y="856.5999999999999" font-size="4.8" text-anchor="end" fill="#333">10<tspan font-size="3.5" dy="-2">2</tspan></text>
<text x="201.0" y="872.5999999999999" font-size="4.8" text-anchor="end" fill="#333">0</text>
<text x="201.0" y="890.5999999999999" font-size="4.8" text-anchor="end" fill="#333">-10<tspan font-size="3.5" dy="-2">2</tspan></text>
<path d="M209.5,914V915.5M213.8,914V915.5M218.1,914V915.5M222.4,914V915.5M226.7,914V915.5M231.0,914V915.5M235.3,914V915.5M239.6,914V915.5M243.9,914V915.5M248.2,914V915.5M252.5,914V915.5M256.8,914V915.5M261.1,914V915.5M265.4,914V915.5M269.7,914V915.5M274.0,914V915.5M278.3,914V915.5M282.6,914V915.5M286.9,914V915.5M291.2,914V915.5M295.5,914V915.5M299.8,914V915.5M304.1,914V915.5M308.4,914V915.5M312.7,914V915.5M317.0,914V915.5M321.3,914V915.5M325.6,914V915.5M234.5,914V917M288.5,914V917" stroke="#333" stroke-width="0.6" fill="none"/>
<rect x="229.5" y="914.3" width="10" height="2.2" fill="#222" opacity="0.55"/><rect x="233.0" y="914.3" width="3" height="2.6" fill="#111"/>
<text x="234.5" y="925.5" font-size="4.8" text-anchor="middle" fill="#333">0</text>
<text x="288.5" y="925.5" font-size="4.8" text-anchor="middle" fill="#333">10<tspan font-size="3.5" dy="-2">2</tspan></text>
<line x1="365.2" y1="944.3" x2="365.2" y2="736.2" stroke="#111" stroke-width="1.3"/>
<path d="M365.2,731.2 L370.7,740.7 L365.2,738.0400000000001 L359.7,740.7Z" fill="#111"/>
<line x1="365.2" y1="944.3" x2="670" y2="944.3" stroke="#111" stroke-width="1.3"/>
<path d="M675,944.3 L665,949.8 L667.8,944.3 L665,938.8Z" fill="#111"/>
<text x="358.2" y="915.3" font-size="9.6" text-anchor="middle" fill="#1a1a1a" transform="rotate(-90 358.2 915.3)" textLength="56" lengthAdjust="spacingAndGlyphs">CD161 PE-Cy7</text>
<text x="366.2" y="958.2" font-size="9.8" fill="#1a1a1a" textLength="68.5" lengthAdjust="spacingAndGlyphs">Vα7.2 BV711</text>
<text x="455" y="743.4" font-size="9.8" text-anchor="middle" fill="#1a1a1a">ATB</text>
<text x="602.3" y="745.1" font-size="9.8" text-anchor="middle" fill="#1a1a1a">HC</text>
<rect x="386.5" y="758" width="126.10000000000002" height="157" fill="none" stroke="#3a3a3a" stroke-width="0.9"/>
<rect x="546" y="757.7" width="126.60000000000002" height="157.79999999999995" fill="none" stroke="#3a3a3a" stroke-width="0.9"/>
<path d="M397.0,874.8 397.2,876.8 398.2,878.2 404.8,880.5 421.5,883.2 435.8,884.0 481.5,880.5 485.0,879.8 486.5,877.8 486.5,876.2 485.5,875.2 479.8,872.8 463.5,871.0 449.0,870.5 445.0,869.8 442.2,868.2 440.8,866.5 433.0,851.2 431.8,850.2 429.8,849.8 427.2,849.8 425.5,850.5 410.8,861.8 403.8,866.2 399.5,871.0Z" fill="#1a3a96" fill-rule="evenodd"/>
<clipPath id="d1c"><path d="M397.0,874.8 397.2,876.8 398.2,878.2 404.8,880.5 421.5,883.2 435.8,884.0 481.5,880.5 485.0,879.8 486.5,877.8 486.5,876.2 485.5,875.2 479.8,872.8 463.5,871.0 449.0,870.5 445.0,869.8 442.2,868.2 440.8,866.5 433.0,851.2 431.8,850.2 429.8,849.8 427.2,849.8 425.5,850.5 410.8,861.8 403.8,866.2 399.5,871.0Z" fill-rule="evenodd"/></clipPath>
<g clip-path="url(#d1c)"><g filter="url(#blur6)"><path d="M397.5,875.0 398.5,877.8 405.0,880.2 421.5,883.2 436.0,883.8 452.8,882.0 481.2,880.0 484.8,879.2 486.0,877.5 486.0,876.5 485.2,875.8 479.5,873.2 463.2,871.5 448.8,871.0 444.8,870.2 442.0,868.8 440.2,866.8 432.5,851.5 429.5,850.2 427.5,850.2 425.8,851.0 411.0,862.2 404.0,866.8 400.0,871.2Z" fill="#1d46a5" fill-rule="evenodd"/><path d="M398.2,875.0 398.2,876.2 399.5,877.8 407.2,880.5 425.0,883.2 438.0,883.2 453.0,881.2 471.5,880.2 483.5,879.0 485.2,877.5 484.8,876.2 478.2,873.8 463.5,872.2 449.0,871.8 444.5,870.8 441.8,869.2 439.8,867.2 432.5,852.5 431.5,851.5 429.0,850.8 426.0,851.5 411.5,862.8 404.5,867.2Z" fill="#1f4faf" fill-rule="evenodd"/><path d="M398.8,875.2 400.0,877.2 407.5,880.2 425.0,883.0 437.5,883.0 447.2,881.2 481.0,878.8 484.0,878.2 484.8,877.2 482.0,875.5 477.8,874.2 463.0,872.8 448.5,872.2 444.0,871.2 441.2,869.8 439.8,868.2 432.5,853.8 431.2,852.0 429.2,851.5 426.5,852.0 411.8,863.2 404.8,867.8Z" fill="#2159b9" fill-rule="evenodd"/><path d="M446.8,875.8 444.2,872.5 441.0,870.8 438.2,870.0 436.5,868.8 436.5,863.2 435.5,860.0 434.0,857.5 430.2,854.5 425.2,854.0 421.8,855.8 418.8,859.5 417.5,863.2 417.2,868.0 416.2,868.8 409.5,870.2 405.8,872.0 403.0,874.5 402.5,877.5 405.2,879.2 410.8,880.8 421.8,882.5 431.2,883.0 437.5,882.8 441.5,882.0 444.2,880.5 446.0,878.8 446.8,877.2Z" fill="#2263c3" fill-rule="evenodd"/><path d="M445.8,876.5 445.2,874.8 443.2,872.8 436.8,870.0 435.5,869.0 435.5,863.5 434.0,859.5 431.2,856.5 428.5,855.2 424.0,855.8 420.5,858.8 418.8,862.5 418.5,868.0 418.0,868.8 413.0,869.8 408.0,871.5 405.2,873.2 403.5,876.0 404.0,878.2 409.2,880.2 421.5,882.2 430.8,882.8 440.0,882.0 443.2,880.2 445.2,878.2Z" fill="#2473cc" fill-rule="evenodd"/><path d="M444.8,875.8 443.8,874.0 441.5,872.2 436.0,870.2 434.0,869.0 433.8,863.8 432.8,861.0 430.2,858.2 426.8,857.2 423.8,858.2 421.2,861.0 420.2,863.8 420.2,867.8 419.8,868.5 418.2,869.2 412.8,870.2 407.2,872.5 404.8,875.0 404.5,877.2 405.5,878.8 417.0,881.5 422.0,882.2 433.8,882.5 438.0,882.2 441.5,880.8 444.2,878.2Z" fill="#2687d4" fill-rule="evenodd"/><path d="M405.2,876.5 406.0,878.5 408.2,879.5 425.2,882.2 436.8,882.2 441.2,880.2 443.8,877.5 443.5,875.0 441.2,872.8 434.5,870.0 429.0,869.0 421.0,869.0 412.5,870.8 407.2,873.2 406.0,874.5Z" fill="#279adc" fill-rule="evenodd"/><path d="M406.5,875.8 406.8,878.0 408.0,879.2 423.8,882.0 435.8,882.0 440.8,879.8 442.8,877.2 442.2,874.8 440.0,872.8 434.2,870.5 428.0,869.5 421.5,869.5 414.2,870.8 409.2,872.8Z" fill="#2eade4" fill-rule="evenodd"/><path d="M408.0,875.8 408.5,878.2 410.0,879.5 425.2,882.0 434.5,881.8 439.0,880.0 441.2,877.5 441.0,875.2 439.0,873.2 434.2,871.2 429.0,870.2 420.5,870.2 415.0,871.2 410.2,873.2Z" fill="#35bfed" fill-rule="evenodd"/><path d="M411.2,877.2 411.8,878.5 414.2,880.2 426.0,882.0 434.5,881.2 437.8,880.0 439.8,878.2 439.5,876.2 437.8,874.8 431.5,872.2 426.5,871.5 421.0,871.8 415.2,873.2 412.8,874.8Z" fill="#45c3d0" fill-rule="evenodd"/><path d="M413.0,877.0 413.0,878.2 415.0,880.0 424.8,881.8 431.0,881.8 437.2,879.8 439.0,878.0 438.8,876.8 436.0,874.8 428.2,873.2 418.5,874.0 414.0,875.8Z" fill="#57c4ac" fill-rule="evenodd"/><path d="M414.0,877.0 414.0,878.2 416.2,880.0 420.8,881.2 425.2,881.8 430.5,881.8 436.2,879.8 438.0,878.0 438.0,877.0 436.8,875.8 433.8,874.5 429.8,873.8 422.2,873.8 419.2,874.2 415.2,875.8Z" fill="#61c072" fill-rule="evenodd"/><path d="M415.2,877.2 415.5,878.2 418.0,880.0 425.5,881.8 429.8,881.8 432.8,881.0 435.0,879.8 436.8,877.8 436.2,876.5 434.8,875.5 431.5,874.5 426.5,874.0 419.5,874.8 416.8,875.8Z" fill="#6ebe43" fill-rule="evenodd"/><path d="M420.0,878.0 420.2,879.2 421.8,880.5 426.8,881.8 433.0,880.8 434.2,880.0 435.2,878.5 435.0,877.2 434.0,876.2 428.8,874.8 424.8,875.0 421.0,876.5Z" fill="#86c638" fill-rule="evenodd"/><path d="M420.5,878.0 420.8,879.2 421.8,880.2 425.5,881.5 431.0,881.2 433.5,880.2 434.8,879.0 434.8,877.5 433.5,876.2 429.5,875.0 424.5,875.2 421.2,876.8Z" fill="#9fcd2e" fill-rule="evenodd"/><path d="M421.0,877.5 421.0,879.0 422.2,880.2 427.0,881.5 432.8,880.5 434.5,878.8 434.5,877.8 433.8,876.8 430.0,875.2 424.2,875.5Z" fill="#c0d521" fill-rule="evenodd"/><path d="M421.2,878.0 421.5,879.2 422.8,880.2 426.2,881.2 431.5,880.8 434.0,879.0 434.0,877.5 432.5,876.2 428.0,875.2 423.5,876.0Z" fill="#e4dd14" fill-rule="evenodd"/><path d="M422.0,877.8 422.0,879.0 422.8,879.8 426.5,881.0 431.2,880.5 433.5,878.8 433.5,877.8 432.5,876.8 430.0,875.8 425.5,875.8 423.2,876.5Z" fill="#f1c511" fill-rule="evenodd"/><path d="M423.8,877.8 424.2,879.5 426.5,880.2 430.0,880.0 431.8,878.8 431.0,877.2 428.8,876.5 425.5,876.8Z" fill="#f39c12" fill-rule="evenodd"/><path d="M424.0,878.2 424.5,879.2 426.2,880.0 429.0,880.0 431.2,878.8 430.5,877.2 428.8,876.8 425.5,877.0Z" fill="#ef6913" fill-rule="evenodd"/><path d="M424.2,878.5 425.2,879.5 428.2,880.0 430.5,879.2 431.0,878.0 429.2,877.0 426.0,877.0Z" fill="#e93014" fill-rule="evenodd"/></g></g>
<path d="M472.8,843.2 471.8,842.2 469.8,841.8 465.8,842.0 458.5,845.8 457.5,847.8 457.8,849.0 458.8,850.5 461.0,851.8 469.0,850.8 472.8,848.0 473.2,847.0Z" fill="#1a3a96" fill-rule="evenodd"/>
<clipPath id="d1mc"><path d="M472.8,843.2 471.8,842.2 469.8,841.8 465.8,842.0 458.5,845.8 457.5,847.8 457.8,849.0 458.8,850.5 461.0,851.8 469.0,850.8 472.8,848.0 473.2,847.0Z" fill-rule="evenodd"/></clipPath>
<g clip-path="url(#d1mc)"><g filter="url(#blur6)"><path d="M472.2,844.0 471.0,842.8 466.5,842.5 459.0,846.2 458.2,848.2 458.8,849.5 461.0,851.0 468.2,850.2 472.2,847.5Z" fill="#1d46a5" fill-rule="evenodd"/><path d="M471.5,844.0 469.8,843.2 466.5,843.2 459.2,847.0 459.0,848.2 459.5,849.2 461.0,850.2 468.2,849.5 471.5,847.2Z" fill="#1f4faf" fill-rule="evenodd"/></g></g>
<path d="M647.8,877.5 644.5,873.5 637.2,870.8 635.2,869.2 635.2,867.8 638.5,861.0 639.8,849.8 637.0,845.5 634.5,843.5 624.8,847.5 623.5,849.2 622.0,854.0 621.8,856.8 624.8,865.2 625.0,867.5 623.2,869.2 614.2,871.0 605.2,870.2 603.8,869.5 600.0,865.8 595.5,857.0 593.5,854.8 588.8,851.5 586.2,851.5 581.8,853.0 575.5,857.8 573.5,859.8 568.0,869.0 561.2,873.8 560.0,875.2 560.8,879.8 561.2,880.8 563.0,882.0 574.2,884.8 587.5,885.5 642.8,881.8 646.2,880.5 647.8,879.0Z" fill="#1a3a96" fill-rule="evenodd"/>
<clipPath id="d2c"><path d="M647.8,877.5 644.5,873.5 637.2,870.8 635.2,869.2 635.2,867.8 638.5,861.0 639.8,849.8 637.0,845.5 634.5,843.5 624.8,847.5 623.5,849.2 622.0,854.0 621.8,856.8 624.8,865.2 625.0,867.5 623.2,869.2 614.2,871.0 605.2,870.2 603.8,869.5 600.0,865.8 595.5,857.0 593.5,854.8 588.8,851.5 586.2,851.5 581.8,853.0 575.5,857.8 573.5,859.8 568.0,869.0 561.2,873.8 560.0,875.2 560.8,879.8 561.2,880.8 563.0,882.0 574.2,884.8 587.5,885.5 642.8,881.8 646.2,880.5 647.8,879.0Z" fill-rule="evenodd"/></clipPath>
<g clip-path="url(#d2c)"><g filter="url(#blur6)"><path d="M647.2,877.8 644.2,874.0 637.0,871.2 634.8,869.5 634.8,867.5 637.8,861.8 639.2,851.8 638.8,848.8 635.0,844.2 633.5,844.2 625.0,848.0 624.0,849.5 622.2,856.5 625.2,865.0 625.5,867.8 623.5,869.8 614.5,871.5 605.0,870.8 603.5,870.0 599.5,866.0 594.5,856.5 590.0,852.8 588.5,852.0 586.5,852.0 582.0,853.5 575.8,858.2 573.5,860.8 568.5,869.2 561.5,874.2 560.5,875.5 561.8,880.5 563.2,881.5 574.5,884.5 587.8,885.2 593.8,885.0 604.8,883.5 623.5,882.8 642.5,881.2 646.0,880.0 647.2,878.8Z" fill="#1d46a5" fill-rule="evenodd"/><path d="M646.5,877.8 643.8,874.5 636.5,871.8 634.2,870.0 634.0,867.8 637.2,861.0 638.5,852.0 638.2,849.2 634.5,844.8 625.5,848.5 624.5,850.0 623.2,854.0 623.0,856.8 626.0,865.2 626.2,867.5 625.8,868.8 624.0,870.2 614.2,872.2 604.8,871.2 602.2,869.8 599.0,866.2 594.2,857.0 589.8,853.2 588.2,852.5 586.8,852.5 582.2,854.0 576.2,858.8 574.0,861.2 569.8,868.8 567.5,871.0 561.8,874.8 561.0,875.8 562.2,880.2 566.2,882.0 574.8,884.2 587.8,885.0 609.0,882.5 623.8,882.0 642.8,880.5 645.5,879.5 646.5,878.5Z" fill="#1f4faf" fill-rule="evenodd"/><path d="M646.0,878.0 643.5,875.0 635.2,871.8 633.5,869.8 633.5,867.2 636.8,860.5 638.0,851.5 637.8,849.5 634.5,845.5 627.8,848.0 625.2,849.8 623.5,856.2 626.5,864.8 626.8,868.0 626.2,869.0 623.8,871.0 614.8,872.8 604.2,871.8 602.8,871.0 598.8,867.0 593.8,857.0 589.0,853.5 586.5,853.2 582.8,854.5 576.5,859.2 574.5,861.5 569.5,870.0 564.2,873.5 561.5,876.0 562.8,880.0 567.2,882.0 574.8,884.0 588.0,884.8 596.2,884.0 604.8,882.2 623.2,881.5 642.2,880.0 645.2,879.0Z" fill="#2159b9" fill-rule="evenodd"/><path d="M606.8,876.5 604.5,873.5 597.5,870.0 597.5,865.2 593.2,857.0 589.8,855.0 586.2,855.0 582.8,856.8 579.8,860.5 578.5,864.2 578.2,868.8 577.8,869.2 573.2,870.0 567.8,871.8 563.0,875.2 562.5,878.2 563.8,880.2 573.2,883.5 590.8,884.5 602.0,882.5 604.2,881.2 606.2,879.2Z" fill="#2263c3" fill-rule="evenodd"/><path d="M605.8,877.2 605.0,875.2 603.2,873.5 596.5,870.2 596.5,864.5 595.8,862.0 594.5,859.8 592.2,857.5 589.5,856.2 585.0,856.8 581.5,859.8 579.8,863.5 579.5,868.8 578.8,869.5 569.2,871.8 566.0,873.5 564.0,875.5 563.5,876.8 564.2,879.5 566.8,881.2 573.2,883.2 582.8,884.2 590.8,884.2 600.0,882.8 604.0,880.5 605.2,879.0Z" fill="#2473cc" fill-rule="evenodd"/><path d="M604.8,876.5 602.2,873.5 596.2,871.0 595.0,870.0 594.8,864.8 593.8,862.0 591.2,859.2 587.8,858.2 584.8,859.2 582.8,861.2 581.2,864.8 581.2,868.0 580.2,869.5 572.0,871.2 567.8,873.0 564.8,875.8 564.5,878.2 566.5,880.8 573.2,883.0 577.8,883.8 591.0,884.0 598.2,883.0 602.0,881.2 604.5,878.8Z" fill="#2687d4" fill-rule="evenodd"/><path d="M565.2,877.2 565.5,878.5 567.5,880.8 572.8,882.8 577.5,883.5 588.2,884.0 596.0,883.2 598.2,882.5 602.0,880.5 603.8,878.2 603.5,875.8 600.8,873.2 593.8,870.5 588.5,869.8 581.8,869.8 573.5,871.2 568.0,873.5 566.0,875.2Z" fill="#279adc" fill-rule="evenodd"/><path d="M566.5,876.5 566.5,878.2 567.2,879.5 571.8,882.2 577.0,883.2 587.8,883.8 593.0,883.5 597.5,882.2 600.5,880.8 602.8,878.0 602.2,875.5 599.0,873.0 594.2,871.2 587.2,870.2 582.2,870.2 573.5,871.8 568.5,874.0Z" fill="#2eade4" fill-rule="evenodd"/><path d="M568.0,876.5 568.5,879.0 572.0,881.5 577.0,883.0 583.0,883.5 589.0,883.5 595.5,882.2 599.8,880.2 601.2,878.2 601.0,876.0 598.5,873.8 594.2,872.0 588.8,871.0 581.0,871.0 575.2,872.0 570.2,874.0Z" fill="#35bfed" fill-rule="evenodd"/><path d="M571.2,878.0 571.8,879.2 574.0,881.0 577.8,882.2 583.0,883.0 589.2,883.0 593.8,882.2 598.2,880.5 599.8,879.0 599.5,877.0 598.0,875.8 593.8,873.8 588.5,872.5 581.5,872.5 577.8,873.2 573.5,875.0 572.2,876.0Z" fill="#45c3d0" fill-rule="evenodd"/><path d="M573.0,877.8 573.2,879.5 575.5,881.0 580.0,882.2 584.5,882.8 592.5,882.2 597.8,880.2 599.0,878.8 598.8,877.5 596.5,875.8 592.0,874.5 587.2,874.0 581.5,874.2 576.8,875.2 574.5,876.2Z" fill="#57c4ac" fill-rule="evenodd"/><path d="M574.0,877.8 574.5,879.8 576.8,881.0 586.5,882.8 591.8,882.2 596.8,880.2 598.0,879.0 598.0,877.8 596.8,876.5 594.5,875.5 589.5,874.5 579.5,875.0 576.8,875.8Z" fill="#61c072" fill-rule="evenodd"/><path d="M575.2,878.2 575.8,879.5 577.2,880.5 585.2,882.5 592.2,882.0 594.8,880.8 596.8,878.5 595.5,876.8 594.0,876.0 589.5,875.0 582.5,875.0 579.8,875.5 576.5,876.8Z" fill="#6ebe43" fill-rule="evenodd"/><path d="M580.0,878.8 580.2,880.0 581.2,881.0 586.2,882.5 591.8,882.0 594.0,881.0 595.2,879.5 594.8,877.8 593.5,876.8 587.8,875.5 583.0,876.2 580.8,877.5Z" fill="#86c638" fill-rule="evenodd"/><path d="M580.5,878.8 580.8,880.0 581.8,881.0 585.2,882.2 591.2,882.0 593.2,881.2 594.8,879.8 594.8,878.5 593.8,877.2 589.0,875.8 583.0,876.5Z" fill="#9fcd2e" fill-rule="evenodd"/><path d="M581.0,878.5 581.0,879.8 581.8,880.8 586.2,882.2 591.5,881.8 593.2,881.0 594.5,879.5 594.5,878.5 593.2,877.2 589.8,876.0 584.5,876.2 582.5,877.0Z" fill="#c0d521" fill-rule="evenodd"/><path d="M581.2,878.8 582.2,880.8 585.8,882.0 590.8,881.8 592.8,881.0 594.0,879.8 594.0,878.5 593.2,877.5 590.0,876.2 584.5,876.5 582.5,877.2Z" fill="#e4dd14" fill-rule="evenodd"/><path d="M582.0,878.5 582.0,879.8 583.0,880.8 586.0,881.8 590.5,881.5 592.0,881.0 593.5,879.5 592.5,877.5 589.8,876.5 584.8,876.8Z" fill="#f1c511" fill-rule="evenodd"/><path d="M583.8,878.8 584.2,880.2 586.2,881.0 589.2,881.0 591.8,879.5 591.0,878.0 588.2,877.2 585.8,877.5Z" fill="#f39c12" fill-rule="evenodd"/><path d="M584.0,879.0 584.8,880.2 586.0,880.8 589.2,880.8 591.2,879.8 590.8,878.2 588.5,877.5 585.8,877.8Z" fill="#ef6913" fill-rule="evenodd"/><path d="M584.2,879.2 585.8,880.5 588.5,880.8 590.2,880.2 591.0,878.8 589.2,877.8 586.2,877.8 585.0,878.2Z" fill="#e93014" fill-rule="evenodd"/></g></g>
<path d="M445.6,865.4 V793.2 H500.2 V865.4 Z" fill="none" stroke="#3a3a3a" stroke-width="0.9"/>
<path d="M396,825.5 H443.8 V865.4 L503.4,867.6 V904 L395.4,902.2 Z" fill="none" stroke="#3a3a3a" stroke-width="0.9"/>
<path d="M605.6,865.4 V793.2 H659.7 V865.4 Z" fill="none" stroke="#3a3a3a" stroke-width="0.9"/>
<path d="M555.4,825.5 H603.6 V865.4 L663.4,867.6 V904 L554.8,902.2 Z" fill="none" stroke="#3a3a3a" stroke-width="0.9"/>
<text x="0" y="0" font-size="10.20" fill="#1a1a1a" transform="translate(470.4 776.6) scale(0.948 1)">MAIT</text>
<text x="0" y="0" font-size="10.20" fill="#1a1a1a" transform="translate(471.0 788.7) scale(0.947 1)">1.29%</text>
<text x="0" y="0" font-size="10.20" fill="#1a1a1a" transform="translate(625.4 776.6) scale(0.969 1)">MAIT</text>
<text x="0" y="0" font-size="10.20" fill="#1a1a1a" transform="translate(625.4 788.7) scale(0.944 1)">1.61%</text>
<path d="M385.0,762.0H386.5M385.0,766.3H386.5M385.0,770.6H386.5M385.0,774.9H386.5M385.0,779.2H386.5M385.0,783.5H386.5M385.0,787.8H386.5M385.0,792.1H386.5M385.0,796.4H386.5M385.0,800.7H386.5M385.0,805.0H386.5M385.0,809.3H386.5M385.0,813.6H386.5M385.0,817.9H386.5M385.0,822.2H386.5M385.0,826.5H386.5M385.0,830.8H386.5M385.0,835.1H386.5M385.0,839.4H386.5M385.0,843.7H386.5M385.0,848.0H386.5M385.0,852.3H386.5M385.0,856.6H386.5M385.0,860.9H386.5M385.0,865.2H386.5M385.0,869.5H386.5M385.0,873.8H386.5M385.0,878.1H386.5M385.0,882.4H386.5M385.0,886.7H386.5M385.0,891.0H386.5M385.0,895.3H386.5M385.0,899.6H386.5M385.0,903.9H386.5M385.0,908.2H386.5M385.0,912.5H386.5M383.5,772.6H386.5M383.5,810.6H386.5M383.5,853.5H386.5M383.5,878.8H386.5M383.5,905.0H386.5" stroke="#333" stroke-width="0.6" fill="none"/>
<text x="382.0" y="774.4" font-size="4.8" text-anchor="end" fill="#333">10<tspan font-size="3.5" dy="-2">5</tspan></text>
<text x="382.0" y="812.4" font-size="4.8" text-anchor="end" fill="#333">10<tspan font-size="3.5" dy="-2">4</tspan></text>
<text x="382.0" y="855.3" font-size="4.8" text-anchor="end" fill="#333">10<tspan font-size="3.5" dy="-2">3</tspan></text>
<text x="382.0" y="880.5999999999999" font-size="4.8" text-anchor="end" fill="#333">0</text>
<text x="382.0" y="906.8" font-size="4.8" text-anchor="end" fill="#333">-10<tspan font-size="3.5" dy="-2">3</tspan></text>
<path d="M390.5,915V916.5M394.8,915V916.5M399.1,915V916.5M403.4,915V916.5M407.7,915V916.5M412.0,915V916.5M416.3,915V916.5M420.6,915V916.5M424.9,915V916.5M429.2,915V916.5M433.5,915V916.5M437.8,915V916.5M442.1,915V916.5M446.4,915V916.5M450.7,915V916.5M455.0,915V916.5M459.3,915V916.5M463.6,915V916.5M467.9,915V916.5M472.2,915V916.5M476.5,915V916.5M480.8,915V916.5M485.1,915V916.5M489.4,915V916.5M493.7,915V916.5M498.0,915V916.5M502.3,915V916.5M506.6,915V916.5M394.7,915V918M429.4,915V918M464.2,915V918" stroke="#333" stroke-width="0.6" fill="none"/>
<rect x="424.4" y="915.3" width="10" height="2.2" fill="#222" opacity="0.55"/><rect x="427.9" y="915.3" width="3" height="2.6" fill="#111"/>
<text x="394.7" y="926.5" font-size="4.8" text-anchor="middle" fill="#333">-10<tspan font-size="3.5" dy="-2">3</tspan></text>
<text x="429.4" y="926.5" font-size="4.8" text-anchor="middle" fill="#333">0</text>
<text x="464.2" y="926.5" font-size="4.8" text-anchor="middle" fill="#333">10<tspan font-size="3.5" dy="-2">3</tspan></text>
<path d="M544.5,761.7H546M544.5,766.0H546M544.5,770.3H546M544.5,774.6H546M544.5,778.9H546M544.5,783.2H546M544.5,787.5H546M544.5,791.8H546M544.5,796.1H546M544.5,800.4H546M544.5,804.7H546M544.5,809.0H546M544.5,813.3H546M544.5,817.6H546M544.5,821.9H546M544.5,826.2H546M544.5,830.5H546M544.5,834.8H546M544.5,839.1H546M544.5,843.4H546M544.5,847.7H546M544.5,852.0H546M544.5,856.3H546M544.5,860.6H546M544.5,864.9H546M544.5,869.2H546M544.5,873.5H546M544.5,877.8H546M544.5,882.1H546M544.5,886.4H546M544.5,890.7H546M544.5,895.0H546M544.5,899.3H546M544.5,903.6H546M544.5,907.9H546M544.5,912.2H546M543,772.3H546M543,810.3H546M543,853.2H546M543,878.5H546M543,904.7H546" stroke="#333" stroke-width="0.6" fill="none"/>
<text x="541.5" y="774.1" font-size="4.8" text-anchor="end" fill="#333">10<tspan font-size="3.5" dy="-2">5</tspan></text>
<text x="541.5" y="812.1" font-size="4.8" text-anchor="end" fill="#333">10<tspan font-size="3.5" dy="-2">4</tspan></text>
<text x="541.5" y="855.0" font-size="4.8" text-anchor="end" fill="#333">10<tspan font-size="3.5" dy="-2">3</tspan></text>
<text x="541.5" y="880.3" font-size="4.8" text-anchor="end" fill="#333">0</text>
<text x="541.5" y="906.5" font-size="4.8" text-anchor="end" fill="#333">-10<tspan font-size="3.5" dy="-2">3</tspan></text>
<path d="M550.0,915.5V917.0M554.3,915.5V917.0M558.6,915.5V917.0M562.9,915.5V917.0M567.2,915.5V917.0M571.5,915.5V917.0M575.8,915.5V917.0M580.1,915.5V917.0M584.4,915.5V917.0M588.7,915.5V917.0M593.0,915.5V917.0M597.3,915.5V917.0M601.6,915.5V917.0M605.9,915.5V917.0M610.2,915.5V917.0M614.5,915.5V917.0M618.8,915.5V917.0M623.1,915.5V917.0M627.4,915.5V917.0M631.7,915.5V917.0M636.0,915.5V917.0M640.3,915.5V917.0M644.6,915.5V917.0M648.9,915.5V917.0M653.2,915.5V917.0M657.5,915.5V917.0M661.8,915.5V917.0M666.1,915.5V917.0M670.4,915.5V917.0M554.2,915.5V918.5M588.9,915.5V918.5M623.7,915.5V918.5" stroke="#333" stroke-width="0.6" fill="none"/>
<rect x="583.9" y="915.8" width="10" height="2.2" fill="#222" opacity="0.55"/><rect x="587.4" y="915.8" width="3" height="2.6" fill="#111"/>
<text x="554.2" y="927.0" font-size="4.8" text-anchor="middle" fill="#333">-10<tspan font-size="3.5" dy="-2">3</tspan></text>
<text x="588.9" y="927.0" font-size="4.8" text-anchor="middle" fill="#333">0</text>
<text x="623.7" y="927.0" font-size="4.8" text-anchor="middle" fill="#333">10<tspan font-size="3.5" dy="-2">3</tspan></text>
</svg></body></html>
